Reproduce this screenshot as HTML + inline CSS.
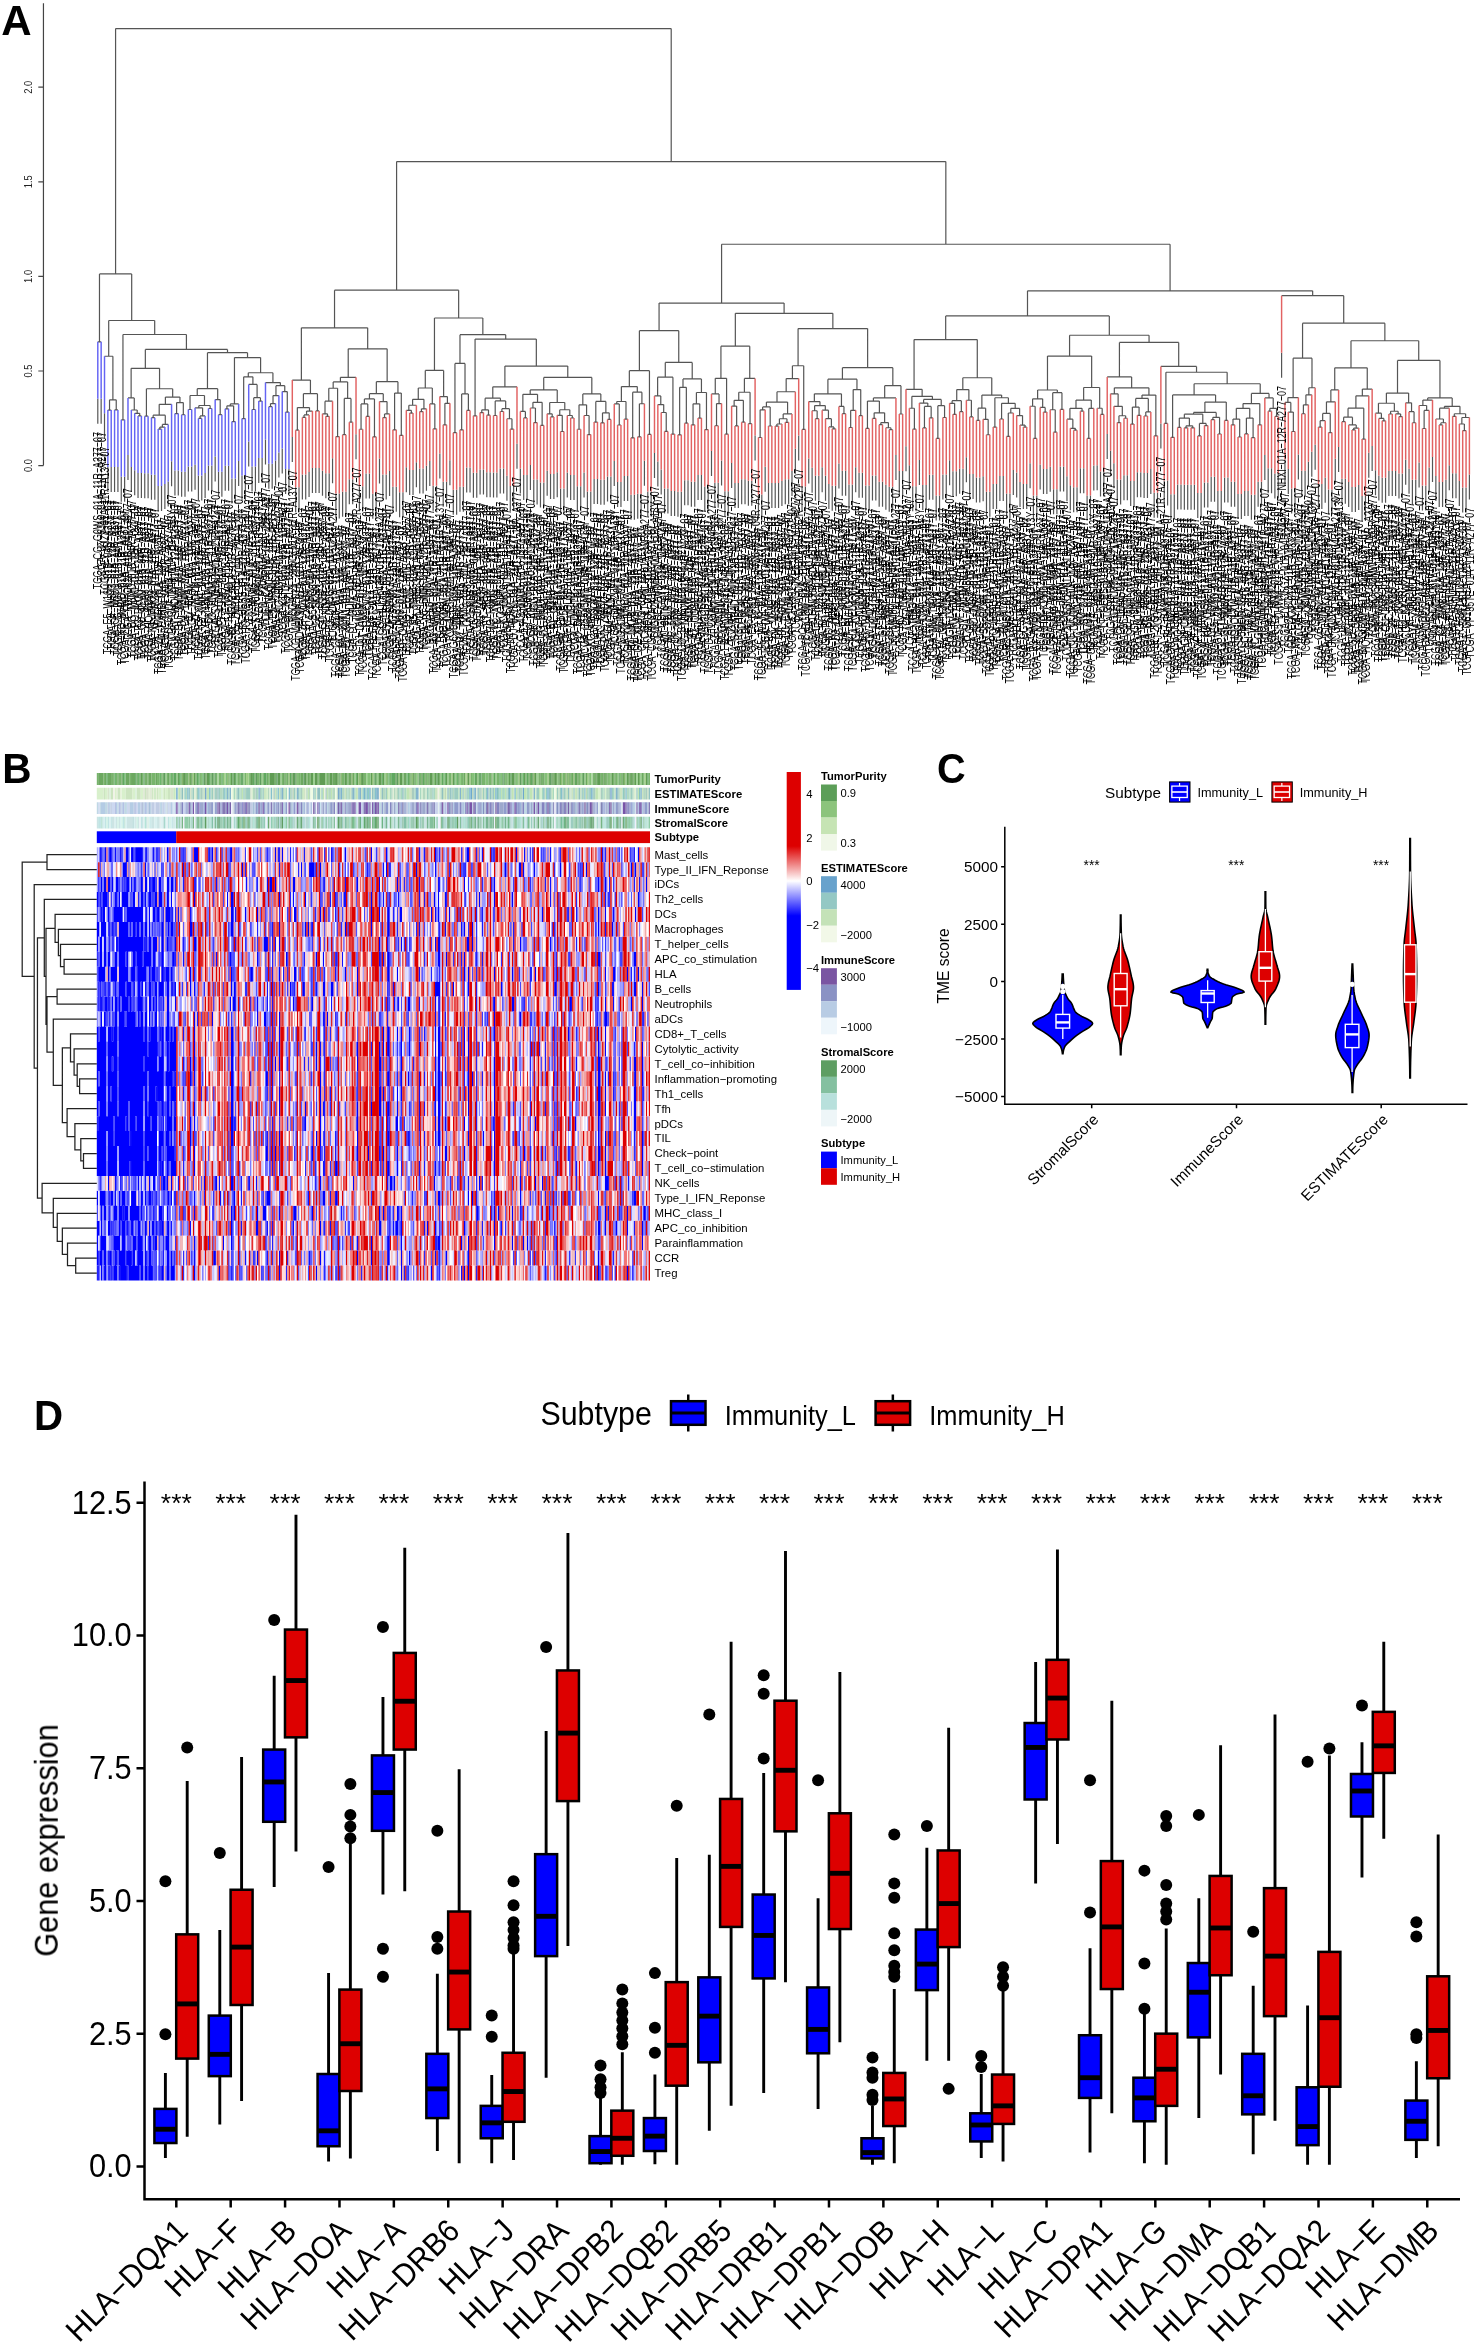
<!DOCTYPE html>
<html><head><meta charset="utf-8"><style>
html,body{margin:0;padding:0;background:#fff;}
svg{display:block;font-family:"Liberation Sans",sans-serif;}
</style></head><body>
<svg width="1474" height="2345" viewBox="0 0 1474 2345"><defs><filter id="gs" x="0" y="0" width="1" height="1" color-interpolation-filters="sRGB"><feColorMatrix type="matrix" values="1 0 0 0 0 0 1 0 0 0 0 0 1 0 0 0 0 0 1 0"/></filter></defs>
<g filter="url(#gs)"><g stroke="#444" stroke-width="1.2" fill="none"><path d="M43.45 3.3V465.6M38.3 465.6H43.45M38.3 371H43.45M38.3 276.4H43.45M38.3 181.8H43.45M38.3 87.2H43.45"/></g>
<g fill="#222">
<text transform="translate(31.8 465.6) rotate(-90) scale(0.9 1)" font-size="10.4" text-anchor="middle">0.0</text>
<text transform="translate(31.8 371) rotate(-90) scale(0.9 1)" font-size="10.4" text-anchor="middle">0.5</text>
<text transform="translate(31.8 276.4) rotate(-90) scale(0.9 1)" font-size="10.4" text-anchor="middle">1.0</text>
<text transform="translate(31.8 181.8) rotate(-90) scale(0.9 1)" font-size="10.4" text-anchor="middle">1.5</text>
<text transform="translate(31.8 87.2) rotate(-90) scale(0.9 1)" font-size="10.4" text-anchor="middle">2.0</text>
</g>
<path d="M97.8 341.86H101.15M107.86 410.12H111.21M114.57 409.97H117.92M109.54 399.81H116.24M109.54 399.81V410.12M116.24 399.81V409.97M104.51 356.24H112.89M112.89 356.24V399.81M121.27 419.78H124.63M138.04 415.96H141.4M134.69 413.35H139.72M139.72 413.35V415.96M131.34 409.99H137.2M137.2 409.99V413.35M127.98 397.92H134.27M134.27 397.92V409.99M144.75 416.21H148.1M151.46 417.67H154.81M158.16 429.03H161.52M159.84 427.11H164.87M159.84 427.11V429.03M162.36 424.44H168.22M162.36 424.44V427.11M153.13 415.15H165.29M153.13 415.15V417.67M165.29 415.15V424.44M159.21 404.33H171.58M159.21 404.33V415.15M174.93 413.6H178.29M181.64 414.73H184.99M176.61 402.57H183.32M176.61 402.57V413.6M183.32 402.57V414.73M165.39 397.11H179.96M165.39 397.11V404.33M179.96 397.11V402.57M146.43 388.77H172.68M146.43 388.77V416.21M172.68 388.77V397.11M131.13 368.35H159.55M131.13 368.35V397.92M159.55 368.35V388.77M188.35 409.49H191.7M198.41 418.43H201.76M200.08 415.94H205.11M200.08 415.94V418.43M195.05 407.83H202.6M202.6 407.83V415.94M208.47 408.51H211.82M198.83 405.51H210.14M198.83 405.51V407.83M210.14 405.51V408.51M190.02 395.48H204.48M190.02 395.48V409.49M204.48 395.48V405.51M218.53 414.65H221.88M215.17 399.56H220.2M220.2 399.56V414.65M197.25 388.67H217.69M197.25 388.67V395.48M217.69 388.67V399.56M225.23 408.78H228.59M231.94 421.59H235.3M226.91 405.79H233.62M226.91 405.79V408.78M233.62 405.79V421.59M230.27 403.91H238.65M230.27 403.91V405.79M242 418.61H245.36M252.06 409.51H255.42M258.77 401.11H262.12M253.74 397.72H260.45M253.74 397.72V409.51M260.45 397.72V401.11M248.71 384.4H257.09M257.09 384.4V397.72M243.68 376.82H252.9M243.68 376.82V418.61M252.9 376.82V384.4M268.83 406.7H272.18M270.51 403.6H275.54M270.51 403.6V406.7M273.02 395.61H278.89M273.02 395.61V403.6M285.6 412.06H288.95M282.24 391.57H287.28M287.28 391.57V412.06M275.96 385.67H284.76M275.96 385.67V395.61M284.76 385.67V391.57M265.48 382.55H280.36M280.36 382.55V385.67M248.29 372.77H272.92M248.29 372.77V376.82M272.92 372.77V382.55M234.46 357.57H260.6M234.46 357.57V403.91M260.6 357.57V372.77M207.47 352.65H247.53M207.47 352.65V388.67M247.53 352.65V357.57M145.34 349.43H227.5M145.34 349.43V368.35M227.5 349.43V352.65M122.95 334.48H186.42M122.95 334.48V419.78M186.42 334.48V349.43M108.7 320.48H154.69M108.7 320.48V356.24M154.69 320.48V334.48M99.48 273.94H131.69M99.48 273.94V341.86M131.69 273.94V320.48M295.66 430.19H299.01M302.37 417.43H305.72M304.04 414.9H309.07M304.04 414.9V417.43M306.56 411.04H312.43M306.56 411.04V414.9M297.34 407.56H309.49M297.34 407.56V430.19M309.49 407.56V411.04M315.78 410.94H319.13M303.41 393.63H317.46M303.41 393.63V407.56M317.46 393.63V410.94M292.31 380.04H310.44M310.44 380.04V393.63M325.84 416.37H329.19M322.49 413.78H327.52M327.52 413.78V416.37M325 401.2H332.55M325 401.2V413.78M335.9 436.56H339.26M328.78 388.24H337.58M328.78 388.24V401.2M337.58 388.24V436.56M342.61 434.69H345.96M349.32 422.22H352.67M344.29 398.47H350.99M344.29 398.47V434.69M350.99 398.47V422.22M333.18 381.92H347.64M333.18 381.92V388.24M347.64 381.92V398.47M340.41 377.31H356.02M340.41 377.31V381.92M359.38 429.27H362.73M366.08 416.44H369.44M361.05 403.97H367.76M361.05 403.97V429.27M367.76 403.97V416.44M372.79 436.8H376.14M364.41 398.93H374.47M364.41 398.93V403.97M374.47 398.93V436.8M382.85 417.56H386.2M384.53 413.92H389.56M384.53 413.92V417.56M379.5 401.54H387.04M387.04 401.54V413.92M369.44 393.7H383.27M369.44 393.7V398.93M383.27 393.7V401.54M392.91 429.78H396.27M399.62 435.33H402.97M394.59 393.04H401.3M394.59 393.04V429.78M401.3 393.04V435.33M376.35 381.64H397.94M376.35 381.64V393.7M397.94 381.64V393.04M348.22 348.86H387.15M348.22 348.86V377.31M387.15 348.86V381.64M301.37 327.86H367.68M301.37 327.86V380.04M367.68 327.86V348.86M409.68 413.12H413.03M406.33 410.36H411.36M411.36 410.36V413.12M408.84 405.25H416.39M408.84 405.25V410.36M419.74 411.62H423.09M421.42 408.78H426.45M421.42 408.78V411.62M412.61 399.35H423.93M412.61 399.35V405.25M423.93 399.35V408.78M433.15 428.86H436.51M429.8 403.94H434.83M434.83 403.94V428.86M418.27 388.02H432.32M418.27 388.02V399.35M432.32 388.02V403.94M443.22 424.86H446.57M444.89 403.35H449.92M444.89 403.35V424.86M439.86 396.59H447.41M447.41 396.59V403.35M425.29 370.38H443.63M425.29 370.38V388.02M443.63 370.38V396.59M453.28 432.71H456.63M459.98 429.81H463.34M466.69 410.44H470.04M461.66 393.96H468.37M461.66 393.96V429.81M468.37 393.96V410.44M454.95 363.43H465.01M454.95 363.43V432.71M465.01 363.43V393.96M473.4 415.78H476.75M480.1 412.58H483.46M486.81 415.22H490.16M481.78 409.79H488.49M481.78 409.79V412.58M488.49 409.79V415.22M493.52 415.49H496.87M500.23 411.48H503.58M510.29 429.11H513.64M506.93 418.75H511.96M511.96 418.75V429.11M501.9 408.64H509.45M501.9 408.64V411.48M509.45 408.64V418.75M495.2 400.95H505.67M495.2 400.95V415.49M505.67 400.95V408.64M485.13 398.22H500.44M485.13 398.22V409.79M500.44 398.22V400.95M492.78 386.78H516.99M492.78 386.78V398.22M523.7 417.94H527.05M520.35 411.42H525.38M525.38 411.42V417.94M533.76 422.59H537.11M530.41 408.01H535.44M535.44 408.01V422.59M540.47 425.44H543.82M532.92 402.34H542.14M532.92 402.34V408.01M542.14 402.34V425.44M522.86 394.28H537.53M522.86 394.28V411.42M537.53 394.28V402.34M550.53 416.97H553.88M547.18 413.87H552.21M552.21 413.87V416.97M560.59 431.52H563.94M557.24 415.3H562.27M562.27 415.3V431.52M570.65 417.99H574M567.3 415.48H572.33M572.33 415.48V417.99M559.75 409.77H569.81M559.75 409.77V415.3M569.81 409.77V415.48M549.69 402.5H564.78M549.69 402.5V413.87M564.78 402.5V409.77M530.2 389.93H557.24M530.2 389.93V394.28M557.24 389.93V402.5M577.36 429.24H580.71M587.42 434.62H590.77M584.06 415.48H589.09M589.09 415.48V434.62M579.03 404.86H586.58M579.03 404.86V429.24M586.58 404.86V415.48M594.12 422.06H597.48M600.83 422.8H604.19M607.54 419.39H610.89M602.51 412.78H609.22M602.51 412.78V422.8M609.22 412.78V419.39M595.8 401.39H605.86M595.8 401.39V422.06M605.86 401.39V412.78M582.81 393.92H600.83M582.81 393.92V404.86M600.83 393.92V401.39M543.72 377.45H591.82M543.72 377.45V389.93M591.82 377.45V393.92M504.89 366.08H567.77M504.89 366.08V386.78M567.77 366.08V377.45M475.07 339.03H536.33M475.07 339.03V415.78M536.33 339.03V366.08M459.98 334.67H505.7M459.98 334.67V363.43M505.7 334.67V339.03M434.46 318.02H482.84M434.46 318.02V370.38M482.84 318.02V334.67M334.53 290.21H458.65M334.53 290.21V327.86M458.65 290.21V318.02M617.6 424.99H620.95M614.25 403.97H619.28M619.28 403.97V424.99M624.31 419.09H627.66M616.76 401.5H625.98M616.76 401.5V403.97M625.98 401.5V419.09M631.01 437.83H634.37M637.72 436.78H641.07M639.4 403.74H644.43M639.4 403.74V436.78M632.69 392.13H641.91M632.69 392.13V437.83M641.91 392.13V403.74M621.37 386.59H637.3M621.37 386.59V401.5M637.3 386.59V392.13M647.78 434.46H651.13M629.34 370.69H649.46M629.34 370.69V386.59M649.46 370.69V434.46M664.55 431.46H667.9M661.2 412.51H666.23M666.23 412.51V431.46M657.84 404.61H663.71M663.71 404.61V412.51M654.49 395.97H660.78M660.78 395.97V404.61M671.26 434.08H674.61M657.63 377.21H672.93M657.63 377.21V395.97M672.93 377.21V434.08M677.96 434.85H681.32M684.67 423.22H688.02M679.64 387.37H686.35M679.64 387.37V434.85M686.35 387.37V423.22M691.38 424.86H694.73M698.08 418.11H701.44M693.05 403.8H699.76M693.05 403.8V424.86M699.76 403.8V418.11M704.79 429.61H708.15M696.41 392.51H706.47M696.41 392.51V403.8M706.47 392.51V429.61M682.99 378.91H701.44M682.99 378.91V387.37M701.44 378.91V392.51M665.28 362.44H692.22M665.28 362.44V377.21M692.22 362.44V378.91M639.4 330.7H678.75M639.4 330.7V370.69M678.75 330.7V362.44M714.85 425.74H718.21M716.53 403.57H721.56M716.53 403.57V425.74M711.5 393.91H719.04M719.04 393.91V403.57M724.91 434.22H728.27M715.27 378.29H726.59M715.27 378.29V393.91M726.59 378.29V434.22M734.97 425.91H738.33M731.62 406.08H736.65M736.65 406.08V425.91M741.68 422.15H745.03M734.14 400.35H743.36M734.14 400.35V406.08M743.36 400.35V422.15M748.39 423.69H751.74M738.75 392.26H750.06M738.75 392.26V400.35M750.06 392.26V423.69M744.41 378.46H755.09M744.41 378.46V392.26M720.93 346.21H749.75M720.93 346.21V378.29M749.75 346.21V378.46M758.45 437.48H761.8M760.13 409.85H765.16M760.13 409.85V437.48M768.51 426.01H771.86M762.64 406.92H770.19M762.64 406.92V409.85M770.19 406.92V426.01M775.22 426.08H778.57M776.89 424H781.92M776.89 424V426.08M785.28 422.34H788.63M779.41 418.73H786.95M779.41 418.73V424M786.95 418.73V422.34M783.18 413.89H791.98M783.18 413.89V418.73M766.41 402.1H787.58M766.41 402.1V406.92M787.58 402.1V413.89M777 391.76H795.34M777 391.76V402.1M786.17 378.6H798.69M786.17 378.6V391.76M802.04 429.38H805.4M792.43 365.77H803.72M792.43 365.77V378.6M803.72 365.77V429.38M815.46 418.69H818.81M812.11 410.76H817.14M817.14 410.76V418.69M832.23 428.87H835.58M828.87 426.94H833.9M833.9 426.94V428.87M825.52 418.67H831.39M831.39 418.67V426.94M822.17 410.18H828.45M828.45 410.18V418.67M814.62 405.59H825.31M814.62 405.59V410.76M825.31 405.59V410.18M808.75 401.55H819.97M819.97 401.55V405.59M842.29 413.67H845.64M838.93 406.47H843.96M843.96 406.47V413.67M814.36 393.87H841.45M814.36 393.87V401.55M841.45 393.87V406.47M848.99 427.51H852.35M850.67 410.35H855.7M850.67 410.35V427.51M859.05 415.67H862.41M853.19 389.62H860.73M853.19 389.62V410.35M860.73 389.62V415.67M827.9 379.22H856.96M827.9 379.22V393.87M856.96 379.22V389.62M865.76 428.46H869.12M872.47 418.43H875.82M879.18 424.7H882.53M889.24 429.64H892.59M885.88 427.74H890.91M890.91 427.74V429.64M880.85 422.54H888.4M880.85 422.54V424.7M888.4 422.54V427.74M874.15 412.79H884.63M874.15 412.79V418.43M884.63 412.79V422.54M867.44 401.03H879.39M867.44 401.03V428.46M879.39 401.03V412.79M873.41 397.94H895.94M873.41 397.94V401.03M899.3 414.02H902.65M884.68 385.68H900.97M884.68 385.68V397.94M900.97 385.68V414.02M842.43 367.64H892.83M842.43 367.64V379.22M892.83 367.64V385.68M798.08 328.62H867.63M798.08 328.62V365.77M867.63 328.62V367.64M735.34 313.29H832.85M735.34 313.29V346.21M832.85 313.29V328.62M659.07 303.08H784.1M659.07 303.08V330.7M784.1 303.08V313.29M912.71 429.21H916.07M909.36 408.27H914.39M914.39 408.27V429.21M922.77 427.96H926.13M929.48 417.79H932.83M924.45 406.43H931.16M924.45 406.43V427.96M931.16 406.43V417.79M919.42 403.08H927.8M927.8 403.08V406.43M936.19 438.42H939.54M942.89 417.52H946.25M937.86 405.68H944.57M937.86 405.68V438.42M944.57 405.68V417.52M923.61 399.47H941.22M923.61 399.47V403.08M941.22 399.47V405.68M911.87 396.37H932.41M911.87 396.37V408.27M932.41 396.37V399.47M906 389.35H922.14M922.14 389.35V396.37M952.95 414.29H956.31M949.6 403.37H954.63M954.63 403.37V414.29M959.66 411.72H963.01M952.12 400.66H961.34M952.12 400.66V403.37M961.34 400.66V411.72M969.72 416.97H973.08M966.37 400.27H971.4M971.4 400.27V416.97M956.73 389.54H968.88M956.73 389.54V400.66M968.88 389.54V400.27M976.43 420.38H979.78M986.49 434.74H989.84M983.14 419.35H988.17M988.17 419.35V434.74M978.11 408.19H985.65M978.11 408.19V420.38M985.65 408.19V419.35M993.2 427.07H996.55M999.9 419.01H1003.26M1006.61 436.47H1009.96M1008.29 412.99H1013.32M1008.29 412.99V436.47M1023.38 427.1H1026.73M1020.02 425.08H1025.06M1025.06 425.08V427.1M1016.67 415.6H1022.54M1022.54 415.6V425.08M1010.8 408.34H1019.61M1010.8 408.34V412.99M1019.61 408.34V415.6M1001.58 403.28H1015.2M1001.58 403.28V419.01M1015.2 403.28V408.34M994.87 397.74H1008.39M994.87 397.74V427.07M1008.39 397.74V403.28M981.88 395.04H1001.63M981.88 395.04V408.19M1001.63 395.04V397.74M962.81 377.73H991.76M962.81 377.73V389.54M991.76 377.73V395.04M914.07 339.59H977.28M914.07 339.59V389.35M977.28 339.59V377.73M1033.44 438.47H1036.79M1030.09 406.24H1035.12M1035.12 406.24V438.47M1043.5 412.11H1046.85M1040.15 407.44H1045.18M1045.18 407.44V412.11M1032.6 398.85H1042.66M1032.6 398.85V406.24M1042.66 398.85V407.44M1053.56 432.19H1056.91M1050.21 409.74H1055.24M1055.24 409.74V432.19M1060.27 409.41H1063.62M1052.72 392.68H1061.94M1052.72 392.68V409.74M1061.94 392.68V409.41M1037.63 390H1057.33M1037.63 390V398.85M1057.33 390V392.68M1073.68 430.21H1077.04M1070.33 428.35H1075.36M1075.36 428.35V430.21M1066.97 419.13H1072.84M1072.84 419.13V428.35M1080.39 411.16H1083.74M1069.91 408.3H1082.07M1069.91 408.3V419.13M1082.07 408.3V411.16M1087.1 438.41H1090.45M1088.77 408.45H1093.8M1088.77 408.45V438.41M1075.99 400.04H1091.29M1075.99 400.04V408.3M1091.29 400.04V408.45M1100.51 414.38H1103.86M1097.16 408.24H1102.19M1102.19 408.24V414.38M1083.64 387.49H1099.67M1083.64 387.49V400.04M1099.67 387.49V408.24M1047.48 356.05H1091.65M1047.48 356.05V390M1091.65 356.05V387.49M1117.28 422.56H1120.63M1123.98 418.24H1127.34M1118.95 415.75H1125.66M1118.95 415.75V422.56M1125.66 415.75V418.24M1113.92 406.34H1122.31M1122.31 406.34V415.75M1110.57 393.78H1118.12M1118.12 393.78V406.34M1130.69 424.05H1134.05M1137.4 415.36H1140.75M1132.37 407.09H1139.08M1132.37 407.09V424.05M1139.08 407.09V415.36M1144.11 416H1147.46M1145.78 411.9H1150.81M1145.78 411.9V416M1135.72 398.41H1148.3M1135.72 398.41V407.09M1148.3 398.41V411.9M1154.17 435.78H1157.52M1142.01 395.07H1155.84M1142.01 395.07V398.41M1155.84 395.07V435.78M1114.34 387.8H1148.93M1114.34 387.8V393.78M1148.93 387.8V395.07M1107.22 376.93H1131.64M1131.64 376.93V387.8M1164.23 423.42H1167.58M1170.93 437.35H1174.29M1177.64 427.39H1181M1184.35 427.81H1187.7M1191.06 427.81H1194.41M1186.03 425.82H1192.73M1186.03 425.82V427.81M1192.73 425.82V427.81M1179.32 418.06H1189.38M1179.32 418.06V427.39M1189.38 418.06V425.82M1197.76 435.96H1201.12M1204.47 425.55H1207.82M1199.44 423.44H1206.15M1199.44 423.44V435.96M1206.15 423.44V425.55M1184.35 414.2H1202.79M1184.35 414.2V418.06M1202.79 414.2V423.44M1211.18 419.72H1214.53M1217.88 433.99H1221.24M1212.85 417.3H1219.56M1212.85 417.3V419.72M1219.56 417.3V433.99M1193.57 412.4H1216.21M1193.57 412.4V414.2M1216.21 412.4V417.3M1224.59 420.43H1227.94M1204.89 402.09H1226.27M1204.89 402.09V412.4M1226.27 402.09V420.43M1172.61 394.96H1215.58M1172.61 394.96V437.35M1215.58 394.96V402.09M1231.3 424.81H1234.65M1238.01 436.99H1241.36M1232.98 419.05H1239.68M1232.98 419.05V424.81M1239.68 419.05V436.99M1244.71 433.92H1248.07M1251.42 437.71H1254.77M1246.39 418.11H1253.1M1246.39 418.11V433.92M1253.1 418.11V437.71M1236.33 408.32H1249.74M1236.33 408.32V419.05M1249.74 408.32V418.11M1258.13 424.84H1261.48M1243.04 403.58H1259.8M1243.04 403.58V408.32M1259.8 403.58V424.84M1268.19 411.15H1271.54M1274.89 416.38H1278.25M1269.86 408.29H1276.57M1269.86 408.29V411.15M1276.57 408.29V416.38M1264.83 397.88H1273.22M1273.22 397.88V408.29M1251.42 393.4H1269.03M1251.42 393.4V403.58M1269.03 393.4V397.88M1194.09 383.77H1260.22M1194.09 383.77V394.96M1260.22 383.77V393.4M1165.9 372.24H1227.16M1165.9 372.24V423.42M1227.16 372.24V383.77M1160.87 366.39H1196.53M1196.53 366.39V372.24M1119.43 342.43H1178.7M1119.43 342.43V376.93M1178.7 342.43V366.39M1069.57 335.24H1149.06M1069.57 335.24V356.05M1149.06 335.24V342.43M945.68 315.94H1109.32M945.68 315.94V339.59M1109.32 315.94V335.24M1291.66 431.51H1295.02M1288.31 412.04H1293.34M1293.34 412.04V431.51M1284.96 402.39H1290.82M1290.82 402.39V412.04M1287.89 397.54H1298.37M1287.89 397.54V402.39M1301.72 413.73H1305.08M1303.4 404.81H1308.43M1303.4 404.81V413.73M1305.91 394.85H1311.78M1305.91 394.85V404.81M1308.85 387.77H1315.14M1308.85 387.77V394.85M1293.13 358.13H1311.99M1293.13 358.13V397.54M1311.99 358.13V387.77M1318.49 427.07H1321.84M1320.17 420.65H1325.2M1320.17 420.65V427.07M1328.55 432.56H1331.9M1322.68 413.42H1330.23M1322.68 413.42V420.65M1330.23 413.42V432.56M1326.46 401.79H1335.26M1326.46 401.79V413.42M1330.86 389.96H1338.61M1330.86 389.96V401.79M1341.97 421.72H1345.32M1352.03 429.91H1355.38M1353.7 428.03H1358.73M1353.7 428.03V429.91M1348.67 424.94H1356.22M1356.22 424.94V428.03M1343.64 417.18H1352.45M1343.64 417.18V421.72M1352.45 417.18V424.94M1362.09 439.11H1365.44M1348.04 408.22H1363.76M1348.04 408.22V417.18M1363.76 408.22V439.11M1355.9 395.81H1368.79M1355.9 395.81V408.22M1362.35 389.05H1372.15M1362.35 389.05V395.81M1334.73 367.78H1367.25M1334.73 367.78V389.96M1367.25 367.78V389.05M1382.21 420.8H1385.56M1378.85 418.44H1383.88M1383.88 418.44V420.8M1375.5 413.17H1381.37M1381.37 413.17V418.44M1388.91 413.98H1392.27M1398.98 416.55H1402.33M1395.62 413.97H1400.65M1400.65 413.97V416.55M1390.59 411.27H1398.14M1390.59 411.27V413.98M1398.14 411.27V413.97M1378.44 403.26H1394.36M1378.44 403.26V413.17M1394.36 403.26V411.27M1412.39 422.75H1415.74M1409.04 411.69H1414.07M1414.07 411.69V422.75M1405.68 402.78H1411.55M1411.55 402.78V411.69M1386.4 393.11H1408.62M1386.4 393.11V403.26M1408.62 393.11V402.78M1422.45 428.52H1425.8M1424.13 410.38H1429.16M1424.13 410.38V428.52M1419.1 405.48H1426.64M1426.64 405.48V410.38M1422.87 400.06H1432.51M1422.87 400.06V405.48M1439.22 424.88H1442.57M1440.89 422.74H1445.93M1440.89 422.74V424.88M1435.86 419H1443.41M1443.41 419V422.74M1439.64 408.14H1449.28M1439.64 408.14V419M1452.63 416.34H1455.99M1462.69 430.58H1466.05M1459.34 424H1464.37M1464.37 424V430.58M1461.85 417.52H1469.4M1461.85 417.52V424M1454.31 413.75H1465.63M1454.31 413.75V416.34M1465.63 413.75V417.52M1444.46 406.28H1459.97M1444.46 406.28V408.14M1459.97 406.28V413.75M1427.69 397.9H1452.21M1427.69 397.9V400.06M1452.21 397.9V406.28M1397.51 360.4H1439.95M1397.51 360.4V393.11M1439.95 360.4V397.9M1350.99 340.73H1418.73M1350.99 340.73V367.78M1418.73 340.73V360.4M1302.56 323.13H1384.86M1302.56 323.13V358.13M1384.86 323.13V340.73M1281.6 295.7H1343.71M1343.71 295.7V323.13M1027.5 290.78H1312.66M1027.5 290.78V315.94M1312.66 290.78V295.7M721.58 244.24H1170.08M721.58 244.24V303.08M1170.08 244.24V290.78M396.59 161.56H945.83M396.59 161.56V290.21M945.83 161.56V244.24M115.58 28.55H671.21M115.58 28.55V273.94M671.21 28.55V161.56M97.8 398.86V423.86M101.15 398.86V423.86M107.86 467.12V492.12M111.21 467.12V492.12M114.57 466.97V491.97M117.92 466.97V491.97M104.51 413.24V438.24M121.27 476.78V501.78M124.63 476.78V501.78M138.04 472.96V497.96M141.4 472.96V497.96M134.69 470.35V495.35M131.34 466.99V491.99M127.98 454.92V479.92M144.75 473.21V498.21M148.1 473.21V498.21M151.46 474.67V499.67M154.81 474.67V499.67M158.16 486.03V511.03M161.52 486.03V511.03M164.87 484.11V509.11M168.22 481.44V506.44M171.58 461.33V486.33M174.93 470.6V495.6M178.29 470.6V495.6M181.64 471.73V496.73M184.99 471.73V496.73M188.35 466.49V491.49M191.7 466.49V491.49M198.41 475.43V500.43M201.76 475.43V500.43M205.11 472.94V497.94M195.05 464.83V489.83M208.47 465.51V490.51M211.82 465.51V490.51M218.53 471.65V496.65M221.88 471.65V496.65M215.17 456.56V481.56M225.23 465.78V490.78M228.59 465.78V490.78M231.94 478.59V503.59M235.3 478.59V503.59M238.65 460.91V485.91M242 475.61V500.61M245.36 475.61V500.61M252.06 466.51V491.51M255.42 466.51V491.51M258.77 458.11V483.11M262.12 458.11V483.11M248.71 441.4V466.4M268.83 463.7V488.7M272.18 463.7V488.7M275.54 460.6V485.6M278.89 452.61V477.61M285.6 469.06V494.06M288.95 469.06V494.06M282.24 448.57V473.57M265.48 439.55V464.55M295.66 487.19V512.19M299.01 487.19V512.19M302.37 474.43V499.43M305.72 474.43V499.43M309.07 471.9V496.9M312.43 468.04V493.04M315.78 467.94V492.94M319.13 467.94V492.94M292.31 437.04V462.04M325.84 473.37V498.37M329.19 473.37V498.37M322.49 470.78V495.78M332.55 458.2V483.2M335.9 493.56V518.56M339.26 493.56V518.56M342.61 491.69V516.69M345.96 491.69V516.69M349.32 479.22V504.22M352.67 479.22V504.22M356.02 434.31V459.31M359.38 486.27V511.27M362.73 486.27V511.27M366.08 473.44V498.44M369.44 473.44V498.44M372.79 493.8V518.8M376.14 493.8V518.8M382.85 474.56V499.56M386.2 474.56V499.56M389.56 470.92V495.92M379.5 458.54V483.54M392.91 486.78V511.78M396.27 486.78V511.78M399.62 492.33V517.33M402.97 492.33V517.33M409.68 470.12V495.12M413.03 470.12V495.12M406.33 467.36V492.36M416.39 462.25V487.25M419.74 468.62V493.62M423.09 468.62V493.62M426.45 465.78V490.78M433.15 485.86V510.86M436.51 485.86V510.86M429.8 460.94V485.94M443.22 481.86V506.86M446.57 481.86V506.86M449.92 460.35V485.35M439.86 453.59V478.59M453.28 489.71V514.71M456.63 489.71V514.71M459.98 486.81V511.81M463.34 486.81V511.81M466.69 467.44V492.44M470.04 467.44V492.44M473.4 472.78V497.78M476.75 472.78V497.78M480.1 469.58V494.58M483.46 469.58V494.58M486.81 472.22V497.22M490.16 472.22V497.22M493.52 472.49V497.49M496.87 472.49V497.49M500.23 468.48V493.48M503.58 468.48V493.48M510.29 486.11V511.11M513.64 486.11V511.11M506.93 475.75V500.75M516.99 443.78V468.78M523.7 474.94V499.94M527.05 474.94V499.94M520.35 468.42V493.42M533.76 479.59V504.59M537.11 479.59V504.59M530.41 465.01V490.01M540.47 482.44V507.44M543.82 482.44V507.44M550.53 473.97V498.97M553.88 473.97V498.97M547.18 470.87V495.87M560.59 488.52V513.52M563.94 488.52V513.52M557.24 472.3V497.3M570.65 474.99V499.99M574 474.99V499.99M567.3 472.48V497.48M577.36 486.24V511.24M580.71 486.24V511.24M587.42 491.62V516.62M590.77 491.62V516.62M584.06 472.48V497.48M594.12 479.06V504.06M597.48 479.06V504.06M600.83 479.8V504.8M604.19 479.8V504.8M607.54 476.39V501.39M610.89 476.39V501.39M617.6 481.99V506.99M620.95 481.99V506.99M614.25 460.97V485.97M624.31 476.09V501.09M627.66 476.09V501.09M631.01 494.83V519.83M634.37 494.83V519.83M637.72 493.78V518.78M641.07 493.78V518.78M644.43 460.74V485.74M647.78 491.46V516.46M651.13 491.46V516.46M664.55 488.46V513.46M667.9 488.46V513.46M661.2 469.51V494.51M657.84 461.61V486.61M654.49 452.97V477.97M671.26 491.08V516.08M674.61 491.08V516.08M677.96 491.85V516.85M681.32 491.85V516.85M684.67 480.22V505.22M688.02 480.22V505.22M691.38 481.86V506.86M694.73 481.86V506.86M698.08 475.11V500.11M701.44 475.11V500.11M704.79 486.61V511.61M708.15 486.61V511.61M714.85 482.74V507.74M718.21 482.74V507.74M721.56 460.57V485.57M711.5 450.91V475.91M724.91 491.22V516.22M728.27 491.22V516.22M734.97 482.91V507.91M738.33 482.91V507.91M731.62 463.08V488.08M741.68 479.15V504.15M745.03 479.15V504.15M748.39 480.69V505.69M751.74 480.69V505.69M755.09 435.46V460.46M758.45 494.48V519.48M761.8 494.48V519.48M765.16 466.85V491.85M768.51 483.01V508.01M771.86 483.01V508.01M775.22 483.08V508.08M778.57 483.08V508.08M781.92 481V506M785.28 479.34V504.34M788.63 479.34V504.34M791.98 470.89V495.89M795.34 448.76V473.76M798.69 435.6V460.6M802.04 486.38V511.38M805.4 486.38V511.38M815.46 475.69V500.69M818.81 475.69V500.69M812.11 467.76V492.76M832.23 485.87V510.87M835.58 485.87V510.87M828.87 483.94V508.94M825.52 475.67V500.67M822.17 467.18V492.18M808.75 458.55V483.55M842.29 470.67V495.67M845.64 470.67V495.67M838.93 463.47V488.47M848.99 484.51V509.51M852.35 484.51V509.51M855.7 467.35V492.35M859.05 472.67V497.67M862.41 472.67V497.67M865.76 485.46V510.46M869.12 485.46V510.46M872.47 475.43V500.43M875.82 475.43V500.43M879.18 481.7V506.7M882.53 481.7V506.7M889.24 486.64V511.64M892.59 486.64V511.64M885.88 484.74V509.74M895.94 454.94V479.94M899.3 471.02V496.02M902.65 471.02V496.02M912.71 486.21V511.21M916.07 486.21V511.21M909.36 465.27V490.27M922.77 484.96V509.96M926.13 484.96V509.96M929.48 474.79V499.79M932.83 474.79V499.79M919.42 460.08V485.08M936.19 495.42V520.42M939.54 495.42V520.42M942.89 474.52V499.52M946.25 474.52V499.52M906 446.35V471.35M952.95 471.29V496.29M956.31 471.29V496.29M949.6 460.37V485.37M959.66 468.72V493.72M963.01 468.72V493.72M969.72 473.97V498.97M973.08 473.97V498.97M966.37 457.27V482.27M976.43 477.38V502.38M979.78 477.38V502.38M986.49 491.74V516.74M989.84 491.74V516.74M983.14 476.35V501.35M993.2 484.07V509.07M996.55 484.07V509.07M999.9 476.01V501.01M1003.26 476.01V501.01M1006.61 493.47V518.47M1009.96 493.47V518.47M1013.32 469.99V494.99M1023.38 484.1V509.1M1026.73 484.1V509.1M1020.02 482.08V507.08M1016.67 472.6V497.6M1033.44 495.47V520.47M1036.79 495.47V520.47M1030.09 463.24V488.24M1043.5 469.11V494.11M1046.85 469.11V494.11M1040.15 464.44V489.44M1053.56 489.19V514.19M1056.91 489.19V514.19M1050.21 466.74V491.74M1060.27 466.41V491.41M1063.62 466.41V491.41M1073.68 487.21V512.21M1077.04 487.21V512.21M1070.33 485.35V510.35M1066.97 476.13V501.13M1080.39 468.16V493.16M1083.74 468.16V493.16M1087.1 495.41V520.41M1090.45 495.41V520.41M1093.8 465.45V490.45M1100.51 471.38V496.38M1103.86 471.38V496.38M1097.16 465.24V490.24M1117.28 479.56V504.56M1120.63 479.56V504.56M1123.98 475.24V500.24M1127.34 475.24V500.24M1113.92 463.34V488.34M1110.57 450.78V475.78M1130.69 481.05V506.05M1134.05 481.05V506.05M1137.4 472.36V497.36M1140.75 472.36V497.36M1144.11 473V498M1147.46 473V498M1150.81 468.9V493.9M1154.17 492.78V517.78M1157.52 492.78V517.78M1107.22 433.93V458.93M1164.23 480.42V505.42M1167.58 480.42V505.42M1170.93 494.35V519.35M1174.29 494.35V519.35M1177.64 484.39V509.39M1181 484.39V509.39M1184.35 484.81V509.81M1187.7 484.81V509.81M1191.06 484.81V509.81M1194.41 484.81V509.81M1197.76 492.96V517.96M1201.12 492.96V517.96M1204.47 482.55V507.55M1207.82 482.55V507.55M1211.18 476.72V501.72M1214.53 476.72V501.72M1217.88 490.99V515.99M1221.24 490.99V515.99M1224.59 477.43V502.43M1227.94 477.43V502.43M1231.3 481.81V506.81M1234.65 481.81V506.81M1238.01 493.99V518.99M1241.36 493.99V518.99M1244.71 490.92V515.92M1248.07 490.92V515.92M1251.42 494.71V519.71M1254.77 494.71V519.71M1258.13 481.84V506.84M1261.48 481.84V506.84M1268.19 468.15V493.15M1271.54 468.15V493.15M1274.89 473.38V498.38M1278.25 473.38V498.38M1264.83 454.88V479.88M1160.87 423.39V448.39M1291.66 488.51V513.51M1295.02 488.51V513.51M1288.31 469.04V494.04M1284.96 459.39V484.39M1298.37 454.54V479.54M1301.72 470.73V495.73M1305.08 470.73V495.73M1308.43 461.81V486.81M1311.78 451.85V476.85M1315.14 444.77V469.77M1318.49 484.07V509.07M1321.84 484.07V509.07M1325.2 477.65V502.65M1328.55 489.56V514.56M1331.9 489.56V514.56M1335.26 458.79V483.79M1338.61 446.96V471.96M1341.97 478.72V503.72M1345.32 478.72V503.72M1352.03 486.91V511.91M1355.38 486.91V511.91M1358.73 485.03V510.03M1348.67 481.94V506.94M1362.09 496.11V521.11M1365.44 496.11V521.11M1368.79 452.81V477.81M1372.15 446.05V471.05M1382.21 477.8V502.8M1385.56 477.8V502.8M1378.85 475.44V500.44M1375.5 470.17V495.17M1388.91 470.98V495.98M1392.27 470.98V495.98M1398.98 473.55V498.55M1402.33 473.55V498.55M1395.62 470.97V495.97M1412.39 479.75V504.75M1415.74 479.75V504.75M1409.04 468.69V493.69M1405.68 459.78V484.78M1422.45 485.52V510.52M1425.8 485.52V510.52M1429.16 467.38V492.38M1419.1 462.48V487.48M1432.51 457.06V482.06M1439.22 481.88V506.88M1442.57 481.88V506.88M1445.93 479.74V504.74M1435.86 476V501M1449.28 465.14V490.14M1452.63 473.34V498.34M1455.99 473.34V498.34M1462.69 487.58V512.58M1466.05 487.58V512.58M1459.34 481V506M1469.4 474.52V499.52M1281.6 352.7V377.7" fill="none" stroke="#555" stroke-width="1.2"/>
<path d="M97.8 341.86V398.86M101.15 341.86V398.86M107.86 410.12V467.12M111.21 410.12V467.12M114.57 409.97V466.97M117.92 409.97V466.97M104.51 356.24V413.24M121.27 419.78V476.78M124.63 419.78V476.78M138.04 415.96V472.96M141.4 415.96V472.96M134.69 413.35V470.35M131.34 409.99V466.99M127.98 397.92V454.92M144.75 416.21V473.21M148.1 416.21V473.21M151.46 417.67V474.67M154.81 417.67V474.67M158.16 429.03V486.03M161.52 429.03V486.03M164.87 427.11V484.11M168.22 424.44V481.44M171.58 404.33V461.33M174.93 413.6V470.6M178.29 413.6V470.6M181.64 414.73V471.73M184.99 414.73V471.73M188.35 409.49V466.49M191.7 409.49V466.49M198.41 418.43V475.43M201.76 418.43V475.43M205.11 415.94V472.94M195.05 407.83V464.83M208.47 408.51V465.51M211.82 408.51V465.51M218.53 414.65V471.65M221.88 414.65V471.65M215.17 399.56V456.56M225.23 408.78V465.78M228.59 408.78V465.78M231.94 421.59V478.59M235.3 421.59V478.59M238.65 403.91V460.91M242 418.61V475.61M245.36 418.61V475.61M252.06 409.51V466.51M255.42 409.51V466.51M258.77 401.11V458.11M262.12 401.11V458.11M248.71 384.4V441.4M268.83 406.7V463.7M272.18 406.7V463.7M275.54 403.6V460.6M278.89 395.61V452.61M285.6 412.06V469.06M288.95 412.06V469.06M282.24 391.57V448.57M265.48 382.55V439.55" fill="none" stroke="#6464f4" stroke-width="1.45"/>
<path d="M295.66 430.19V487.19M299.01 430.19V487.19M302.37 417.43V474.43M305.72 417.43V474.43M309.07 414.9V471.9M312.43 411.04V468.04M315.78 410.94V467.94M319.13 410.94V467.94M292.31 380.04V437.04M325.84 416.37V473.37M329.19 416.37V473.37M322.49 413.78V470.78M332.55 401.2V458.2M335.9 436.56V493.56M339.26 436.56V493.56M342.61 434.69V491.69M345.96 434.69V491.69M349.32 422.22V479.22M352.67 422.22V479.22M356.02 377.31V434.31M359.38 429.27V486.27M362.73 429.27V486.27M366.08 416.44V473.44M369.44 416.44V473.44M372.79 436.8V493.8M376.14 436.8V493.8M382.85 417.56V474.56M386.2 417.56V474.56M389.56 413.92V470.92M379.5 401.54V458.54M392.91 429.78V486.78M396.27 429.78V486.78M399.62 435.33V492.33M402.97 435.33V492.33M409.68 413.12V470.12M413.03 413.12V470.12M406.33 410.36V467.36M416.39 405.25V462.25M419.74 411.62V468.62M423.09 411.62V468.62M426.45 408.78V465.78M433.15 428.86V485.86M436.51 428.86V485.86M429.8 403.94V460.94M443.22 424.86V481.86M446.57 424.86V481.86M449.92 403.35V460.35M439.86 396.59V453.59M453.28 432.71V489.71M456.63 432.71V489.71M459.98 429.81V486.81M463.34 429.81V486.81M466.69 410.44V467.44M470.04 410.44V467.44M473.4 415.78V472.78M476.75 415.78V472.78M480.1 412.58V469.58M483.46 412.58V469.58M486.81 415.22V472.22M490.16 415.22V472.22M493.52 415.49V472.49M496.87 415.49V472.49M500.23 411.48V468.48M503.58 411.48V468.48M510.29 429.11V486.11M513.64 429.11V486.11M506.93 418.75V475.75M516.99 386.78V443.78M523.7 417.94V474.94M527.05 417.94V474.94M520.35 411.42V468.42M533.76 422.59V479.59M537.11 422.59V479.59M530.41 408.01V465.01M540.47 425.44V482.44M543.82 425.44V482.44M550.53 416.97V473.97M553.88 416.97V473.97M547.18 413.87V470.87M560.59 431.52V488.52M563.94 431.52V488.52M557.24 415.3V472.3M570.65 417.99V474.99M574 417.99V474.99M567.3 415.48V472.48M577.36 429.24V486.24M580.71 429.24V486.24M587.42 434.62V491.62M590.77 434.62V491.62M584.06 415.48V472.48M594.12 422.06V479.06M597.48 422.06V479.06M600.83 422.8V479.8M604.19 422.8V479.8M607.54 419.39V476.39M610.89 419.39V476.39M617.6 424.99V481.99M620.95 424.99V481.99M614.25 403.97V460.97M624.31 419.09V476.09M627.66 419.09V476.09M631.01 437.83V494.83M634.37 437.83V494.83M637.72 436.78V493.78M641.07 436.78V493.78M644.43 403.74V460.74M647.78 434.46V491.46M651.13 434.46V491.46M664.55 431.46V488.46M667.9 431.46V488.46M661.2 412.51V469.51M657.84 404.61V461.61M654.49 395.97V452.97M671.26 434.08V491.08M674.61 434.08V491.08M677.96 434.85V491.85M681.32 434.85V491.85M684.67 423.22V480.22M688.02 423.22V480.22M691.38 424.86V481.86M694.73 424.86V481.86M698.08 418.11V475.11M701.44 418.11V475.11M704.79 429.61V486.61M708.15 429.61V486.61M714.85 425.74V482.74M718.21 425.74V482.74M721.56 403.57V460.57M711.5 393.91V450.91M724.91 434.22V491.22M728.27 434.22V491.22M734.97 425.91V482.91M738.33 425.91V482.91M731.62 406.08V463.08M741.68 422.15V479.15M745.03 422.15V479.15M748.39 423.69V480.69M751.74 423.69V480.69M755.09 378.46V435.46M758.45 437.48V494.48M761.8 437.48V494.48M765.16 409.85V466.85M768.51 426.01V483.01M771.86 426.01V483.01M775.22 426.08V483.08M778.57 426.08V483.08M781.92 424V481M785.28 422.34V479.34M788.63 422.34V479.34M791.98 413.89V470.89M795.34 391.76V448.76M798.69 378.6V435.6M802.04 429.38V486.38M805.4 429.38V486.38M815.46 418.69V475.69M818.81 418.69V475.69M812.11 410.76V467.76M832.23 428.87V485.87M835.58 428.87V485.87M828.87 426.94V483.94M825.52 418.67V475.67M822.17 410.18V467.18M808.75 401.55V458.55M842.29 413.67V470.67M845.64 413.67V470.67M838.93 406.47V463.47M848.99 427.51V484.51M852.35 427.51V484.51M855.7 410.35V467.35M859.05 415.67V472.67M862.41 415.67V472.67M865.76 428.46V485.46M869.12 428.46V485.46M872.47 418.43V475.43M875.82 418.43V475.43M879.18 424.7V481.7M882.53 424.7V481.7M889.24 429.64V486.64M892.59 429.64V486.64M885.88 427.74V484.74M895.94 397.94V454.94M899.3 414.02V471.02M902.65 414.02V471.02M912.71 429.21V486.21M916.07 429.21V486.21M909.36 408.27V465.27M922.77 427.96V484.96M926.13 427.96V484.96M929.48 417.79V474.79M932.83 417.79V474.79M919.42 403.08V460.08M936.19 438.42V495.42M939.54 438.42V495.42M942.89 417.52V474.52M946.25 417.52V474.52M906 389.35V446.35M952.95 414.29V471.29M956.31 414.29V471.29M949.6 403.37V460.37M959.66 411.72V468.72M963.01 411.72V468.72M969.72 416.97V473.97M973.08 416.97V473.97M966.37 400.27V457.27M976.43 420.38V477.38M979.78 420.38V477.38M986.49 434.74V491.74M989.84 434.74V491.74M983.14 419.35V476.35M993.2 427.07V484.07M996.55 427.07V484.07M999.9 419.01V476.01M1003.26 419.01V476.01M1006.61 436.47V493.47M1009.96 436.47V493.47M1013.32 412.99V469.99M1023.38 427.1V484.1M1026.73 427.1V484.1M1020.02 425.08V482.08M1016.67 415.6V472.6M1033.44 438.47V495.47M1036.79 438.47V495.47M1030.09 406.24V463.24M1043.5 412.11V469.11M1046.85 412.11V469.11M1040.15 407.44V464.44M1053.56 432.19V489.19M1056.91 432.19V489.19M1050.21 409.74V466.74M1060.27 409.41V466.41M1063.62 409.41V466.41M1073.68 430.21V487.21M1077.04 430.21V487.21M1070.33 428.35V485.35M1066.97 419.13V476.13M1080.39 411.16V468.16M1083.74 411.16V468.16M1087.1 438.41V495.41M1090.45 438.41V495.41M1093.8 408.45V465.45M1100.51 414.38V471.38M1103.86 414.38V471.38M1097.16 408.24V465.24M1117.28 422.56V479.56M1120.63 422.56V479.56M1123.98 418.24V475.24M1127.34 418.24V475.24M1113.92 406.34V463.34M1110.57 393.78V450.78M1130.69 424.05V481.05M1134.05 424.05V481.05M1137.4 415.36V472.36M1140.75 415.36V472.36M1144.11 416V473M1147.46 416V473M1150.81 411.9V468.9M1154.17 435.78V492.78M1157.52 435.78V492.78M1107.22 376.93V433.93M1164.23 423.42V480.42M1167.58 423.42V480.42M1170.93 437.35V494.35M1174.29 437.35V494.35M1177.64 427.39V484.39M1181 427.39V484.39M1184.35 427.81V484.81M1187.7 427.81V484.81M1191.06 427.81V484.81M1194.41 427.81V484.81M1197.76 435.96V492.96M1201.12 435.96V492.96M1204.47 425.55V482.55M1207.82 425.55V482.55M1211.18 419.72V476.72M1214.53 419.72V476.72M1217.88 433.99V490.99M1221.24 433.99V490.99M1224.59 420.43V477.43M1227.94 420.43V477.43M1231.3 424.81V481.81M1234.65 424.81V481.81M1238.01 436.99V493.99M1241.36 436.99V493.99M1244.71 433.92V490.92M1248.07 433.92V490.92M1251.42 437.71V494.71M1254.77 437.71V494.71M1258.13 424.84V481.84M1261.48 424.84V481.84M1268.19 411.15V468.15M1271.54 411.15V468.15M1274.89 416.38V473.38M1278.25 416.38V473.38M1264.83 397.88V454.88M1160.87 366.39V423.39M1291.66 431.51V488.51M1295.02 431.51V488.51M1288.31 412.04V469.04M1284.96 402.39V459.39M1298.37 397.54V454.54M1301.72 413.73V470.73M1305.08 413.73V470.73M1308.43 404.81V461.81M1311.78 394.85V451.85M1315.14 387.77V444.77M1318.49 427.07V484.07M1321.84 427.07V484.07M1325.2 420.65V477.65M1328.55 432.56V489.56M1331.9 432.56V489.56M1335.26 401.79V458.79M1338.61 389.96V446.96M1341.97 421.72V478.72M1345.32 421.72V478.72M1352.03 429.91V486.91M1355.38 429.91V486.91M1358.73 428.03V485.03M1348.67 424.94V481.94M1362.09 439.11V496.11M1365.44 439.11V496.11M1368.79 395.81V452.81M1372.15 389.05V446.05M1382.21 420.8V477.8M1385.56 420.8V477.8M1378.85 418.44V475.44M1375.5 413.17V470.17M1388.91 413.98V470.98M1392.27 413.98V470.98M1398.98 416.55V473.55M1402.33 416.55V473.55M1395.62 413.97V470.97M1412.39 422.75V479.75M1415.74 422.75V479.75M1409.04 411.69V468.69M1405.68 402.78V459.78M1422.45 428.52V485.52M1425.8 428.52V485.52M1429.16 410.38V467.38M1419.1 405.48V462.48M1432.51 400.06V457.06M1439.22 424.88V481.88M1442.57 424.88V481.88M1445.93 422.74V479.74M1435.86 419V476M1449.28 408.14V465.14M1452.63 416.34V473.34M1455.99 416.34V473.34M1462.69 430.58V487.58M1466.05 430.58V487.58M1459.34 424V481M1469.4 417.52V474.52M1281.6 295.7V352.7" fill="none" stroke="#e26262" stroke-width="1.45"/>
<g fill="#000"><text transform="translate(102.3 432.16) rotate(-90) scale(0.74 1.1)" font-size="12" text-anchor="end">TCGA−CG−G0WS−01A−11R−A277−07</text><text transform="translate(105.65 432.16) rotate(-90) scale(0.74 1.1)" font-size="12" text-anchor="end">TCGA−UY−6J10−01A−11R−A277−07</text><text transform="translate(112.36 500.42) rotate(-90) scale(0.74 1.1)" font-size="12" text-anchor="end">TCGA−E5−W16H−01B−04R−A277−07</text><text transform="translate(115.71 500.42) rotate(-90) scale(0.74 1.1)" font-size="12" text-anchor="end">TCGA−2F−N373−01A−12R−A277−07</text><text transform="translate(119.07 500.27) rotate(-90) scale(0.74 1.1)" font-size="12" text-anchor="end">TCGA−CF−M7U1−01A−11R−A13Y−07</text><text transform="translate(122.42 500.27) rotate(-90) scale(0.74 1.1)" font-size="12" text-anchor="end">TCGA−CG−BDTU−01B−04R−A277−07</text><text transform="translate(109.01 446.54) rotate(-90) scale(0.74 1.1)" font-size="12" text-anchor="end">TCGA−E7−KIZ2−01A−11R−A13Y−07</text><text transform="translate(125.77 510.08) rotate(-90) scale(0.74 1.1)" font-size="12" text-anchor="end">TCGA−KQ−W42D−01A−11R−A277−07</text><text transform="translate(129.13 510.08) rotate(-90) scale(0.74 1.1)" font-size="12" text-anchor="end">TCGA−ZF−P7WR−01A−11R−A277−07</text><text transform="translate(142.54 506.26) rotate(-90) scale(0.74 1.1)" font-size="12" text-anchor="end">TCGA−R3−RKO0−01A−11R−A13Y−07</text><text transform="translate(145.9 506.26) rotate(-90) scale(0.74 1.1)" font-size="12" text-anchor="end">TCGA−CU−41YU−01B−04R−A277−07</text><text transform="translate(139.19 503.65) rotate(-90) scale(0.74 1.1)" font-size="12" text-anchor="end">TCGA−PQ−14VO−01A−12R−A277−07</text><text transform="translate(135.84 500.29) rotate(-90) scale(0.74 1.1)" font-size="12" text-anchor="end">TCGA−CG−M3MD−01B−04R−A277−07</text><text transform="translate(132.48 488.22) rotate(-90) scale(0.74 1.1)" font-size="12" text-anchor="end">TCGA−FD−O62P−01B−04R−A277−07</text><text transform="translate(149.25 506.51) rotate(-90) scale(0.74 1.1)" font-size="12" text-anchor="end">TCGA−ZF−8GAY−01A−11R−A277−07</text><text transform="translate(152.6 506.51) rotate(-90) scale(0.74 1.1)" font-size="12" text-anchor="end">TCGA−HQ−6U83−01A−11R−A277−07</text><text transform="translate(155.96 507.97) rotate(-90) scale(0.74 1.1)" font-size="12" text-anchor="end">TCGA−K4−MHO9−01A−11R−A277−07</text><text transform="translate(159.31 507.97) rotate(-90) scale(0.74 1.1)" font-size="12" text-anchor="end">TCGA−XF−EMZ4−01A−11R−A277−07</text><text transform="translate(162.66 519.33) rotate(-90) scale(0.74 1.1)" font-size="12" text-anchor="end">TCGA−ZF−W9FG−01A−12R−A277−07</text><text transform="translate(166.02 519.33) rotate(-90) scale(0.74 1.1)" font-size="12" text-anchor="end">TCGA−H4−EXHD−01A−11R−A13Y−07</text><text transform="translate(169.37 517.41) rotate(-90) scale(0.74 1.1)" font-size="12" text-anchor="end">TCGA−UY−7774−01A−11R−A277−07</text><text transform="translate(172.72 514.74) rotate(-90) scale(0.74 1.1)" font-size="12" text-anchor="end">TCGA−FD−6OQF−01B−04R−A277−07</text><text transform="translate(176.08 494.63) rotate(-90) scale(0.74 1.1)" font-size="12" text-anchor="end">TCGA−CU−J27H−01A−11R−A13Y−07</text><text transform="translate(179.43 503.9) rotate(-90) scale(0.74 1.1)" font-size="12" text-anchor="end">TCGA−BT−WOU9−01A−12R−A277−07</text><text transform="translate(182.79 503.9) rotate(-90) scale(0.74 1.1)" font-size="12" text-anchor="end">TCGA−GU−3WYN−01A−11R−A277−07</text><text transform="translate(186.14 505.03) rotate(-90) scale(0.74 1.1)" font-size="12" text-anchor="end">TCGA−DJ−4ZHV−01A−11R−A277−07</text><text transform="translate(189.49 505.03) rotate(-90) scale(0.74 1.1)" font-size="12" text-anchor="end">TCGA−C4−124K−01A−11R−A13Y−07</text><text transform="translate(192.85 499.79) rotate(-90) scale(0.74 1.1)" font-size="12" text-anchor="end">TCGA−E7−01AX−01A−11R−A13Y−07</text><text transform="translate(196.2 499.79) rotate(-90) scale(0.74 1.1)" font-size="12" text-anchor="end">TCGA−GV−HFQY−01A−11R−A277−07</text><text transform="translate(202.91 508.73) rotate(-90) scale(0.74 1.1)" font-size="12" text-anchor="end">TCGA−R3−XWI1−01A−12R−A277−07</text><text transform="translate(206.26 508.73) rotate(-90) scale(0.74 1.1)" font-size="12" text-anchor="end">TCGA−E7−1NIT−01A−11R−A277−07</text><text transform="translate(209.61 506.24) rotate(-90) scale(0.74 1.1)" font-size="12" text-anchor="end">TCGA−XF−N3KV−01B−04R−A277−07</text><text transform="translate(199.55 498.13) rotate(-90) scale(0.74 1.1)" font-size="12" text-anchor="end">TCGA−ZF−7QTM−01A−12R−A277−07</text><text transform="translate(212.97 498.81) rotate(-90) scale(0.74 1.1)" font-size="12" text-anchor="end">TCGA−DK−5KPG−01A−21R−A277−07</text><text transform="translate(216.32 498.81) rotate(-90) scale(0.74 1.1)" font-size="12" text-anchor="end">TCGA−R3−T0WM−01A−11R−A277−07</text><text transform="translate(223.03 504.95) rotate(-90) scale(0.74 1.1)" font-size="12" text-anchor="end">TCGA−K4−LONF−01B−04R−A277−07</text><text transform="translate(226.38 504.95) rotate(-90) scale(0.74 1.1)" font-size="12" text-anchor="end">TCGA−E7−FT9Q−01A−11R−A277−07</text><text transform="translate(219.67 489.86) rotate(-90) scale(0.74 1.1)" font-size="12" text-anchor="end">TCGA−SY−ZHAD−01A−21R−A277−07</text><text transform="translate(229.73 499.08) rotate(-90) scale(0.74 1.1)" font-size="12" text-anchor="end">TCGA−CF−09Z7−01B−04R−A277−07</text><text transform="translate(233.09 499.08) rotate(-90) scale(0.74 1.1)" font-size="12" text-anchor="end">TCGA−FJ−TGVD−01A−21R−A277−07</text><text transform="translate(236.44 511.89) rotate(-90) scale(0.74 1.1)" font-size="12" text-anchor="end">TCGA−BL−HRV2−01A−12R−A277−07</text><text transform="translate(239.8 511.89) rotate(-90) scale(0.74 1.1)" font-size="12" text-anchor="end">TCGA−S5−ZMR9−01A−11R−A13Y−07</text><text transform="translate(243.15 494.21) rotate(-90) scale(0.74 1.1)" font-size="12" text-anchor="end">TCGA−ZF−PETE−01A−12R−A277−07</text><text transform="translate(246.5 508.91) rotate(-90) scale(0.74 1.1)" font-size="12" text-anchor="end">TCGA−S5−JESS−01A−11R−A277−07</text><text transform="translate(249.86 508.91) rotate(-90) scale(0.74 1.1)" font-size="12" text-anchor="end">TCGA−HQ−R2QF−01A−11R−A277−07</text><text transform="translate(256.56 499.81) rotate(-90) scale(0.74 1.1)" font-size="12" text-anchor="end">TCGA−FJ−NY9G−01A−11R−A277−07</text><text transform="translate(259.92 499.81) rotate(-90) scale(0.74 1.1)" font-size="12" text-anchor="end">TCGA−SY−76W3−01A−21R−A277−07</text><text transform="translate(263.27 491.41) rotate(-90) scale(0.74 1.1)" font-size="12" text-anchor="end">TCGA−BT−O640−01A−11R−A277−07</text><text transform="translate(266.62 491.41) rotate(-90) scale(0.74 1.1)" font-size="12" text-anchor="end">TCGA−FD−P70A−01A−12R−A277−07</text><text transform="translate(253.21 474.7) rotate(-90) scale(0.74 1.1)" font-size="12" text-anchor="end">TCGA−4Z−ZI7K−01A−21R−A277−07</text><text transform="translate(273.33 497) rotate(-90) scale(0.74 1.1)" font-size="12" text-anchor="end">TCGA−H4−NKQ0−01A−11R−A277−07</text><text transform="translate(276.68 497) rotate(-90) scale(0.74 1.1)" font-size="12" text-anchor="end">TCGA−E5−4FNU−01A−11R−A277−07</text><text transform="translate(280.04 493.9) rotate(-90) scale(0.74 1.1)" font-size="12" text-anchor="end">TCGA−2F−25NS−01A−11R−A277−07</text><text transform="translate(283.39 485.91) rotate(-90) scale(0.74 1.1)" font-size="12" text-anchor="end">TCGA−KQ−HGHX−01A−12R−A277−07</text><text transform="translate(290.1 502.36) rotate(-90) scale(0.74 1.1)" font-size="12" text-anchor="end">TCGA−CF−K9T0−01A−12R−A277−07</text><text transform="translate(293.45 502.36) rotate(-90) scale(0.74 1.1)" font-size="12" text-anchor="end">TCGA−DK−1ZLJ−01A−11R−A277−07</text><text transform="translate(286.74 481.87) rotate(-90) scale(0.74 1.1)" font-size="12" text-anchor="end">TCGA−CU−VG53−01A−11R−A277−07</text><text transform="translate(269.98 472.85) rotate(-90) scale(0.74 1.1)" font-size="12" text-anchor="end">TCGA−C4−9PW6−01A−12R−A277−07</text><text transform="translate(300.16 520.49) rotate(-90) scale(0.74 1.1)" font-size="12" text-anchor="end">TCGA−KQ−WW6M−01A−21R−A277−07</text><text transform="translate(303.51 520.49) rotate(-90) scale(0.74 1.1)" font-size="12" text-anchor="end">TCGA−FD−FK9P−01A−11R−A13Y−07</text><text transform="translate(306.87 507.73) rotate(-90) scale(0.74 1.1)" font-size="12" text-anchor="end">TCGA−2F−AQVP−01A−12R−A277−07</text><text transform="translate(310.22 507.73) rotate(-90) scale(0.74 1.1)" font-size="12" text-anchor="end">TCGA−BT−XKU4−01A−11R−A277−07</text><text transform="translate(313.57 505.2) rotate(-90) scale(0.74 1.1)" font-size="12" text-anchor="end">TCGA−C4−17R2−01A−11R−A13Y−07</text><text transform="translate(316.93 501.34) rotate(-90) scale(0.74 1.1)" font-size="12" text-anchor="end">TCGA−S5−IPQ8−01A−11R−A277−07</text><text transform="translate(320.28 501.24) rotate(-90) scale(0.74 1.1)" font-size="12" text-anchor="end">TCGA−LC−SKSN−01B−04R−A277−07</text><text transform="translate(323.63 501.24) rotate(-90) scale(0.74 1.1)" font-size="12" text-anchor="end">TCGA−2F−QYO3−01A−11R−A277−07</text><text transform="translate(296.81 470.34) rotate(-90) scale(0.74 1.1)" font-size="12" text-anchor="end">TCGA−ZF−380O−01A−11R−A13Y−07</text><text transform="translate(330.34 506.67) rotate(-90) scale(0.74 1.1)" font-size="12" text-anchor="end">TCGA−FJ−KDXR−01A−12R−A277−07</text><text transform="translate(333.69 506.67) rotate(-90) scale(0.74 1.1)" font-size="12" text-anchor="end">TCGA−FD−QM5G−01A−11R−A277−07</text><text transform="translate(326.99 504.08) rotate(-90) scale(0.74 1.1)" font-size="12" text-anchor="end">TCGA−GD−FG5E−01A−12R−A277−07</text><text transform="translate(337.05 491.5) rotate(-90) scale(0.74 1.1)" font-size="12" text-anchor="end">TCGA−C4−SF97−01A−12R−A277−07</text><text transform="translate(340.4 526.86) rotate(-90) scale(0.74 1.1)" font-size="12" text-anchor="end">TCGA−CF−36Z8−01A−11R−A13Y−07</text><text transform="translate(343.76 526.86) rotate(-90) scale(0.74 1.1)" font-size="12" text-anchor="end">TCGA−CG−XJIY−01A−11R−A277−07</text><text transform="translate(347.11 524.99) rotate(-90) scale(0.74 1.1)" font-size="12" text-anchor="end">TCGA−MV−62TY−01A−11R−A13Y−07</text><text transform="translate(350.46 524.99) rotate(-90) scale(0.74 1.1)" font-size="12" text-anchor="end">TCGA−E5−XUN1−01B−04R−A277−07</text><text transform="translate(353.82 512.52) rotate(-90) scale(0.74 1.1)" font-size="12" text-anchor="end">TCGA−SY−NDI1−01A−21R−A277−07</text><text transform="translate(357.17 512.52) rotate(-90) scale(0.74 1.1)" font-size="12" text-anchor="end">TCGA−LC−GUIX−01A−11R−A277−07</text><text transform="translate(360.52 467.61) rotate(-90) scale(0.74 1.1)" font-size="12" text-anchor="end">TCGA−GD−PV38−01A−12R−A277−07</text><text transform="translate(363.88 519.57) rotate(-90) scale(0.74 1.1)" font-size="12" text-anchor="end">TCGA−DJ−DWUR−01B−04R−A277−07</text><text transform="translate(367.23 519.57) rotate(-90) scale(0.74 1.1)" font-size="12" text-anchor="end">TCGA−BT−GU0X−01A−11R−A13Y−07</text><text transform="translate(370.58 506.74) rotate(-90) scale(0.74 1.1)" font-size="12" text-anchor="end">TCGA−G2−CICL−01A−12R−A277−07</text><text transform="translate(373.94 506.74) rotate(-90) scale(0.74 1.1)" font-size="12" text-anchor="end">TCGA−LC−5YL1−01A−11R−A277−07</text><text transform="translate(377.29 527.1) rotate(-90) scale(0.74 1.1)" font-size="12" text-anchor="end">TCGA−FD−FUTT−01A−21R−A277−07</text><text transform="translate(380.64 527.1) rotate(-90) scale(0.74 1.1)" font-size="12" text-anchor="end">TCGA−CF−98E9−01A−11R−A277−07</text><text transform="translate(387.35 507.86) rotate(-90) scale(0.74 1.1)" font-size="12" text-anchor="end">TCGA−GC−HUOQ−01A−11R−A277−07</text><text transform="translate(390.7 507.86) rotate(-90) scale(0.74 1.1)" font-size="12" text-anchor="end">TCGA−CU−EN39−01A−11R−A277−07</text><text transform="translate(394.06 504.22) rotate(-90) scale(0.74 1.1)" font-size="12" text-anchor="end">TCGA−ZF−BSWX−01A−11R−A277−07</text><text transform="translate(384 491.84) rotate(-90) scale(0.74 1.1)" font-size="12" text-anchor="end">TCGA−LT−L42R−01A−11R−A277−07</text><text transform="translate(397.41 520.08) rotate(-90) scale(0.74 1.1)" font-size="12" text-anchor="end">TCGA−CF−57SX−01A−11R−A277−07</text><text transform="translate(400.77 520.08) rotate(-90) scale(0.74 1.1)" font-size="12" text-anchor="end">TCGA−GV−NT3T−01A−12R−A277−07</text><text transform="translate(404.12 525.63) rotate(-90) scale(0.74 1.1)" font-size="12" text-anchor="end">TCGA−BT−CP0S−01A−21R−A277−07</text><text transform="translate(407.47 525.63) rotate(-90) scale(0.74 1.1)" font-size="12" text-anchor="end">TCGA−BT−OW2Y−01A−11R−A13Y−07</text><text transform="translate(414.18 503.42) rotate(-90) scale(0.74 1.1)" font-size="12" text-anchor="end">TCGA−4Z−FELF−01A−12R−A277−07</text><text transform="translate(417.53 503.42) rotate(-90) scale(0.74 1.1)" font-size="12" text-anchor="end">TCGA−S5−JMX4−01A−12R−A277−07</text><text transform="translate(410.83 500.66) rotate(-90) scale(0.74 1.1)" font-size="12" text-anchor="end">TCGA−PQ−EUVO−01B−04R−A277−07</text><text transform="translate(420.89 495.55) rotate(-90) scale(0.74 1.1)" font-size="12" text-anchor="end">TCGA−LC−5E33−01A−11R−A277−07</text><text transform="translate(424.24 501.92) rotate(-90) scale(0.74 1.1)" font-size="12" text-anchor="end">TCGA−PQ−L9FB−01B−04R−A277−07</text><text transform="translate(427.59 501.92) rotate(-90) scale(0.74 1.1)" font-size="12" text-anchor="end">TCGA−YC−5N0I−01A−12R−A277−07</text><text transform="translate(430.95 499.08) rotate(-90) scale(0.74 1.1)" font-size="12" text-anchor="end">TCGA−BT−PIHO−01A−11R−A277−07</text><text transform="translate(437.65 519.16) rotate(-90) scale(0.74 1.1)" font-size="12" text-anchor="end">TCGA−R3−VARW−01A−11R−A277−07</text><text transform="translate(441.01 519.16) rotate(-90) scale(0.74 1.1)" font-size="12" text-anchor="end">TCGA−BL−9WE3−01A−11R−A277−07</text><text transform="translate(434.3 494.24) rotate(-90) scale(0.74 1.1)" font-size="12" text-anchor="end">TCGA−S5−UIAV−01A−11R−A277−07</text><text transform="translate(447.72 515.16) rotate(-90) scale(0.74 1.1)" font-size="12" text-anchor="end">TCGA−PQ−K0BV−01A−11R−A277−07</text><text transform="translate(451.07 515.16) rotate(-90) scale(0.74 1.1)" font-size="12" text-anchor="end">TCGA−XF−09ON−01A−11R−A277−07</text><text transform="translate(454.42 493.65) rotate(-90) scale(0.74 1.1)" font-size="12" text-anchor="end">TCGA−E5−020L−01B−04R−A277−07</text><text transform="translate(444.36 486.89) rotate(-90) scale(0.74 1.1)" font-size="12" text-anchor="end">TCGA−KQ−NOTQ−01A−11R−A13Y−07</text><text transform="translate(457.78 523.01) rotate(-90) scale(0.74 1.1)" font-size="12" text-anchor="end">TCGA−GC−0HEV−01A−11R−A13Y−07</text><text transform="translate(461.13 523.01) rotate(-90) scale(0.74 1.1)" font-size="12" text-anchor="end">TCGA−SY−Z0IU−01A−11R−A277−07</text><text transform="translate(464.48 520.11) rotate(-90) scale(0.74 1.1)" font-size="12" text-anchor="end">TCGA−UY−IHRC−01B−04R−A277−07</text><text transform="translate(467.84 520.11) rotate(-90) scale(0.74 1.1)" font-size="12" text-anchor="end">TCGA−DK−TVMG−01A−11R−A277−07</text><text transform="translate(471.19 500.74) rotate(-90) scale(0.74 1.1)" font-size="12" text-anchor="end">TCGA−CG−GG18−01A−12R−A277−07</text><text transform="translate(474.54 500.74) rotate(-90) scale(0.74 1.1)" font-size="12" text-anchor="end">TCGA−DJ−KDT3−01A−12R−A277−07</text><text transform="translate(477.9 506.08) rotate(-90) scale(0.74 1.1)" font-size="12" text-anchor="end">TCGA−YC−PN9R−01B−04R−A277−07</text><text transform="translate(481.25 506.08) rotate(-90) scale(0.74 1.1)" font-size="12" text-anchor="end">TCGA−GD−0QQB−01A−11R−A277−07</text><text transform="translate(484.6 502.88) rotate(-90) scale(0.74 1.1)" font-size="12" text-anchor="end">TCGA−R3−ZGQ4−01A−12R−A277−07</text><text transform="translate(487.96 502.88) rotate(-90) scale(0.74 1.1)" font-size="12" text-anchor="end">TCGA−YC−4E37−01A−21R−A277−07</text><text transform="translate(491.31 505.52) rotate(-90) scale(0.74 1.1)" font-size="12" text-anchor="end">TCGA−E7−551X−01B−04R−A277−07</text><text transform="translate(494.66 505.52) rotate(-90) scale(0.74 1.1)" font-size="12" text-anchor="end">TCGA−HQ−FQHC−01A−21R−A277−07</text><text transform="translate(498.02 505.79) rotate(-90) scale(0.74 1.1)" font-size="12" text-anchor="end">TCGA−LC−YNU1−01A−21R−A277−07</text><text transform="translate(501.37 505.79) rotate(-90) scale(0.74 1.1)" font-size="12" text-anchor="end">TCGA−YC−AYYH−01B−04R−A277−07</text><text transform="translate(504.73 501.78) rotate(-90) scale(0.74 1.1)" font-size="12" text-anchor="end">TCGA−KQ−NIPG−01A−11R−A277−07</text><text transform="translate(508.08 501.78) rotate(-90) scale(0.74 1.1)" font-size="12" text-anchor="end">TCGA−C4−C8T6−01A−11R−A277−07</text><text transform="translate(514.79 519.41) rotate(-90) scale(0.74 1.1)" font-size="12" text-anchor="end">TCGA−K4−MDP0−01A−12R−A277−07</text><text transform="translate(518.14 519.41) rotate(-90) scale(0.74 1.1)" font-size="12" text-anchor="end">TCGA−DJ−071K−01A−21R−A277−07</text><text transform="translate(511.43 509.05) rotate(-90) scale(0.74 1.1)" font-size="12" text-anchor="end">TCGA−H4−CTPD−01A−11R−A277−07</text><text transform="translate(521.49 477.08) rotate(-90) scale(0.74 1.1)" font-size="12" text-anchor="end">TCGA−BL−Z4IT−01A−11R−A277−07</text><text transform="translate(528.2 508.24) rotate(-90) scale(0.74 1.1)" font-size="12" text-anchor="end">TCGA−E5−AIWW−01A−21R−A277−07</text><text transform="translate(531.55 508.24) rotate(-90) scale(0.74 1.1)" font-size="12" text-anchor="end">TCGA−LT−RG0U−01A−11R−A277−07</text><text transform="translate(524.85 501.72) rotate(-90) scale(0.74 1.1)" font-size="12" text-anchor="end">TCGA−4Z−1DU0−01A−12R−A277−07</text><text transform="translate(538.26 512.89) rotate(-90) scale(0.74 1.1)" font-size="12" text-anchor="end">TCGA−DK−AIOG−01A−21R−A277−07</text><text transform="translate(541.61 512.89) rotate(-90) scale(0.74 1.1)" font-size="12" text-anchor="end">TCGA−S5−0U1M−01B−04R−A277−07</text><text transform="translate(534.91 498.31) rotate(-90) scale(0.74 1.1)" font-size="12" text-anchor="end">TCGA−R3−T7B2−01A−11R−A277−07</text><text transform="translate(544.97 515.74) rotate(-90) scale(0.74 1.1)" font-size="12" text-anchor="end">TCGA−CG−2IDG−01A−11R−A13Y−07</text><text transform="translate(548.32 515.74) rotate(-90) scale(0.74 1.1)" font-size="12" text-anchor="end">TCGA−DJ−PB43−01A−11R−A277−07</text><text transform="translate(555.03 507.27) rotate(-90) scale(0.74 1.1)" font-size="12" text-anchor="end">TCGA−E7−HOJB−01A−11R−A277−07</text><text transform="translate(558.38 507.27) rotate(-90) scale(0.74 1.1)" font-size="12" text-anchor="end">TCGA−BL−O41V−01A−11R−A277−07</text><text transform="translate(551.68 504.17) rotate(-90) scale(0.74 1.1)" font-size="12" text-anchor="end">TCGA−R3−BHLC−01A−11R−A277−07</text><text transform="translate(565.09 521.82) rotate(-90) scale(0.74 1.1)" font-size="12" text-anchor="end">TCGA−4Z−EIYE−01A−21R−A277−07</text><text transform="translate(568.44 521.82) rotate(-90) scale(0.74 1.1)" font-size="12" text-anchor="end">TCGA−E5−KP5B−01A−11R−A277−07</text><text transform="translate(561.74 505.6) rotate(-90) scale(0.74 1.1)" font-size="12" text-anchor="end">TCGA−CF−BF0K−01A−12R−A277−07</text><text transform="translate(575.15 508.29) rotate(-90) scale(0.74 1.1)" font-size="12" text-anchor="end">TCGA−FJ−MCHD−01A−12R−A277−07</text><text transform="translate(578.5 508.29) rotate(-90) scale(0.74 1.1)" font-size="12" text-anchor="end">TCGA−FD−1TI1−01A−11R−A277−07</text><text transform="translate(571.8 505.78) rotate(-90) scale(0.74 1.1)" font-size="12" text-anchor="end">TCGA−XF−GL3D−01A−11R−A277−07</text><text transform="translate(581.86 519.54) rotate(-90) scale(0.74 1.1)" font-size="12" text-anchor="end">TCGA−YC−DHPS−01A−11R−A277−07</text><text transform="translate(585.21 519.54) rotate(-90) scale(0.74 1.1)" font-size="12" text-anchor="end">TCGA−G2−7HPH−01B−04R−A277−07</text><text transform="translate(591.92 524.92) rotate(-90) scale(0.74 1.1)" font-size="12" text-anchor="end">TCGA−YF−UG89−01A−11R−A277−07</text><text transform="translate(595.27 524.92) rotate(-90) scale(0.74 1.1)" font-size="12" text-anchor="end">TCGA−KQ−46F5−01A−12R−A277−07</text><text transform="translate(588.56 505.78) rotate(-90) scale(0.74 1.1)" font-size="12" text-anchor="end">TCGA−E5−X5MT−01A−11R−A13Y−07</text><text transform="translate(598.62 512.36) rotate(-90) scale(0.74 1.1)" font-size="12" text-anchor="end">TCGA−GV−EQGP−01A−12R−A277−07</text><text transform="translate(601.98 512.36) rotate(-90) scale(0.74 1.1)" font-size="12" text-anchor="end">TCGA−FJ−08MN−01A−21R−A277−07</text><text transform="translate(605.33 513.1) rotate(-90) scale(0.74 1.1)" font-size="12" text-anchor="end">TCGA−GC−G2EH−01A−12R−A277−07</text><text transform="translate(608.69 513.1) rotate(-90) scale(0.74 1.1)" font-size="12" text-anchor="end">TCGA−PQ−ZWQQ−01A−21R−A277−07</text><text transform="translate(612.04 509.69) rotate(-90) scale(0.74 1.1)" font-size="12" text-anchor="end">TCGA−GU−EVK7−01A−11R−A277−07</text><text transform="translate(615.39 509.69) rotate(-90) scale(0.74 1.1)" font-size="12" text-anchor="end">TCGA−H4−5KJR−01A−11R−A13Y−07</text><text transform="translate(622.1 515.29) rotate(-90) scale(0.74 1.1)" font-size="12" text-anchor="end">TCGA−S5−5HT7−01A−11R−A277−07</text><text transform="translate(625.45 515.29) rotate(-90) scale(0.74 1.1)" font-size="12" text-anchor="end">TCGA−GU−UMKG−01A−11R−A13Y−07</text><text transform="translate(618.75 494.27) rotate(-90) scale(0.74 1.1)" font-size="12" text-anchor="end">TCGA−GV−2UF5−01A−11R−A13Y−07</text><text transform="translate(628.81 509.39) rotate(-90) scale(0.74 1.1)" font-size="12" text-anchor="end">TCGA−R3−U9CV−01A−11R−A13Y−07</text><text transform="translate(632.16 509.39) rotate(-90) scale(0.74 1.1)" font-size="12" text-anchor="end">TCGA−K4−B7WO−01A−21R−A277−07</text><text transform="translate(635.51 528.13) rotate(-90) scale(0.74 1.1)" font-size="12" text-anchor="end">TCGA−H4−UKF8−01A−21R−A277−07</text><text transform="translate(638.87 528.13) rotate(-90) scale(0.74 1.1)" font-size="12" text-anchor="end">TCGA−GU−HIAS−01A−12R−A277−07</text><text transform="translate(642.22 527.08) rotate(-90) scale(0.74 1.1)" font-size="12" text-anchor="end">TCGA−G2−XOYQ−01A−11R−A277−07</text><text transform="translate(645.57 527.08) rotate(-90) scale(0.74 1.1)" font-size="12" text-anchor="end">TCGA−CF−91RQ−01A−11R−A13Y−07</text><text transform="translate(648.93 494.04) rotate(-90) scale(0.74 1.1)" font-size="12" text-anchor="end">TCGA−LT−P0LU−01A−12R−A277−07</text><text transform="translate(652.28 524.76) rotate(-90) scale(0.74 1.1)" font-size="12" text-anchor="end">TCGA−PQ−8EUL−01A−11R−A13Y−07</text><text transform="translate(655.63 524.76) rotate(-90) scale(0.74 1.1)" font-size="12" text-anchor="end">TCGA−CG−HXCN−01A−11R−A277−07</text><text transform="translate(669.05 521.76) rotate(-90) scale(0.74 1.1)" font-size="12" text-anchor="end">TCGA−DJ−95T0−01A−21R−A277−07</text><text transform="translate(672.4 521.76) rotate(-90) scale(0.74 1.1)" font-size="12" text-anchor="end">TCGA−BL−T1LB−01A−11R−A13Y−07</text><text transform="translate(665.7 502.81) rotate(-90) scale(0.74 1.1)" font-size="12" text-anchor="end">TCGA−GD−GEY9−01A−11R−A277−07</text><text transform="translate(662.34 494.91) rotate(-90) scale(0.74 1.1)" font-size="12" text-anchor="end">TCGA−CF−2WDP−01A−21R−A277−07</text><text transform="translate(658.99 486.27) rotate(-90) scale(0.74 1.1)" font-size="12" text-anchor="end">TCGA−2F−FMB9−01A−11R−A13Y−07</text><text transform="translate(675.76 524.38) rotate(-90) scale(0.74 1.1)" font-size="12" text-anchor="end">TCGA−YC−TRIJ−01A−11R−A277−07</text><text transform="translate(679.11 524.38) rotate(-90) scale(0.74 1.1)" font-size="12" text-anchor="end">TCGA−UY−P7IL−01A−21R−A277−07</text><text transform="translate(682.46 525.15) rotate(-90) scale(0.74 1.1)" font-size="12" text-anchor="end">TCGA−G2−20R2−01A−12R−A277−07</text><text transform="translate(685.82 525.15) rotate(-90) scale(0.74 1.1)" font-size="12" text-anchor="end">TCGA−GD−SYHE−01B−04R−A277−07</text><text transform="translate(689.17 513.52) rotate(-90) scale(0.74 1.1)" font-size="12" text-anchor="end">TCGA−G2−NW0W−01B−04R−A277−07</text><text transform="translate(692.52 513.52) rotate(-90) scale(0.74 1.1)" font-size="12" text-anchor="end">TCGA−ZF−SCKN−01A−11R−A13Y−07</text><text transform="translate(695.88 515.16) rotate(-90) scale(0.74 1.1)" font-size="12" text-anchor="end">TCGA−BT−FHDY−01B−04R−A277−07</text><text transform="translate(699.23 515.16) rotate(-90) scale(0.74 1.1)" font-size="12" text-anchor="end">TCGA−4Z−QQS0−01A−11R−A277−07</text><text transform="translate(702.58 508.41) rotate(-90) scale(0.74 1.1)" font-size="12" text-anchor="end">TCGA−GU−A5E0−01A−11R−A277−07</text><text transform="translate(705.94 508.41) rotate(-90) scale(0.74 1.1)" font-size="12" text-anchor="end">TCGA−MV−OCBF−01A−12R−A277−07</text><text transform="translate(709.29 519.91) rotate(-90) scale(0.74 1.1)" font-size="12" text-anchor="end">TCGA−E5−P7CD−01B−04R−A277−07</text><text transform="translate(712.65 519.91) rotate(-90) scale(0.74 1.1)" font-size="12" text-anchor="end">TCGA−DJ−USHR−01A−12R−A277−07</text><text transform="translate(719.35 516.04) rotate(-90) scale(0.74 1.1)" font-size="12" text-anchor="end">TCGA−ZF−4AMT−01A−11R−A13Y−07</text><text transform="translate(722.71 516.04) rotate(-90) scale(0.74 1.1)" font-size="12" text-anchor="end">TCGA−GD−OKFW−01A−21R−A277−07</text><text transform="translate(726.06 493.87) rotate(-90) scale(0.74 1.1)" font-size="12" text-anchor="end">TCGA−H4−4T7Y−01A−11R−A277−07</text><text transform="translate(716 484.21) rotate(-90) scale(0.74 1.1)" font-size="12" text-anchor="end">TCGA−R3−90IE−01B−04R−A277−07</text><text transform="translate(729.41 524.52) rotate(-90) scale(0.74 1.1)" font-size="12" text-anchor="end">TCGA−FD−4FQW−01B−04R−A277−07</text><text transform="translate(732.77 524.52) rotate(-90) scale(0.74 1.1)" font-size="12" text-anchor="end">TCGA−ZF−XH6F−01A−11R−A13Y−07</text><text transform="translate(739.47 516.21) rotate(-90) scale(0.74 1.1)" font-size="12" text-anchor="end">TCGA−SY−XBAD−01A−12R−A277−07</text><text transform="translate(742.83 516.21) rotate(-90) scale(0.74 1.1)" font-size="12" text-anchor="end">TCGA−R3−HSFU−01A−12R−A277−07</text><text transform="translate(736.12 496.38) rotate(-90) scale(0.74 1.1)" font-size="12" text-anchor="end">TCGA−LT−T4J6−01A−11R−A277−07</text><text transform="translate(746.18 512.45) rotate(-90) scale(0.74 1.1)" font-size="12" text-anchor="end">TCGA−FD−6C4L−01A−11R−A13Y−07</text><text transform="translate(749.53 512.45) rotate(-90) scale(0.74 1.1)" font-size="12" text-anchor="end">TCGA−BL−96DD−01A−11R−A277−07</text><text transform="translate(752.89 513.99) rotate(-90) scale(0.74 1.1)" font-size="12" text-anchor="end">TCGA−S5−LI78−01A−11R−A277−07</text><text transform="translate(756.24 513.99) rotate(-90) scale(0.74 1.1)" font-size="12" text-anchor="end">TCGA−E5−6J5D−01A−11R−A13Y−07</text><text transform="translate(759.59 468.76) rotate(-90) scale(0.74 1.1)" font-size="12" text-anchor="end">TCGA−ZF−T4O0−01B−04R−A277−07</text><text transform="translate(762.95 527.78) rotate(-90) scale(0.74 1.1)" font-size="12" text-anchor="end">TCGA−YC−E2JU−01A−12R−A277−07</text><text transform="translate(766.3 527.78) rotate(-90) scale(0.74 1.1)" font-size="12" text-anchor="end">TCGA−S5−WTJ3−01A−11R−A13Y−07</text><text transform="translate(769.66 500.15) rotate(-90) scale(0.74 1.1)" font-size="12" text-anchor="end">TCGA−DJ−YXMB−01A−21R−A277−07</text><text transform="translate(773.01 516.31) rotate(-90) scale(0.74 1.1)" font-size="12" text-anchor="end">TCGA−E5−VWVD−01A−11R−A277−07</text><text transform="translate(776.36 516.31) rotate(-90) scale(0.74 1.1)" font-size="12" text-anchor="end">TCGA−LC−LG9E−01A−12R−A277−07</text><text transform="translate(779.72 516.38) rotate(-90) scale(0.74 1.1)" font-size="12" text-anchor="end">TCGA−DK−4C2Z−01A−11R−A277−07</text><text transform="translate(783.07 516.38) rotate(-90) scale(0.74 1.1)" font-size="12" text-anchor="end">TCGA−UY−4LRP−01A−11R−A13Y−07</text><text transform="translate(786.42 514.3) rotate(-90) scale(0.74 1.1)" font-size="12" text-anchor="end">TCGA−BL−TGT8−01A−11R−A277−07</text><text transform="translate(789.78 512.64) rotate(-90) scale(0.74 1.1)" font-size="12" text-anchor="end">TCGA−LC−EWVL−01A−21R−A277−07</text><text transform="translate(793.13 512.64) rotate(-90) scale(0.74 1.1)" font-size="12" text-anchor="end">TCGA−K4−IL24−01B−04R−A277−07</text><text transform="translate(796.48 504.19) rotate(-90) scale(0.74 1.1)" font-size="12" text-anchor="end">TCGA−LC−R997−01A−11R−A277−07</text><text transform="translate(799.84 482.06) rotate(-90) scale(0.74 1.1)" font-size="12" text-anchor="end">TCGA−CG−JXE6−01A−11R−A277−07</text><text transform="translate(803.19 468.9) rotate(-90) scale(0.74 1.1)" font-size="12" text-anchor="end">TCGA−DK−EF8U−01A−12R−A277−07</text><text transform="translate(806.54 519.68) rotate(-90) scale(0.74 1.1)" font-size="12" text-anchor="end">TCGA−PQ−YIVT−01A−11R−A277−07</text><text transform="translate(809.9 519.68) rotate(-90) scale(0.74 1.1)" font-size="12" text-anchor="end">TCGA−YC−BG3W−01A−21R−A277−07</text><text transform="translate(819.96 508.99) rotate(-90) scale(0.74 1.1)" font-size="12" text-anchor="end">TCGA−LT−RKXT−01B−04R−A277−07</text><text transform="translate(823.31 508.99) rotate(-90) scale(0.74 1.1)" font-size="12" text-anchor="end">TCGA−E7−021L−01B−04R−A277−07</text><text transform="translate(816.61 501.06) rotate(-90) scale(0.74 1.1)" font-size="12" text-anchor="end">TCGA−DJ−NC6P−01A−21R−A277−07</text><text transform="translate(836.73 519.17) rotate(-90) scale(0.74 1.1)" font-size="12" text-anchor="end">TCGA−YC−H189−01B−04R−A277−07</text><text transform="translate(840.08 519.17) rotate(-90) scale(0.74 1.1)" font-size="12" text-anchor="end">TCGA−DJ−UEFJ−01A−21R−A277−07</text><text transform="translate(833.37 517.24) rotate(-90) scale(0.74 1.1)" font-size="12" text-anchor="end">TCGA−KQ−6H2D−01A−11R−A277−07</text><text transform="translate(830.02 508.97) rotate(-90) scale(0.74 1.1)" font-size="12" text-anchor="end">TCGA−PQ−0I13−01B−04R−A277−07</text><text transform="translate(826.67 500.48) rotate(-90) scale(0.74 1.1)" font-size="12" text-anchor="end">TCGA−BT−ZC9W−01A−21R−A277−07</text><text transform="translate(813.25 491.85) rotate(-90) scale(0.74 1.1)" font-size="12" text-anchor="end">TCGA−GV−8Q6C−01A−11R−A277−07</text><text transform="translate(846.79 503.97) rotate(-90) scale(0.74 1.1)" font-size="12" text-anchor="end">TCGA−CF−90UN−01A−11R−A277−07</text><text transform="translate(850.14 503.97) rotate(-90) scale(0.74 1.1)" font-size="12" text-anchor="end">TCGA−BT−YOE5−01A−11R−A277−07</text><text transform="translate(843.43 496.77) rotate(-90) scale(0.74 1.1)" font-size="12" text-anchor="end">TCGA−E5−675R−01A−11R−A277−07</text><text transform="translate(853.49 517.81) rotate(-90) scale(0.74 1.1)" font-size="12" text-anchor="end">TCGA−LT−BVHQ−01B−04R−A277−07</text><text transform="translate(856.85 517.81) rotate(-90) scale(0.74 1.1)" font-size="12" text-anchor="end">TCGA−KQ−REUJ−01A−11R−A277−07</text><text transform="translate(860.2 500.65) rotate(-90) scale(0.74 1.1)" font-size="12" text-anchor="end">TCGA−CF−JOLV−01A−11R−A13Y−07</text><text transform="translate(863.55 505.97) rotate(-90) scale(0.74 1.1)" font-size="12" text-anchor="end">TCGA−C4−NUQW−01A−11R−A277−07</text><text transform="translate(866.91 505.97) rotate(-90) scale(0.74 1.1)" font-size="12" text-anchor="end">TCGA−KQ−013P−01A−11R−A277−07</text><text transform="translate(870.26 518.76) rotate(-90) scale(0.74 1.1)" font-size="12" text-anchor="end">TCGA−R3−T9AM−01A−12R−A277−07</text><text transform="translate(873.62 518.76) rotate(-90) scale(0.74 1.1)" font-size="12" text-anchor="end">TCGA−GV−8N27−01A−21R−A277−07</text><text transform="translate(876.97 508.73) rotate(-90) scale(0.74 1.1)" font-size="12" text-anchor="end">TCGA−LC−LTSJ−01A−11R−A277−07</text><text transform="translate(880.32 508.73) rotate(-90) scale(0.74 1.1)" font-size="12" text-anchor="end">TCGA−H4−011P−01A−11R−A13Y−07</text><text transform="translate(883.68 515) rotate(-90) scale(0.74 1.1)" font-size="12" text-anchor="end">TCGA−LT−8G59−01A−11R−A13Y−07</text><text transform="translate(887.03 515) rotate(-90) scale(0.74 1.1)" font-size="12" text-anchor="end">TCGA−G2−46RZ−01A−21R−A277−07</text><text transform="translate(893.74 519.94) rotate(-90) scale(0.74 1.1)" font-size="12" text-anchor="end">TCGA−GD−IEMD−01B−04R−A277−07</text><text transform="translate(897.09 519.94) rotate(-90) scale(0.74 1.1)" font-size="12" text-anchor="end">TCGA−LC−MM8D−01B−04R−A277−07</text><text transform="translate(890.38 518.04) rotate(-90) scale(0.74 1.1)" font-size="12" text-anchor="end">TCGA−CF−PI5J−01A−12R−A277−07</text><text transform="translate(900.44 488.24) rotate(-90) scale(0.74 1.1)" font-size="12" text-anchor="end">TCGA−CU−XOPK−01B−04R−A277−07</text><text transform="translate(903.8 504.32) rotate(-90) scale(0.74 1.1)" font-size="12" text-anchor="end">TCGA−HQ−AFE6−01A−11R−A13Y−07</text><text transform="translate(907.15 504.32) rotate(-90) scale(0.74 1.1)" font-size="12" text-anchor="end">TCGA−SY−TNMI−01B−04R−A277−07</text><text transform="translate(917.21 519.51) rotate(-90) scale(0.74 1.1)" font-size="12" text-anchor="end">TCGA−ZF−TEA3−01A−21R−A277−07</text><text transform="translate(920.57 519.51) rotate(-90) scale(0.74 1.1)" font-size="12" text-anchor="end">TCGA−H4−NNBR−01A−11R−A277−07</text><text transform="translate(913.86 498.57) rotate(-90) scale(0.74 1.1)" font-size="12" text-anchor="end">TCGA−H4−N2T2−01A−11R−A13Y−07</text><text transform="translate(927.27 518.26) rotate(-90) scale(0.74 1.1)" font-size="12" text-anchor="end">TCGA−S5−D1IL−01A−12R−A277−07</text><text transform="translate(930.63 518.26) rotate(-90) scale(0.74 1.1)" font-size="12" text-anchor="end">TCGA−YF−1XCJ−01A−11R−A277−07</text><text transform="translate(933.98 508.09) rotate(-90) scale(0.74 1.1)" font-size="12" text-anchor="end">TCGA−KQ−YD2I−01A−11R−A277−07</text><text transform="translate(937.33 508.09) rotate(-90) scale(0.74 1.1)" font-size="12" text-anchor="end">TCGA−MV−T4O8−01A−12R−A277−07</text><text transform="translate(923.92 493.38) rotate(-90) scale(0.74 1.1)" font-size="12" text-anchor="end">TCGA−S5−S921−01A−11R−A13Y−07</text><text transform="translate(940.69 528.72) rotate(-90) scale(0.74 1.1)" font-size="12" text-anchor="end">TCGA−E7−8Y3L−01A−12R−A277−07</text><text transform="translate(944.04 528.72) rotate(-90) scale(0.74 1.1)" font-size="12" text-anchor="end">TCGA−YC−U6IH−01A−11R−A13Y−07</text><text transform="translate(947.39 507.82) rotate(-90) scale(0.74 1.1)" font-size="12" text-anchor="end">TCGA−GV−53WQ−01A−12R−A277−07</text><text transform="translate(950.75 507.82) rotate(-90) scale(0.74 1.1)" font-size="12" text-anchor="end">TCGA−YF−OLBA−01A−21R−A277−07</text><text transform="translate(910.5 479.65) rotate(-90) scale(0.74 1.1)" font-size="12" text-anchor="end">TCGA−E7−6H7D−01A−11R−A277−07</text><text transform="translate(957.45 504.59) rotate(-90) scale(0.74 1.1)" font-size="12" text-anchor="end">TCGA−MV−EWQI−01A−11R−A277−07</text><text transform="translate(960.81 504.59) rotate(-90) scale(0.74 1.1)" font-size="12" text-anchor="end">TCGA−C4−78KW−01A−11R−A13Y−07</text><text transform="translate(954.1 493.67) rotate(-90) scale(0.74 1.1)" font-size="12" text-anchor="end">TCGA−LC−GYSX−01A−21R−A277−07</text><text transform="translate(964.16 502.02) rotate(-90) scale(0.74 1.1)" font-size="12" text-anchor="end">TCGA−YF−KPF3−01B−04R−A277−07</text><text transform="translate(967.51 502.02) rotate(-90) scale(0.74 1.1)" font-size="12" text-anchor="end">TCGA−UY−7WRM−01A−21R−A277−07</text><text transform="translate(974.22 507.27) rotate(-90) scale(0.74 1.1)" font-size="12" text-anchor="end">TCGA−GU−AOSZ−01B−04R−A277−07</text><text transform="translate(977.58 507.27) rotate(-90) scale(0.74 1.1)" font-size="12" text-anchor="end">TCGA−GD−7A0X−01A−12R−A277−07</text><text transform="translate(970.87 490.57) rotate(-90) scale(0.74 1.1)" font-size="12" text-anchor="end">TCGA−C4−4KBA−01B−04R−A277−07</text><text transform="translate(980.93 510.68) rotate(-90) scale(0.74 1.1)" font-size="12" text-anchor="end">TCGA−BL−HAZJ−01A−21R−A277−07</text><text transform="translate(984.28 510.68) rotate(-90) scale(0.74 1.1)" font-size="12" text-anchor="end">TCGA−GC−BVZE−01A−12R−A277−07</text><text transform="translate(990.99 525.04) rotate(-90) scale(0.74 1.1)" font-size="12" text-anchor="end">TCGA−LT−OPLI−01A−11R−A13Y−07</text><text transform="translate(994.34 525.04) rotate(-90) scale(0.74 1.1)" font-size="12" text-anchor="end">TCGA−4Z−37GE−01A−12R−A277−07</text><text transform="translate(987.64 509.65) rotate(-90) scale(0.74 1.1)" font-size="12" text-anchor="end">TCGA−S5−GQ4K−01A−11R−A13Y−07</text><text transform="translate(997.7 517.37) rotate(-90) scale(0.74 1.1)" font-size="12" text-anchor="end">TCGA−PQ−6Q4U−01A−11R−A277−07</text><text transform="translate(1001.05 517.37) rotate(-90) scale(0.74 1.1)" font-size="12" text-anchor="end">TCGA−C4−F5JE−01A−21R−A277−07</text><text transform="translate(1004.4 509.31) rotate(-90) scale(0.74 1.1)" font-size="12" text-anchor="end">TCGA−DJ−UTXR−01A−11R−A13Y−07</text><text transform="translate(1007.76 509.31) rotate(-90) scale(0.74 1.1)" font-size="12" text-anchor="end">TCGA−BL−N7CN−01A−11R−A277−07</text><text transform="translate(1011.11 526.77) rotate(-90) scale(0.74 1.1)" font-size="12" text-anchor="end">TCGA−R3−VUB1−01A−11R−A13Y−07</text><text transform="translate(1014.46 526.77) rotate(-90) scale(0.74 1.1)" font-size="12" text-anchor="end">TCGA−YF−GW5G−01A−21R−A277−07</text><text transform="translate(1017.82 503.29) rotate(-90) scale(0.74 1.1)" font-size="12" text-anchor="end">TCGA−ZF−AGUA−01A−11R−A277−07</text><text transform="translate(1027.88 517.4) rotate(-90) scale(0.74 1.1)" font-size="12" text-anchor="end">TCGA−CG−1HLJ−01A−11R−A277−07</text><text transform="translate(1031.23 517.4) rotate(-90) scale(0.74 1.1)" font-size="12" text-anchor="end">TCGA−4Z−XCSN−01A−11R−A13Y−07</text><text transform="translate(1024.52 515.38) rotate(-90) scale(0.74 1.1)" font-size="12" text-anchor="end">TCGA−CF−SPEF−01A−11R−A13Y−07</text><text transform="translate(1021.17 505.9) rotate(-90) scale(0.74 1.1)" font-size="12" text-anchor="end">TCGA−HQ−ESGL−01A−11R−A13Y−07</text><text transform="translate(1037.94 528.77) rotate(-90) scale(0.74 1.1)" font-size="12" text-anchor="end">TCGA−R3−AM59−01A−21R−A277−07</text><text transform="translate(1041.29 528.77) rotate(-90) scale(0.74 1.1)" font-size="12" text-anchor="end">TCGA−CF−7ZR8−01A−11R−A277−07</text><text transform="translate(1034.59 496.54) rotate(-90) scale(0.74 1.1)" font-size="12" text-anchor="end">TCGA−XF−3SOC−01A−11R−A13Y−07</text><text transform="translate(1048 502.41) rotate(-90) scale(0.74 1.1)" font-size="12" text-anchor="end">TCGA−HQ−K2YD−01A−11R−A13Y−07</text><text transform="translate(1051.35 502.41) rotate(-90) scale(0.74 1.1)" font-size="12" text-anchor="end">TCGA−HQ−IJ99−01A−12R−A277−07</text><text transform="translate(1044.65 497.74) rotate(-90) scale(0.74 1.1)" font-size="12" text-anchor="end">TCGA−BL−YMY2−01A−21R−A277−07</text><text transform="translate(1058.06 522.49) rotate(-90) scale(0.74 1.1)" font-size="12" text-anchor="end">TCGA−ZF−SN44−01B−04R−A277−07</text><text transform="translate(1061.41 522.49) rotate(-90) scale(0.74 1.1)" font-size="12" text-anchor="end">TCGA−LT−HKCP−01A−12R−A277−07</text><text transform="translate(1054.71 500.04) rotate(-90) scale(0.74 1.1)" font-size="12" text-anchor="end">TCGA−E7−A66N−01A−21R−A277−07</text><text transform="translate(1064.77 499.71) rotate(-90) scale(0.74 1.1)" font-size="12" text-anchor="end">TCGA−GU−JEPN−01A−11R−A277−07</text><text transform="translate(1068.12 499.71) rotate(-90) scale(0.74 1.1)" font-size="12" text-anchor="end">TCGA−DJ−PA9M−01A−11R−A277−07</text><text transform="translate(1078.18 520.51) rotate(-90) scale(0.74 1.1)" font-size="12" text-anchor="end">TCGA−CU−OGQK−01A−11R−A13Y−07</text><text transform="translate(1081.54 520.51) rotate(-90) scale(0.74 1.1)" font-size="12" text-anchor="end">TCGA−LC−KYA4−01B−04R−A277−07</text><text transform="translate(1074.83 518.65) rotate(-90) scale(0.74 1.1)" font-size="12" text-anchor="end">TCGA−CG−UOHA−01A−12R−A277−07</text><text transform="translate(1071.47 509.43) rotate(-90) scale(0.74 1.1)" font-size="12" text-anchor="end">TCGA−2F−SSK2−01A−21R−A277−07</text><text transform="translate(1084.89 501.46) rotate(-90) scale(0.74 1.1)" font-size="12" text-anchor="end">TCGA−HQ−XTU1−01A−11R−A277−07</text><text transform="translate(1088.24 501.46) rotate(-90) scale(0.74 1.1)" font-size="12" text-anchor="end">TCGA−SY−C1M5−01A−11R−A277−07</text><text transform="translate(1091.6 528.71) rotate(-90) scale(0.74 1.1)" font-size="12" text-anchor="end">TCGA−HQ−N7BX−01B−04R−A277−07</text><text transform="translate(1094.95 528.71) rotate(-90) scale(0.74 1.1)" font-size="12" text-anchor="end">TCGA−GD−KHYE−01A−12R−A277−07</text><text transform="translate(1098.3 498.75) rotate(-90) scale(0.74 1.1)" font-size="12" text-anchor="end">TCGA−LT−XBSD−01A−11R−A13Y−07</text><text transform="translate(1105.01 504.68) rotate(-90) scale(0.74 1.1)" font-size="12" text-anchor="end">TCGA−YC−CPHF−01A−11R−A13Y−07</text><text transform="translate(1108.36 504.68) rotate(-90) scale(0.74 1.1)" font-size="12" text-anchor="end">TCGA−LT−QEES−01B−04R−A277−07</text><text transform="translate(1101.66 498.54) rotate(-90) scale(0.74 1.1)" font-size="12" text-anchor="end">TCGA−E5−1D18−01B−04R−A277−07</text><text transform="translate(1121.78 512.86) rotate(-90) scale(0.74 1.1)" font-size="12" text-anchor="end">TCGA−CF−HTL7−01A−11R−A13Y−07</text><text transform="translate(1125.13 512.86) rotate(-90) scale(0.74 1.1)" font-size="12" text-anchor="end">TCGA−GV−LDIN−01A−12R−A277−07</text><text transform="translate(1128.48 508.54) rotate(-90) scale(0.74 1.1)" font-size="12" text-anchor="end">TCGA−S5−FF5P−01B−04R−A277−07</text><text transform="translate(1131.84 508.54) rotate(-90) scale(0.74 1.1)" font-size="12" text-anchor="end">TCGA−GU−GUTK−01A−21R−A277−07</text><text transform="translate(1118.42 496.64) rotate(-90) scale(0.74 1.1)" font-size="12" text-anchor="end">TCGA−GU−HUY5−01A−21R−A277−07</text><text transform="translate(1115.07 484.08) rotate(-90) scale(0.74 1.1)" font-size="12" text-anchor="end">TCGA−SY−FHGG−01A−11R−A13Y−07</text><text transform="translate(1135.19 514.35) rotate(-90) scale(0.74 1.1)" font-size="12" text-anchor="end">TCGA−CF−754H−01A−12R−A277−07</text><text transform="translate(1138.55 514.35) rotate(-90) scale(0.74 1.1)" font-size="12" text-anchor="end">TCGA−GV−8I8L−01A−11R−A277−07</text><text transform="translate(1141.9 505.66) rotate(-90) scale(0.74 1.1)" font-size="12" text-anchor="end">TCGA−DJ−UC8I−01A−12R−A277−07</text><text transform="translate(1145.25 505.66) rotate(-90) scale(0.74 1.1)" font-size="12" text-anchor="end">TCGA−H4−FHRE−01B−04R−A277−07</text><text transform="translate(1148.61 506.3) rotate(-90) scale(0.74 1.1)" font-size="12" text-anchor="end">TCGA−PQ−4E85−01A−21R−A277−07</text><text transform="translate(1151.96 506.3) rotate(-90) scale(0.74 1.1)" font-size="12" text-anchor="end">TCGA−GD−ZIDY−01A−11R−A13Y−07</text><text transform="translate(1155.31 502.2) rotate(-90) scale(0.74 1.1)" font-size="12" text-anchor="end">TCGA−PQ−CEZR−01A−21R−A277−07</text><text transform="translate(1158.67 526.08) rotate(-90) scale(0.74 1.1)" font-size="12" text-anchor="end">TCGA−BL−2TGV−01B−04R−A277−07</text><text transform="translate(1162.02 526.08) rotate(-90) scale(0.74 1.1)" font-size="12" text-anchor="end">TCGA−FJ−2GGI−01A−11R−A277−07</text><text transform="translate(1111.72 467.23) rotate(-90) scale(0.74 1.1)" font-size="12" text-anchor="end">TCGA−BL−J8MS−01A−11R−A277−07</text><text transform="translate(1168.73 513.72) rotate(-90) scale(0.74 1.1)" font-size="12" text-anchor="end">TCGA−E7−BX9K−01A−11R−A277−07</text><text transform="translate(1172.08 513.72) rotate(-90) scale(0.74 1.1)" font-size="12" text-anchor="end">TCGA−BL−FHNC−01B−04R−A277−07</text><text transform="translate(1175.43 527.65) rotate(-90) scale(0.74 1.1)" font-size="12" text-anchor="end">TCGA−GU−VTWZ−01A−12R−A277−07</text><text transform="translate(1178.79 527.65) rotate(-90) scale(0.74 1.1)" font-size="12" text-anchor="end">TCGA−GV−JEH0−01A−11R−A277−07</text><text transform="translate(1182.14 517.69) rotate(-90) scale(0.74 1.1)" font-size="12" text-anchor="end">TCGA−PQ−SPDK−01A−11R−A277−07</text><text transform="translate(1185.5 517.69) rotate(-90) scale(0.74 1.1)" font-size="12" text-anchor="end">TCGA−S5−HXRT−01A−11R−A277−07</text><text transform="translate(1188.85 518.11) rotate(-90) scale(0.74 1.1)" font-size="12" text-anchor="end">TCGA−GU−C3WS−01A−21R−A277−07</text><text transform="translate(1192.2 518.11) rotate(-90) scale(0.74 1.1)" font-size="12" text-anchor="end">TCGA−DJ−598J−01A−11R−A13Y−07</text><text transform="translate(1195.56 518.11) rotate(-90) scale(0.74 1.1)" font-size="12" text-anchor="end">TCGA−XF−SXEE−01A−21R−A277−07</text><text transform="translate(1198.91 518.11) rotate(-90) scale(0.74 1.1)" font-size="12" text-anchor="end">TCGA−ZF−WPSF−01A−21R−A277−07</text><text transform="translate(1202.26 526.26) rotate(-90) scale(0.74 1.1)" font-size="12" text-anchor="end">TCGA−XF−0E8F−01A−21R−A277−07</text><text transform="translate(1205.62 526.26) rotate(-90) scale(0.74 1.1)" font-size="12" text-anchor="end">TCGA−XF−F8FM−01A−11R−A13Y−07</text><text transform="translate(1208.97 515.85) rotate(-90) scale(0.74 1.1)" font-size="12" text-anchor="end">TCGA−H4−Y4S1−01A−11R−A277−07</text><text transform="translate(1212.32 515.85) rotate(-90) scale(0.74 1.1)" font-size="12" text-anchor="end">TCGA−K4−YTG8−01A−11R−A277−07</text><text transform="translate(1215.68 510.02) rotate(-90) scale(0.74 1.1)" font-size="12" text-anchor="end">TCGA−CG−VQXK−01A−12R−A277−07</text><text transform="translate(1219.03 510.02) rotate(-90) scale(0.74 1.1)" font-size="12" text-anchor="end">TCGA−E5−FNYD−01A−11R−A277−07</text><text transform="translate(1222.38 524.29) rotate(-90) scale(0.74 1.1)" font-size="12" text-anchor="end">TCGA−GV−7L2J−01A−11R−A277−07</text><text transform="translate(1225.74 524.29) rotate(-90) scale(0.74 1.1)" font-size="12" text-anchor="end">TCGA−GC−KTKM−01B−04R−A277−07</text><text transform="translate(1229.09 510.73) rotate(-90) scale(0.74 1.1)" font-size="12" text-anchor="end">TCGA−GU−5QKR−01A−12R−A277−07</text><text transform="translate(1232.44 510.73) rotate(-90) scale(0.74 1.1)" font-size="12" text-anchor="end">TCGA−S5−3MPG−01A−11R−A13Y−07</text><text transform="translate(1235.8 515.11) rotate(-90) scale(0.74 1.1)" font-size="12" text-anchor="end">TCGA−GV−15T1−01A−11R−A277−07</text><text transform="translate(1239.15 515.11) rotate(-90) scale(0.74 1.1)" font-size="12" text-anchor="end">TCGA−HQ−OLXW−01B−04R−A277−07</text><text transform="translate(1242.51 527.29) rotate(-90) scale(0.74 1.1)" font-size="12" text-anchor="end">TCGA−S5−SLJ3−01A−11R−A277−07</text><text transform="translate(1245.86 527.29) rotate(-90) scale(0.74 1.1)" font-size="12" text-anchor="end">TCGA−YC−5MOD−01A−11R−A13Y−07</text><text transform="translate(1249.21 524.22) rotate(-90) scale(0.74 1.1)" font-size="12" text-anchor="end">TCGA−LC−PEVY−01B−04R−A277−07</text><text transform="translate(1252.57 524.22) rotate(-90) scale(0.74 1.1)" font-size="12" text-anchor="end">TCGA−CU−TOAZ−01A−12R−A277−07</text><text transform="translate(1255.92 528.01) rotate(-90) scale(0.74 1.1)" font-size="12" text-anchor="end">TCGA−XF−V8LS−01A−11R−A13Y−07</text><text transform="translate(1259.27 528.01) rotate(-90) scale(0.74 1.1)" font-size="12" text-anchor="end">TCGA−YC−IDNN−01B−04R−A277−07</text><text transform="translate(1262.63 515.14) rotate(-90) scale(0.74 1.1)" font-size="12" text-anchor="end">TCGA−GU−A4YF−01B−04R−A277−07</text><text transform="translate(1265.98 515.14) rotate(-90) scale(0.74 1.1)" font-size="12" text-anchor="end">TCGA−HQ−WI0R−01B−04R−A277−07</text><text transform="translate(1272.69 501.45) rotate(-90) scale(0.74 1.1)" font-size="12" text-anchor="end">TCGA−HQ−LRHF−01A−21R−A277−07</text><text transform="translate(1276.04 501.45) rotate(-90) scale(0.74 1.1)" font-size="12" text-anchor="end">TCGA−E7−QUX2−01A−11R−A277−07</text><text transform="translate(1279.39 506.68) rotate(-90) scale(0.74 1.1)" font-size="12" text-anchor="end">TCGA−R3−75T2−01B−04R−A277−07</text><text transform="translate(1282.75 506.68) rotate(-90) scale(0.74 1.1)" font-size="12" text-anchor="end">TCGA−S5−DHWM−01A−11R−A13Y−07</text><text transform="translate(1269.33 488.18) rotate(-90) scale(0.74 1.1)" font-size="12" text-anchor="end">TCGA−HQ−VQM4−01A−11R−A277−07</text><text transform="translate(1165.37 456.69) rotate(-90) scale(0.74 1.1)" font-size="12" text-anchor="end">TCGA−GU−C1CK−01A−21R−A277−07</text><text transform="translate(1296.16 521.81) rotate(-90) scale(0.74 1.1)" font-size="12" text-anchor="end">TCGA−GD−COO4−01A−11R−A13Y−07</text><text transform="translate(1299.52 521.81) rotate(-90) scale(0.74 1.1)" font-size="12" text-anchor="end">TCGA−MV−FMYY−01A−11R−A13Y−07</text><text transform="translate(1292.81 502.34) rotate(-90) scale(0.74 1.1)" font-size="12" text-anchor="end">TCGA−2F−8CX3−01A−21R−A277−07</text><text transform="translate(1289.46 492.69) rotate(-90) scale(0.74 1.1)" font-size="12" text-anchor="end">TCGA−UY−O5GZ−01B−04R−A277−07</text><text transform="translate(1302.87 487.84) rotate(-90) scale(0.74 1.1)" font-size="12" text-anchor="end">TCGA−GU−O00N−01A−11R−A277−07</text><text transform="translate(1306.22 504.03) rotate(-90) scale(0.74 1.1)" font-size="12" text-anchor="end">TCGA−XF−0FVZ−01A−21R−A277−07</text><text transform="translate(1309.58 504.03) rotate(-90) scale(0.74 1.1)" font-size="12" text-anchor="end">TCGA−LT−Q8W8−01A−12R−A277−07</text><text transform="translate(1312.93 495.11) rotate(-90) scale(0.74 1.1)" font-size="12" text-anchor="end">TCGA−K4−491N−01A−11R−A277−07</text><text transform="translate(1316.28 485.15) rotate(-90) scale(0.74 1.1)" font-size="12" text-anchor="end">TCGA−GU−J92B−01A−11R−A13Y−07</text><text transform="translate(1319.64 478.07) rotate(-90) scale(0.74 1.1)" font-size="12" text-anchor="end">TCGA−HQ−HT4K−01A−11R−A277−07</text><text transform="translate(1322.99 517.37) rotate(-90) scale(0.74 1.1)" font-size="12" text-anchor="end">TCGA−CG−6N5L−01A−11R−A277−07</text><text transform="translate(1326.34 517.37) rotate(-90) scale(0.74 1.1)" font-size="12" text-anchor="end">TCGA−YF−V7BY−01A−11R−A13Y−07</text><text transform="translate(1329.7 510.95) rotate(-90) scale(0.74 1.1)" font-size="12" text-anchor="end">TCGA−GU−USKC−01A−11R−A277−07</text><text transform="translate(1333.05 522.86) rotate(-90) scale(0.74 1.1)" font-size="12" text-anchor="end">TCGA−K4−FKK9−01A−11R−A277−07</text><text transform="translate(1336.4 522.86) rotate(-90) scale(0.74 1.1)" font-size="12" text-anchor="end">TCGA−DK−KUTU−01A−12R−A277−07</text><text transform="translate(1339.76 492.09) rotate(-90) scale(0.74 1.1)" font-size="12" text-anchor="end">TCGA−GD−UXLJ−01B−04R−A277−07</text><text transform="translate(1343.11 480.26) rotate(-90) scale(0.74 1.1)" font-size="12" text-anchor="end">TCGA−DK−R7KI−01A−11R−A13Y−07</text><text transform="translate(1346.47 512.02) rotate(-90) scale(0.74 1.1)" font-size="12" text-anchor="end">TCGA−LC−OIBF−01A−21R−A277−07</text><text transform="translate(1349.82 512.02) rotate(-90) scale(0.74 1.1)" font-size="12" text-anchor="end">TCGA−HQ−ODIC−01A−11R−A13Y−07</text><text transform="translate(1356.53 520.21) rotate(-90) scale(0.74 1.1)" font-size="12" text-anchor="end">TCGA−GU−4EGB−01A−11R−A13Y−07</text><text transform="translate(1359.88 520.21) rotate(-90) scale(0.74 1.1)" font-size="12" text-anchor="end">TCGA−2F−CBQS−01B−04R−A277−07</text><text transform="translate(1363.23 518.33) rotate(-90) scale(0.74 1.1)" font-size="12" text-anchor="end">TCGA−KQ−YR4E−01B−04R−A277−07</text><text transform="translate(1353.17 515.24) rotate(-90) scale(0.74 1.1)" font-size="12" text-anchor="end">TCGA−4Z−BMEI−01A−11R−A13Y−07</text><text transform="translate(1366.59 529.41) rotate(-90) scale(0.74 1.1)" font-size="12" text-anchor="end">TCGA−BT−G02W−01A−11R−A13Y−07</text><text transform="translate(1369.94 529.41) rotate(-90) scale(0.74 1.1)" font-size="12" text-anchor="end">TCGA−HQ−XDGI−01B−04R−A277−07</text><text transform="translate(1373.29 486.11) rotate(-90) scale(0.74 1.1)" font-size="12" text-anchor="end">TCGA−4Z−YCAW−01B−04R−A277−07</text><text transform="translate(1376.65 479.35) rotate(-90) scale(0.74 1.1)" font-size="12" text-anchor="end">TCGA−HQ−3UMW−01A−11R−A277−07</text><text transform="translate(1386.71 511.1) rotate(-90) scale(0.74 1.1)" font-size="12" text-anchor="end">TCGA−ZF−72G9−01B−04R−A277−07</text><text transform="translate(1390.06 511.1) rotate(-90) scale(0.74 1.1)" font-size="12" text-anchor="end">TCGA−CU−JIYC−01A−12R−A277−07</text><text transform="translate(1383.35 508.74) rotate(-90) scale(0.74 1.1)" font-size="12" text-anchor="end">TCGA−S5−WOIO−01A−11R−A277−07</text><text transform="translate(1380 503.47) rotate(-90) scale(0.74 1.1)" font-size="12" text-anchor="end">TCGA−MV−99Q5−01A−11R−A13Y−07</text><text transform="translate(1393.41 504.28) rotate(-90) scale(0.74 1.1)" font-size="12" text-anchor="end">TCGA−GC−28O0−01A−11R−A277−07</text><text transform="translate(1396.77 504.28) rotate(-90) scale(0.74 1.1)" font-size="12" text-anchor="end">TCGA−ZF−RXZO−01A−11R−A277−07</text><text transform="translate(1403.48 506.85) rotate(-90) scale(0.74 1.1)" font-size="12" text-anchor="end">TCGA−E7−5OV3−01A−11R−A13Y−07</text><text transform="translate(1406.83 506.85) rotate(-90) scale(0.74 1.1)" font-size="12" text-anchor="end">TCGA−HQ−KVER−01B−04R−A277−07</text><text transform="translate(1400.12 504.27) rotate(-90) scale(0.74 1.1)" font-size="12" text-anchor="end">TCGA−YC−6G9R−01A−21R−A277−07</text><text transform="translate(1416.89 513.05) rotate(-90) scale(0.74 1.1)" font-size="12" text-anchor="end">TCGA−YF−7200−01A−21R−A277−07</text><text transform="translate(1420.24 513.05) rotate(-90) scale(0.74 1.1)" font-size="12" text-anchor="end">TCGA−H4−YY87−01A−12R−A277−07</text><text transform="translate(1413.54 501.99) rotate(-90) scale(0.74 1.1)" font-size="12" text-anchor="end">TCGA−XF−G0QM−01A−11R−A277−07</text><text transform="translate(1410.18 493.08) rotate(-90) scale(0.74 1.1)" font-size="12" text-anchor="end">TCGA−K4−SWZI−01B−04R−A277−07</text><text transform="translate(1426.95 518.82) rotate(-90) scale(0.74 1.1)" font-size="12" text-anchor="end">TCGA−GV−D99J−01A−11R−A277−07</text><text transform="translate(1430.3 518.82) rotate(-90) scale(0.74 1.1)" font-size="12" text-anchor="end">TCGA−UY−NOCG−01A−11R−A13Y−07</text><text transform="translate(1433.66 500.68) rotate(-90) scale(0.74 1.1)" font-size="12" text-anchor="end">TCGA−S5−D87H−01A−11R−A277−07</text><text transform="translate(1423.6 495.78) rotate(-90) scale(0.74 1.1)" font-size="12" text-anchor="end">TCGA−XF−PTCZ−01B−04R−A277−07</text><text transform="translate(1437.01 490.36) rotate(-90) scale(0.74 1.1)" font-size="12" text-anchor="end">TCGA−CF−CKT7−01B−04R−A277−07</text><text transform="translate(1443.72 515.18) rotate(-90) scale(0.74 1.1)" font-size="12" text-anchor="end">TCGA−C4−27AF−01A−11R−A277−07</text><text transform="translate(1447.07 515.18) rotate(-90) scale(0.74 1.1)" font-size="12" text-anchor="end">TCGA−K4−ZVK8−01A−12R−A277−07</text><text transform="translate(1450.43 513.04) rotate(-90) scale(0.74 1.1)" font-size="12" text-anchor="end">TCGA−S5−B3VH−01A−11R−A277−07</text><text transform="translate(1440.36 509.3) rotate(-90) scale(0.74 1.1)" font-size="12" text-anchor="end">TCGA−K4−WKDB−01A−11R−A13Y−07</text><text transform="translate(1453.78 498.44) rotate(-90) scale(0.74 1.1)" font-size="12" text-anchor="end">TCGA−BT−67HA−01A−11R−A13Y−07</text><text transform="translate(1457.13 506.64) rotate(-90) scale(0.74 1.1)" font-size="12" text-anchor="end">TCGA−4Z−4LFU−01A−21R−A277−07</text><text transform="translate(1460.49 506.64) rotate(-90) scale(0.74 1.1)" font-size="12" text-anchor="end">TCGA−FD−4SQH−01A−11R−A13Y−07</text><text transform="translate(1467.19 520.88) rotate(-90) scale(0.74 1.1)" font-size="12" text-anchor="end">TCGA−LC−368U−01A−11R−A13Y−07</text><text transform="translate(1470.55 520.88) rotate(-90) scale(0.74 1.1)" font-size="12" text-anchor="end">TCGA−CF−G61M−01A−12R−A277−07</text><text transform="translate(1463.84 514.3) rotate(-90) scale(0.74 1.1)" font-size="12" text-anchor="end">TCGA−R3−B414−01A−12R−A277−07</text><text transform="translate(1473.9 507.82) rotate(-90) scale(0.74 1.1)" font-size="12" text-anchor="end">TCGA−YF−35TE−01A−11R−A277−07</text><text transform="translate(1286.1 386) rotate(-90) scale(0.74 1.1)" font-size="12" text-anchor="end">TCGA−ZF−NHXI−01A−12R−A277−07</text></g>
<text transform="translate(1.24 35.1) scale(1 1.03)" font-size="42" font-weight="bold" fill="#000">A</text>
<g transform="translate(96.8 847.2) scale(1.36931 14.9414)" fill="none" stroke-width="1">
<path stroke="#aaaaff" d="M0 0.5h1M49 0.5h1M157 0.5h1M220 0.5h1M236 0.5h1M257 0.5h1M335 0.5h1M31 1.5h1M38 1.5h1M40 1.5h1M51 1.5h1M56 1.5h1M73 1.5h1M84 1.5h1M165 1.5h2M180 1.5h1M244 1.5h1M250 1.5h1M303 1.5h1M306 1.5h1M316 1.5h1M326 1.5h1M339 1.5h1M389 1.5h1M13 2.5h1M56 2.5h1M95 2.5h1M151 2.5h1M252 2.5h1M282 2.5h1M302 2.5h1M314 2.5h1M317 2.5h1M343 2.5h1M23 3.5h1M68 3.5h1M117 3.5h1M149 3.5h1M154 3.5h1M157 3.5h1M160 3.5h1M216 3.5h1M298 3.5h1M302 3.5h1M319 3.5h1M324 3.5h1M344 3.5h1M354 3.5h1M356 3.5h1M1 4.5h1M10 4.5h1M40 4.5h1M96 4.5h1M109 4.5h1M160 4.5h1M229 4.5h1M248 4.5h1M351 4.5h1M378 4.5h1M382 4.5h1M39 5.5h1M113 5.5h1M121 5.5h1M164 5.5h1M237 5.5h1M290 5.5h1M301 5.5h1M308 5.5h1M76 6.5h1M170 6.5h1M200 6.5h1M242 6.5h1M335 6.5h1M345 6.5h1M7 7.5h1M15 7.5h1M91 7.5h1M104 7.5h1M120 7.5h1M159 7.5h1M243 7.5h1M271 7.5h1M278 7.5h1M283 7.5h1M290 7.5h1M325 7.5h1M327 7.5h1M6 8.5h1M114 8.5h1M132 8.5h1M142 8.5h1M160 8.5h1M228 8.5h1M238 8.5h1M246 8.5h1M263 8.5h1M314 8.5h1M373 8.5h1M11 9.5h1M44 9.5h1M72 9.5h1M77 9.5h1M83 9.5h1M87 9.5h1M117 9.5h1M184 9.5h1M187 9.5h1M253 9.5h1M280 9.5h1M380 9.5h1M44 10.5h1M49 10.5h1M106 10.5h1M224 10.5h1M231 10.5h2M239 10.5h2M297 10.5h1M306 10.5h1M308 10.5h1M388 10.5h2M393 10.5h1M10 11.5h1M92 11.5h1M95 11.5h1M160 11.5h1M172 11.5h1M190 11.5h1M209 11.5h1M215 11.5h1M310 11.5h1M318 11.5h1M377 11.5h1M163 12.5h1M198 12.5h1M227 12.5h1M309 12.5h1M100 13.5h1M130 13.5h1M132 13.5h1M143 13.5h1M259 13.5h1M337 13.5h1M50 14.5h1M87 14.5h1M124 14.5h1M159 14.5h1M173 14.5h1M177 14.5h1M335 14.5h1M349 14.5h1M399 14.5h1M61 15.5h1M130 15.5h1M137 15.5h1M141 15.5h1M144 15.5h1M157 15.5h1M159 15.5h1M174 15.5h1M240 16.5h1M251 16.5h1M266 16.5h1M337 16.5h1M373 16.5h1M380 16.5h1M387 16.5h1M402 16.5h1M76 17.5h1M82 17.5h1M106 17.5h1M115 17.5h1M169 17.5h1M183 17.5h1M226 17.5h1M251 17.5h1M303 17.5h1M307 17.5h1M378 17.5h1M80 18.5h1M121 18.5h1M174 18.5h1M229 18.5h1M298 18.5h1M343 18.5h1M350 18.5h1M64 19.5h1M248 19.5h1M281 19.5h1M297 19.5h1M324 19.5h1M327 19.5h1M344 19.5h1M44 20.5h1M160 20.5h1M188 20.5h1M266 20.5h1M271 20.5h1M298 20.5h1M313 20.5h1M317 20.5h1M320 20.5h1M343 20.5h1M350 20.5h1M145 21.5h1M163 21.5h1M180 21.5h1M206 21.5h1M320 21.5h1M324 21.5h1M334 21.5h1M372 21.5h1M391 21.5h1M29 22.5h1M92 22.5h2M149 22.5h1M152 22.5h1M155 22.5h1M157 22.5h1M196 22.5h1M242 22.5h1M257 22.5h1M287 22.5h1M323 22.5h1M336 22.5h1M362 22.5h1M12 23.5h1M76 23.5h1M98 23.5h1M113 23.5h1M128 23.5h1M156 23.5h1M180 23.5h1M231 23.5h1M246 23.5h1M253 23.5h1M297 23.5h1M306 23.5h1M350 23.5h1M357 23.5h1M390 23.5h1M10 24.5h1M37 24.5h1M59 24.5h1M90 24.5h1M115 24.5h1M132 24.5h1M136 24.5h1M167 24.5h1M179 24.5h1M198 24.5h1M226 24.5h1M274 24.5h1M312 24.5h1M315 24.5h1M357 24.5h1M364 24.5h1M368 24.5h1M379 24.5h1M396 24.5h1M32 25.5h1M64 25.5h2M77 25.5h1M92 25.5h1M131 25.5h1M149 25.5h1M203 25.5h1M217 25.5h1M248 25.5h1M270 25.5h1M283 25.5h1M335 25.5h1M373 25.5h1M380 25.5h1M21 26.5h1M59 26.5h1M68 26.5h1M124 26.5h1M141 26.5h1M156 26.5h1M164 26.5h1M207 26.5h1M224 26.5h1M231 26.5h1M281 26.5h1M346 26.5h1M350 26.5h1M59 27.5h1M68 27.5h1M102 27.5h1M130 27.5h1M157 27.5h1M179 27.5h1M278 27.5h1M308 27.5h1M314 27.5h1M395 27.5h1M7 28.5h1M57 28.5h1M79 28.5h1M144 28.5h1M326 28.5h1M337 28.5h1M350 28.5h1M392 28.5h1"/>
<path stroke="#ccccff" d="M1 0.5h1M34 0.5h1M38 0.5h1M57 0.5h1M66 0.5h1M149 0.5h1M180 0.5h1M182 0.5h1M193 0.5h1M202 0.5h1M243 0.5h1M254 0.5h1M258 0.5h1M317 0.5h1M356 0.5h1M398 0.5h1M36 1.5h1M45 1.5h1M52 1.5h1M61 1.5h1M101 1.5h1M128 1.5h1M175 1.5h1M240 1.5h2M248 1.5h1M284 1.5h1M318 1.5h1M320 1.5h1M344 1.5h1M12 2.5h1M53 2.5h1M108 2.5h1M134 2.5h1M211 2.5h1M222 2.5h1M246 2.5h1M265 2.5h1M303 2.5h1M310 2.5h1M356 2.5h2M378 2.5h1M56 3.5h1M76 3.5h1M78 3.5h1M81 3.5h1M120 3.5h1M137 3.5h1M215 3.5h1M219 3.5h1M222 3.5h1M228 3.5h1M271 3.5h1M367 3.5h1M372 3.5h1M376 3.5h1M387 3.5h1M65 4.5h1M71 4.5h1M100 4.5h1M170 4.5h1M180 4.5h1M189 4.5h1M340 4.5h1M399 4.5h1M83 5.5h1M95 5.5h1M105 5.5h1M194 5.5h1M218 5.5h1M335 5.5h1M337 5.5h1M363 5.5h1M365 5.5h1M68 6.5h1M78 6.5h1M152 6.5h1M253 6.5h1M310 6.5h1M316 6.5h1M324 6.5h1M330 6.5h1M372 6.5h1M377 6.5h1M387 6.5h1M43 7.5h2M62 7.5h1M102 7.5h1M153 7.5h1M299 7.5h1M369 7.5h1M372 7.5h1M399 7.5h1M81 8.5h1M179 8.5h1M188 8.5h1M216 8.5h1M227 8.5h1M243 8.5h1M253 8.5h1M358 8.5h2M10 9.5h1M49 9.5h1M112 9.5h1M114 9.5h1M179 9.5h1M239 9.5h1M351 9.5h1M402 9.5h1M119 10.5h1M164 10.5h1M180 10.5h1M218 10.5h1M255 10.5h1M324 10.5h1M327 10.5h1M343 10.5h1M362 10.5h2M380 10.5h1M395 10.5h1M401 10.5h1M15 11.5h1M54 11.5h1M150 11.5h1M176 11.5h1M197 11.5h1M223 11.5h1M239 11.5h1M257 11.5h1M260 11.5h1M298 11.5h1M302 11.5h2M349 11.5h1M121 12.5h1M138 12.5h1M159 12.5h1M173 12.5h1M177 12.5h1M179 12.5h1M298 12.5h1M379 12.5h1M390 12.5h1M137 13.5h1M231 13.5h1M260 13.5h1M303 13.5h1M313 13.5h1M356 13.5h1M49 14.5h1M64 14.5h1M83 14.5h1M94 14.5h1M112 14.5h1M141 14.5h1M145 14.5h1M198 14.5h1M248 14.5h1M281 14.5h1M299 14.5h1M317 14.5h1M387 14.5h1M100 15.5h1M143 15.5h1M288 15.5h1M363 15.5h1M183 16.5h1M217 16.5h1M255 16.5h1M274 16.5h1M303 16.5h1M317 16.5h1M343 16.5h1M357 16.5h1M138 17.5h1M180 17.5h1M306 17.5h1M49 18.5h1M63 18.5h1M109 18.5h1M119 18.5h1M154 18.5h1M156 18.5h1M216 18.5h1M227 18.5h1M266 18.5h1M312 18.5h1M346 18.5h1M356 18.5h1M387 18.5h1M210 19.5h1M251 19.5h1M349 19.5h1M78 20.5h1M87 20.5h1M94 20.5h1M105 20.5h1M150 20.5h1M165 20.5h1M230 20.5h1M235 20.5h1M269 20.5h1M302 20.5h1M355 20.5h1M390 20.5h1M44 21.5h1M85 21.5h2M120 21.5h2M125 21.5h1M143 21.5h1M193 21.5h1M217 21.5h2M258 21.5h1M270 21.5h1M281 21.5h1M303 21.5h1M399 21.5h1M5 22.5h1M24 22.5h1M153 22.5h1M184 22.5h1M202 22.5h1M234 22.5h1M247 22.5h1M270 22.5h1M308 22.5h1M311 22.5h1M344 22.5h1M387 22.5h1M393 22.5h1M14 23.5h1M84 23.5h1M94 23.5h1M101 23.5h1M152 23.5h1M182 23.5h1M184 23.5h1M213 23.5h1M228 23.5h1M243 23.5h1M283 23.5h1M319 23.5h1M346 23.5h1M388 23.5h1M87 24.5h1M108 24.5h1M192 24.5h1M215 24.5h1M308 24.5h1M317 24.5h1M326 24.5h1M342 24.5h1M2 25.5h1M55 25.5h1M86 25.5h1M109 25.5h1M198 25.5h1M245 25.5h1M299 25.5h1M307 25.5h1M310 25.5h1M333 25.5h1M381 25.5h1M8 26.5h1M34 26.5h1M55 26.5h1M60 26.5h1M65 26.5h1M100 26.5h1M226 26.5h1M257 26.5h1M315 26.5h1M49 27.5h1M72 27.5h1M106 27.5h1M109 27.5h1M144 27.5h1M165 27.5h1M181 27.5h1M227 27.5h1M231 27.5h1M260 27.5h1M343 27.5h2M365 27.5h1M371 27.5h1M402 27.5h1M2 28.5h1M44 28.5h1M65 28.5h1M84 28.5h1M167 28.5h1M220 28.5h1M243 28.5h1M298 28.5h1M303 28.5h1M321 28.5h1M390 28.5h1M398 28.5h1"/>
<path stroke="#0000ff" d="M2 0.5h1M6 0.5h1M9 0.5h2M13 0.5h1M17 0.5h1M21 0.5h2M25 0.5h2M28 0.5h5M36 0.5h1M45 0.5h1M51 0.5h1M61 0.5h1M64 0.5h1M71 0.5h3M82 0.5h1M84 0.5h1M91 0.5h1M98 0.5h1M130 0.5h1M135 0.5h1M145 0.5h1M151 0.5h1M161 0.5h1M166 0.5h1M169 0.5h1M172 0.5h1M181 0.5h1M200 0.5h1M204 0.5h1M211 0.5h1M235 0.5h1M239 0.5h1M247 0.5h1M250 0.5h1M270 0.5h2M277 0.5h1M281 0.5h1M288 0.5h1M306 0.5h1M312 0.5h1M318 0.5h1M324 0.5h1M331 0.5h1M369 0.5h1M381 0.5h1M383 0.5h1M389 0.5h1M392 0.5h1M395 0.5h1M19 1.5h3M35 1.5h1M42 1.5h1M47 1.5h1M53 1.5h1M63 1.5h1M69 1.5h1M96 1.5h1M106 1.5h1M115 1.5h1M147 1.5h1M149 1.5h1M155 1.5h4M163 1.5h1M177 1.5h1M183 1.5h1M197 1.5h1M199 1.5h1M211 1.5h1M213 1.5h1M221 1.5h1M233 1.5h1M247 1.5h1M267 1.5h1M269 1.5h1M298 1.5h1M308 1.5h2M311 1.5h1M319 1.5h1M334 1.5h1M338 1.5h1M351 1.5h1M353 1.5h1M357 1.5h1M370 1.5h1M383 1.5h1M390 1.5h1M393 1.5h1M1 2.5h1M3 2.5h1M5 2.5h2M8 2.5h2M11 2.5h1M14 2.5h2M18 2.5h1M20 2.5h1M22 2.5h2M25 2.5h1M28 2.5h1M32 2.5h1M35 2.5h2M39 2.5h1M41 2.5h2M45 2.5h2M51 2.5h2M54 2.5h2M63 2.5h1M96 2.5h1M109 2.5h1M124 2.5h1M126 2.5h2M130 2.5h1M143 2.5h2M156 2.5h1M166 2.5h1M190 2.5h1M206 2.5h1M219 2.5h1M221 2.5h1M224 2.5h1M226 2.5h1M229 2.5h1M235 2.5h1M250 2.5h1M268 2.5h1M288 2.5h1M290 2.5h1M327 2.5h1M331 2.5h1M353 2.5h1M359 2.5h1M364 2.5h1M366 2.5h1M371 2.5h1M392 2.5h1M396 2.5h1M401 2.5h1M0 3.5h1M2 3.5h1M4 3.5h4M10 3.5h1M13 3.5h1M16 3.5h1M18 3.5h5M26 3.5h2M32 3.5h2M35 3.5h1M38 3.5h2M42 3.5h2M45 3.5h3M51 3.5h1M54 3.5h1M71 3.5h1M85 3.5h1M95 3.5h1M98 3.5h2M115 3.5h1M133 3.5h1M143 3.5h1M152 3.5h1M156 3.5h1M164 3.5h1M170 3.5h1M175 3.5h1M200 3.5h1M213 3.5h1M220 3.5h1M229 3.5h1M235 3.5h1M239 3.5h1M246 3.5h1M249 3.5h1M254 3.5h1M277 3.5h1M279 3.5h1M290 3.5h1M303 3.5h1M331 3.5h1M337 3.5h1M378 3.5h1M383 3.5h1M395 3.5h1M4 4.5h2M8 4.5h1M12 4.5h7M20 4.5h1M22 4.5h12M36 4.5h1M38 4.5h1M41 4.5h2M44 4.5h2M48 4.5h1M50 4.5h4M55 4.5h1M59 4.5h1M61 4.5h1M98 4.5h2M101 4.5h1M108 4.5h1M117 4.5h1M123 4.5h1M126 4.5h1M139 4.5h1M144 4.5h2M163 4.5h1M166 4.5h1M169 4.5h1M174 4.5h1M200 4.5h1M206 4.5h1M212 4.5h2M221 4.5h2M244 4.5h1M247 4.5h1M249 4.5h1M257 4.5h1M264 4.5h1M277 4.5h1M281 4.5h1M325 4.5h1M337 4.5h1M350 4.5h1M366 4.5h1M371 4.5h1M377 4.5h1M393 4.5h1M0 5.5h2M3 5.5h4M9 5.5h1M12 5.5h1M16 5.5h7M26 5.5h2M29 5.5h2M32 5.5h2M35 5.5h2M38 5.5h1M45 5.5h1M47 5.5h2M52 5.5h1M54 5.5h2M68 5.5h2M80 5.5h1M96 5.5h1M98 5.5h2M112 5.5h1M123 5.5h1M126 5.5h1M128 5.5h1M133 5.5h1M152 5.5h1M154 5.5h1M156 5.5h1M175 5.5h1M178 5.5h1M181 5.5h1M183 5.5h1M200 5.5h1M207 5.5h1M212 5.5h2M235 5.5h1M250 5.5h1M254 5.5h1M266 5.5h1M268 5.5h1M274 5.5h1M277 5.5h1M281 5.5h1M304 5.5h1M310 5.5h1M332 5.5h1M334 5.5h1M345 5.5h1M364 5.5h1M366 5.5h1M376 5.5h1M0 6.5h1M2 6.5h2M5 6.5h2M9 6.5h1M12 6.5h1M16 6.5h18M36 6.5h1M38 6.5h2M41 6.5h3M45 6.5h1M47 6.5h2M51 6.5h1M53 6.5h1M57 6.5h1M63 6.5h1M71 6.5h2M85 6.5h1M96 6.5h1M99 6.5h1M101 6.5h1M115 6.5h1M122 6.5h3M126 6.5h1M128 6.5h1M133 6.5h1M137 6.5h1M206 6.5h1M212 6.5h1M218 6.5h1M222 6.5h1M226 6.5h1M229 6.5h1M247 6.5h1M249 6.5h2M270 6.5h2M274 6.5h1M277 6.5h1M304 6.5h1M309 6.5h1M313 6.5h1M331 6.5h1M334 6.5h1M350 6.5h1M356 6.5h1M364 6.5h1M378 6.5h1M381 6.5h1M2 7.5h2M5 7.5h2M8 7.5h2M13 7.5h2M16 7.5h5M22 7.5h1M26 7.5h2M29 7.5h4M34 7.5h6M41 7.5h2M45 7.5h1M47 7.5h2M55 7.5h2M63 7.5h1M85 7.5h1M97 7.5h1M117 7.5h1M123 7.5h1M128 7.5h1M138 7.5h1M151 7.5h1M160 7.5h1M165 7.5h1M172 7.5h1M207 7.5h1M212 7.5h2M226 7.5h1M249 7.5h2M255 7.5h1M268 7.5h1M277 7.5h1M281 7.5h1M318 7.5h1M335 7.5h1M364 7.5h1M366 7.5h2M378 7.5h1M383 7.5h1M392 7.5h2M1 8.5h5M8 8.5h1M10 8.5h5M16 8.5h7M25 8.5h3M30 8.5h6M38 8.5h1M40 8.5h3M45 8.5h1M47 8.5h2M50 8.5h3M54 8.5h1M68 8.5h1M96 8.5h1M98 8.5h1M112 8.5h2M123 8.5h1M126 8.5h1M128 8.5h1M133 8.5h1M139 8.5h1M144 8.5h2M156 8.5h1M166 8.5h1M174 8.5h1M181 8.5h1M190 8.5h1M207 8.5h1M212 8.5h2M219 8.5h1M235 8.5h1M248 8.5h1M250 8.5h1M268 8.5h1M271 8.5h1M290 8.5h1M303 8.5h1M316 8.5h1M320 8.5h1M335 8.5h1M356 8.5h1M367 8.5h1M371 8.5h1M377 8.5h2M387 8.5h1M395 8.5h1M2 9.5h1M4 9.5h1M9 9.5h1M13 9.5h1M16 9.5h5M22 9.5h3M26 9.5h1M30 9.5h2M33 9.5h1M38 9.5h2M42 9.5h2M45 9.5h4M51 9.5h2M55 9.5h1M57 9.5h1M68 9.5h1M71 9.5h1M85 9.5h1M98 9.5h1M100 9.5h1M124 9.5h1M128 9.5h1M139 9.5h1M141 9.5h1M150 9.5h2M156 9.5h1M165 9.5h2M171 9.5h2M175 9.5h1M190 9.5h1M213 9.5h1M216 9.5h1M229 9.5h1M247 9.5h4M260 9.5h1M271 9.5h1M277 9.5h1M295 9.5h1M316 9.5h1M334 9.5h2M364 9.5h1M366 9.5h1M392 9.5h2M398 9.5h1M2 10.5h1M4 10.5h1M6 10.5h2M11 10.5h1M13 10.5h2M16 10.5h1M18 10.5h5M24 10.5h1M26 10.5h1M30 10.5h3M36 10.5h1M38 10.5h2M41 10.5h1M43 10.5h1M45 10.5h1M48 10.5h1M51 10.5h2M57 10.5h1M69 10.5h1M72 10.5h1M85 10.5h1M97 10.5h1M99 10.5h2M112 10.5h1M115 10.5h1M117 10.5h1M121 10.5h1M124 10.5h1M126 10.5h1M128 10.5h1M143 10.5h1M145 10.5h1M157 10.5h1M210 10.5h1M212 10.5h1M220 10.5h1M227 10.5h2M235 10.5h1M247 10.5h1M250 10.5h1M277 10.5h1M290 10.5h1M303 10.5h2M310 10.5h1M345 10.5h2M364 10.5h1M371 10.5h1M377 10.5h1M390 10.5h1M398 10.5h1M3 11.5h1M5 11.5h1M7 11.5h1M13 11.5h2M16 11.5h4M22 11.5h6M30 11.5h1M32 11.5h2M35 11.5h2M38 11.5h1M42 11.5h2M45 11.5h1M51 11.5h2M64 11.5h1M71 11.5h1M84 11.5h1M96 11.5h1M117 11.5h1M122 11.5h2M126 11.5h1M128 11.5h1M133 11.5h1M156 11.5h1M166 11.5h1M168 11.5h1M207 11.5h1M212 11.5h1M226 11.5h1M247 11.5h1M250 11.5h1M277 11.5h1M290 11.5h1M309 11.5h1M334 11.5h1M345 11.5h1M364 11.5h1M367 11.5h1M371 11.5h2M394 11.5h1M399 11.5h1M402 11.5h1M0 12.5h1M2 12.5h5M8 12.5h3M12 12.5h3M16 12.5h18M35 12.5h2M39 12.5h5M45 12.5h1M47 12.5h2M50 12.5h3M54 12.5h1M56 12.5h2M63 12.5h1M71 12.5h1M98 12.5h2M123 12.5h1M126 12.5h1M128 12.5h1M133 12.5h1M145 12.5h1M156 12.5h1M166 12.5h1M207 12.5h1M209 12.5h1M212 12.5h2M219 12.5h1M222 12.5h1M228 12.5h1M239 12.5h1M247 12.5h1M249 12.5h2M268 12.5h1M271 12.5h1M277 12.5h1M290 12.5h1M316 12.5h1M332 12.5h1M334 12.5h1M344 12.5h1M364 12.5h1M366 12.5h1M371 12.5h1M378 12.5h1M383 12.5h1M393 12.5h1M0 13.5h7M8 13.5h7M16 13.5h21M38 13.5h6M45 13.5h1M47 13.5h2M51 13.5h1M53 13.5h5M71 13.5h1M98 13.5h2M115 13.5h1M123 13.5h1M126 13.5h1M128 13.5h1M133 13.5h1M156 13.5h1M160 13.5h1M166 13.5h1M190 13.5h1M206 13.5h1M209 13.5h1M212 13.5h2M222 13.5h1M228 13.5h1M235 13.5h1M247 13.5h1M249 13.5h2M264 13.5h1M268 13.5h1M271 13.5h1M277 13.5h1M281 13.5h1M316 13.5h1M318 13.5h1M323 13.5h1M327 13.5h1M334 13.5h1M364 13.5h1M366 13.5h1M371 13.5h1M378 13.5h1M383 13.5h1M398 13.5h1M0 14.5h7M8 14.5h3M12 14.5h3M16 14.5h18M35 14.5h9M45 14.5h4M51 14.5h1M53 14.5h5M63 14.5h1M68 14.5h1M71 14.5h1M96 14.5h1M98 14.5h2M123 14.5h1M126 14.5h1M128 14.5h1M130 14.5h1M133 14.5h1M139 14.5h1M151 14.5h1M160 14.5h1M166 14.5h1M175 14.5h1M190 14.5h1M206 14.5h2M213 14.5h1M222 14.5h1M231 14.5h1M247 14.5h1M249 14.5h2M264 14.5h1M271 14.5h1M277 14.5h1M290 14.5h1M316 14.5h1M324 14.5h1M327 14.5h1M334 14.5h1M345 14.5h1M350 14.5h1M364 14.5h1M366 14.5h2M378 14.5h1M381 14.5h1M383 14.5h1M392 14.5h2M398 14.5h1M0 15.5h1M2 15.5h5M8 15.5h7M16 15.5h21M38 15.5h11M50 15.5h5M56 15.5h1M64 15.5h1M68 15.5h1M71 15.5h1M98 15.5h2M112 15.5h1M123 15.5h2M126 15.5h1M128 15.5h1M145 15.5h1M156 15.5h1M163 15.5h1M166 15.5h1M207 15.5h1M212 15.5h2M222 15.5h1M227 15.5h1M235 15.5h1M239 15.5h1M247 15.5h1M249 15.5h2M271 15.5h1M274 15.5h1M277 15.5h1M281 15.5h1M290 15.5h1M334 15.5h1M364 15.5h1M366 15.5h2M371 15.5h1M383 15.5h1M393 15.5h1M398 15.5h1M0 16.5h7M8 16.5h2M11 16.5h4M16 16.5h18M35 16.5h2M38 16.5h5M44 16.5h5M51 16.5h2M54 16.5h4M63 16.5h1M80 16.5h1M85 16.5h1M96 16.5h1M98 16.5h2M123 16.5h1M126 16.5h1M128 16.5h1M133 16.5h1M163 16.5h1M166 16.5h1M206 16.5h2M209 16.5h1M213 16.5h1M219 16.5h1M222 16.5h1M235 16.5h1M247 16.5h1M249 16.5h2M264 16.5h1M271 16.5h1M277 16.5h1M290 16.5h1M345 16.5h1M364 16.5h1M366 16.5h2M371 16.5h1M392 16.5h2M399 16.5h1M0 17.5h1M2 17.5h5M8 17.5h7M16 17.5h7M24 17.5h10M35 17.5h2M38 17.5h6M45 17.5h1M47 17.5h2M51 17.5h2M54 17.5h1M56 17.5h1M71 17.5h1M98 17.5h2M123 17.5h1M126 17.5h1M133 17.5h1M145 17.5h1M152 17.5h1M156 17.5h1M163 17.5h1M166 17.5h1M190 17.5h1M200 17.5h1M206 17.5h2M212 17.5h2M219 17.5h1M235 17.5h1M239 17.5h1M247 17.5h1M249 17.5h2M271 17.5h1M277 17.5h1M290 17.5h1M316 17.5h1M327 17.5h1M334 17.5h1M364 17.5h1M366 17.5h2M371 17.5h1M381 17.5h1M392 17.5h2M1 18.5h11M13 18.5h8M22 18.5h1M24 18.5h4M29 18.5h5M35 18.5h4M40 18.5h4M45 18.5h1M48 18.5h1M51 18.5h4M56 18.5h2M68 18.5h1M71 18.5h1M85 18.5h1M98 18.5h2M123 18.5h1M128 18.5h1M139 18.5h1M150 18.5h1M152 18.5h1M163 18.5h1M166 18.5h1M190 18.5h1M207 18.5h1M212 18.5h1M218 18.5h2M221 18.5h1M224 18.5h1M235 18.5h1M247 18.5h1M249 18.5h2M254 18.5h1M268 18.5h1M277 18.5h1M289 18.5h1M316 18.5h1M320 18.5h1M337 18.5h1M345 18.5h1M349 18.5h1M366 18.5h1M378 18.5h1M383 18.5h1M392 18.5h2M0 19.5h7M8 19.5h4M13 19.5h11M25 19.5h9M35 19.5h9M45 19.5h4M50 19.5h3M54 19.5h1M56 19.5h1M61 19.5h1M68 19.5h1M85 19.5h1M96 19.5h1M98 19.5h2M115 19.5h1M123 19.5h1M126 19.5h1M128 19.5h1M133 19.5h1M145 19.5h1M160 19.5h1M163 19.5h1M166 19.5h1M174 19.5h1M190 19.5h1M207 19.5h1M212 19.5h2M226 19.5h1M239 19.5h1M247 19.5h1M249 19.5h2M271 19.5h1M277 19.5h1M282 19.5h1M290 19.5h1M332 19.5h1M364 19.5h1M366 19.5h1M371 19.5h1M392 19.5h1M398 19.5h1M0 20.5h7M8 20.5h7M16 20.5h18M35 20.5h2M38 20.5h6M45 20.5h2M48 20.5h1M51 20.5h6M71 20.5h1M96 20.5h1M99 20.5h1M123 20.5h2M126 20.5h1M128 20.5h1M130 20.5h1M157 20.5h1M166 20.5h1M174 20.5h1M190 20.5h1M198 20.5h1M207 20.5h1M209 20.5h1M213 20.5h1M219 20.5h1M250 20.5h1M254 20.5h2M268 20.5h1M277 20.5h1M288 20.5h1M290 20.5h1M312 20.5h1M316 20.5h1M324 20.5h1M335 20.5h1M337 20.5h1M345 20.5h1M364 20.5h1M366 20.5h2M371 20.5h1M398 20.5h1M0 21.5h7M8 21.5h7M16 21.5h8M25 21.5h9M35 21.5h9M45 21.5h1M47 21.5h2M51 21.5h1M54 21.5h4M63 21.5h1M71 21.5h1M99 21.5h1M123 21.5h1M126 21.5h1M128 21.5h1M156 21.5h1M159 21.5h1M166 21.5h1M174 21.5h2M207 21.5h1M212 21.5h2M219 21.5h1M229 21.5h1M235 21.5h1M239 21.5h1M247 21.5h1M250 21.5h1M264 21.5h1M277 21.5h1M290 21.5h1M316 21.5h1M335 21.5h1M345 21.5h1M350 21.5h1M366 21.5h1M371 21.5h1M398 21.5h1M8 22.5h1M13 22.5h1M17 22.5h1M23 22.5h1M30 22.5h1M38 22.5h1M41 22.5h2M45 22.5h1M48 22.5h2M51 22.5h1M54 22.5h1M64 22.5h1M66 22.5h1M78 22.5h1M87 22.5h1M98 22.5h2M105 22.5h1M110 22.5h1M126 22.5h1M159 22.5h1M163 22.5h1M169 22.5h1M187 22.5h1M212 22.5h1M214 22.5h2M217 22.5h1M246 22.5h1M264 22.5h1M277 22.5h1M279 22.5h1M281 22.5h1M309 22.5h1M320 22.5h1M325 22.5h1M332 22.5h1M356 22.5h1M371 22.5h3M378 22.5h1M383 22.5h1M388 22.5h1M0 23.5h1M2 23.5h4M10 23.5h2M13 23.5h1M16 23.5h1M18 23.5h3M25 23.5h4M32 23.5h1M35 23.5h1M38 23.5h2M42 23.5h1M45 23.5h1M52 23.5h1M54 23.5h1M56 23.5h1M71 23.5h1M85 23.5h1M90 23.5h1M96 23.5h1M100 23.5h1M105 23.5h1M121 23.5h1M124 23.5h3M139 23.5h1M165 23.5h2M170 23.5h1M174 23.5h2M240 23.5h1M249 23.5h2M271 23.5h1M274 23.5h1M277 23.5h1M288 23.5h1M309 23.5h1M316 23.5h1M324 23.5h1M327 23.5h1M332 23.5h1M335 23.5h1M345 23.5h1M366 23.5h1M383 23.5h1M392 23.5h2M3 24.5h1M5 24.5h2M9 24.5h1M12 24.5h3M16 24.5h3M20 24.5h3M24 24.5h7M32 24.5h1M34 24.5h1M36 24.5h1M42 24.5h1M45 24.5h3M51 24.5h1M53 24.5h1M64 24.5h1M71 24.5h1M98 24.5h1M100 24.5h1M117 24.5h1M121 24.5h3M133 24.5h1M144 24.5h2M157 24.5h1M178 24.5h1M188 24.5h1M206 24.5h1M209 24.5h1M213 24.5h1M219 24.5h1M222 24.5h1M250 24.5h1M277 24.5h2M288 24.5h1M290 24.5h1M293 24.5h1M303 24.5h1M310 24.5h1M371 24.5h1M373 24.5h1M381 24.5h1M383 24.5h1M387 24.5h1M399 24.5h2M402 24.5h1M0 25.5h2M3 25.5h1M8 25.5h2M12 25.5h1M16 25.5h1M18 25.5h3M23 25.5h1M25 25.5h2M30 25.5h2M35 25.5h1M38 25.5h1M40 25.5h2M45 25.5h1M47 25.5h2M52 25.5h1M61 25.5h1M98 25.5h1M105 25.5h1M116 25.5h2M124 25.5h1M126 25.5h1M128 25.5h1M143 25.5h1M163 25.5h1M166 25.5h1M170 25.5h1M206 25.5h2M213 25.5h1M216 25.5h1M218 25.5h2M222 25.5h1M239 25.5h1M241 25.5h1M247 25.5h1M250 25.5h1M268 25.5h1M277 25.5h1M281 25.5h1M290 25.5h1M334 25.5h1M366 25.5h2M371 25.5h1M379 25.5h1M387 25.5h1M392 25.5h1M398 25.5h1M0 26.5h1M3 26.5h4M12 26.5h5M18 26.5h3M23 26.5h1M26 26.5h3M30 26.5h3M35 26.5h1M38 26.5h2M42 26.5h2M45 26.5h1M48 26.5h1M50 26.5h3M71 26.5h1M92 26.5h1M98 26.5h1M123 26.5h1M126 26.5h1M128 26.5h1M145 26.5h1M172 26.5h1M175 26.5h1M177 26.5h1M185 26.5h1M200 26.5h1M212 26.5h2M222 26.5h1M249 26.5h2M266 26.5h1M271 26.5h1M290 26.5h1M303 26.5h1M311 26.5h1M314 26.5h1M335 26.5h1M398 26.5h1M0 27.5h1M2 27.5h2M5 27.5h2M9 27.5h2M13 27.5h1M16 27.5h5M22 27.5h3M26 27.5h2M30 27.5h4M35 27.5h1M38 27.5h2M42 27.5h1M45 27.5h1M48 27.5h1M51 27.5h2M54 27.5h1M56 27.5h1M69 27.5h1M71 27.5h1M85 27.5h2M96 27.5h1M99 27.5h1M104 27.5h1M115 27.5h1M117 27.5h1M133 27.5h1M139 27.5h1M145 27.5h1M155 27.5h1M163 27.5h1M166 27.5h1M190 27.5h1M200 27.5h1M212 27.5h2M222 27.5h1M228 27.5h1M247 27.5h1M250 27.5h1M255 27.5h1M264 27.5h1M271 27.5h1M316 27.5h1M318 27.5h1M327 27.5h1M345 27.5h1M366 27.5h1M391 27.5h1M1 28.5h1M3 28.5h1M6 28.5h1M10 28.5h1M12 28.5h3M17 28.5h5M23 28.5h8M32 28.5h2M35 28.5h2M38 28.5h3M42 28.5h1M45 28.5h1M47 28.5h2M51 28.5h2M54 28.5h3M71 28.5h1M89 28.5h1M96 28.5h1M99 28.5h1M104 28.5h1M126 28.5h1M133 28.5h1M160 28.5h1M166 28.5h1M177 28.5h1M207 28.5h1M222 28.5h1M224 28.5h1M226 28.5h1M244 28.5h1M248 28.5h1M250 28.5h1M266 28.5h1M268 28.5h1M271 28.5h1M277 28.5h1M366 28.5h1M378 28.5h1M387 28.5h1M391 28.5h1"/>
<path stroke="#3333ff" d="M3 0.5h1M35 0.5h1M43 0.5h2M58 0.5h1M81 0.5h1M87 0.5h1M108 0.5h1M126 0.5h1M248 0.5h1M289 0.5h2M329 0.5h1M359 0.5h1M378 0.5h1M2 1.5h1M23 1.5h1M32 1.5h1M214 1.5h1M257 1.5h1M268 1.5h1M302 1.5h1M165 2.5h1M271 2.5h1M304 2.5h1M334 2.5h1M377 2.5h1M34 3.5h1M40 3.5h1M212 3.5h1M218 3.5h1M334 3.5h1M374 3.5h1M2 4.5h1M47 4.5h1M54 4.5h1M133 4.5h1M141 4.5h1M254 4.5h1M280 4.5h1M334 4.5h1M346 4.5h1M8 5.5h1M13 5.5h2M53 5.5h1M56 5.5h1M166 5.5h1M239 5.5h1M271 5.5h1M289 5.5h1M380 5.5h1M11 6.5h1M52 6.5h1M56 6.5h1M108 6.5h1M117 6.5h1M157 6.5h1M228 6.5h1M371 6.5h1M389 6.5h1M0 7.5h1M33 7.5h1M118 7.5h1M260 7.5h1M295 7.5h1M44 8.5h1M49 8.5h1M124 8.5h1M159 8.5h1M266 8.5h1M337 8.5h1M402 8.5h1M5 9.5h1M21 9.5h1M32 9.5h1M40 9.5h1M62 9.5h1M108 9.5h1M255 9.5h1M371 9.5h1M25 10.5h1M35 10.5h1M249 10.5h1M268 10.5h1M296 10.5h1M335 10.5h1M21 11.5h1M47 11.5h1M98 11.5h1M112 11.5h1M206 11.5h1M249 11.5h1M268 11.5h1M308 11.5h1M316 11.5h2M340 11.5h1M373 11.5h1M398 11.5h1M15 12.5h1M112 12.5h1M124 12.5h1M139 12.5h1M152 12.5h1M160 12.5h1M229 12.5h1M254 12.5h1M266 12.5h1M318 12.5h1M337 12.5h1M104 13.5h1M124 13.5h1M147 13.5h1M219 13.5h1M251 13.5h1M266 13.5h1M11 14.5h1M154 14.5h1M15 15.5h1M63 15.5h1M190 15.5h1M251 15.5h1M318 15.5h1M335 15.5h1M34 16.5h1M71 16.5h1M104 16.5h1M150 16.5h1M190 16.5h1M216 16.5h1M398 16.5h1M1 17.5h1M15 17.5h1M23 17.5h1M44 17.5h1M53 17.5h1M64 17.5h1M85 17.5h1M101 17.5h1M160 17.5h1M209 17.5h1M222 17.5h1M228 17.5h1M332 17.5h1M335 17.5h1M383 17.5h1M398 17.5h1M23 18.5h1M133 18.5h1M143 18.5h1M309 18.5h1M71 19.5h1M175 19.5h1M304 19.5h1M316 19.5h1M367 19.5h1M399 19.5h1M37 20.5h1M57 20.5h1M68 20.5h1M98 20.5h1M133 20.5h1M139 20.5h1M144 20.5h1M164 20.5h1M50 21.5h1M209 21.5h1M254 21.5h1M32 22.5h1M235 22.5h1M263 22.5h1M268 22.5h1M290 22.5h1M381 22.5h1M48 23.5h1M51 23.5h1M53 23.5h1M69 23.5h1M200 23.5h1M247 23.5h1M258 23.5h1M337 23.5h1M344 23.5h1M31 24.5h1M109 24.5h1M128 24.5h1M143 24.5h1M156 24.5h1M345 24.5h1M356 24.5h1M366 24.5h1M17 25.5h1M21 25.5h1M42 25.5h1M142 25.5h1M181 25.5h1M231 25.5h1M298 25.5h1M318 25.5h1M340 25.5h1M356 25.5h1M2 26.5h1M29 26.5h1M33 26.5h1M57 26.5h1M81 26.5h1M307 26.5h1M316 26.5h1M318 26.5h1M366 26.5h2M15 27.5h1M114 27.5h1M156 27.5h1M175 27.5h1M235 27.5h1M349 27.5h1M8 28.5h1M22 28.5h1M77 28.5h1M123 28.5h1M227 28.5h1M231 28.5h1M316 28.5h1"/>
<path stroke="#4444ff" d="M4 0.5h1M62 0.5h1M69 0.5h1M83 0.5h1M117 0.5h1M367 0.5h1M391 0.5h1M37 1.5h1M113 1.5h1M161 1.5h1M181 1.5h1M187 1.5h1M239 1.5h1M264 1.5h1M266 1.5h1M273 1.5h1M285 1.5h1M398 1.5h1M10 2.5h1M16 2.5h1M31 2.5h1M43 2.5h1M77 2.5h1M163 2.5h1M189 2.5h1M253 2.5h1M277 2.5h1M312 2.5h1M344 2.5h1M399 2.5h1M8 3.5h1M41 3.5h1M92 3.5h1M126 3.5h1M163 3.5h1M178 3.5h1M217 3.5h1M243 3.5h1M286 3.5h1M359 3.5h1M369 3.5h1M399 3.5h1M0 4.5h1M9 4.5h1M35 4.5h1M43 4.5h1M179 4.5h1M195 4.5h1M219 4.5h1M261 4.5h1M289 4.5h2M309 4.5h1M364 4.5h1M398 4.5h1M10 5.5h1M23 5.5h1M31 5.5h1M59 5.5h1M63 5.5h1M189 5.5h1M243 5.5h1M317 5.5h1M384 5.5h1M37 6.5h1M50 6.5h1M54 6.5h1M64 6.5h1M161 6.5h1M163 6.5h1M213 6.5h1M244 6.5h1M257 6.5h1M261 6.5h1M299 6.5h1M318 6.5h1M369 6.5h1M383 6.5h1M1 7.5h1M12 7.5h1M98 7.5h1M126 7.5h1M183 7.5h1M221 7.5h1M227 7.5h1M301 7.5h1M323 7.5h1M344 7.5h1M371 7.5h1M382 7.5h1M43 8.5h1M53 8.5h1M56 8.5h1M163 8.5h1M229 8.5h1M274 8.5h1M334 8.5h1M7 9.5h1M15 9.5h1M29 9.5h1M36 9.5h1M50 9.5h1M65 9.5h1M92 9.5h1M137 9.5h1M142 9.5h2M159 9.5h1M268 9.5h1M309 9.5h1M403 9.5h1M5 10.5h1M27 10.5h1M46 10.5h2M61 10.5h1M77 10.5h1M207 10.5h1M219 10.5h1M222 10.5h1M311 10.5h1M365 10.5h2M381 10.5h1M11 11.5h1M59 11.5h1M76 11.5h1M155 11.5h1M181 11.5h1M227 11.5h1M96 12.5h1M151 12.5h1M264 12.5h1M289 12.5h1M327 12.5h1M335 12.5h1M345 12.5h1M7 13.5h1M96 13.5h1M145 13.5h1M157 13.5h1M207 13.5h1M216 13.5h1M290 13.5h1M367 13.5h1M381 13.5h1M387 13.5h1M101 14.5h1M172 14.5h1M209 14.5h1M219 14.5h1M221 14.5h1M1 15.5h1M37 15.5h1M229 15.5h1M304 15.5h1M324 15.5h1M327 15.5h1M381 15.5h1M174 16.5h1M200 16.5h1M229 16.5h1M46 17.5h1M117 17.5h1M130 17.5h1M181 17.5h1M246 17.5h1M259 17.5h1M337 17.5h1M351 17.5h1M46 18.5h1M114 18.5h1M145 18.5h1M189 18.5h1M222 18.5h1M271 18.5h1M281 18.5h1M288 18.5h1M308 18.5h1M335 18.5h1M398 18.5h1M57 19.5h1M157 19.5h1M165 19.5h1M206 19.5h1M219 19.5h1M235 19.5h1M115 20.5h1M145 20.5h1M222 20.5h1M228 20.5h1M239 20.5h1M248 20.5h1M377 20.5h1M381 20.5h1M34 21.5h1M53 21.5h1M98 21.5h1M112 21.5h1M190 21.5h1M314 21.5h1M367 21.5h1M70 22.5h1M130 22.5h1M267 22.5h1M303 22.5h1M328 22.5h1M396 22.5h1M6 23.5h1M8 23.5h1M22 23.5h1M49 23.5h1M117 23.5h1M120 23.5h1M133 23.5h1M224 23.5h1M334 23.5h1M371 23.5h1M0 24.5h1M57 24.5h1M60 24.5h1M82 24.5h1M84 24.5h1M160 24.5h1M11 25.5h1M13 25.5h1M44 25.5h1M174 25.5h1M183 25.5h2M212 25.5h1M294 25.5h1M378 25.5h1M400 25.5h1M24 26.5h1M85 26.5h1M179 26.5h1M282 26.5h1M4 27.5h1M37 27.5h1M40 27.5h1M43 27.5h1M98 27.5h1M277 27.5h1M320 27.5h1M11 28.5h1M43 28.5h1M46 28.5h1M50 28.5h1M53 28.5h1M101 28.5h1M105 28.5h1M147 28.5h1M154 28.5h1M174 28.5h2M343 28.5h1"/>
<path stroke="#6666ff" d="M5 0.5h1M11 0.5h1M52 0.5h1M55 0.5h1M88 0.5h1M103 0.5h1M143 0.5h1M175 0.5h1M230 0.5h1M253 0.5h1M269 0.5h1M279 0.5h1M327 0.5h1M344 0.5h1M390 0.5h1M10 1.5h2M126 1.5h1M141 1.5h1M151 1.5h1M188 1.5h1M198 1.5h1M205 1.5h1M227 1.5h1M315 1.5h1M352 1.5h1M392 1.5h1M2 2.5h1M4 2.5h1M26 2.5h1M47 2.5h2M141 2.5h1M212 2.5h1M239 2.5h1M289 2.5h1M335 2.5h1M345 2.5h1M350 2.5h1M354 2.5h1M365 2.5h1M367 2.5h1M370 2.5h1M104 3.5h1M123 3.5h1M145 3.5h1M283 3.5h1M317 3.5h1M381 3.5h1M7 4.5h1M119 4.5h1M197 4.5h1M231 4.5h1M235 4.5h1M266 4.5h1M295 4.5h1M363 4.5h1M25 5.5h1M51 5.5h1M71 5.5h1M127 5.5h1M145 5.5h1M228 5.5h1M263 5.5h1M267 5.5h1M389 5.5h1M8 6.5h1M154 6.5h1M311 6.5h1M366 6.5h1M53 7.5h1M105 7.5h1M130 7.5h1M144 7.5h1M150 7.5h1M189 7.5h2M215 7.5h1M264 7.5h1M351 7.5h1M398 7.5h1M9 8.5h1M24 8.5h1M72 8.5h1M101 8.5h1M147 8.5h1M149 8.5h1M151 8.5h1M165 8.5h1M175 8.5h1M254 8.5h1M349 8.5h2M3 9.5h1M218 9.5h1M258 9.5h1M296 9.5h1M348 9.5h1M350 9.5h1M384 9.5h1M0 10.5h1M10 10.5h1M40 10.5h1M92 10.5h1M123 10.5h1M141 10.5h1M154 10.5h1M190 10.5h1M226 10.5h1M254 10.5h1M299 10.5h1M39 11.5h1M53 11.5h1M63 11.5h1M115 11.5h1M124 11.5h1M130 11.5h1M202 11.5h1M218 11.5h1M229 11.5h1M233 11.5h1M299 11.5h1M304 11.5h1M325 11.5h1M383 11.5h1M44 12.5h1M115 12.5h1M165 12.5h1M221 12.5h1M286 12.5h1M399 12.5h1M46 13.5h1M138 13.5h1M189 13.5h1M309 13.5h1M350 13.5h1M69 14.5h1M156 14.5h1M226 14.5h1M239 14.5h1M377 14.5h1M59 15.5h1M62 15.5h1M173 15.5h1M181 15.5h1M209 15.5h1M255 15.5h1M349 15.5h1M399 15.5h1M37 16.5h1M72 16.5h1M105 16.5h1M212 16.5h1M221 16.5h1M334 16.5h1M351 16.5h1M7 17.5h1M175 17.5h1M255 17.5h1M281 17.5h1M377 17.5h1M55 18.5h1M69 18.5h1M141 18.5h1M175 18.5h1M373 18.5h1M130 19.5h1M156 19.5h1M307 19.5h1M112 20.5h1M172 20.5h1M189 20.5h1M229 20.5h1M231 20.5h1M247 20.5h1M373 20.5h1M383 20.5h1M393 20.5h1M80 21.5h1M172 21.5h1M246 21.5h1M249 21.5h1M383 21.5h1M387 21.5h1M393 21.5h1M402 21.5h1M15 22.5h1M25 22.5h1M44 22.5h1M104 22.5h1M160 22.5h1M216 22.5h1M228 22.5h1M251 22.5h1M261 22.5h1M312 22.5h1M21 23.5h1M41 23.5h1M59 23.5h1M63 23.5h1M153 23.5h1M163 23.5h1M188 23.5h1M207 23.5h1M232 23.5h1M381 23.5h1M398 23.5h2M2 24.5h1M15 24.5h1M52 24.5h1M55 24.5h1M75 24.5h1M96 24.5h1M104 24.5h1M126 24.5h1M166 24.5h1M183 24.5h1M207 24.5h1M221 24.5h1M298 24.5h1M318 24.5h1M335 24.5h1M14 25.5h1M24 25.5h1M34 25.5h1M56 25.5h1M63 25.5h1M120 25.5h1M157 25.5h1M159 25.5h1M165 25.5h1M269 25.5h1M308 25.5h2M331 25.5h1M370 25.5h1M399 25.5h1M402 25.5h1M11 26.5h1M25 26.5h1M159 26.5h1M239 26.5h1M349 26.5h1M41 27.5h1M57 27.5h1M61 27.5h1M149 27.5h1M151 27.5h1M219 27.5h1M229 27.5h1M353 27.5h1M363 27.5h1M15 28.5h1M34 28.5h1M41 28.5h1M61 28.5h1M97 28.5h1M172 28.5h1M210 28.5h1M219 28.5h1M249 28.5h1"/>
<path stroke="#ee6666" d="M7 0.5h1M120 0.5h1M194 0.5h1M267 0.5h1M278 0.5h1M339 0.5h1M343 0.5h1M202 1.5h1M206 1.5h1M283 1.5h1M294 1.5h1M403 1.5h1M88 2.5h1M148 2.5h1M192 2.5h1M236 2.5h1M267 2.5h1M321 2.5h1M326 2.5h1M397 2.5h1M146 3.5h1M185 3.5h1M227 3.5h1M240 3.5h1M263 3.5h2M311 3.5h1M325 3.5h1M346 3.5h1M66 4.5h1M78 4.5h1M88 4.5h1M122 4.5h1M142 4.5h1M146 4.5h1M161 4.5h1M294 4.5h1M302 4.5h1M317 4.5h1M353 4.5h1M72 5.5h1M89 5.5h1M108 5.5h1M125 5.5h1M192 5.5h1M319 5.5h1M388 5.5h1M120 6.5h1M267 6.5h1M294 6.5h1M359 6.5h1M361 6.5h2M400 6.5h1M182 7.5h1M258 7.5h1M336 7.5h1M340 7.5h1M172 8.5h2M182 8.5h1M221 8.5h1M232 8.5h1M275 8.5h2M280 8.5h1M284 8.5h1M296 8.5h1M153 9.5h1M292 9.5h1M315 9.5h1M368 9.5h2M399 9.5h1M133 10.5h1M197 10.5h1M241 10.5h1M246 10.5h1M262 10.5h1M294 10.5h1M330 10.5h1M372 10.5h1M82 11.5h1M136 11.5h1M184 11.5h1M211 11.5h1M217 11.5h1M253 11.5h1M315 11.5h1M368 11.5h1M75 12.5h1M106 12.5h1M127 12.5h1M148 12.5h1M202 12.5h1M214 12.5h1M233 12.5h1M319 12.5h1M348 12.5h1M354 12.5h1M357 12.5h1M385 12.5h1M65 13.5h1M97 13.5h1M188 13.5h1M276 13.5h1M296 13.5h1M340 13.5h1M360 13.5h1M374 13.5h1M401 13.5h1M90 14.5h1M187 14.5h1M193 14.5h1M195 14.5h1M210 14.5h1M60 15.5h1M81 15.5h1M95 15.5h1M102 15.5h1M117 15.5h1M129 15.5h1M208 15.5h1M217 15.5h1M233 15.5h1M243 15.5h1M280 15.5h1M293 15.5h1M352 15.5h1M380 15.5h1M402 15.5h1M84 16.5h1M94 16.5h1M153 16.5h1M169 16.5h1M262 16.5h1M297 16.5h1M355 16.5h1M362 16.5h1M386 16.5h1M215 17.5h1M233 17.5h1M263 17.5h1M285 17.5h1M293 17.5h1M333 17.5h1M108 18.5h1M134 18.5h1M147 18.5h1M214 18.5h1M280 18.5h1M319 18.5h1M333 18.5h1M374 18.5h1M376 18.5h1M114 19.5h1M183 19.5h1M224 19.5h1M230 19.5h1M232 19.5h1M379 19.5h1M82 20.5h1M136 20.5h1M217 20.5h1M246 20.5h1M348 20.5h1M83 21.5h1M106 21.5h1M137 21.5h1M171 21.5h1M187 21.5h1M195 21.5h1M313 21.5h1M315 21.5h1M354 21.5h1M368 21.5h1M385 21.5h1M46 22.5h1M103 22.5h1M189 22.5h1M241 22.5h1M317 22.5h1M347 22.5h1M349 22.5h1M353 22.5h1M397 22.5h1M214 23.5h1M248 23.5h1M312 23.5h1M321 23.5h1M328 23.5h1M127 24.5h1M154 24.5h1M194 24.5h1M208 24.5h1M58 25.5h1M84 25.5h1M95 25.5h1M201 25.5h1M210 25.5h1M225 25.5h1M284 25.5h1M320 25.5h1M385 25.5h1M91 26.5h1M183 26.5h1M203 26.5h1M205 26.5h1M240 26.5h1M259 26.5h1M264 26.5h1M286 26.5h1M352 26.5h1M400 26.5h1M125 27.5h1M185 27.5h1M208 27.5h1M252 27.5h1M291 27.5h1M329 27.5h1M333 27.5h1M66 28.5h1M83 28.5h1M311 28.5h1M359 28.5h1M368 28.5h1M400 28.5h1"/>
<path stroke="#7777ff" d="M8 0.5h1M12 0.5h1M16 0.5h1M37 0.5h1M40 0.5h1M56 0.5h1M95 0.5h2M101 0.5h2M125 0.5h1M139 0.5h1M212 0.5h1M314 0.5h1M325 0.5h1M334 0.5h1M350 0.5h1M5 1.5h1M18 1.5h1M30 1.5h1M65 1.5h1M76 1.5h1M111 1.5h1M129 1.5h1M260 1.5h1M321 1.5h1M386 1.5h1M402 1.5h1M60 2.5h1M92 2.5h1M99 2.5h1M111 2.5h1M113 2.5h1M133 2.5h1M149 2.5h1M164 2.5h1M200 2.5h1M203 2.5h1M278 2.5h1M313 2.5h1M389 2.5h1M57 3.5h1M80 3.5h1M128 3.5h1M166 3.5h1M323 3.5h1M388 3.5h1M11 4.5h1M80 4.5h2M128 4.5h1M154 4.5h1M275 4.5h1M303 4.5h1M308 4.5h1M316 4.5h1M367 4.5h1M41 5.5h1M43 5.5h1M46 5.5h1M73 5.5h1M92 5.5h1M97 5.5h1M260 5.5h1M327 5.5h1M396 5.5h1M10 6.5h1M40 6.5h1M84 6.5h1M144 6.5h1M156 6.5h1M190 6.5h1M207 6.5h1M219 6.5h1M282 6.5h1M320 6.5h1M332 6.5h1M367 6.5h1M373 6.5h1M382 6.5h1M402 6.5h1M25 7.5h1M40 7.5h1M83 7.5h1M110 7.5h2M185 7.5h1M228 7.5h1M247 7.5h2M376 7.5h1M23 8.5h1M37 8.5h1M59 8.5h1M76 8.5h1M299 8.5h1M327 8.5h1M0 9.5h1M73 9.5h1M130 9.5h1M161 9.5h1M169 9.5h1M208 9.5h1M266 9.5h1M270 9.5h1M337 9.5h1M344 9.5h1M372 9.5h1M28 10.5h1M34 10.5h1M54 10.5h1M71 10.5h1M144 10.5h1M161 10.5h1M229 10.5h1M270 10.5h1M8 11.5h1M29 11.5h1M46 11.5h1M90 11.5h1M99 11.5h1M101 11.5h1M113 11.5h1M198 11.5h1M200 11.5h1M208 11.5h1M284 11.5h1M332 11.5h1M81 12.5h1M84 12.5h1M143 12.5h1M168 12.5h1M174 12.5h1M240 12.5h1M255 12.5h1M259 12.5h1M288 12.5h1M303 12.5h1M377 12.5h1M387 12.5h1M61 13.5h1M117 13.5h1M144 13.5h1M169 13.5h2M175 13.5h1M224 13.5h1M226 13.5h2M229 13.5h1M239 13.5h1M320 13.5h1M377 13.5h1M76 14.5h1M174 14.5h1M297 14.5h1M303 14.5h2M308 14.5h2M49 15.5h1M105 15.5h1M200 15.5h1M248 15.5h1M264 15.5h1M68 16.5h1M117 16.5h1M145 16.5h1M156 16.5h1M193 16.5h1M226 16.5h1M239 16.5h1M248 16.5h1M324 16.5h1M34 17.5h1M137 17.5h1M143 17.5h1M189 17.5h1M221 17.5h1M266 17.5h1M299 17.5h1M390 17.5h1M399 17.5h1M73 18.5h1M105 18.5h1M157 18.5h1M170 18.5h1M228 18.5h1M255 18.5h1M264 18.5h1M332 18.5h1M364 18.5h1M402 18.5h1M49 19.5h1M63 19.5h1M143 19.5h1M181 19.5h1M222 19.5h1M231 19.5h1M303 19.5h1M312 19.5h1M335 19.5h1M377 19.5h1M7 20.5h1M49 20.5h1M92 20.5h1M152 20.5h1M154 20.5h1M310 20.5h1M378 20.5h1M78 21.5h1M94 21.5h1M124 21.5h1M266 21.5h1M1 22.5h1M3 22.5h1M139 22.5h1M171 22.5h1M222 22.5h1M226 22.5h1M333 22.5h1M7 23.5h1M15 23.5h1M44 23.5h1M64 23.5h1M67 23.5h1M251 23.5h1M268 23.5h1M303 23.5h1M4 24.5h1M40 24.5h1M56 24.5h1M163 24.5h1M235 24.5h1M238 24.5h1M289 24.5h1M331 24.5h1M395 24.5h1M53 25.5h1M57 25.5h1M220 25.5h1M286 25.5h1M313 25.5h1M316 25.5h1M377 25.5h1M9 26.5h1M40 26.5h1M54 26.5h1M174 26.5h1M187 26.5h1M221 26.5h1M268 26.5h1M325 26.5h1M364 26.5h1M378 26.5h1M392 26.5h1M7 27.5h1M11 27.5h1M112 27.5h1M154 27.5h1M254 27.5h1M312 27.5h1M334 27.5h1M4 28.5h1M69 28.5h1M115 28.5h1M190 28.5h1M200 28.5h1M218 28.5h1M229 28.5h1M233 28.5h1M254 28.5h1M318 28.5h1M328 28.5h1M389 28.5h1M399 28.5h1"/>
<path stroke="#8888ff" d="M14 0.5h1M42 0.5h1M104 0.5h1M114 0.5h1M255 0.5h1M366 0.5h1M370 0.5h1M29 1.5h1M33 1.5h1M44 1.5h1M59 1.5h2M91 1.5h1M230 1.5h1M277 1.5h1M396 1.5h1M17 2.5h1M30 2.5h1M84 2.5h1M94 2.5h1M100 2.5h1M112 2.5h1M150 2.5h1M152 2.5h1M170 2.5h1M209 2.5h1M227 2.5h1M230 2.5h1M247 2.5h1M276 2.5h1M298 2.5h1M31 3.5h1M48 3.5h1M112 3.5h1M124 3.5h1M177 3.5h1M183 3.5h1M198 3.5h1M205 3.5h1M230 3.5h1M397 3.5h1M147 4.5h1M177 4.5h1M190 4.5h1M217 4.5h1M239 4.5h1M297 4.5h1M376 4.5h1M81 5.5h1M101 5.5h1M109 5.5h1M119 5.5h1M172 5.5h1M209 5.5h1M221 5.5h1M231 5.5h1M62 6.5h1M92 6.5h1M98 6.5h1M121 6.5h1M153 6.5h1M169 6.5h1M239 6.5h1M266 6.5h1M341 6.5h1M398 6.5h1M11 7.5h1M51 7.5h1M54 7.5h1M65 7.5h1M143 7.5h1M253 7.5h1M304 7.5h1M350 7.5h1M381 7.5h1M64 8.5h1M69 8.5h1M82 8.5h1M194 8.5h1M231 8.5h1M239 8.5h1M269 8.5h1M297 8.5h1M304 8.5h1M381 8.5h1M383 8.5h1M389 8.5h1M393 8.5h1M398 8.5h1M401 8.5h1M222 9.5h1M232 9.5h1M242 9.5h1M283 9.5h1M383 9.5h1M389 9.5h1M96 10.5h1M165 10.5h1M169 10.5h1M200 10.5h1M257 10.5h1M280 10.5h1M318 10.5h1M0 11.5h1M34 11.5h1M50 11.5h1M55 11.5h1M163 11.5h1M183 11.5h1M320 11.5h1M330 11.5h1M344 11.5h1M346 11.5h1M366 11.5h1M59 12.5h1M180 12.5h1M231 12.5h1M351 12.5h1M381 12.5h1M69 13.5h1M105 13.5h1M121 13.5h1M139 13.5h1M141 13.5h1M152 13.5h1M159 13.5h1M180 13.5h1M218 13.5h1M254 13.5h1M344 13.5h1M380 13.5h1M393 13.5h1M7 14.5h1M44 14.5h1M65 14.5h1M104 14.5h1M138 14.5h1M143 14.5h1M235 14.5h1M310 14.5h1M318 14.5h1M72 15.5h1M76 15.5h1M115 15.5h1M165 15.5h1M189 15.5h1M218 15.5h1M228 15.5h1M244 15.5h1M289 15.5h1M351 15.5h1M353 15.5h1M379 15.5h1M7 16.5h1M254 16.5h1M381 16.5h1M216 17.5h1M279 17.5h1M288 17.5h1M324 17.5h1M346 17.5h1M349 17.5h1M44 18.5h1M83 18.5h1M112 18.5h1M137 18.5h1M181 18.5h1M206 18.5h1M226 18.5h1M399 18.5h1M7 19.5h1M55 19.5h1M117 19.5h1M119 19.5h1M198 19.5h1M200 19.5h1M209 19.5h1M229 19.5h1M393 19.5h1M137 20.5h1M175 20.5h1M227 20.5h1M232 20.5h1M282 20.5h1M61 21.5h1M101 21.5h1M157 21.5h1M160 21.5h1M231 21.5h1M248 21.5h1M269 21.5h1M289 21.5h1M298 21.5h1M304 21.5h1M381 21.5h1M20 22.5h1M34 22.5h1M166 22.5h1M213 22.5h1M248 22.5h1M274 22.5h1M366 22.5h1M394 22.5h1M402 22.5h1M31 23.5h1M61 23.5h1M108 23.5h1M159 23.5h1M227 23.5h1M229 23.5h1M255 23.5h1M264 23.5h1M278 23.5h1M282 23.5h1M289 23.5h1M299 23.5h1M354 23.5h1M23 24.5h1M105 24.5h1M114 24.5h1M279 24.5h1M282 24.5h1M327 24.5h1M378 24.5h1M390 24.5h1M4 25.5h1M39 25.5h1M50 25.5h1M85 25.5h1M101 25.5h2M138 25.5h1M154 25.5h1M257 25.5h1M315 25.5h1M46 26.5h2M49 26.5h1M53 26.5h1M72 26.5h1M96 26.5h1M108 26.5h1M131 26.5h1M163 26.5h1M173 26.5h1M180 26.5h1M210 26.5h1M235 26.5h1M237 26.5h1M381 26.5h1M387 26.5h1M46 27.5h1M50 27.5h1M126 27.5h1M142 27.5h1M174 27.5h1M209 27.5h1M268 27.5h1M281 27.5h1M332 27.5h1M376 27.5h1M106 28.5h1M163 28.5h1M170 28.5h1M206 28.5h1M239 28.5h1M288 28.5h1M331 28.5h1M346 28.5h1M373 28.5h1"/>
<path stroke="#5555ff" d="M15 0.5h1M27 0.5h1M119 0.5h1M123 0.5h1M337 0.5h1M352 0.5h1M380 0.5h1M66 1.5h1M97 1.5h1M114 1.5h1M152 1.5h1M171 1.5h1M196 1.5h1M245 1.5h1M274 1.5h1M297 1.5h1M299 1.5h1M376 1.5h1M19 2.5h1M74 2.5h2M85 2.5h1M116 2.5h1M255 2.5h1M318 2.5h1M352 2.5h1M372 2.5h1M3 3.5h1M12 3.5h1M15 3.5h1M24 3.5h2M189 3.5h1M207 3.5h1M242 3.5h1M268 3.5h1M316 3.5h1M390 3.5h1M396 3.5h1M21 4.5h1M69 4.5h1M94 4.5h1M175 4.5h1M34 5.5h1M44 5.5h1M57 5.5h1M139 5.5h1M249 5.5h1M259 5.5h1M285 5.5h1M346 5.5h1M55 6.5h1M109 6.5h1M145 6.5h1M155 6.5h1M235 6.5h1M312 6.5h1M323 6.5h1M354 6.5h1M46 7.5h1M52 7.5h1M59 7.5h1M71 7.5h2M100 7.5h1M133 7.5h1M200 7.5h1M214 7.5h1M276 7.5h1M288 7.5h1M334 7.5h1M391 7.5h1M0 8.5h1M28 8.5h1M36 8.5h1M65 8.5h1M100 8.5h1M111 8.5h1M157 8.5h1M366 8.5h1M14 9.5h1M25 9.5h1M37 9.5h1M41 9.5h1M116 9.5h1M157 9.5h1M367 9.5h1M17 10.5h1M333 10.5h1M2 11.5h1M48 11.5h1M81 11.5h1M222 11.5h1M271 11.5h1M319 11.5h1M327 11.5h1M380 11.5h1M37 12.5h1M101 12.5h1M130 12.5h1M190 12.5h1M320 12.5h1M323 12.5h1M359 12.5h1M398 12.5h1M15 13.5h1M63 13.5h1M68 13.5h1M85 13.5h1M113 13.5h1M150 13.5h1M165 13.5h1M279 13.5h1M308 13.5h1M335 13.5h1M345 13.5h1M351 13.5h1M72 14.5h1M77 14.5h1M117 14.5h1M200 14.5h1M212 14.5h1M228 14.5h1M330 14.5h1M337 14.5h1M371 14.5h1M7 15.5h1M270 15.5h1M309 15.5h1M337 15.5h1M50 16.5h1M141 16.5h1M160 16.5h1M189 16.5h1M231 16.5h1M281 16.5h1M335 16.5h1M49 17.5h1M55 17.5h1M68 17.5h1M104 17.5h1M149 17.5h1M231 17.5h1M309 17.5h1M350 17.5h1M387 17.5h1M96 18.5h1M200 18.5h1M209 18.5h1M297 18.5h1M69 19.5h1M77 19.5h1M112 19.5h1M170 19.5h1M255 19.5h1M264 19.5h1M288 19.5h1M334 19.5h1M351 19.5h1M64 20.5h1M77 20.5h1M81 20.5h1M117 20.5h1M159 20.5h1M212 20.5h1M218 20.5h1M309 20.5h1M349 20.5h1M7 21.5h1M69 21.5h1M130 21.5h1M177 21.5h1M349 21.5h1M378 21.5h1M14 22.5h1M21 22.5h1M26 22.5h2M76 22.5h1M85 22.5h1M102 22.5h1M141 22.5h1M227 22.5h1M367 22.5h1M17 23.5h1M30 23.5h1M36 23.5h1M47 23.5h1M50 23.5h1M68 23.5h1M75 23.5h1M92 23.5h1M164 23.5h1M318 23.5h1M320 23.5h1M330 23.5h1M349 23.5h1M352 23.5h1M370 23.5h1M8 24.5h1M33 24.5h1M38 24.5h1M43 24.5h1M113 24.5h1M147 24.5h1M214 24.5h1M229 24.5h1M247 24.5h1M268 24.5h1M283 24.5h1M314 24.5h1M332 24.5h1M382 24.5h1M5 25.5h2M15 25.5h1M29 25.5h1M33 25.5h1M66 25.5h1M87 25.5h1M145 25.5h1M214 25.5h1M229 25.5h1M251 25.5h1M304 25.5h1M332 25.5h1M10 26.5h1M22 26.5h1M69 26.5h1M143 26.5h1M219 26.5h1M229 26.5h1M47 27.5h1M53 27.5h1M55 27.5h1M65 27.5h1M123 27.5h1M159 27.5h1M207 27.5h1M226 27.5h1M244 27.5h1M249 27.5h1M270 27.5h1M290 27.5h1M306 27.5h1M357 27.5h1M109 28.5h1M124 28.5h1M264 28.5h1M281 28.5h1M371 28.5h1M376 28.5h1"/>
<path stroke="#1111ff" d="M18 0.5h1M41 0.5h1M97 0.5h1M132 0.5h1M171 0.5h1M196 0.5h1M133 1.5h1M209 1.5h1M226 1.5h1M345 1.5h1M21 2.5h1M27 2.5h1M38 2.5h1M40 2.5h1M87 2.5h1M172 2.5h1M181 2.5h1M249 2.5h1M316 2.5h1M14 3.5h1M52 3.5h1M174 3.5h1M180 3.5h2M209 3.5h1M350 3.5h1M371 3.5h1M3 4.5h1M68 4.5h1M159 4.5h1M216 4.5h1M343 4.5h1M11 5.5h1M24 5.5h1M28 5.5h1M104 5.5h1M150 5.5h1M157 5.5h1M371 5.5h1M14 6.5h2M130 6.5h1M224 6.5h1M28 7.5h1M87 7.5h1M96 7.5h1M179 7.5h1M206 7.5h1M209 7.5h1M239 7.5h1M266 7.5h1M345 7.5h1M29 8.5h1M39 8.5h1M99 8.5h1M136 8.5h1M150 8.5h1M277 8.5h1M326 8.5h1M392 8.5h1M1 9.5h1M27 9.5h1M35 9.5h1M56 9.5h1M101 9.5h1M126 9.5h1M160 9.5h1M212 9.5h1M376 9.5h2M1 10.5h1M3 10.5h1M15 10.5h1M23 10.5h1M42 10.5h1M101 10.5h1M156 10.5h1M171 10.5h1M217 10.5h1M289 10.5h1M9 11.5h1M20 11.5h1M31 11.5h1M56 11.5h1M165 11.5h1M174 11.5h1M254 11.5h1M283 11.5h1M370 11.5h1M11 12.5h1M34 12.5h1M38 12.5h1M46 12.5h1M53 12.5h1M170 12.5h1M175 12.5h1M235 12.5h1M237 12.5h1M350 12.5h1M37 13.5h1M44 13.5h1M52 13.5h1M163 13.5h1M332 13.5h1M392 13.5h1M15 14.5h1M34 14.5h1M52 14.5h1M332 14.5h1M389 14.5h1M55 15.5h1M57 15.5h1M69 15.5h1M77 15.5h1M221 15.5h1M373 15.5h1M378 15.5h1M392 15.5h1M43 16.5h1M53 16.5h1M170 16.5h1M316 16.5h1M350 16.5h1M377 16.5h1M37 17.5h1M50 17.5h1M57 17.5h1M112 17.5h1M165 17.5h1M345 17.5h1M21 18.5h1M47 18.5h1M50 18.5h1M64 18.5h1M126 18.5h1M213 18.5h1M12 19.5h1M24 19.5h1M72 19.5h1M121 19.5h1M124 19.5h1M227 19.5h1M373 19.5h1M378 19.5h1M34 20.5h1M63 20.5h1M156 20.5h1M163 20.5h1M206 20.5h1M46 21.5h1M96 21.5h1M104 21.5h1M165 21.5h1M337 21.5h1M356 21.5h1M364 21.5h1M18 22.5h1M35 22.5h1M47 22.5h1M59 22.5h1M86 22.5h1M89 22.5h1M111 22.5h1M116 22.5h1M271 22.5h1M350 22.5h1M9 23.5h1M23 23.5h1M33 23.5h1M99 23.5h1M123 23.5h1M154 23.5h1M290 23.5h1M340 23.5h1M391 23.5h1M19 24.5h1M48 24.5h1M85 24.5h1M216 24.5h1M220 24.5h1M264 24.5h1M324 24.5h1M330 24.5h1M367 24.5h1M10 25.5h1M22 25.5h1M36 25.5h1M43 25.5h1M51 25.5h1M54 25.5h1M68 25.5h1M99 25.5h1M175 25.5h1M295 25.5h1M190 26.5h1M1 27.5h1M14 27.5h1M21 27.5h1M25 27.5h1M29 27.5h1M36 27.5h1M63 27.5h1M108 27.5h1M124 27.5h1M239 27.5h1M5 28.5h1M9 28.5h1M16 28.5h1M37 28.5h1M120 28.5h1M193 28.5h1M212 28.5h1M327 28.5h1M364 28.5h1"/>
<path stroke="#bbbbff" d="M19 0.5h1M39 0.5h1M115 0.5h2M128 0.5h1M187 0.5h1M203 0.5h1M209 0.5h1M221 0.5h1M228 0.5h1M231 0.5h1M297 0.5h1M353 0.5h1M365 0.5h1M9 1.5h1M68 1.5h1M136 1.5h1M142 1.5h1M192 1.5h1M201 1.5h1M222 1.5h1M243 1.5h1M254 1.5h1M291 1.5h1M296 1.5h1M312 1.5h1M314 1.5h1M332 1.5h1M384 1.5h1M24 2.5h1M62 2.5h1M139 2.5h1M242 2.5h1M390 2.5h1M398 2.5h1M11 3.5h1M208 3.5h1M289 3.5h1M304 3.5h1M345 3.5h1M366 3.5h1M382 3.5h1M398 3.5h1M37 4.5h1M46 4.5h1M156 4.5h2M227 4.5h1M268 4.5h1M271 4.5h1M282 4.5h2M321 4.5h1M323 4.5h1M359 4.5h1M394 4.5h1M37 5.5h1M114 5.5h1M179 5.5h1M251 5.5h1M264 5.5h1M282 5.5h1M318 5.5h1M323 5.5h1M326 5.5h1M392 5.5h1M73 6.5h1M81 6.5h1M105 6.5h1M141 6.5h1M150 6.5h1M174 6.5h1M188 6.5h2M198 6.5h1M254 6.5h1M281 6.5h1M290 6.5h1M355 6.5h1M379 6.5h1M393 6.5h1M4 7.5h1M73 7.5h1M92 7.5h1M94 7.5h1M145 7.5h1M147 7.5h1M218 7.5h1M251 7.5h1M307 7.5h1M312 7.5h1M331 7.5h1M358 7.5h1M377 7.5h1M251 8.5h1M264 8.5h1M283 8.5h1M309 8.5h2M340 8.5h1M353 8.5h1M355 8.5h1M28 9.5h1M80 9.5h1M115 9.5h1M145 9.5h1M188 9.5h1M198 9.5h1M381 9.5h1M53 10.5h1M60 10.5h1M102 10.5h1M118 10.5h1M174 10.5h1M185 10.5h1M214 10.5h1M341 10.5h1M349 10.5h1M353 10.5h1M1 11.5h1M68 11.5h1M137 11.5h1M164 11.5h1M170 11.5h1M274 11.5h1M392 11.5h1M7 12.5h1M49 12.5h1M69 12.5h1M246 12.5h1M312 12.5h1M349 12.5h1M59 13.5h1M73 13.5h1M80 13.5h1M92 13.5h1M220 13.5h1M298 13.5h1M304 13.5h1M314 13.5h1M373 13.5h1M391 13.5h1M402 13.5h1M59 14.5h1M165 14.5h1M180 14.5h1M218 14.5h1M229 14.5h1M255 14.5h1M280 14.5h1M331 14.5h1M356 14.5h1M359 14.5h1M373 14.5h1M104 15.5h1M150 15.5h1M154 15.5h1M216 15.5h1M226 15.5h1M266 15.5h1M279 15.5h1M286 15.5h1M344 15.5h1M370 15.5h1M61 16.5h1M65 16.5h1M81 16.5h1M112 16.5h1M115 16.5h1M122 16.5h1M86 17.5h1M122 17.5h1M128 17.5h1M141 17.5h1M144 17.5h1M150 17.5h1M155 17.5h1M210 17.5h1M218 17.5h1M227 17.5h1M244 17.5h1M308 17.5h1M330 17.5h1M92 18.5h1M144 18.5h1M274 18.5h1M318 18.5h1M358 18.5h1M59 19.5h1M62 19.5h1M65 19.5h1M92 19.5h1M152 19.5h1M168 19.5h1M221 19.5h1M254 19.5h1M259 19.5h1M269 19.5h1M318 19.5h1M177 20.5h1M226 20.5h1M308 20.5h1M356 20.5h1M15 21.5h1M64 21.5h1M138 21.5h1M144 21.5h1M181 21.5h1M189 21.5h1M198 21.5h1M220 21.5h1M327 21.5h1M330 21.5h1M332 21.5h1M380 21.5h1M382 21.5h1M4 22.5h1M31 22.5h1M36 22.5h1M81 22.5h1M101 22.5h1M113 22.5h1M133 22.5h1M140 22.5h1M164 22.5h1M190 22.5h1M221 22.5h1M364 22.5h1M34 23.5h1M70 23.5h1M81 23.5h1M115 23.5h1M129 23.5h1M270 23.5h1M286 23.5h1M364 23.5h1M111 24.5h1M118 24.5h1M177 24.5h1M232 24.5h1M258 24.5h1M292 24.5h1M359 24.5h1M398 24.5h1M71 25.5h1M156 25.5h1M249 25.5h1M255 25.5h1M337 25.5h1M365 25.5h1M403 25.5h1M17 26.5h1M83 26.5h1M87 26.5h2M94 26.5h1M130 26.5h1M133 26.5h1M137 26.5h1M144 26.5h1M150 26.5h1M227 26.5h1M251 26.5h1M320 26.5h1M373 26.5h1M28 27.5h1M78 27.5h1M92 27.5h1M152 27.5h1M170 27.5h1M337 27.5h1M393 27.5h1M399 27.5h1M85 28.5h1M130 28.5h1M168 28.5h1M185 28.5h1M228 28.5h1M235 28.5h1M315 28.5h1M317 28.5h1M320 28.5h1M351 28.5h1M383 28.5h1M393 28.5h1"/>
<path stroke="#ee9999" d="M20 0.5h1M46 0.5h1M92 0.5h1M118 0.5h1M129 0.5h1M131 0.5h1M184 0.5h1M217 0.5h1M373 0.5h1M22 1.5h1M24 1.5h1M138 1.5h1M225 1.5h1M251 1.5h1M378 1.5h1M382 1.5h1M395 1.5h1M145 2.5h1M154 2.5h1M184 2.5h1M225 2.5h1M232 2.5h1M383 2.5h1M402 2.5h1M86 3.5h2M105 3.5h1M107 3.5h1M114 3.5h1M148 3.5h1M176 3.5h1M188 3.5h1M231 3.5h1M265 3.5h1M313 3.5h1M335 3.5h1M62 4.5h1M90 4.5h1M105 4.5h1M129 4.5h1M153 4.5h1M164 4.5h1M168 4.5h1M181 4.5h1M279 4.5h1M296 4.5h1M402 4.5h1M88 5.5h1M100 5.5h1M211 5.5h1M229 5.5h1M236 5.5h1M286 5.5h1M293 5.5h1M309 5.5h1M316 5.5h1M328 5.5h1M340 5.5h1M373 5.5h1M391 5.5h1M400 5.5h1M44 6.5h1M59 6.5h1M114 6.5h1M286 6.5h1M297 6.5h1M347 6.5h1M60 7.5h1M82 7.5h1M129 7.5h1M141 7.5h1M148 7.5h1M177 7.5h1M238 7.5h1M254 7.5h1M291 7.5h1M343 7.5h1M353 7.5h1M387 7.5h1M389 7.5h1M7 8.5h1M77 8.5h1M129 8.5h1M168 8.5h1M184 8.5h1M195 8.5h2M260 8.5h1M324 8.5h1M97 9.5h1M177 9.5h1M221 9.5h1M231 9.5h1M265 9.5h1M321 9.5h1M341 9.5h1M373 9.5h1M386 9.5h1M66 10.5h1M68 10.5h1M78 10.5h1M94 10.5h1M149 10.5h1M178 10.5h1M187 10.5h1M202 10.5h1M205 10.5h1M264 10.5h1M298 10.5h1M300 10.5h1M331 10.5h1M62 11.5h1M188 11.5h1M193 11.5h1M205 11.5h1M238 11.5h1M270 11.5h1M278 11.5h2M297 11.5h1M357 11.5h1M374 11.5h1M376 11.5h1M403 11.5h1M64 12.5h1M111 12.5h1M120 12.5h1M171 12.5h1M183 12.5h1M225 12.5h1M253 12.5h1M260 12.5h1M280 12.5h1M293 12.5h1M295 12.5h1M306 12.5h2M314 12.5h1M328 12.5h1M362 12.5h1M380 12.5h1M400 12.5h1M77 13.5h1M86 13.5h1M109 13.5h1M238 13.5h1M262 13.5h1M331 13.5h1M346 13.5h1M370 13.5h1M81 14.5h1M86 14.5h1M97 14.5h1M111 14.5h1M161 14.5h1M369 14.5h1M395 14.5h1M401 14.5h1M113 15.5h1M187 15.5h1M215 15.5h1M295 15.5h2M306 15.5h1M354 15.5h1M368 15.5h1M389 15.5h1M395 15.5h1M136 16.5h1M164 16.5h2M168 16.5h1M173 16.5h1M233 16.5h1M270 16.5h1M310 16.5h1M312 16.5h1M356 16.5h1M370 16.5h1M379 16.5h1M81 17.5h1M164 17.5h1M167 17.5h1M325 17.5h1M394 17.5h1M138 18.5h1M177 18.5h1M187 18.5h1M202 18.5h1M325 18.5h1M353 18.5h1M360 18.5h1M365 18.5h1M382 18.5h1M223 19.5h1M238 19.5h1M279 19.5h1M285 19.5h1M313 19.5h2M114 20.5h1M120 20.5h1M138 20.5h1M202 20.5h1M220 20.5h1M233 20.5h1M256 20.5h1M259 20.5h1M307 20.5h1M328 20.5h1M362 20.5h1M365 20.5h1M380 20.5h1M77 21.5h1M147 21.5h1M261 21.5h1M297 21.5h1M311 21.5h1M325 21.5h2M340 21.5h1M395 21.5h1M77 22.5h1M119 22.5h1M273 22.5h1M321 22.5h1M331 22.5h1M334 22.5h1M358 22.5h1M360 22.5h2M380 22.5h1M400 22.5h1M97 23.5h1M109 23.5h1M131 23.5h1M140 23.5h1M192 23.5h1M216 23.5h1M326 23.5h1M373 23.5h1M120 24.5h1M137 24.5h2M141 24.5h1M159 24.5h1M187 24.5h1M227 24.5h1M239 24.5h1M276 24.5h1M351 24.5h1M355 24.5h1M358 24.5h1M384 24.5h1M106 25.5h1M114 25.5h1M158 25.5h1M179 25.5h1M233 25.5h1M280 25.5h1M349 25.5h1M372 25.5h1M61 26.5h1M70 26.5h1M95 26.5h1M111 26.5h1M116 26.5h2M152 26.5h1M181 26.5h1M234 26.5h1M287 26.5h1M309 26.5h1M363 26.5h1M81 27.5h1M87 27.5h1M113 27.5h1M136 27.5h1M153 27.5h1M172 27.5h1M198 27.5h1M218 27.5h1M238 27.5h1M265 27.5h1M283 27.5h1M297 27.5h1M310 27.5h1M352 27.5h1M73 28.5h1M152 28.5h1M159 28.5h1M183 28.5h1M198 28.5h1M223 28.5h1M240 28.5h1M253 28.5h1M280 28.5h1M308 28.5h1M324 28.5h1M333 28.5h1"/>
<path stroke="#2222ff" d="M23 0.5h1M33 0.5h1M63 0.5h1M124 0.5h1M133 0.5h1M141 0.5h1M156 0.5h1M266 0.5h1M316 0.5h1M326 0.5h1M338 0.5h1M371 0.5h1M48 1.5h1M108 1.5h1M159 1.5h1M354 1.5h1M399 1.5h1M33 2.5h1M57 2.5h1M71 2.5h2M117 2.5h1M281 2.5h1M374 2.5h1M1 3.5h1M30 3.5h1M37 3.5h1M141 3.5h1M206 3.5h1M255 3.5h1M269 3.5h1M373 3.5h1M57 4.5h1M344 4.5h1M40 5.5h1M42 5.5h1M50 5.5h1M77 5.5h1M117 5.5h1M219 5.5h1M233 5.5h1M302 5.5h1M34 6.5h2M166 6.5h1M172 6.5h1M180 6.5h1M220 6.5h1M337 6.5h1M21 7.5h1M57 7.5h1M99 7.5h1M139 7.5h1M174 7.5h2M55 8.5h1M71 8.5h1M237 8.5h1M244 8.5h1M281 8.5h1M308 8.5h1M317 8.5h1M390 8.5h1M6 9.5h1M8 9.5h1M12 9.5h1M54 9.5h1M78 9.5h1M109 9.5h1M133 9.5h1M144 9.5h1M8 10.5h2M29 10.5h1M33 10.5h1M104 10.5h1M166 10.5h1M213 10.5h1M312 10.5h1M315 10.5h1M337 10.5h1M354 10.5h1M6 11.5h1M12 11.5h1M28 11.5h1M40 11.5h1M73 11.5h1M107 11.5h1M175 11.5h1M281 11.5h1M285 11.5h1M365 11.5h1M381 11.5h1M1 12.5h1M55 12.5h1M50 13.5h1M200 13.5h1M221 13.5h1M115 14.5h1M163 14.5h1M170 14.5h1M254 14.5h1M268 14.5h1M372 14.5h1M133 15.5h1M206 15.5h1M219 15.5h1M254 15.5h1M268 15.5h1M316 15.5h1M345 15.5h1M377 15.5h1M10 16.5h1M15 16.5h1M76 16.5h1M124 16.5h1M268 16.5h1M332 16.5h1M378 16.5h1M96 17.5h1M170 17.5h1M177 17.5h1M229 17.5h1M254 17.5h1M264 17.5h1M304 17.5h1M0 18.5h1M12 18.5h1M28 18.5h1M39 18.5h1M100 18.5h2M151 18.5h1M290 18.5h1M334 18.5h1M367 18.5h1M381 18.5h1M34 19.5h1M53 19.5h1M150 19.5h1M218 19.5h1M228 19.5h1M308 19.5h1M381 19.5h1M47 20.5h1M50 20.5h1M264 20.5h1M327 20.5h1M334 20.5h1M344 20.5h1M392 20.5h1M24 21.5h1M52 21.5h1M133 21.5h1M152 21.5h1M170 21.5h1M200 21.5h1M222 21.5h1M226 21.5h1M309 21.5h1M2 22.5h1M28 22.5h1M50 22.5h1M258 22.5h1M37 23.5h1M40 23.5h1M43 23.5h1M57 23.5h1M78 23.5h1M230 23.5h1M239 23.5h1M39 24.5h1M41 24.5h1M63 24.5h1M69 24.5h1M99 24.5h1M169 24.5h1M180 24.5h1M212 24.5h1M309 24.5h1M28 25.5h1M46 25.5h1M96 25.5h1M123 25.5h1M221 25.5h1M327 25.5h1M364 25.5h1M37 26.5h1M41 26.5h1M99 26.5h1M104 26.5h1M247 26.5h2M277 26.5h1M327 26.5h1M334 26.5h1M389 26.5h1M8 27.5h1M12 27.5h1M128 27.5h1M304 27.5h1M335 27.5h1M377 27.5h1M0 28.5h1M31 28.5h1M63 28.5h1M98 28.5h1M121 28.5h1M138 28.5h1M334 28.5h1M367 28.5h1M372 28.5h1"/>
<path stroke="#eeeeff" d="M24 0.5h1M48 0.5h1M67 0.5h1M138 0.5h1M160 0.5h1M198 0.5h1M208 0.5h1M226 0.5h1M284 0.5h3M301 0.5h1M399 0.5h1M12 1.5h1M25 1.5h1M70 1.5h1M79 1.5h1M131 1.5h1M153 1.5h1M195 1.5h1M238 1.5h1M288 1.5h1M322 1.5h1M331 1.5h1M336 1.5h1M361 1.5h2M385 1.5h1M37 2.5h1M50 2.5h1M59 2.5h1M78 2.5h1M104 2.5h1M115 2.5h1M157 2.5h1M174 2.5h1M240 2.5h1M251 2.5h1M264 2.5h1M270 2.5h1M272 2.5h1M363 2.5h1M376 2.5h1M17 3.5h1M69 3.5h1M96 3.5h1M113 3.5h1M116 3.5h1M142 3.5h1M144 3.5h1M192 3.5h1M210 3.5h1M248 3.5h1M250 3.5h1M270 3.5h1M274 3.5h1M339 3.5h1M389 3.5h1M401 3.5h1M19 4.5h1M34 4.5h1M83 4.5h1M106 4.5h2M112 4.5h1M173 4.5h1M198 4.5h1M252 4.5h1M259 4.5h2M278 4.5h1M372 4.5h1M106 5.5h1M118 5.5h1M138 5.5h1M144 5.5h1M159 5.5h2M197 5.5h1M240 5.5h1M307 5.5h1M351 5.5h1M383 5.5h1M393 5.5h1M397 5.5h1M65 6.5h1M142 6.5h1M159 6.5h1M279 6.5h2M300 6.5h1M360 6.5h1M370 6.5h1M10 7.5h1M101 7.5h1M166 7.5h1M198 7.5h1M222 7.5h1M237 7.5h1M262 7.5h1M286 7.5h1M326 7.5h1M337 7.5h1M390 7.5h1M57 8.5h1M152 8.5h1M220 8.5h1M255 8.5h1M318 8.5h1M344 8.5h1M362 8.5h1M369 8.5h1M372 8.5h1M379 8.5h1M391 8.5h1M90 9.5h1M106 9.5h1M120 9.5h1M147 9.5h1M317 9.5h1M55 10.5h1M65 10.5h1M67 10.5h1M88 10.5h1M110 10.5h1M168 10.5h1M172 10.5h1M248 10.5h1M266 10.5h1M271 10.5h1M292 10.5h2M309 10.5h1M314 10.5h1M367 10.5h1M370 10.5h1M400 10.5h1M67 11.5h1M87 11.5h1M91 11.5h1M116 11.5h1M120 11.5h1M159 11.5h1M177 11.5h1M189 11.5h1M235 11.5h1M255 11.5h1M258 11.5h2M282 11.5h1M287 11.5h1M307 11.5h1M337 11.5h1M343 11.5h1M347 11.5h1M387 11.5h1M389 11.5h1M92 12.5h1M108 12.5h2M141 12.5h1M153 12.5h1M217 12.5h1M224 12.5h1M269 12.5h1M283 12.5h1M285 12.5h1M353 12.5h1M122 13.5h1M174 13.5h1M223 13.5h1M230 13.5h1M243 13.5h2M310 13.5h1M395 13.5h1M78 14.5h1M100 14.5h1M144 14.5h1M227 14.5h1M243 14.5h1M274 14.5h1M320 14.5h1M87 15.5h1M92 15.5h1M101 15.5h1M122 15.5h1M179 15.5h1M193 15.5h1M246 15.5h1M276 15.5h1M49 16.5h1M130 16.5h1M147 16.5h1M181 16.5h1M220 16.5h1M237 16.5h1M257 16.5h1M279 16.5h1M288 16.5h1M330 16.5h1M390 16.5h2M139 17.5h1M198 17.5h1M268 17.5h1M283 17.5h1M343 17.5h1M353 17.5h1M388 17.5h1M395 17.5h1M59 18.5h1M79 18.5h1M173 18.5h1M180 18.5h1M270 18.5h1M282 18.5h2M302 18.5h2M307 18.5h1M389 18.5h1M76 19.5h1M153 19.5h1M177 19.5h1M202 19.5h1M283 19.5h1M302 19.5h1M323 19.5h1M337 19.5h1M143 20.5h1M170 20.5h1M200 20.5h1M225 20.5h1M249 20.5h1M294 20.5h1M318 20.5h1M402 20.5h1M111 21.5h1M115 21.5h1M132 21.5h1M227 21.5h2M240 21.5h1M255 21.5h1M274 21.5h1M308 21.5h1M343 21.5h1M355 21.5h1M377 21.5h1M389 21.5h1M16 22.5h1M56 22.5h1M96 22.5h1M156 22.5h1M158 22.5h1M179 22.5h1M254 22.5h1M288 22.5h1M294 22.5h2M298 22.5h1M369 22.5h1M390 22.5h1M1 23.5h1M91 23.5h1M132 23.5h1M178 23.5h1M238 23.5h1M168 24.5h1M176 24.5h1M193 24.5h1M246 24.5h1M316 24.5h1M354 24.5h1M59 25.5h1M150 25.5h1M197 25.5h1M211 25.5h1M224 25.5h1M254 25.5h1M322 25.5h1M325 25.5h1M350 25.5h1M390 25.5h1M102 26.5h1M112 26.5h1M139 26.5h1M165 26.5h1M258 26.5h1M263 26.5h1M289 26.5h1M296 26.5h1M299 26.5h1M90 27.5h1M94 27.5h1M110 27.5h1M160 27.5h1M168 27.5h1M216 27.5h2M259 27.5h1M303 27.5h1M324 27.5h1M364 27.5h1M389 27.5h1M76 28.5h1M86 28.5h1M145 28.5h1M153 28.5h1M180 28.5h2M213 28.5h1M312 28.5h1M332 28.5h1M348 28.5h1"/>
<path stroke="#9999ff" d="M47 0.5h1M93 0.5h1M173 0.5h1M195 0.5h1M238 0.5h1M249 0.5h1M375 0.5h1M377 0.5h1M0 1.5h1M4 1.5h1M28 1.5h1M57 1.5h1M80 1.5h1M83 1.5h1M189 1.5h1M191 1.5h1M208 1.5h1M219 1.5h1M223 1.5h1M255 1.5h1M262 1.5h1M287 1.5h1M337 1.5h1M371 1.5h1M373 1.5h1M0 2.5h1M29 2.5h1M89 2.5h1M155 2.5h1M195 2.5h1M295 2.5h1M307 2.5h1M36 3.5h1M50 3.5h1M147 3.5h1M221 3.5h1M225 3.5h1M247 3.5h1M281 3.5h2M124 4.5h1M150 4.5h1M152 4.5h1M228 4.5h1M250 4.5h1M274 4.5h1M324 4.5h1M355 4.5h1M84 5.5h1M142 5.5h1M151 5.5h1M173 5.5h1M224 5.5h1M241 5.5h1M367 5.5h1M377 5.5h2M1 6.5h1M7 6.5h1M66 6.5h1M69 6.5h1M83 6.5h1M139 6.5h1M193 6.5h1M390 6.5h1M392 6.5h1M23 7.5h1M50 7.5h1M107 7.5h1M184 7.5h1M231 7.5h1M240 7.5h1M316 7.5h1M352 7.5h1M402 7.5h1M94 8.5h1M107 8.5h1M117 8.5h1M155 8.5h1M170 8.5h1M180 8.5h1M183 8.5h1M185 8.5h1M206 8.5h1M247 8.5h1M249 8.5h1M380 8.5h1M53 9.5h1M59 9.5h1M61 9.5h1M69 9.5h1M99 9.5h1M121 9.5h1M170 9.5h1M206 9.5h1M281 9.5h2M345 9.5h1M363 9.5h1M382 9.5h1M391 9.5h1M12 10.5h1M64 10.5h1M116 10.5h1M120 10.5h1M138 10.5h1M179 10.5h1M244 10.5h1M316 10.5h1M326 10.5h1M41 11.5h1M125 11.5h1M152 11.5h1M324 11.5h1M335 11.5h1M65 12.5h1M68 12.5h1M104 12.5h1M226 12.5h1M281 12.5h1M367 12.5h1M49 13.5h1M101 13.5h1M108 13.5h1M112 13.5h1M181 13.5h1M240 13.5h1M255 13.5h1M274 13.5h1M288 13.5h1M60 14.5h1M85 14.5h1M121 14.5h1M266 14.5h1M289 14.5h1M363 14.5h1M96 15.5h1M139 15.5h1M152 15.5h1M175 15.5h1M177 15.5h1M184 15.5h1M231 15.5h1M320 15.5h1M387 15.5h1M64 16.5h1M100 16.5h2M175 16.5h1M320 16.5h1M327 16.5h1M61 17.5h1M69 17.5h1M72 17.5h1M105 17.5h1M121 17.5h1M124 17.5h1M274 17.5h1M302 17.5h1M34 18.5h1M81 18.5h1M117 18.5h1M130 18.5h1M237 18.5h1M253 18.5h1M314 18.5h1M371 18.5h2M258 19.5h1M310 19.5h1M346 19.5h1M390 19.5h1M15 20.5h1M59 20.5h1M61 20.5h1M85 20.5h1M101 20.5h1M149 20.5h1M181 20.5h1M183 20.5h1M221 20.5h1M240 20.5h1M326 20.5h1M332 20.5h1M399 20.5h1M68 21.5h1M81 21.5h1M108 21.5h1M136 21.5h1M184 21.5h1M224 21.5h1M251 21.5h1M307 21.5h1M359 21.5h1M39 22.5h1M57 22.5h1M118 22.5h1M148 22.5h1M161 22.5h1M170 22.5h1M200 22.5h2M255 22.5h2M345 22.5h1M384 22.5h1M399 22.5h1M72 23.5h1M83 23.5h1M137 23.5h1M141 23.5h1M161 23.5h1M310 23.5h1M389 23.5h1M7 24.5h1M11 24.5h1M74 24.5h1M130 24.5h1M139 24.5h1M155 24.5h1M189 24.5h1M231 24.5h1M248 24.5h1M255 24.5h1M262 24.5h1M284 24.5h1M334 24.5h1M370 24.5h1M401 24.5h1M27 25.5h1M215 25.5h1M230 25.5h1M253 25.5h1M382 25.5h1M154 26.5h1M168 26.5h1M189 26.5h1M211 26.5h1M228 26.5h1M365 26.5h1M393 26.5h1M34 27.5h1M70 27.5h1M101 27.5h1M177 27.5h1M206 27.5h1M251 27.5h1M280 27.5h1M285 27.5h1M295 27.5h1M298 27.5h1M367 27.5h1M381 27.5h1M400 27.5h1M72 28.5h1M128 28.5h1M165 28.5h1"/>
<path stroke="#ffdddd" d="M50 0.5h1M68 0.5h1M78 0.5h1M106 0.5h1M137 0.5h1M170 0.5h1M190 0.5h1M201 0.5h1M311 0.5h1M333 0.5h1M336 0.5h1M355 0.5h1M360 0.5h1M388 0.5h1M27 1.5h1M39 1.5h1M41 1.5h1M116 1.5h1M123 1.5h1M127 1.5h1M146 1.5h1M148 1.5h1M184 1.5h1M218 1.5h1M253 1.5h1M259 1.5h1M286 1.5h1M293 1.5h1M340 1.5h1M387 1.5h1M67 2.5h1M123 2.5h1M178 2.5h1M214 2.5h1M216 2.5h1M254 2.5h1M259 2.5h1M285 2.5h1M323 2.5h1M373 2.5h1M9 3.5h1M106 3.5h1M150 3.5h1M237 3.5h1M332 3.5h1M343 3.5h1M357 3.5h1M215 4.5h1M223 4.5h1M299 4.5h1M327 4.5h1M387 4.5h1M391 4.5h1M62 5.5h1M65 5.5h1M124 5.5h1M168 5.5h1M222 5.5h1M232 5.5h1M247 5.5h1M270 5.5h1M288 5.5h1M343 5.5h2M382 5.5h1M399 5.5h1M401 5.5h1M132 6.5h1M147 6.5h1M181 6.5h1M231 6.5h1M246 6.5h1M327 6.5h1M333 6.5h1M346 6.5h1M374 6.5h1M116 7.5h1M137 7.5h1M211 7.5h1M217 7.5h1M224 7.5h1M230 7.5h1M275 7.5h1M294 7.5h1M320 7.5h1M360 7.5h1M370 7.5h1M73 8.5h1M105 8.5h2M115 8.5h1M141 8.5h1M143 8.5h1M146 8.5h1M192 8.5h2M240 8.5h1M312 8.5h1M64 9.5h1M123 9.5h1M224 9.5h1M230 9.5h1M236 9.5h1M240 9.5h1M332 9.5h1M354 9.5h1M370 9.5h1M374 9.5h1M378 9.5h1M70 10.5h1M76 10.5h1M98 10.5h1M132 10.5h1M203 10.5h1M209 10.5h1M223 10.5h1M236 10.5h1M281 10.5h1M295 10.5h1M332 10.5h1M352 10.5h1M359 10.5h1M374 10.5h1M392 10.5h1M86 11.5h1M139 11.5h1M147 11.5h1M154 11.5h1M158 11.5h1M173 11.5h1M180 11.5h1M231 11.5h1M288 11.5h1M333 11.5h1M358 11.5h1M77 12.5h2M90 12.5h1M105 12.5h1M137 12.5h1M150 12.5h1M172 12.5h1M244 12.5h1M302 12.5h1M308 12.5h1M313 12.5h1M321 12.5h1M355 12.5h1M370 12.5h1M372 12.5h1M114 13.5h1M151 13.5h1M171 13.5h1M184 13.5h1M210 13.5h1M269 13.5h1M312 13.5h1M359 13.5h1M181 14.5h1M183 14.5h1M216 14.5h1M225 14.5h1M237 14.5h1M258 14.5h1M278 14.5h2M326 14.5h1M352 14.5h1M376 14.5h1M390 14.5h1M153 15.5h1M180 15.5h1M194 15.5h1M237 15.5h1M260 15.5h1M283 15.5h1M331 15.5h1M346 15.5h1M372 15.5h1M95 16.5h1M129 16.5h1M161 16.5h1M227 16.5h2M283 16.5h1M296 16.5h1M302 16.5h1M309 16.5h1M326 16.5h1M102 17.5h1M108 17.5h1M114 17.5h1M119 17.5h1M142 17.5h1M154 17.5h1M179 17.5h1M224 17.5h1M242 17.5h1M289 17.5h1M297 17.5h1M389 17.5h1M77 18.5h1M90 18.5h1M113 18.5h1M153 18.5h1M161 18.5h1M179 18.5h1M196 18.5h1M217 18.5h1M239 18.5h2M242 18.5h1M278 18.5h1M310 18.5h1M354 18.5h1M86 19.5h1M105 19.5h1M108 19.5h1M138 19.5h1M164 19.5h1M180 19.5h1M188 19.5h1M244 19.5h1M246 19.5h1M274 19.5h1M341 19.5h1M356 19.5h1M359 19.5h1M363 19.5h1M89 20.5h2M121 20.5h1M147 20.5h1M216 20.5h1M237 20.5h1M279 20.5h1M283 20.5h1M297 20.5h1M353 20.5h1M358 20.5h1M382 20.5h1M396 20.5h1M105 21.5h1M142 21.5h1M161 21.5h1M185 21.5h1M257 21.5h1M259 21.5h1M262 21.5h1M299 21.5h1M392 21.5h1M62 22.5h1M95 22.5h1M123 22.5h1M145 22.5h1M289 22.5h1M291 22.5h1M314 22.5h1M324 22.5h1M342 22.5h1M363 22.5h1M29 23.5h1M73 23.5h1M106 23.5h1M112 23.5h1M130 23.5h1M144 23.5h1M150 23.5h1M191 23.5h1M193 23.5h1M221 23.5h1M244 23.5h1M266 23.5h1M279 23.5h1M285 23.5h1M311 23.5h1M325 23.5h1M402 23.5h1M68 24.5h1M107 24.5h1M161 24.5h1M225 24.5h1M285 24.5h1M343 24.5h1M360 24.5h1M376 24.5h1M393 24.5h1M73 25.5h1M81 25.5h1M121 25.5h2M125 25.5h1M136 25.5h1M144 25.5h1M152 25.5h1M185 25.5h1M232 25.5h1M266 25.5h1M302 25.5h1M352 25.5h1M127 26.5h1M136 26.5h1M153 26.5h1M188 26.5h1M255 26.5h1M270 26.5h1M330 26.5h1M337 26.5h1M359 26.5h1M388 26.5h1M391 26.5h1M64 27.5h1M93 27.5h1M132 27.5h1M164 27.5h1M195 27.5h1M225 27.5h1M237 27.5h1M269 27.5h1M274 27.5h1M279 27.5h1M350 27.5h2M373 27.5h1M60 28.5h1M67 28.5h1M112 28.5h1M135 28.5h2M141 28.5h1M184 28.5h1M215 28.5h1M232 28.5h1M237 28.5h1M242 28.5h1M246 28.5h1M260 28.5h1M265 28.5h1M274 28.5h1M297 28.5h1M306 28.5h1M309 28.5h1M396 28.5h1"/>
<path stroke="#dd2222" d="M53 0.5h1M164 0.5h1M197 0.5h1M199 0.5h1M233 0.5h1M244 0.5h1M75 1.5h1M105 1.5h1M109 1.5h1M179 1.5h1M300 1.5h1M305 1.5h1M333 1.5h1M380 1.5h1M401 1.5h1M69 2.5h1M79 2.5h1M81 2.5h1M93 2.5h1M98 2.5h1M162 2.5h1M208 2.5h1M324 2.5h1M379 2.5h1M195 3.5h1M199 3.5h1M211 3.5h1M214 3.5h1M322 3.5h1M329 3.5h1M362 3.5h1M86 4.5h1M102 4.5h1M158 4.5h1M162 4.5h1M167 4.5h1M191 4.5h1M255 4.5h1M270 4.5h1M357 4.5h1M90 5.5h1M122 5.5h1M177 5.5h1M403 5.5h1M88 6.5h1M140 6.5h1M149 6.5h1M185 6.5h1M192 6.5h1M258 6.5h1M273 6.5h1M284 6.5h1M340 6.5h1M357 6.5h1M76 7.5h1M135 7.5h1M171 7.5h1M195 7.5h1M220 7.5h1M273 7.5h1M363 7.5h1M394 7.5h1M164 8.5h1M201 8.5h2M215 8.5h1M223 8.5h1M257 8.5h1M272 8.5h1M279 8.5h1M293 8.5h1M301 8.5h1M311 8.5h1M365 8.5h1M382 8.5h1M385 8.5h1M94 9.5h1M110 9.5h2M199 9.5h1M215 9.5h1M276 9.5h1M285 9.5h1M293 9.5h1M314 9.5h1M333 9.5h1M173 10.5h1M211 10.5h1M291 10.5h1M347 10.5h1M70 11.5h1M77 11.5h1M83 11.5h1M134 11.5h1M148 11.5h1M171 11.5h1M261 11.5h1M378 11.5h1M140 12.5h1M142 12.5h1M182 12.5h1M187 12.5h1M194 12.5h1M196 12.5h1M363 12.5h1M95 13.5h1M131 13.5h1M191 13.5h1M208 13.5h1M265 13.5h1M403 13.5h1M62 14.5h1M67 14.5h1M88 14.5h1M252 14.5h1M263 14.5h1M311 14.5h1M230 15.5h1M241 15.5h1M284 15.5h1M299 15.5h1M314 15.5h1M359 15.5h1M91 16.5h1M194 16.5h1M241 16.5h1M261 16.5h1M267 16.5h1M301 16.5h1M95 17.5h1M131 17.5h1M153 17.5h1M194 17.5h1M362 17.5h1M368 17.5h1M91 18.5h1M142 18.5h1M178 18.5h1M185 18.5h1M195 18.5h1M201 18.5h1M236 18.5h1M238 18.5h1M311 18.5h1M336 18.5h1M93 19.5h1M95 19.5h1M107 19.5h1M111 19.5h1M127 19.5h1M169 19.5h1M193 19.5h1M220 19.5h1M242 19.5h1M400 19.5h2M74 20.5h1M95 20.5h1M142 20.5h1M199 20.5h1M223 20.5h1M241 20.5h1M257 20.5h1M267 20.5h1M315 20.5h1M341 20.5h1M401 20.5h1M75 21.5h1M88 21.5h1M102 21.5h1M107 21.5h1M118 21.5h1M173 21.5h1M194 21.5h1M243 21.5h1M283 21.5h1M125 22.5h1M253 22.5h1M266 22.5h1M313 22.5h1M326 22.5h2M329 22.5h1M66 23.5h1M162 23.5h1M172 23.5h1M348 23.5h1M369 23.5h1M384 23.5h1M62 24.5h1M91 24.5h1M151 24.5h1M191 24.5h1M236 24.5h1M259 24.5h1M299 24.5h1M307 24.5h1M353 24.5h1M97 25.5h1M107 25.5h1M172 25.5h1M300 25.5h1M323 25.5h1M336 25.5h1M394 25.5h1M397 25.5h1M76 26.5h1M135 26.5h1M194 26.5h1M275 26.5h1M278 26.5h1M280 26.5h1M319 26.5h1M322 26.5h1M326 26.5h1M340 26.5h1M376 26.5h1M394 26.5h1M95 27.5h1M127 27.5h1M147 27.5h1M188 27.5h1M322 27.5h1M82 28.5h1M88 28.5h1M91 28.5h1M114 28.5h1M132 28.5h1M202 28.5h1M238 28.5h1M241 28.5h1M322 28.5h2M344 28.5h1M355 28.5h1M360 28.5h1M394 28.5h1M401 28.5h1"/>
<path stroke="#ddddff" d="M54 0.5h1M59 0.5h1M105 0.5h1M121 0.5h1M142 0.5h1M207 0.5h1M213 0.5h1M274 0.5h1M280 0.5h1M308 0.5h1M315 0.5h1M349 0.5h1M351 0.5h1M382 0.5h1M394 0.5h1M13 1.5h1M46 1.5h1M104 1.5h1M125 1.5h1M145 1.5h1M173 1.5h1M178 1.5h1M215 1.5h2M261 1.5h1M307 1.5h1M350 1.5h1M360 1.5h1M122 2.5h1M168 2.5h1M215 2.5h1M217 2.5h1M266 2.5h1M274 2.5h1M308 2.5h1M330 2.5h1M338 2.5h1M393 2.5h1M28 3.5h1M53 3.5h1M101 3.5h1M171 3.5h1M257 3.5h2M276 3.5h1M284 3.5h1M314 3.5h1M327 3.5h1M355 3.5h1M393 3.5h1M56 4.5h1M72 4.5h1M76 4.5h1M84 4.5h1M92 4.5h2M138 4.5h1M207 4.5h1M209 4.5h1M214 4.5h1M286 4.5h1M313 4.5h1M318 4.5h1M320 4.5h1M333 4.5h1M354 4.5h1M381 4.5h1M385 4.5h1M400 4.5h1M2 5.5h1M7 5.5h1M102 5.5h1M163 5.5h1M170 5.5h1M190 5.5h1M276 5.5h1M324 5.5h2M360 5.5h1M4 6.5h1M46 6.5h1M87 6.5h1M111 6.5h1M160 6.5h1M177 6.5h1M223 6.5h1M227 6.5h1M283 6.5h1M344 6.5h1M349 6.5h1M68 7.5h1M112 7.5h2M164 7.5h1M219 7.5h1M279 7.5h1M317 7.5h1M379 7.5h1M61 8.5h1M63 8.5h1M85 8.5h1M90 8.5h1M200 8.5h1M225 8.5h2M331 8.5h1M352 8.5h1M96 9.5h1M155 9.5h1M163 9.5h1M202 9.5h1M225 9.5h1M243 9.5h1M274 9.5h1M290 9.5h1M299 9.5h1M302 9.5h1M306 9.5h1M308 9.5h1M327 9.5h1M330 9.5h1M349 9.5h1M396 9.5h1M56 10.5h1M59 10.5h1M139 10.5h1M181 10.5h1M206 10.5h1M237 10.5h1M286 10.5h1M334 10.5h1M340 10.5h1M57 11.5h2M121 11.5h1M138 11.5h1M151 11.5h1M157 11.5h1M204 11.5h1M275 11.5h1M296 11.5h1M326 11.5h1M331 11.5h1M350 11.5h1M382 11.5h1M390 11.5h1M85 12.5h1M113 12.5h1M117 12.5h1M155 12.5h1M157 12.5h1M181 12.5h1M193 12.5h1M200 12.5h1M218 12.5h1M243 12.5h1M248 12.5h1M279 12.5h1M317 12.5h1M402 12.5h1M76 13.5h1M198 13.5h1M217 13.5h1M282 13.5h1M358 13.5h1M390 13.5h1M61 14.5h1M92 14.5h1M116 14.5h1M137 14.5h1M142 14.5h1M164 14.5h1M185 14.5h1M288 14.5h1M295 14.5h1M307 14.5h1M314 14.5h1M85 15.5h1M147 15.5h1M172 15.5h1M224 15.5h1M240 15.5h1M269 15.5h1M343 15.5h1M396 15.5h1M69 16.5h1M121 16.5h1M139 16.5h1M152 16.5h1M157 16.5h1M172 16.5h1M198 16.5h1M282 16.5h1M289 16.5h1M349 16.5h1M77 17.5h1M147 17.5h1M159 17.5h1M172 17.5h1M278 17.5h1M320 17.5h1M359 17.5h1M373 17.5h1M380 17.5h1M72 18.5h1M84 18.5h1M159 18.5h1M164 18.5h1M183 18.5h1M225 18.5h1M304 18.5h1M306 18.5h1M327 18.5h1M352 18.5h1M391 18.5h1M78 19.5h1M109 19.5h1M122 19.5h1M136 19.5h1M144 19.5h1M151 19.5h1M171 19.5h1M173 19.5h1M266 19.5h1M268 19.5h1M309 19.5h1M402 19.5h1M65 20.5h1M73 20.5h1M100 20.5h1M224 20.5h1M258 20.5h1M304 20.5h1M49 21.5h1M87 21.5h1M139 21.5h1M154 21.5h1M237 21.5h1M268 21.5h1M288 21.5h1M0 22.5h1M33 22.5h1M40 22.5h1M43 22.5h1M106 22.5h1M128 22.5h1M185 22.5h1M220 22.5h1M230 22.5h1M249 22.5h2M293 22.5h1M337 22.5h2M370 22.5h1M389 22.5h1M398 22.5h1M46 23.5h1M138 23.5h1M142 23.5h1M168 23.5h1M185 23.5h1M209 23.5h1M259 23.5h1M287 23.5h1M376 23.5h1M35 24.5h1M50 24.5h1M78 24.5h1M92 24.5h1M102 24.5h1M153 24.5h1M165 24.5h1M181 24.5h1M184 24.5h1M190 24.5h1M244 24.5h1M319 24.5h2M323 24.5h1M350 24.5h1M391 24.5h2M7 25.5h1M60 25.5h1M182 25.5h1M189 25.5h1M200 25.5h1M324 25.5h1M348 25.5h1M354 25.5h1M369 25.5h1M388 25.5h2M391 25.5h1M1 26.5h1M7 26.5h1M36 26.5h1M77 26.5h1M97 26.5h1M160 26.5h1M170 26.5h1M178 26.5h1M198 26.5h1M223 26.5h1M279 26.5h1M283 26.5h1M345 26.5h1M371 26.5h1M143 27.5h1M167 27.5h1M169 27.5h1M180 27.5h1M184 27.5h1M220 27.5h1M257 27.5h1M372 27.5h1M380 27.5h1M384 27.5h1M59 28.5h1M68 28.5h1M87 28.5h1M149 28.5h1M157 28.5h1M189 28.5h1M247 28.5h1M251 28.5h1M289 28.5h1M299 28.5h1M302 28.5h1M304 28.5h1M319 28.5h1M325 28.5h1M330 28.5h1M356 28.5h1M370 28.5h1M402 28.5h1"/>
<path stroke="#dd0000" d="M60 0.5h1M74 0.5h1M80 0.5h1M90 0.5h1M111 0.5h2M158 0.5h1M162 0.5h1M167 0.5h1M177 0.5h2M186 0.5h1M191 0.5h1M215 0.5h1M223 0.5h1M229 0.5h1M234 0.5h1M246 0.5h1M256 0.5h1M259 0.5h3M264 0.5h1M272 0.5h1M287 0.5h1M291 0.5h2M295 0.5h1M298 0.5h1M300 0.5h1M302 0.5h2M305 0.5h1M319 0.5h1M321 0.5h2M340 0.5h3M354 0.5h1M361 0.5h1M368 0.5h1M374 0.5h1M387 0.5h1M402 0.5h1M1 1.5h1M58 1.5h1M62 1.5h1M64 1.5h1M67 1.5h1M72 1.5h1M88 1.5h1M90 1.5h1M94 1.5h2M103 1.5h1M118 1.5h1M120 1.5h1M137 1.5h1M139 1.5h2M160 1.5h1M168 1.5h1M176 1.5h1M185 1.5h2M203 1.5h2M212 1.5h1M220 1.5h1M231 1.5h2M235 1.5h1M256 1.5h1M258 1.5h1M265 1.5h1M272 1.5h1M275 1.5h1M278 1.5h3M290 1.5h1M295 1.5h1M310 1.5h1M328 1.5h3M341 1.5h2M349 1.5h1M355 1.5h1M359 1.5h1M365 1.5h1M368 1.5h1M374 1.5h1M377 1.5h1M388 1.5h1M391 1.5h1M397 1.5h1M58 2.5h1M64 2.5h1M66 2.5h1M70 2.5h1M80 2.5h1M91 2.5h1M97 2.5h1M103 2.5h1M120 2.5h1M125 2.5h1M128 2.5h2M140 2.5h1M160 2.5h1M173 2.5h1M176 2.5h1M180 2.5h1M182 2.5h2M186 2.5h1M196 2.5h2M201 2.5h1M204 2.5h2M210 2.5h1M233 2.5h2M237 2.5h1M243 2.5h1M256 2.5h2M260 2.5h2M280 2.5h1M287 2.5h1M300 2.5h1M305 2.5h2M315 2.5h1M322 2.5h1M329 2.5h1M346 2.5h1M348 2.5h1M368 2.5h1M375 2.5h1M384 2.5h1M386 2.5h1M66 3.5h2M70 3.5h1M72 3.5h1M74 3.5h1M77 3.5h1M82 3.5h1M88 3.5h1M100 3.5h1M103 3.5h1M110 3.5h1M121 3.5h2M125 3.5h1M132 3.5h1M134 3.5h1M136 3.5h1M140 3.5h1M151 3.5h1M162 3.5h1M169 3.5h1M173 3.5h1M182 3.5h1M186 3.5h1M191 3.5h1M196 3.5h2M203 3.5h2M232 3.5h1M234 3.5h1M241 3.5h1M256 3.5h1M259 3.5h1M261 3.5h1M266 3.5h1M272 3.5h1M285 3.5h1M287 3.5h1M291 3.5h2M297 3.5h1M301 3.5h1M306 3.5h1M310 3.5h1M321 3.5h1M328 3.5h1M336 3.5h1M340 3.5h2M347 3.5h1M352 3.5h1M358 3.5h1M361 3.5h1M368 3.5h1M375 3.5h1M379 3.5h1M403 3.5h1M79 4.5h1M82 4.5h1M89 4.5h1M103 4.5h2M111 4.5h1M116 4.5h1M120 4.5h1M135 4.5h1M140 4.5h1M165 4.5h1M176 4.5h1M182 4.5h1M186 4.5h3M199 4.5h1M201 4.5h2M204 4.5h2M232 4.5h1M234 4.5h1M236 4.5h1M245 4.5h1M263 4.5h1M265 4.5h1M267 4.5h1M273 4.5h1M276 4.5h1M285 4.5h1M287 4.5h1M292 4.5h2M301 4.5h1M311 4.5h1M314 4.5h1M319 4.5h1M322 4.5h1M328 4.5h3M336 4.5h1M338 4.5h2M342 4.5h1M347 4.5h2M361 4.5h2M375 4.5h1M380 4.5h1M386 4.5h1M390 4.5h1M395 4.5h3M401 4.5h1M403 4.5h1M58 5.5h1M60 5.5h1M67 5.5h1M70 5.5h1M74 5.5h1M76 5.5h1M79 5.5h1M82 5.5h1M93 5.5h2M103 5.5h1M107 5.5h1M129 5.5h1M140 5.5h1M146 5.5h1M153 5.5h1M158 5.5h1M161 5.5h2M182 5.5h1M184 5.5h3M199 5.5h1M204 5.5h1M208 5.5h1M216 5.5h2M223 5.5h1M234 5.5h1M245 5.5h1M252 5.5h1M256 5.5h1M261 5.5h1M272 5.5h2M283 5.5h1M287 5.5h1M300 5.5h1M305 5.5h1M311 5.5h2M322 5.5h1M330 5.5h1M333 5.5h1M336 5.5h1M338 5.5h1M341 5.5h1M347 5.5h1M354 5.5h1M358 5.5h1M368 5.5h1M370 5.5h1M372 5.5h1M375 5.5h1M379 5.5h1M394 5.5h1M58 6.5h1M60 6.5h1M67 6.5h1M74 6.5h2M79 6.5h1M90 6.5h1M93 6.5h2M100 6.5h1M103 6.5h1M106 6.5h1M113 6.5h1M118 6.5h1M129 6.5h1M135 6.5h2M146 6.5h1M162 6.5h1M168 6.5h1M171 6.5h1M175 6.5h1M186 6.5h1M194 6.5h2M197 6.5h1M199 6.5h1M205 6.5h1M211 6.5h1M225 6.5h1M233 6.5h2M238 6.5h1M243 6.5h1M248 6.5h1M259 6.5h1M262 6.5h1M269 6.5h1M272 6.5h1M285 6.5h1M287 6.5h1M291 6.5h3M305 6.5h1M319 6.5h1M322 6.5h1M328 6.5h2M336 6.5h1M342 6.5h2M352 6.5h1M375 6.5h1M384 6.5h3M394 6.5h1M66 7.5h2M70 7.5h1M74 7.5h2M77 7.5h1M79 7.5h1M88 7.5h1M93 7.5h1M103 7.5h1M106 7.5h1M125 7.5h1M134 7.5h1M161 7.5h2M176 7.5h1M186 7.5h3M191 7.5h1M194 7.5h1M196 7.5h1M201 7.5h5M208 7.5h1M232 7.5h3M241 7.5h1M245 7.5h1M252 7.5h1M263 7.5h1M284 7.5h2M287 7.5h1M292 7.5h1M296 7.5h1M300 7.5h1M303 7.5h1M305 7.5h1M311 7.5h1M315 7.5h1M319 7.5h1M328 7.5h2M333 7.5h1M339 7.5h1M342 7.5h1M346 7.5h1M354 7.5h2M361 7.5h2M365 7.5h1M375 7.5h1M385 7.5h2M388 7.5h1M67 8.5h1M70 8.5h1M74 8.5h2M79 8.5h1M84 8.5h1M87 8.5h1M89 8.5h1M93 8.5h1M103 8.5h1M110 8.5h1M125 8.5h1M140 8.5h1M148 8.5h1M158 8.5h1M161 8.5h1M176 8.5h1M191 8.5h1M197 8.5h1M199 8.5h1M203 8.5h3M233 8.5h2M252 8.5h1M267 8.5h1M285 8.5h1M287 8.5h1M291 8.5h1M295 8.5h1M300 8.5h1M305 8.5h1M322 8.5h1M329 8.5h1M333 8.5h1M336 8.5h1M338 8.5h2M342 8.5h1M347 8.5h2M351 8.5h1M384 8.5h1M386 8.5h1M394 8.5h1M397 8.5h1M403 8.5h1M60 9.5h1M66 9.5h1M81 9.5h1M88 9.5h1M95 9.5h1M118 9.5h2M122 9.5h1M127 9.5h1M129 9.5h1M131 9.5h1M135 9.5h1M146 9.5h1M158 9.5h1M182 9.5h1M191 9.5h1M196 9.5h1M201 9.5h1M205 9.5h1M217 9.5h1M223 9.5h1M234 9.5h1M237 9.5h1M246 9.5h1M252 9.5h1M256 9.5h1M259 9.5h1M267 9.5h1M272 9.5h2M284 9.5h1M287 9.5h1M291 9.5h1M300 9.5h2M305 9.5h1M307 9.5h1M320 9.5h1M328 9.5h2M339 9.5h1M342 9.5h2M346 9.5h2M352 9.5h1M361 9.5h1M365 9.5h1M375 9.5h1M388 9.5h1M390 9.5h1M394 9.5h1M401 9.5h1M74 10.5h1M79 10.5h1M83 10.5h1M89 10.5h1M103 10.5h1M107 10.5h1M109 10.5h1M129 10.5h1M131 10.5h1M134 10.5h1M146 10.5h3M162 10.5h1M167 10.5h1M176 10.5h1M182 10.5h2M188 10.5h1M192 10.5h1M196 10.5h1M198 10.5h2M201 10.5h1M204 10.5h1M208 10.5h1M225 10.5h1M234 10.5h1M243 10.5h1M245 10.5h1M252 10.5h1M256 10.5h1M261 10.5h1M272 10.5h2M276 10.5h1M279 10.5h1M287 10.5h1M301 10.5h2M305 10.5h1M321 10.5h2M329 10.5h1M338 10.5h2M342 10.5h1M351 10.5h1M358 10.5h1M360 10.5h2M368 10.5h1M375 10.5h1M382 10.5h1M384 10.5h1M391 10.5h1M397 10.5h1M60 11.5h2M66 11.5h1M74 11.5h1M80 11.5h1M94 11.5h1M103 11.5h1M108 11.5h1M131 11.5h1M140 11.5h1M146 11.5h1M149 11.5h1M161 11.5h2M178 11.5h1M182 11.5h1M187 11.5h1M201 11.5h1M216 11.5h1M234 11.5h1M236 11.5h2M242 11.5h2M245 11.5h1M252 11.5h1M256 11.5h1M262 11.5h2M265 11.5h1M267 11.5h1M286 11.5h1M291 11.5h4M301 11.5h1M305 11.5h1M312 11.5h1M314 11.5h1M321 11.5h2M328 11.5h2M336 11.5h1M339 11.5h1M341 11.5h1M348 11.5h1M351 11.5h1M355 11.5h1M360 11.5h1M375 11.5h1M386 11.5h1M396 11.5h2M58 12.5h1M66 12.5h2M70 12.5h1M74 12.5h1M79 12.5h1M88 12.5h2M93 12.5h1M95 12.5h1M103 12.5h1M110 12.5h1M118 12.5h1M129 12.5h1M134 12.5h2M146 12.5h2M158 12.5h1M161 12.5h2M167 12.5h1M176 12.5h1M186 12.5h1M197 12.5h1M199 12.5h1M201 12.5h1M203 12.5h3M234 12.5h1M245 12.5h1M252 12.5h1M256 12.5h1M258 12.5h1M261 12.5h1M267 12.5h1M272 12.5h2M275 12.5h1M284 12.5h1M287 12.5h1M291 12.5h1M294 12.5h1M300 12.5h1M305 12.5h1M311 12.5h1M322 12.5h1M325 12.5h1M329 12.5h1M338 12.5h2M341 12.5h2M361 12.5h1M365 12.5h1M368 12.5h1M375 12.5h1M384 12.5h1M386 12.5h1M394 12.5h1M58 13.5h1M67 13.5h1M70 13.5h1M74 13.5h1M79 13.5h1M88 13.5h1M103 13.5h1M107 13.5h1M110 13.5h1M125 13.5h1M127 13.5h1M129 13.5h1M134 13.5h2M140 13.5h1M146 13.5h1M148 13.5h1M158 13.5h1M162 13.5h1M176 13.5h1M182 13.5h1M185 13.5h2M192 13.5h1M194 13.5h4M199 13.5h1M201 13.5h1M203 13.5h3M211 13.5h1M234 13.5h1M236 13.5h1M241 13.5h1M245 13.5h1M252 13.5h1M256 13.5h1M261 13.5h1M263 13.5h1M267 13.5h1M272 13.5h2M275 13.5h1M278 13.5h1M284 13.5h1M287 13.5h1M291 13.5h3M300 13.5h1M305 13.5h1M317 13.5h1M319 13.5h1M321 13.5h2M329 13.5h1M336 13.5h1M338 13.5h2M342 13.5h1M347 13.5h1M361 13.5h1M369 13.5h1M375 13.5h1M384 13.5h3M388 13.5h1M394 13.5h1M397 13.5h1M58 14.5h1M66 14.5h1M70 14.5h1M74 14.5h2M79 14.5h1M89 14.5h1M91 14.5h1M93 14.5h1M103 14.5h1M110 14.5h1M118 14.5h1M127 14.5h1M134 14.5h2M140 14.5h1M146 14.5h1M148 14.5h1M158 14.5h1M162 14.5h1M167 14.5h3M176 14.5h1M182 14.5h1M186 14.5h1M188 14.5h1M191 14.5h1M199 14.5h1M203 14.5h3M234 14.5h1M256 14.5h1M261 14.5h1M265 14.5h1M267 14.5h1M272 14.5h2M284 14.5h1M291 14.5h4M300 14.5h2M305 14.5h2M319 14.5h1M322 14.5h1M329 14.5h1M336 14.5h1M338 14.5h2M341 14.5h2M347 14.5h1M361 14.5h2M368 14.5h1M375 14.5h1M384 14.5h3M394 14.5h1M397 14.5h1M403 14.5h1M58 15.5h1M66 15.5h2M74 15.5h2M79 15.5h1M82 15.5h1M88 15.5h1M97 15.5h1M103 15.5h1M118 15.5h1M127 15.5h1M135 15.5h1M140 15.5h1M146 15.5h1M148 15.5h1M158 15.5h1M161 15.5h2M167 15.5h1M171 15.5h1M176 15.5h1M186 15.5h1M191 15.5h1M197 15.5h1M199 15.5h1M201 15.5h1M203 15.5h3M225 15.5h1M234 15.5h1M236 15.5h1M245 15.5h1M252 15.5h1M256 15.5h1M262 15.5h2M267 15.5h1M272 15.5h2M287 15.5h1M291 15.5h2M294 15.5h1M300 15.5h1M302 15.5h1M305 15.5h1M319 15.5h1M322 15.5h1M328 15.5h2M333 15.5h1M336 15.5h1M339 15.5h1M342 15.5h1M347 15.5h2M360 15.5h2M369 15.5h1M374 15.5h2M384 15.5h2M397 15.5h1M401 15.5h1M403 15.5h1M58 16.5h1M66 16.5h2M74 16.5h2M79 16.5h1M93 16.5h1M102 16.5h2M106 16.5h1M110 16.5h1M134 16.5h2M140 16.5h1M146 16.5h1M148 16.5h1M158 16.5h1M162 16.5h1M167 16.5h1M176 16.5h1M178 16.5h1M182 16.5h1M186 16.5h2M191 16.5h1M196 16.5h2M199 16.5h1M203 16.5h3M215 16.5h1M234 16.5h1M245 16.5h2M252 16.5h1M256 16.5h1M269 16.5h1M272 16.5h2M284 16.5h1M287 16.5h1M291 16.5h1M293 16.5h1M300 16.5h1M305 16.5h2M311 16.5h1M319 16.5h1M321 16.5h2M329 16.5h1M339 16.5h1M342 16.5h1M347 16.5h2M352 16.5h1M360 16.5h2M365 16.5h1M368 16.5h1M375 16.5h1M384 16.5h2M394 16.5h1M397 16.5h1M403 16.5h1M58 17.5h1M67 17.5h1M79 17.5h1M88 17.5h2M91 17.5h1M93 17.5h1M103 17.5h1M107 17.5h1M110 17.5h1M116 17.5h1M118 17.5h1M127 17.5h1M129 17.5h1M134 17.5h2M140 17.5h1M146 17.5h1M148 17.5h1M158 17.5h1M162 17.5h1M176 17.5h1M186 17.5h1M192 17.5h1M195 17.5h3M199 17.5h1M201 17.5h5M211 17.5h1M234 17.5h1M236 17.5h1M252 17.5h1M267 17.5h1M272 17.5h2M276 17.5h1M287 17.5h1M291 17.5h2M294 17.5h1M300 17.5h2M305 17.5h1M311 17.5h1M317 17.5h1M319 17.5h1M321 17.5h2M326 17.5h1M329 17.5h1M339 17.5h1M341 17.5h2M347 17.5h1M354 17.5h1M360 17.5h2M369 17.5h1M374 17.5h2M379 17.5h1M384 17.5h3M397 17.5h1M401 17.5h1M403 17.5h1M58 18.5h1M62 18.5h1M67 18.5h1M86 18.5h1M88 18.5h1M93 18.5h1M95 18.5h1M97 18.5h1M103 18.5h1M107 18.5h1M111 18.5h1M129 18.5h1M148 18.5h1M158 18.5h1M162 18.5h1M176 18.5h1M182 18.5h1M192 18.5h1M197 18.5h1M204 18.5h2M208 18.5h1M211 18.5h1M223 18.5h1M232 18.5h1M234 18.5h1M245 18.5h1M252 18.5h1M256 18.5h2M260 18.5h1M262 18.5h1M272 18.5h2M276 18.5h1M284 18.5h1M291 18.5h4M300 18.5h2M305 18.5h1M321 18.5h2M329 18.5h1M338 18.5h2M342 18.5h1M344 18.5h1M347 18.5h2M359 18.5h1M361 18.5h2M368 18.5h1M375 18.5h1M384 18.5h2M388 18.5h1M58 19.5h1M60 19.5h1M66 19.5h2M70 19.5h1M74 19.5h1M79 19.5h1M88 19.5h1M91 19.5h1M100 19.5h1M103 19.5h1M110 19.5h1M118 19.5h1M120 19.5h1M129 19.5h1M131 19.5h1M134 19.5h2M140 19.5h1M146 19.5h1M148 19.5h1M158 19.5h1M162 19.5h1M176 19.5h1M178 19.5h1M191 19.5h1M195 19.5h3M199 19.5h1M201 19.5h1M203 19.5h3M208 19.5h1M211 19.5h1M214 19.5h1M225 19.5h1M234 19.5h1M236 19.5h1M245 19.5h1M252 19.5h1M261 19.5h1M267 19.5h1M272 19.5h2M280 19.5h1M287 19.5h1M291 19.5h4M300 19.5h1M305 19.5h2M311 19.5h1M319 19.5h1M322 19.5h1M329 19.5h1M333 19.5h1M336 19.5h1M338 19.5h2M342 19.5h1M347 19.5h2M355 19.5h1M361 19.5h1M368 19.5h1M374 19.5h2M384 19.5h3M394 19.5h1M397 19.5h1M403 19.5h1M58 20.5h1M66 20.5h2M70 20.5h1M79 20.5h1M88 20.5h1M91 20.5h1M93 20.5h1M103 20.5h1M110 20.5h1M118 20.5h1M127 20.5h1M129 20.5h1M134 20.5h2M140 20.5h1M146 20.5h1M148 20.5h1M153 20.5h1M158 20.5h1M161 20.5h2M167 20.5h1M169 20.5h1M171 20.5h1M176 20.5h1M186 20.5h2M191 20.5h1M195 20.5h1M197 20.5h1M201 20.5h1M203 20.5h3M208 20.5h1M234 20.5h1M236 20.5h1M243 20.5h1M252 20.5h1M272 20.5h2M275 20.5h2M284 20.5h4M291 20.5h3M300 20.5h2M306 20.5h1M311 20.5h1M319 20.5h1M321 20.5h2M325 20.5h1M329 20.5h1M338 20.5h2M342 20.5h1M347 20.5h1M359 20.5h3M368 20.5h2M375 20.5h1M384 20.5h2M394 20.5h1M397 20.5h1M58 21.5h1M66 21.5h1M74 21.5h1M79 21.5h1M89 21.5h1M91 21.5h1M93 21.5h1M103 21.5h1M129 21.5h1M134 21.5h2M140 21.5h1M146 21.5h1M148 21.5h1M158 21.5h1M162 21.5h1M167 21.5h1M176 21.5h1M182 21.5h1M186 21.5h1M191 21.5h2M196 21.5h2M199 21.5h1M201 21.5h1M204 21.5h2M211 21.5h1M223 21.5h1M232 21.5h1M234 21.5h1M242 21.5h1M252 21.5h1M256 21.5h1M265 21.5h1M267 21.5h1M272 21.5h2M275 21.5h2M284 21.5h1M287 21.5h1M291 21.5h3M302 21.5h1M305 21.5h1M319 21.5h1M322 21.5h1M329 21.5h1M336 21.5h1M338 21.5h2M342 21.5h1M347 21.5h1M352 21.5h1M361 21.5h2M369 21.5h1M373 21.5h4M384 21.5h1M386 21.5h1M388 21.5h1M394 21.5h1M397 21.5h1M403 21.5h1M63 22.5h1M74 22.5h1M79 22.5h1M84 22.5h1M94 22.5h1M97 22.5h1M100 22.5h1M114 22.5h1M120 22.5h2M131 22.5h2M137 22.5h2M154 22.5h1M162 22.5h1M172 22.5h1M175 22.5h1M180 22.5h1M182 22.5h1M195 22.5h1M204 22.5h1M208 22.5h1M211 22.5h1M231 22.5h1M233 22.5h1M239 22.5h1M243 22.5h1M265 22.5h1M280 22.5h1M286 22.5h1M292 22.5h1M302 22.5h1M304 22.5h1M310 22.5h1M315 22.5h2M319 22.5h1M330 22.5h1M335 22.5h1M343 22.5h1M346 22.5h1M352 22.5h1M365 22.5h1M379 22.5h1M382 22.5h1M391 22.5h1M403 22.5h1M58 23.5h1M65 23.5h1M79 23.5h1M89 23.5h1M93 23.5h1M95 23.5h1M103 23.5h1M107 23.5h1M114 23.5h1M134 23.5h2M155 23.5h1M160 23.5h1M176 23.5h1M179 23.5h1M186 23.5h1M196 23.5h1M198 23.5h1M201 23.5h2M204 23.5h1M210 23.5h2M217 23.5h1M225 23.5h1M234 23.5h1M241 23.5h1M252 23.5h1M256 23.5h1M260 23.5h1M267 23.5h1M273 23.5h1M275 23.5h1M291 23.5h3M295 23.5h1M298 23.5h1M302 23.5h1M322 23.5h1M333 23.5h1M339 23.5h1M341 23.5h2M353 23.5h1M359 23.5h1M361 23.5h1M375 23.5h1M382 23.5h1M386 23.5h1M394 23.5h2M61 24.5h1M66 24.5h2M72 24.5h1M79 24.5h2M93 24.5h1M101 24.5h1M103 24.5h1M116 24.5h1M134 24.5h1M142 24.5h1M158 24.5h1M171 24.5h1M196 24.5h1M203 24.5h1M205 24.5h1M210 24.5h1M233 24.5h2M243 24.5h1M245 24.5h1M252 24.5h1M261 24.5h1M273 24.5h1M287 24.5h1M291 24.5h1M294 24.5h1M301 24.5h1M305 24.5h1M311 24.5h1M325 24.5h1M328 24.5h2M333 24.5h1M336 24.5h1M339 24.5h1M346 24.5h2M361 24.5h1M365 24.5h1M372 24.5h1M375 24.5h1M377 24.5h1M380 24.5h1M386 24.5h1M389 24.5h1M397 24.5h1M403 24.5h1M67 25.5h1M70 25.5h1M74 25.5h2M79 25.5h1M82 25.5h1M94 25.5h1M103 25.5h1M108 25.5h1M118 25.5h1M129 25.5h1M134 25.5h2M146 25.5h1M153 25.5h1M162 25.5h1M169 25.5h1M186 25.5h2M192 25.5h1M194 25.5h1M204 25.5h1M223 25.5h1M234 25.5h1M237 25.5h1M242 25.5h1M246 25.5h1M252 25.5h1M256 25.5h1M258 25.5h1M260 25.5h1M262 25.5h1M267 25.5h1M272 25.5h2M278 25.5h1M285 25.5h1M287 25.5h1M291 25.5h1M303 25.5h1M305 25.5h1M314 25.5h1M317 25.5h1M319 25.5h1M326 25.5h1M328 25.5h2M338 25.5h2M342 25.5h1M347 25.5h1M359 25.5h1M361 25.5h1M374 25.5h2M384 25.5h1M386 25.5h1M401 25.5h1M58 26.5h1M66 26.5h1M74 26.5h2M79 26.5h2M82 26.5h1M103 26.5h1M113 26.5h1M118 26.5h1M121 26.5h1M134 26.5h1M140 26.5h1M142 26.5h1M146 26.5h1M148 26.5h2M158 26.5h1M161 26.5h1M171 26.5h1M176 26.5h1M186 26.5h1M191 26.5h1M193 26.5h1M195 26.5h3M199 26.5h1M201 26.5h1M204 26.5h1M214 26.5h1M218 26.5h1M225 26.5h1M236 26.5h1M241 26.5h1M245 26.5h2M252 26.5h1M256 26.5h1M261 26.5h1M265 26.5h1M272 26.5h1M276 26.5h1M291 26.5h1M294 26.5h1M300 26.5h1M310 26.5h1M329 26.5h1M336 26.5h1M338 26.5h2M348 26.5h1M353 26.5h1M355 26.5h1M357 26.5h1M360 26.5h2M375 26.5h1M380 26.5h1M382 26.5h1M386 26.5h1M402 26.5h1M58 27.5h1M74 27.5h2M79 27.5h1M88 27.5h1M91 27.5h1M103 27.5h1M111 27.5h1M118 27.5h1M131 27.5h1M134 27.5h2M138 27.5h1M146 27.5h1M171 27.5h1M176 27.5h1M182 27.5h1M187 27.5h1M189 27.5h1M201 27.5h1M203 27.5h1M205 27.5h1M233 27.5h2M245 27.5h1M248 27.5h1M261 27.5h2M272 27.5h1M284 27.5h1M287 27.5h1M289 27.5h1M294 27.5h1M305 27.5h1M315 27.5h1M319 27.5h1M321 27.5h1M336 27.5h1M342 27.5h1M361 27.5h1M368 27.5h2M374 27.5h2M392 27.5h1M394 27.5h1M397 27.5h1M403 27.5h1M62 28.5h1M70 28.5h1M74 28.5h1M102 28.5h1M111 28.5h1M113 28.5h1M116 28.5h1M118 28.5h1M125 28.5h1M131 28.5h1M134 28.5h1M140 28.5h1M146 28.5h1M155 28.5h1M158 28.5h1M171 28.5h1M176 28.5h1M186 28.5h2M195 28.5h1M199 28.5h1M201 28.5h1M205 28.5h1M211 28.5h1M234 28.5h1M236 28.5h1M245 28.5h1M256 28.5h1M261 28.5h1M267 28.5h1M270 28.5h1M272 28.5h2M278 28.5h2M282 28.5h1M287 28.5h1M291 28.5h2M300 28.5h1M313 28.5h1M336 28.5h1M338 28.5h2M342 28.5h1M347 28.5h1M352 28.5h1M361 28.5h1M363 28.5h1M365 28.5h1M369 28.5h1M375 28.5h1M379 28.5h1M386 28.5h1M388 28.5h1M403 28.5h1"/>
<path stroke="#eeaaaa" d="M65 0.5h1M85 0.5h1M110 0.5h1M134 0.5h1M148 0.5h1M150 0.5h1M153 0.5h1M155 0.5h1M183 0.5h1M205 0.5h1M237 0.5h1M245 0.5h1M262 0.5h2M293 0.5h1M304 0.5h1M313 0.5h1M328 0.5h1M330 0.5h1M397 0.5h1M3 1.5h1M7 1.5h2M77 1.5h1M99 1.5h1M117 1.5h1M164 1.5h1M282 1.5h1M363 1.5h1M61 2.5h1M82 2.5h1M142 2.5h1M223 2.5h1M286 2.5h1M296 2.5h2M309 2.5h1M328 2.5h1M339 2.5h1M358 2.5h1M380 2.5h1M382 2.5h1M400 2.5h1M63 3.5h1M155 3.5h1M158 3.5h1M245 3.5h1M252 3.5h1M275 3.5h1M278 3.5h1M294 3.5h1M364 3.5h1M385 3.5h1M394 3.5h1M60 4.5h1M114 4.5h1M178 4.5h1M220 4.5h1M307 4.5h1M365 4.5h1M369 4.5h2M15 5.5h1M167 5.5h1M180 5.5h1M203 5.5h1M220 5.5h1M303 5.5h1M387 5.5h1M86 6.5h1M89 6.5h1M91 6.5h1M112 6.5h1M143 6.5h1M202 6.5h1M215 6.5h1M221 6.5h1M237 6.5h1M245 6.5h1M251 6.5h2M256 6.5h1M268 6.5h1M276 6.5h1M303 6.5h1M314 6.5h2M325 6.5h1M388 6.5h1M157 7.5h1M244 7.5h1M259 7.5h1M324 7.5h1M396 7.5h1M58 8.5h1M60 8.5h1M83 8.5h1M86 8.5h1M88 8.5h1M130 8.5h1M241 8.5h1M259 8.5h1M270 8.5h1M315 8.5h1M343 8.5h1M354 8.5h1M363 8.5h1M400 8.5h1M63 9.5h1M140 9.5h1M164 9.5h1M173 9.5h1M214 9.5h1M220 9.5h1M311 9.5h1M324 9.5h1M331 9.5h1M353 9.5h1M50 10.5h1M86 10.5h1M95 10.5h1M158 10.5h1M163 10.5h1M177 10.5h1M184 10.5h1M186 10.5h1M258 10.5h1M265 10.5h1M323 10.5h1M336 10.5h1M386 10.5h1M65 11.5h1M141 11.5h1M144 11.5h1M213 11.5h1M230 11.5h1M264 11.5h1M306 11.5h1M352 11.5h1M354 11.5h1M356 11.5h1M359 11.5h1M395 11.5h1M60 12.5h1M73 12.5h1M100 12.5h1M114 12.5h1M154 12.5h1M185 12.5h1M206 12.5h1M210 12.5h1M296 12.5h1M310 12.5h1M369 12.5h1M78 13.5h1M154 13.5h1M164 13.5h1M172 13.5h1M187 13.5h1M215 13.5h1M330 13.5h1M368 13.5h1M382 13.5h1M73 14.5h1M131 14.5h1M147 14.5h1M152 14.5h1M224 14.5h1M244 14.5h1M275 14.5h1M286 14.5h1M312 14.5h1M370 14.5h1M402 14.5h1M307 15.5h1M323 15.5h1M376 15.5h1M73 16.5h1M77 16.5h1M92 16.5h1M108 16.5h1M111 16.5h1M151 16.5h1M179 16.5h1M202 16.5h1M232 16.5h1M238 16.5h1M263 16.5h1M299 16.5h1M313 16.5h1M354 16.5h1M376 16.5h1M389 16.5h1M395 16.5h1M78 17.5h1M83 17.5h1M92 17.5h1M208 17.5h1M217 17.5h1M256 17.5h1M310 17.5h1M312 17.5h3M318 17.5h1M355 17.5h1M60 18.5h2M82 18.5h1M102 18.5h1M155 18.5h1M167 18.5h1M184 18.5h1M188 18.5h1M243 18.5h1M248 18.5h1M295 18.5h2M323 18.5h1M331 18.5h1M379 18.5h1M403 18.5h1M81 19.5h1M83 19.5h1M142 19.5h1M184 19.5h2M194 19.5h1M243 19.5h1M257 19.5h1M331 19.5h1M353 19.5h2M357 19.5h1M193 20.5h1M238 20.5h1M270 20.5h1M280 20.5h1M303 20.5h1M323 20.5h1M330 20.5h1M391 20.5h1M73 21.5h1M92 21.5h1M178 21.5h1M241 21.5h1M278 21.5h1M348 21.5h1M358 21.5h1M6 22.5h1M37 22.5h1M75 22.5h1M117 22.5h1M134 22.5h1M151 22.5h1M283 22.5h1M339 22.5h1M376 22.5h1M395 22.5h1M74 23.5h1M88 23.5h1M167 23.5h1M189 23.5h1M197 23.5h1M206 23.5h1M223 23.5h1M237 23.5h1M254 23.5h1M281 23.5h1M304 23.5h1M307 23.5h1M313 23.5h1M317 23.5h1M363 23.5h1M86 24.5h1M97 24.5h1M119 24.5h1M125 24.5h1M140 24.5h1M152 24.5h1M185 24.5h1M300 24.5h1M304 24.5h1M369 24.5h1M37 25.5h1M49 25.5h1M76 25.5h1M78 25.5h1M80 25.5h1M147 25.5h1M164 25.5h1M227 25.5h1M259 25.5h1M271 25.5h1M330 25.5h1M341 25.5h1M383 25.5h1M44 26.5h1M106 26.5h1M288 26.5h1M292 26.5h1M302 26.5h1M312 26.5h1M328 26.5h1M358 26.5h1M372 26.5h1M76 27.5h1M80 27.5h1M82 27.5h1M105 27.5h1M107 27.5h1M120 27.5h1M140 27.5h1M161 27.5h1M253 27.5h1M256 27.5h1M263 27.5h1M276 27.5h1M286 27.5h1M288 27.5h1M309 27.5h1M331 27.5h1M339 27.5h1M348 27.5h1M93 28.5h1M127 28.5h1M148 28.5h1M150 28.5h1M358 28.5h1"/>
<path stroke="#ee5555" d="M70 0.5h1M79 0.5h1M100 0.5h1M307 0.5h1M310 0.5h1M400 0.5h1M50 1.5h1M100 1.5h1M134 1.5h1M190 1.5h1M252 1.5h1M327 1.5h1M358 1.5h1M7 2.5h1M106 2.5h1M131 2.5h1M153 2.5h1M179 2.5h1M185 2.5h1M188 2.5h1M220 2.5h1M258 2.5h1M273 2.5h1M275 2.5h1M301 2.5h1M336 2.5h1M385 2.5h1M61 3.5h1M93 3.5h1M130 3.5h1M190 3.5h1M312 3.5h1M326 3.5h1M58 4.5h1M75 4.5h1M121 4.5h1M134 4.5h1M149 4.5h1M233 4.5h1M356 4.5h1M66 5.5h1M135 5.5h1M176 5.5h1M188 5.5h1M198 5.5h1M205 5.5h1M238 5.5h1M291 5.5h1M298 5.5h1M321 5.5h1M352 5.5h1M355 5.5h1M359 5.5h1M369 5.5h1M381 5.5h1M386 5.5h1M125 6.5h1M148 6.5h1M182 6.5h1M255 6.5h1M275 6.5h1M302 6.5h1M338 6.5h1M403 6.5h1M58 7.5h1M84 7.5h1M95 7.5h1M109 7.5h1M265 7.5h1M267 7.5h1M274 7.5h1M368 7.5h1M401 7.5h1M91 8.5h1M108 8.5h1M127 8.5h1M134 8.5h1M210 8.5h1M261 8.5h1M265 8.5h1M282 8.5h1M286 8.5h1M306 8.5h1M376 8.5h1M84 9.5h1M104 9.5h1M134 9.5h1M149 9.5h1M200 9.5h1M207 9.5h1M312 9.5h1M82 10.5h1M114 10.5h1M195 10.5h1M285 10.5h1M288 10.5h1M376 10.5h1M403 10.5h1M75 11.5h1M79 11.5h1M109 11.5h1M119 11.5h1M167 11.5h1M195 11.5h1M295 11.5h1M400 11.5h1M62 12.5h1M216 12.5h1M232 12.5h1M276 12.5h1M326 12.5h1M89 13.5h1M91 13.5h1M93 13.5h2M111 13.5h1M183 13.5h1M233 13.5h1M237 13.5h1M285 13.5h1M301 13.5h1M354 13.5h1M362 13.5h1M102 14.5h1M192 14.5h1M202 14.5h1M246 14.5h1M262 14.5h1M396 14.5h1M125 15.5h1M134 15.5h1M155 15.5h1M195 15.5h1M257 15.5h1M338 15.5h1M358 15.5h1M60 16.5h1M107 16.5h1M243 16.5h1M314 16.5h1M328 16.5h1M374 16.5h1M382 16.5h1M97 17.5h1M232 17.5h1M284 17.5h1M338 17.5h1M382 17.5h1M94 18.5h1M122 18.5h1M194 18.5h1M246 18.5h1M261 18.5h1M285 18.5h1M394 18.5h2M89 19.5h1M104 19.5h1M270 19.5h1M278 19.5h1M358 19.5h1M376 19.5h1M389 19.5h1M62 20.5h1M278 20.5h1M295 20.5h2M314 20.5h1M363 20.5h1M374 20.5h1M376 20.5h1M127 21.5h1M155 21.5h1M188 21.5h1M202 21.5h1M236 21.5h1M260 21.5h1M263 21.5h1M296 21.5h1M333 21.5h1M55 22.5h1M72 22.5h1M91 22.5h1M181 22.5h1M199 22.5h1M300 22.5h2M322 22.5h1M374 22.5h1M62 23.5h1M171 23.5h1M173 23.5h1M187 23.5h1M195 23.5h1M203 23.5h1M265 23.5h1M300 23.5h1M323 23.5h1M362 23.5h1M403 23.5h1M70 24.5h1M112 24.5h1M149 24.5h1M228 24.5h1M242 24.5h1M281 24.5h1M344 24.5h1M362 24.5h2M388 24.5h1M115 25.5h1M141 25.5h1M167 25.5h1M176 25.5h1M236 25.5h1M289 25.5h1M296 25.5h1M358 25.5h1M362 25.5h1M216 26.5h1M244 26.5h1M262 26.5h1M274 26.5h1M284 26.5h2M297 26.5h2M308 26.5h1M347 26.5h1M356 26.5h1M374 26.5h1M384 26.5h1M396 26.5h2M60 27.5h1M66 27.5h1M186 27.5h1M236 27.5h1M356 27.5h1M360 27.5h1M90 28.5h1M129 28.5h1M142 28.5h1M188 28.5h1M357 28.5h1M382 28.5h1M384 28.5h1"/>
<path stroke="#ffeeee" d="M75 0.5h1M89 0.5h1M165 0.5h1M218 0.5h1M232 0.5h1M268 0.5h1M283 0.5h1M309 0.5h1M320 0.5h1M346 0.5h1M6 1.5h1M16 1.5h1M49 1.5h1M81 1.5h1M93 1.5h1M110 1.5h1M246 1.5h1M270 1.5h1M289 1.5h1M49 2.5h1M76 2.5h1M132 2.5h1M187 2.5h1M213 2.5h1M292 2.5h2M333 2.5h1M355 2.5h1M55 3.5h1M73 3.5h1M79 3.5h1M109 3.5h1M138 3.5h1M153 3.5h1M184 3.5h1M193 3.5h1M267 3.5h1M300 3.5h1M351 3.5h1M377 3.5h1M391 3.5h1M6 4.5h1M132 4.5h1M218 4.5h1M225 4.5h1M310 4.5h1M331 4.5h1M349 4.5h1M373 4.5h1M85 5.5h1M115 5.5h2M141 5.5h1M191 5.5h1M206 5.5h1M230 5.5h1M242 5.5h1M248 5.5h1M279 5.5h2M292 5.5h1M313 5.5h2M320 5.5h1M356 5.5h1M395 5.5h1M61 6.5h1M107 6.5h1M131 6.5h1M138 6.5h1M151 6.5h1M173 6.5h1M216 6.5h1M230 6.5h1M278 6.5h1M351 6.5h1M368 6.5h1M395 6.5h1M127 7.5h1M131 7.5h1M163 7.5h1M170 7.5h1M235 7.5h1M270 7.5h1M289 7.5h1M297 7.5h1M309 7.5h1M314 7.5h1M356 7.5h1M373 7.5h1M46 8.5h1M66 8.5h1M120 8.5h2M187 8.5h1M217 8.5h2M245 8.5h1M292 8.5h1M321 8.5h1M107 9.5h1M125 9.5h1M174 9.5h1M178 9.5h1M185 9.5h1M251 9.5h1M257 9.5h1M261 9.5h1M263 9.5h1M278 9.5h1M297 9.5h1M326 9.5h1M379 9.5h1M37 10.5h1M63 10.5h1M80 10.5h1M136 10.5h1M159 10.5h1M189 10.5h1M221 10.5h1M230 10.5h1M269 10.5h1M307 10.5h1M325 10.5h1M373 10.5h1M396 10.5h1M44 11.5h1M102 11.5h1M132 11.5h1M219 11.5h1M338 11.5h1M393 11.5h1M401 11.5h1M80 12.5h1M82 12.5h1M107 12.5h1M144 12.5h1M178 12.5h1M189 12.5h1M257 12.5h1M263 12.5h1M330 12.5h1M356 12.5h1M373 12.5h1M62 13.5h1M81 13.5h1M84 13.5h1M106 13.5h1M142 13.5h1M155 13.5h1M248 13.5h1M280 13.5h1M289 13.5h1M295 13.5h1M315 13.5h1M108 14.5h2M136 14.5h1M179 14.5h1M189 14.5h1M217 14.5h1M251 14.5h1M285 14.5h1M298 14.5h1M313 14.5h1M315 14.5h1M340 14.5h1M344 14.5h1M351 14.5h1M168 15.5h1M301 15.5h1M303 15.5h1M308 15.5h1M315 15.5h1M317 15.5h1M382 15.5h1M388 15.5h1M400 15.5h1M87 16.5h1M90 16.5h1M120 16.5h1M144 16.5h1M154 16.5h1M177 16.5h1M331 16.5h1M353 16.5h1M383 16.5h1M60 17.5h1M73 17.5h1M80 17.5h1M84 17.5h1M87 17.5h1M132 17.5h1M248 17.5h1M270 17.5h1M296 17.5h1M391 17.5h1M400 17.5h1M402 17.5h1M104 18.5h1M160 18.5h1M165 18.5h1M198 18.5h1M220 18.5h1M244 18.5h1M269 18.5h1M279 18.5h1M317 18.5h1M324 18.5h1M330 18.5h1M370 18.5h1M400 18.5h1M80 19.5h1M159 19.5h1M189 19.5h1M265 19.5h1M317 19.5h1M326 19.5h1M330 19.5h1M365 19.5h1M370 19.5h1M382 19.5h2M395 19.5h1M72 20.5h1M84 20.5h1M86 20.5h1M151 20.5h1M155 20.5h1M179 20.5h2M185 20.5h1M215 20.5h1M242 20.5h1M244 20.5h1M281 20.5h1M299 20.5h1M72 21.5h1M109 21.5h1M164 21.5h1M221 21.5h1M282 21.5h1M295 21.5h1M312 21.5h1M318 21.5h1M353 21.5h1M390 21.5h1M7 22.5h1M11 22.5h1M19 22.5h1M58 22.5h1M61 22.5h1M108 22.5h1M115 22.5h1M122 22.5h1M124 22.5h1M127 22.5h1M143 22.5h1M177 22.5h1M183 22.5h1M205 22.5h1M207 22.5h1M223 22.5h1M232 22.5h1M240 22.5h1M276 22.5h1M318 22.5h1M354 22.5h1M119 23.5h1M208 23.5h1M219 23.5h1M222 23.5h1M263 23.5h1M308 23.5h1M367 23.5h1M377 23.5h1M385 23.5h1M400 23.5h1M1 24.5h1M44 24.5h1M77 24.5h1M175 24.5h1M202 24.5h1M254 24.5h1M275 24.5h1M280 24.5h1M348 24.5h1M69 25.5h1M72 25.5h1M130 25.5h1M139 25.5h1M155 25.5h1M177 25.5h1M226 25.5h1M235 25.5h1M264 25.5h2M274 25.5h1M297 25.5h1M312 25.5h1M346 25.5h1M353 25.5h1M64 26.5h1M93 26.5h1M110 26.5h1M147 26.5h1M206 26.5h1M209 26.5h1M215 26.5h1M332 26.5h1M383 26.5h1M62 27.5h1M100 27.5h1M119 27.5h1M214 27.5h1M224 27.5h1M241 27.5h1M266 27.5h1M313 27.5h1M317 27.5h1M328 27.5h1M354 27.5h1M358 27.5h1M387 27.5h1M390 27.5h1M398 27.5h1M78 28.5h1M108 28.5h1M151 28.5h1M173 28.5h1M221 28.5h1M230 28.5h1M255 28.5h1M290 28.5h1M296 28.5h1M353 28.5h1"/>
<path stroke="#ffcccc" d="M76 0.5h1M107 0.5h1M136 0.5h1M140 0.5h1M147 0.5h1M154 0.5h1M159 0.5h1M185 0.5h1M188 0.5h1M219 0.5h1M225 0.5h1M265 0.5h1M348 0.5h1M363 0.5h1M82 1.5h1M112 1.5h1M224 1.5h1M229 1.5h1M292 1.5h1M313 1.5h1M323 1.5h1M347 1.5h1M356 1.5h1M34 2.5h1M44 2.5h1M90 2.5h1M101 2.5h1M110 2.5h1M137 2.5h1M146 2.5h1M191 2.5h1M193 2.5h1M262 2.5h1M291 2.5h1M320 2.5h1M332 2.5h1M347 2.5h1M361 2.5h1M58 3.5h1M119 3.5h1M135 3.5h1M161 3.5h1M179 3.5h1M223 3.5h1M330 3.5h1M63 4.5h1M137 4.5h1M193 4.5h1M211 4.5h1M224 4.5h1M226 4.5h1M243 4.5h1M251 4.5h1M256 4.5h1M315 4.5h1M332 4.5h1M335 4.5h1M392 4.5h1M64 5.5h1M78 5.5h1M91 5.5h1M120 5.5h1M169 5.5h1M244 5.5h1M246 5.5h1M127 6.5h1M179 6.5h1M210 6.5h1M214 6.5h1M263 6.5h1M288 6.5h2M306 6.5h1M380 6.5h1M396 6.5h1M78 7.5h1M115 7.5h1M152 7.5h1M154 7.5h2M178 7.5h1M181 7.5h1M199 7.5h1M298 7.5h1M302 7.5h1M349 7.5h1M395 7.5h1M15 8.5h1M78 8.5h1M109 8.5h1M122 8.5h1M209 8.5h1M236 8.5h1M273 8.5h1M294 8.5h1M67 9.5h1M70 9.5h1M79 9.5h1M138 9.5h1M167 9.5h1M180 9.5h1M209 9.5h1M211 9.5h1M227 9.5h1M233 9.5h1M275 9.5h1M310 9.5h1M357 9.5h1M90 10.5h1M122 10.5h1M191 10.5h1M282 10.5h1M350 10.5h1M379 10.5h1M49 11.5h1M85 11.5h1M88 11.5h1M97 11.5h1M104 11.5h1M153 11.5h1M210 11.5h1M220 11.5h1M228 11.5h1M86 12.5h1M131 12.5h1M184 12.5h1M215 12.5h1M220 12.5h1M230 12.5h1M278 12.5h1M315 12.5h1M389 12.5h1M396 12.5h1M64 13.5h1M168 13.5h1M177 13.5h1M202 13.5h1M270 13.5h1M299 13.5h1M326 13.5h1M349 13.5h1M376 13.5h1M379 13.5h1M389 13.5h1M396 13.5h1M150 14.5h1M220 14.5h1M253 14.5h1M259 14.5h2M282 14.5h1M353 14.5h1M357 14.5h1M379 14.5h1M388 14.5h1M73 15.5h1M83 15.5h1M86 15.5h1M109 15.5h1M138 15.5h1M160 15.5h1M170 15.5h1M198 15.5h1M210 15.5h1M282 15.5h1M312 15.5h1M211 16.5h1M253 16.5h1M259 16.5h1M307 16.5h2M346 16.5h1M359 16.5h1M372 16.5h1M400 16.5h1M65 17.5h1M90 17.5h1M178 17.5h1M282 17.5h1M344 17.5h1M358 17.5h1M363 17.5h1M87 18.5h1M131 18.5h2M241 18.5h1M258 18.5h1M326 18.5h1M351 18.5h1M390 18.5h1M75 19.5h1M87 19.5h1M106 19.5h1M155 19.5h1M172 19.5h1M179 19.5h1M237 19.5h1M240 19.5h1M263 19.5h1M295 19.5h1M298 19.5h1M352 19.5h1M69 20.5h1M80 20.5h1M107 20.5h1M111 20.5h1M113 20.5h1M119 20.5h1M173 20.5h1M178 20.5h1M251 20.5h1M253 20.5h1M289 20.5h1M357 20.5h1M388 20.5h1M400 20.5h1M62 21.5h1M110 21.5h1M117 21.5h1M150 21.5h1M169 21.5h1M179 21.5h1M183 21.5h1M215 21.5h1M279 21.5h1M306 21.5h1M351 21.5h1M68 22.5h1M71 22.5h1M144 22.5h1M174 22.5h1M186 22.5h1M206 22.5h1M224 22.5h1M260 22.5h1M278 22.5h1M297 22.5h1M355 22.5h1M110 23.5h1M143 23.5h1M177 23.5h1M183 23.5h1M215 23.5h1M220 23.5h1M235 23.5h1M242 23.5h1M257 23.5h1M280 23.5h1M296 23.5h1M314 23.5h1M338 23.5h1M365 23.5h1M379 23.5h1M81 24.5h1M88 24.5h1M197 24.5h1M218 24.5h1M224 24.5h1M251 24.5h1M297 24.5h1M352 24.5h1M394 24.5h1M113 25.5h1M133 25.5h1M151 25.5h1M160 25.5h2M168 25.5h1M282 25.5h1M351 25.5h1M56 26.5h1M101 26.5h1M114 26.5h1M129 26.5h1M151 26.5h1M155 26.5h1M157 26.5h1M166 26.5h1M304 26.5h1M344 26.5h1M395 26.5h1M399 26.5h1M73 27.5h1M97 27.5h1M141 27.5h1M150 27.5h1M178 27.5h1M326 27.5h1M346 27.5h1M359 27.5h1M378 27.5h1M107 28.5h1M119 28.5h1M122 28.5h1M137 28.5h1M164 28.5h1M209 28.5h1M307 28.5h1M345 28.5h1M349 28.5h1M354 28.5h1"/>
<path stroke="#ffffff" d="M77 0.5h1M109 0.5h1M113 0.5h1M127 0.5h1M144 0.5h1M168 0.5h1M179 0.5h1M224 0.5h1M273 0.5h1M296 0.5h1M323 0.5h1M332 0.5h1M384 0.5h1M393 0.5h1M15 1.5h1M78 1.5h1M119 1.5h1M121 1.5h2M144 1.5h1M170 1.5h1M182 1.5h1M210 1.5h1M281 1.5h1M304 1.5h1M317 1.5h1M335 1.5h1M343 1.5h1M73 2.5h1M102 2.5h1M105 2.5h1M107 2.5h1M118 2.5h1M207 2.5h1M244 2.5h2M269 2.5h1M279 2.5h1M337 2.5h1M362 2.5h1M387 2.5h1M89 3.5h1M94 3.5h1M108 3.5h1M251 3.5h1M293 3.5h1M307 3.5h3M348 3.5h1M384 3.5h1M402 3.5h1M39 4.5h1M64 4.5h1M70 4.5h1M115 4.5h1M136 4.5h1M143 4.5h1M148 4.5h1M155 4.5h1M171 4.5h1M194 4.5h1M269 4.5h1M383 4.5h1M61 5.5h1M110 5.5h1M174 5.5h1M202 5.5h1M225 5.5h1M227 5.5h1M278 5.5h1M297 5.5h1M331 5.5h1M342 5.5h1M350 5.5h1M398 5.5h1M402 5.5h1M13 6.5h1M97 6.5h1M164 6.5h1M240 6.5h1M260 6.5h1M295 6.5h1M298 6.5h1M326 6.5h1M399 6.5h1M24 7.5h1M49 7.5h1M81 7.5h1M89 7.5h1M121 7.5h1M142 7.5h1M156 7.5h1M180 7.5h1M193 7.5h1M229 7.5h1M242 7.5h1M293 7.5h1M308 7.5h1M321 7.5h2M330 7.5h1M380 7.5h1M92 8.5h1M104 8.5h1M135 8.5h1M153 8.5h1M167 8.5h1M198 8.5h1M222 8.5h1M298 8.5h1M34 9.5h1M58 9.5h1M148 9.5h1M181 9.5h1M193 9.5h1M226 9.5h1M264 9.5h1M269 9.5h1M279 9.5h1M395 9.5h1M62 10.5h1M75 10.5h1M105 10.5h1M125 10.5h1M142 10.5h1M170 10.5h1M175 10.5h1M275 10.5h1M283 10.5h1M320 10.5h1M357 10.5h1M378 10.5h1M385 10.5h1M4 11.5h1M37 11.5h1M69 11.5h1M93 11.5h1M106 11.5h1M114 11.5h1M143 11.5h1M145 11.5h1M221 11.5h1M251 11.5h1M361 11.5h1M363 11.5h1M87 12.5h1M164 12.5h1M195 12.5h1M274 12.5h1M382 12.5h1M388 12.5h1M392 12.5h1M82 13.5h1M149 13.5h1M246 13.5h1M257 13.5h1M283 13.5h1M325 13.5h1M355 13.5h1M372 13.5h1M400 13.5h1M80 14.5h1M82 14.5h1M84 14.5h1M157 14.5h1M242 14.5h1M302 14.5h1M343 14.5h1M382 14.5h1M78 15.5h1M80 15.5h1M90 15.5h1M108 15.5h1M120 15.5h1M132 15.5h1M136 15.5h1M183 15.5h1M242 15.5h1M253 15.5h1M297 15.5h2M310 15.5h1M313 15.5h1M332 15.5h1M350 15.5h1M390 15.5h1M59 16.5h1M83 16.5h1M143 16.5h1M159 16.5h1M218 16.5h1M244 16.5h1M323 16.5h1M363 16.5h1M59 17.5h1M63 17.5h1M109 17.5h1M157 17.5h1M174 17.5h1M240 17.5h1M253 17.5h1M280 17.5h1M315 17.5h1M331 17.5h1M340 17.5h1M348 17.5h1M372 17.5h1M65 18.5h1M78 18.5h1M106 18.5h1M115 18.5h1M124 18.5h1M172 18.5h1M210 18.5h1M231 18.5h1M259 18.5h1M299 18.5h1M341 18.5h1M355 18.5h1M357 18.5h1M377 18.5h1M380 18.5h1M44 19.5h1M101 19.5h1M113 19.5h1M139 19.5h1M141 19.5h1M147 19.5h1M289 19.5h1M320 19.5h1M343 19.5h1M345 19.5h1M350 19.5h1M387 19.5h1M391 19.5h1M83 20.5h1M104 20.5h1M122 20.5h1M387 20.5h1M395 20.5h1M76 21.5h1M95 21.5h1M100 21.5h1M113 21.5h1M122 21.5h1M141 21.5h1M149 21.5h1M151 21.5h1M271 21.5h1M328 21.5h1M344 21.5h1M357 21.5h1M73 22.5h1M90 22.5h1M147 22.5h1M150 22.5h1M173 22.5h1M191 22.5h1M209 22.5h1M238 22.5h1M282 22.5h1M296 22.5h1M357 22.5h1M401 22.5h1M24 23.5h1M55 23.5h1M104 23.5h1M145 23.5h1M157 23.5h1M181 23.5h1M190 23.5h1M226 23.5h1M269 23.5h1M272 23.5h1M351 23.5h1M396 23.5h1M49 24.5h1M54 24.5h1M83 24.5h1M94 24.5h1M110 24.5h1M124 24.5h1M148 24.5h1M195 24.5h1M237 24.5h1M253 24.5h1M272 24.5h1M286 24.5h1M349 24.5h1M100 25.5h1M110 25.5h1M140 25.5h1M228 25.5h1M293 25.5h1M306 25.5h1M345 25.5h1M63 26.5h1M89 26.5h2M105 26.5h1M109 26.5h1M115 26.5h1M238 26.5h1M242 26.5h1M293 26.5h1M370 26.5h1M385 26.5h1M403 26.5h1M44 27.5h1M121 27.5h2M137 27.5h1M258 27.5h1M302 27.5h1M307 27.5h1M340 27.5h1M383 27.5h1M64 28.5h1M80 28.5h1M100 28.5h1M117 28.5h1M275 28.5h1M283 28.5h1M340 28.5h1M362 28.5h1M377 28.5h1M380 28.5h1"/>
<path stroke="#dd4444" d="M86 0.5h1M174 0.5h1M192 0.5h1M241 0.5h1M87 1.5h1M175 2.5h1M194 2.5h1M311 2.5h1M360 2.5h1M338 3.5h1M392 3.5h1M172 4.5h1M203 4.5h1M230 4.5h1M147 5.5h1M353 6.5h1M167 7.5h1M210 7.5h1M341 7.5h1M384 7.5h1M80 8.5h1M262 8.5h1M91 9.5h1M241 9.5h1M303 9.5h1M394 10.5h1M199 11.5h1M102 12.5h1M343 13.5h1M245 14.5h1M178 15.5h1M211 15.5h1M386 15.5h1M74 17.5h1M187 17.5h1M357 17.5h1M191 18.5h1M275 18.5h1M192 19.5h1M301 19.5h1M265 20.5h1M333 20.5h1M90 21.5h1M167 22.5h1M386 22.5h1M284 23.5h1M372 23.5h1M173 24.5h2M269 24.5h2M263 25.5h1M357 25.5h1M107 26.5h1M333 26.5h1M369 26.5h1M338 27.5h1"/>
<path stroke="#dd1111" d="M94 0.5h1M216 0.5h1M227 0.5h1M282 0.5h1M294 0.5h1M162 1.5h1M194 1.5h1M236 1.5h1M325 1.5h1M83 2.5h1M138 2.5h1M158 2.5h1M161 2.5h1M177 2.5h1M342 2.5h1M369 2.5h1M102 3.5h1M172 3.5h1M194 3.5h1M295 3.5h1M305 3.5h1M370 3.5h1M91 4.5h1M185 4.5h1M192 4.5h1M208 4.5h1M242 4.5h1M284 4.5h1M305 4.5h1M312 4.5h1M388 4.5h1M75 5.5h1M253 5.5h1M257 5.5h1M349 5.5h1M361 5.5h1M374 5.5h1M385 5.5h1M70 6.5h1M82 6.5h1M296 6.5h1M321 6.5h1M391 6.5h1M397 6.5h1M136 7.5h1M140 7.5h1M158 7.5h1M261 7.5h1M272 7.5h1M306 7.5h1M102 8.5h1M118 8.5h1M208 8.5h1M256 8.5h1M258 8.5h1M307 8.5h1M323 8.5h1M74 9.5h1M82 9.5h1M89 9.5h1M192 9.5h1M195 9.5h1M228 9.5h1M238 9.5h1M245 9.5h1M286 9.5h1M304 9.5h1M338 9.5h1M355 9.5h1M81 10.5h1M111 10.5h1M216 10.5h1M253 10.5h1M344 10.5h1M127 11.5h1M129 11.5h1M240 11.5h1M272 11.5h1M289 11.5h1M311 11.5h1M391 11.5h1M116 12.5h1M136 12.5h1M191 12.5h1M208 12.5h1M299 12.5h1M333 12.5h1M347 12.5h1M360 12.5h1M403 12.5h1M90 13.5h1M286 13.5h1M353 13.5h1M125 14.5h1M197 14.5h1M214 14.5h1M223 14.5h1M287 14.5h1M354 14.5h1M374 14.5h1M93 15.5h1M111 15.5h1M188 15.5h1M192 15.5h1M258 15.5h1M275 15.5h1M325 15.5h1M118 16.5h1M127 16.5h1M171 16.5h1M192 16.5h1M210 16.5h1M258 16.5h1M265 16.5h1M292 16.5h1M294 16.5h1M333 16.5h1M336 16.5h1M70 17.5h1M113 17.5h1M171 17.5h1M173 17.5h1M261 17.5h1M336 17.5h1M110 18.5h1M199 18.5h1M267 18.5h1M182 19.5h1M215 19.5h1M97 20.5h1M109 20.5h1M131 20.5h1M182 20.5h1M192 20.5h1M211 20.5h1M354 20.5h1M386 20.5h1M70 21.5h1M84 21.5h1M286 21.5h1M300 21.5h1M363 21.5h1M60 22.5h1M142 22.5h1M203 22.5h1M259 22.5h1M146 23.5h1M158 23.5h1M276 23.5h1M329 23.5h1M343 23.5h1M380 23.5h1M401 23.5h1M95 24.5h1M129 24.5h1M162 24.5h1M199 24.5h1M204 24.5h1M267 24.5h1M321 24.5h1M89 25.5h2M173 25.5h1M195 25.5h1M292 25.5h1M311 25.5h1M78 26.5h1M119 26.5h1M122 26.5h1M182 26.5h1M233 26.5h1M273 26.5h1M317 26.5h1M67 27.5h1M84 27.5h1M148 27.5h1M194 27.5h1M197 27.5h1M202 27.5h1M325 27.5h1M362 27.5h1M169 28.5h1M204 28.5h1M217 28.5h1M258 28.5h1M284 28.5h1M293 28.5h1M305 28.5h1M329 28.5h1M397 28.5h1"/>
<path stroke="#ee7777" d="M99 0.5h1M163 0.5h1M189 0.5h1M275 0.5h1M299 0.5h1M347 0.5h1M357 0.5h1M362 0.5h1M372 0.5h1M379 0.5h1M102 1.5h1M132 1.5h1M174 1.5h1M228 1.5h1M249 1.5h1M324 1.5h1M65 2.5h1M159 2.5h1M284 2.5h1M319 2.5h1M341 2.5h1M391 2.5h1M59 3.5h1M65 3.5h1M90 3.5h1M111 3.5h1M127 3.5h1M131 3.5h1M202 3.5h1M226 3.5h1M233 3.5h1M296 3.5h1M299 3.5h1M318 3.5h1M320 3.5h1M353 3.5h1M363 3.5h1M113 4.5h1M127 4.5h1M253 4.5h1M291 4.5h1M298 4.5h1M300 4.5h1M304 4.5h1M345 4.5h1M358 4.5h1M87 5.5h1M130 5.5h1M149 5.5h1M258 5.5h1M294 5.5h1M348 5.5h1M390 5.5h1M104 6.5h1M119 6.5h1M158 6.5h1M191 6.5h1M236 6.5h1M339 6.5h1M365 6.5h1M401 6.5h1M64 7.5h1M80 7.5h1M86 7.5h1M108 7.5h1M132 7.5h1M149 7.5h1M192 7.5h1M197 7.5h1M236 7.5h1M282 7.5h1M332 7.5h1M348 7.5h1M400 7.5h1M131 8.5h1M137 8.5h2M169 8.5h1M171 8.5h1M211 8.5h1M332 8.5h1M346 8.5h1M364 8.5h1M370 8.5h1M399 8.5h1M75 9.5h1M132 9.5h1M136 9.5h1M154 9.5h1M294 9.5h1M313 9.5h1M358 9.5h1M362 9.5h1M385 9.5h1M73 10.5h1M113 10.5h1M127 10.5h1M152 10.5h1M317 10.5h1M356 10.5h1M369 10.5h1M383 10.5h1M399 10.5h1M100 11.5h1M118 11.5h1M192 11.5h1M225 11.5h1M244 11.5h1M248 11.5h1M266 11.5h1M269 11.5h1M97 12.5h1M119 12.5h1M211 12.5h1M236 12.5h1M251 12.5h1M265 12.5h1M270 12.5h1M324 12.5h1M343 12.5h1M358 12.5h1M391 12.5h1M60 13.5h1M72 13.5h1M87 13.5h1M116 13.5h1M161 13.5h1M193 13.5h1M225 13.5h1M232 13.5h1M352 13.5h1M95 14.5h1M106 14.5h1M129 14.5h1M132 14.5h1M196 14.5h1M238 14.5h1M241 14.5h1M276 14.5h1M321 14.5h1M333 14.5h1M346 14.5h1M400 14.5h1M91 15.5h1M94 15.5h1M106 15.5h1M169 15.5h1M202 15.5h1M220 15.5h1M232 15.5h1M265 15.5h1M278 15.5h1M326 15.5h1M340 15.5h1M357 15.5h1M362 15.5h1M62 16.5h1M70 16.5h1M78 16.5h1M82 16.5h1M109 16.5h1M113 16.5h1M125 16.5h1M214 16.5h1M230 16.5h1M276 16.5h1M318 16.5h1M340 16.5h2M344 16.5h1M358 16.5h1M401 16.5h1M184 17.5h1M260 17.5h1M275 17.5h1M295 17.5h1M298 17.5h1M352 17.5h1M75 18.5h1M125 18.5h1M168 18.5h1M171 18.5h1M186 18.5h1M233 18.5h1M263 18.5h1M265 18.5h1M340 18.5h1M132 19.5h1M137 19.5h1M186 19.5h1M216 19.5h2M233 19.5h1M253 19.5h1M256 19.5h1M262 19.5h1M284 19.5h1M286 19.5h1M321 19.5h1M369 19.5h1M196 20.5h1M210 20.5h1M245 20.5h1M370 20.5h1M379 20.5h1M114 21.5h1M168 21.5h1M210 21.5h1M214 21.5h1M225 21.5h1M233 21.5h1M301 21.5h1M401 21.5h1M83 22.5h1M109 22.5h1M178 22.5h1M188 22.5h1M194 22.5h1M198 22.5h1M225 22.5h1M229 22.5h1M275 22.5h1M351 22.5h1M60 23.5h1M77 23.5h1M82 23.5h1M116 23.5h1M127 23.5h1M236 23.5h1M315 23.5h1M397 23.5h1M89 24.5h1M106 24.5h1M164 24.5h1M223 24.5h1M249 24.5h1M256 24.5h1M260 24.5h1M266 24.5h1M271 24.5h1M295 24.5h1M62 25.5h1M91 25.5h1M132 25.5h1M205 25.5h1M276 25.5h1M368 25.5h1M393 25.5h1M67 26.5h1M243 26.5h1M254 26.5h1M269 26.5h1M323 26.5h1M341 26.5h2M354 26.5h1M377 26.5h1M199 27.5h1M232 27.5h1M243 27.5h1M299 27.5h1M301 27.5h1M323 27.5h1M330 27.5h1M341 27.5h1M370 27.5h1M382 27.5h1M385 27.5h1M388 27.5h1M396 27.5h1M401 27.5h1M94 28.5h1M103 28.5h1M143 28.5h1M179 28.5h1M191 28.5h2M196 28.5h1M252 28.5h1M257 28.5h1M263 28.5h1M269 28.5h1M301 28.5h1M314 28.5h1"/>
<path stroke="#eebbbb" d="M122 0.5h1M152 0.5h1M222 0.5h1M401 0.5h1M26 1.5h1M43 1.5h1M86 1.5h1M98 1.5h1M143 1.5h1M150 1.5h1M169 1.5h1M237 1.5h1M263 1.5h1M301 1.5h1M364 1.5h1M372 1.5h1M375 1.5h1M379 1.5h1M400 1.5h1M114 2.5h1M167 2.5h1M171 2.5h1M248 2.5h1M299 2.5h1M349 2.5h1M381 2.5h1M395 2.5h1M29 3.5h1M118 3.5h1M139 3.5h1M159 3.5h1M187 3.5h1M224 3.5h1M244 3.5h1M253 3.5h1M280 3.5h1M288 3.5h1M315 3.5h1M380 3.5h1M400 3.5h1M49 4.5h1M77 4.5h1M87 4.5h1M184 4.5h1M258 4.5h1M306 4.5h1M384 4.5h1M49 5.5h1M165 5.5h1M255 5.5h1M265 5.5h1M269 5.5h1M284 5.5h1M299 5.5h1M357 5.5h1M49 6.5h1M116 6.5h1M167 6.5h1M183 6.5h1M209 6.5h1M232 6.5h1M241 6.5h1M264 6.5h1M317 6.5h1M363 6.5h1M376 6.5h1M122 7.5h1M168 7.5h2M310 7.5h1M403 7.5h1M95 8.5h1M177 8.5h1M214 8.5h1M224 8.5h1M230 8.5h1M242 8.5h1M288 8.5h1M302 8.5h1M360 8.5h1M396 8.5h1M113 9.5h1M152 9.5h1M235 9.5h1M325 9.5h1M356 9.5h1M359 9.5h2M387 9.5h1M397 9.5h1M87 10.5h1M130 10.5h1M155 10.5h1M160 10.5h1M193 10.5h1M215 10.5h1M242 10.5h1M260 10.5h1M278 10.5h1M284 10.5h1M72 11.5h1M105 11.5h1M169 11.5h1M179 11.5h1M185 11.5h2M300 11.5h1M369 11.5h1M385 11.5h1M388 11.5h1M61 12.5h1M72 12.5h1M132 12.5h1M297 12.5h1M331 12.5h1M340 12.5h1M242 13.5h1M258 13.5h1M294 13.5h1M306 13.5h1M365 13.5h1M399 13.5h1M105 14.5h1M120 14.5h1M149 14.5h1M153 14.5h1M155 14.5h1M236 14.5h1M328 14.5h1M358 14.5h1M360 14.5h1M380 14.5h1M116 15.5h1M185 15.5h1M259 15.5h1M330 15.5h1M355 15.5h1M116 16.5h1M132 16.5h1M180 16.5h1M236 16.5h1M260 16.5h1M280 16.5h1M285 16.5h2M295 16.5h1M62 17.5h1M100 17.5h1M125 17.5h1M161 17.5h1M230 17.5h1M265 17.5h1M376 17.5h1M396 17.5h1M76 18.5h1M136 18.5h1M140 18.5h1M169 18.5h1M215 18.5h1M313 18.5h1M73 19.5h1M149 19.5h1M276 19.5h1M60 20.5h1M214 20.5h1M274 20.5h1M352 20.5h1M372 20.5h1M403 20.5h1M59 21.5h1M65 21.5h1M82 21.5h1M238 21.5h1M244 21.5h1M294 21.5h1M317 21.5h1M331 21.5h1M341 21.5h1M12 22.5h1M22 22.5h1M53 22.5h1M107 22.5h1M135 22.5h1M176 22.5h1M193 22.5h1M218 22.5h1M262 22.5h1M269 22.5h1M305 22.5h1M307 22.5h1M341 22.5h1M348 22.5h1M368 22.5h1M385 22.5h1M122 23.5h1M194 23.5h1M218 23.5h1M301 23.5h1M336 23.5h1M358 23.5h1M360 23.5h1M387 23.5h1M65 24.5h1M76 24.5h1M146 24.5h1M150 24.5h1M172 24.5h1M302 24.5h1M306 24.5h1M313 24.5h1M338 24.5h1M180 25.5h1M190 25.5h2M208 25.5h2M244 25.5h1M261 25.5h1M279 25.5h1M301 25.5h1M62 26.5h1M73 26.5h1M192 26.5h1M230 26.5h1M260 26.5h1M313 26.5h1M343 26.5h1M362 26.5h1M379 26.5h1M77 27.5h1M116 27.5h1M183 27.5h1M193 27.5h1M196 27.5h1M215 27.5h1M221 27.5h1M282 27.5h1M347 27.5h1M49 28.5h1M75 28.5h1M161 28.5h2M197 28.5h1M310 28.5h1M395 28.5h1"/>
<path stroke="#ee4444" d="M146 0.5h1M210 0.5h1M214 0.5h1M276 0.5h1M358 0.5h1M386 0.5h1M396 0.5h1M34 1.5h1M74 1.5h1M89 1.5h1M92 1.5h1M107 1.5h1M124 1.5h1M135 1.5h1M167 1.5h1M207 1.5h1M242 1.5h1M271 1.5h1M366 1.5h1M381 1.5h1M169 2.5h1M199 2.5h1M202 2.5h1M228 2.5h1M294 2.5h1M84 3.5h1M91 3.5h1M97 3.5h1M349 3.5h1M360 3.5h1M365 3.5h1M386 3.5h1M73 4.5h1M241 4.5h1M360 4.5h1M368 4.5h1M374 4.5h1M134 5.5h1M148 5.5h1M171 5.5h1M193 5.5h1M201 5.5h1M210 5.5h1M214 5.5h1M262 5.5h1M295 5.5h2M315 5.5h1M329 5.5h1M77 6.5h1M102 6.5h1M134 6.5h1M204 6.5h1M358 6.5h1M69 7.5h1M90 7.5h1M216 7.5h1M225 7.5h1M269 7.5h1M97 8.5h1M116 8.5h1M186 8.5h1M319 8.5h1M341 8.5h1M368 8.5h1M375 8.5h1M388 8.5h1M93 9.5h1M103 9.5h1M322 9.5h2M340 9.5h1M135 10.5h1M233 10.5h1M238 10.5h1M259 10.5h1M267 10.5h1M274 10.5h1M313 10.5h1M348 10.5h1M111 11.5h1M191 11.5h1M246 11.5h1M273 11.5h1M276 11.5h1M280 11.5h1M313 11.5h1M323 11.5h1M342 11.5h1M91 12.5h1M94 12.5h1M125 12.5h1M188 12.5h1M223 12.5h1M336 12.5h1M352 12.5h1M376 12.5h1M66 13.5h1M173 13.5h1M214 13.5h1M253 13.5h1M311 13.5h1M333 13.5h1M357 13.5h1M107 14.5h1M114 14.5h1M119 14.5h1M122 14.5h1M208 14.5h1M230 14.5h1M233 14.5h1M348 14.5h1M355 14.5h1M70 15.5h1M196 15.5h1M311 15.5h1M394 15.5h1M86 16.5h1M88 16.5h1M119 16.5h1M131 16.5h1M142 16.5h1M195 16.5h1M208 16.5h1M275 16.5h1M278 16.5h1M304 16.5h1M338 16.5h1M369 16.5h1M396 16.5h1M75 17.5h1M94 17.5h1M120 17.5h1M168 17.5h1M188 17.5h1M238 17.5h1M323 17.5h1M356 17.5h1M370 17.5h1M89 18.5h1M116 18.5h1M135 18.5h1M230 18.5h1M287 18.5h1M315 18.5h1M369 18.5h1M397 18.5h1M401 18.5h1M90 19.5h1M102 19.5h1M161 19.5h1M187 19.5h1M241 19.5h1M260 19.5h1M299 19.5h1M328 19.5h1M396 19.5h1M76 20.5h1M116 20.5h1M141 20.5h1M184 20.5h1M261 20.5h1M67 21.5h1M119 21.5h1M203 21.5h1M360 21.5h1M396 21.5h1M82 22.5h1M129 22.5h1M197 22.5h1M244 22.5h1M252 22.5h1M375 22.5h1M118 23.5h1M136 23.5h1M148 23.5h1M169 23.5h1M212 23.5h1M305 23.5h1M356 23.5h1M374 23.5h1M131 24.5h1M182 24.5h1M186 24.5h1M230 24.5h1M241 24.5h1M322 24.5h1M341 24.5h1M374 24.5h1M104 25.5h1M127 25.5h1M148 25.5h1M188 25.5h1M193 25.5h1M199 25.5h1M275 25.5h1M321 25.5h1M343 25.5h1M355 25.5h1M396 25.5h1M86 26.5h1M132 26.5h1M162 26.5h1M167 26.5h1M208 26.5h1M217 26.5h1M368 26.5h1M390 26.5h1M158 27.5h1M191 27.5h2M210 27.5h1M240 27.5h1M300 27.5h1M386 27.5h1M58 28.5h1M81 28.5h1M203 28.5h1M214 28.5h1M216 28.5h1M341 28.5h1M374 28.5h1M381 28.5h1"/>
<path stroke="#dd3333" d="M176 0.5h1M240 0.5h1M252 0.5h1M345 0.5h1M364 0.5h1M376 0.5h1M385 0.5h1M403 0.5h1M55 1.5h1M85 1.5h1M130 1.5h1M193 1.5h1M234 1.5h1M348 1.5h1M367 1.5h1M369 1.5h1M86 2.5h1M119 2.5h1M218 2.5h1M231 2.5h1M238 2.5h1M263 2.5h1M283 2.5h1M394 2.5h1M49 3.5h1M129 3.5h1M168 3.5h1M201 3.5h1M260 3.5h1M262 3.5h1M342 3.5h1M67 4.5h1M74 4.5h1M95 4.5h1M131 4.5h1M210 4.5h1M237 4.5h2M262 4.5h1M272 4.5h1M326 4.5h1M341 4.5h1M86 5.5h1M131 5.5h2M136 5.5h1M143 5.5h1M196 5.5h1M215 5.5h1M339 5.5h1M362 5.5h1M95 6.5h1M178 6.5h1M184 6.5h1M187 6.5h1M201 6.5h1M203 6.5h1M208 6.5h1M217 6.5h1M301 6.5h1M348 6.5h1M146 7.5h1M173 7.5h1M223 7.5h1M256 7.5h2M280 7.5h1M357 7.5h1M397 7.5h1M119 8.5h1M162 8.5h1M278 8.5h1M325 8.5h1M328 8.5h1M357 8.5h1M361 8.5h1M86 9.5h1M186 9.5h1M194 9.5h1M204 9.5h1M262 9.5h1M58 10.5h1M91 10.5h1M93 10.5h1M137 10.5h1M140 10.5h1M151 10.5h1M153 10.5h1M263 10.5h1M402 10.5h1M78 11.5h1M89 11.5h1M110 11.5h1M135 11.5h1M142 11.5h1M203 11.5h1M224 11.5h1M122 12.5h1M149 12.5h1M262 12.5h1M292 12.5h1M397 12.5h1M75 13.5h1M118 13.5h2M167 13.5h1M341 13.5h1M363 13.5h1M113 14.5h1M178 14.5h1M194 14.5h1M211 14.5h1M215 14.5h1M270 14.5h1M283 14.5h1M296 14.5h1M365 14.5h1M65 15.5h1M89 15.5h1M107 15.5h1M214 15.5h1M261 15.5h1M285 15.5h1M341 15.5h1M391 15.5h1M138 16.5h1M149 16.5h1M185 16.5h1M188 16.5h1M201 16.5h1M223 16.5h2M388 16.5h1M66 17.5h1M111 17.5h1M214 17.5h1M223 17.5h1M225 17.5h1M237 17.5h1M241 17.5h1M245 17.5h1M262 17.5h1M269 17.5h1M328 17.5h1M66 18.5h1M118 18.5h1M146 18.5h1M328 18.5h1M396 18.5h1M82 19.5h1M97 19.5h1M116 19.5h1M275 19.5h1M360 19.5h1M362 19.5h1M372 19.5h1M388 19.5h1M106 20.5h1M132 20.5h1M168 20.5h1M262 20.5h1M305 20.5h1M346 20.5h1M60 21.5h1M97 21.5h1M131 21.5h1M208 21.5h1M245 21.5h1M253 21.5h1M285 21.5h1M310 21.5h1M346 21.5h1M69 22.5h1M80 22.5h1M146 22.5h1M168 22.5h1M236 22.5h1M245 22.5h1M284 22.5h1M306 22.5h1M359 22.5h1M377 22.5h1M392 22.5h1M87 23.5h1M102 23.5h1M147 23.5h1M149 23.5h1M262 23.5h1M294 23.5h1M331 23.5h1M347 23.5h1M368 23.5h1M58 24.5h1M135 24.5h1M170 24.5h1M200 24.5h1M340 24.5h1M385 24.5h1M88 25.5h1M112 25.5h1M119 25.5h1M171 25.5h1M202 25.5h1M238 25.5h1M376 25.5h1M84 26.5h1M138 26.5h1M232 26.5h1M295 26.5h1M305 26.5h2M321 26.5h1M162 27.5h1M204 27.5h1M267 27.5h1M273 27.5h1M293 27.5h1M296 27.5h1M355 27.5h1M379 27.5h1M95 28.5h1M110 28.5h1M156 28.5h1M178 28.5h1M208 28.5h1M225 28.5h1M295 28.5h1M385 28.5h1"/>
<path stroke="#ee8888" d="M206 0.5h1M242 0.5h1M251 0.5h1M14 1.5h1M17 1.5h1M54 1.5h1M71 1.5h1M172 1.5h1M200 1.5h1M276 1.5h1M346 1.5h1M394 1.5h1M68 2.5h1M121 2.5h1M135 2.5h2M147 2.5h1M198 2.5h1M241 2.5h1M325 2.5h1M340 2.5h1M351 2.5h1M388 2.5h1M44 3.5h1M60 3.5h1M64 3.5h1M75 3.5h1M167 3.5h1M236 3.5h1M238 3.5h1M273 3.5h1M333 3.5h1M85 4.5h1M110 4.5h1M118 4.5h1M183 4.5h1M240 4.5h1M352 4.5h1M379 4.5h1M389 4.5h1M155 5.5h1M187 5.5h1M195 5.5h1M226 5.5h1M275 5.5h1M306 5.5h1M353 5.5h1M165 6.5h1M176 6.5h1M196 6.5h1M265 6.5h1M307 6.5h1M61 7.5h1M114 7.5h1M119 7.5h1M124 7.5h1M338 7.5h1M347 7.5h1M374 7.5h1M154 8.5h1M289 8.5h1M313 8.5h1M345 8.5h1M76 9.5h1M102 9.5h1M105 9.5h1M168 9.5h1M176 9.5h1M183 9.5h1M189 9.5h1M197 9.5h1M203 9.5h1M210 9.5h1M244 9.5h1M254 9.5h1M288 9.5h2M298 9.5h1M319 9.5h1M336 9.5h1M84 10.5h1M108 10.5h1M150 10.5h1M194 10.5h1M319 10.5h1M355 10.5h1M387 10.5h1M232 11.5h1M241 11.5h1M353 11.5h1M362 11.5h1M379 11.5h1M384 11.5h1M76 12.5h1M83 12.5h1M169 12.5h1M192 12.5h1M241 12.5h2M282 12.5h1M346 12.5h1M374 12.5h1M395 12.5h1M401 12.5h1M83 13.5h1M102 13.5h1M120 13.5h1M136 13.5h1M153 13.5h1M178 13.5h2M302 13.5h1M307 13.5h1M171 14.5h1M184 14.5h1M201 14.5h1M232 14.5h1M240 14.5h1M257 14.5h1M269 14.5h1M391 14.5h1M84 15.5h1M110 15.5h1M114 15.5h1M119 15.5h1M131 15.5h1M142 15.5h1M149 15.5h1M151 15.5h1M182 15.5h1M223 15.5h1M238 15.5h1M321 15.5h1M356 15.5h1M365 15.5h1M89 16.5h1M97 16.5h1M114 16.5h1M137 16.5h1M155 16.5h1M184 16.5h1M225 16.5h1M242 16.5h1M298 16.5h1M315 16.5h1M325 16.5h1M151 17.5h1M182 17.5h1M185 17.5h1M191 17.5h1M193 17.5h1M220 17.5h1M257 17.5h1M286 17.5h1M365 17.5h1M74 18.5h1M127 18.5h1M149 18.5h1M193 18.5h1M203 18.5h1M251 18.5h1M286 18.5h1M386 18.5h1M84 19.5h1M94 19.5h1M125 19.5h1M154 19.5h1M167 19.5h1M296 19.5h1M315 19.5h1M325 19.5h1M340 19.5h1M380 19.5h1M75 20.5h1M102 20.5h1M108 20.5h1M125 20.5h1M194 20.5h1M260 20.5h1M263 20.5h1M336 20.5h1M340 20.5h1M351 20.5h1M116 21.5h1M153 21.5h1M230 21.5h1M280 21.5h1M321 21.5h1M323 21.5h1M365 21.5h1M370 21.5h1M379 21.5h1M400 21.5h1M9 22.5h1M52 22.5h1M112 22.5h1M165 22.5h1M192 22.5h1M210 22.5h1M219 22.5h1M237 22.5h1M285 22.5h1M299 22.5h1M340 22.5h1M86 23.5h1M111 23.5h1M151 23.5h1M199 23.5h1M233 23.5h1M245 23.5h1M261 23.5h1M355 23.5h1M378 23.5h1M73 24.5h1M201 24.5h1M211 24.5h1M217 24.5h1M240 24.5h1M263 24.5h1M265 24.5h1M296 24.5h1M337 24.5h1M93 25.5h1M111 25.5h1M137 25.5h1M178 25.5h1M196 25.5h1M240 25.5h1M243 25.5h1M344 25.5h1M360 25.5h1M120 26.5h1M125 26.5h1M169 26.5h1M184 26.5h1M202 26.5h1M220 26.5h1M253 26.5h1M267 26.5h1M301 26.5h1M324 26.5h1M331 26.5h1M351 26.5h1M401 26.5h1M83 27.5h1M89 27.5h1M129 27.5h1M173 27.5h1M211 27.5h1M223 27.5h1M230 27.5h1M242 27.5h1M246 27.5h1M275 27.5h1M292 27.5h1M311 27.5h1M92 28.5h1M139 28.5h1M182 28.5h1M194 28.5h1M259 28.5h1M262 28.5h1M276 28.5h1M285 28.5h2M294 28.5h1M335 28.5h1"/>
<path stroke="#ffbbbb" d="M154 1.5h1M217 1.5h1M403 2.5h1M62 3.5h1M83 3.5h1M165 3.5h1M97 4.5h1M125 4.5h1M130 4.5h1M151 4.5h1M196 4.5h1M246 4.5h1M288 4.5h1M111 5.5h1M137 5.5h1M80 6.5h1M110 6.5h1M308 6.5h1M246 7.5h1M313 7.5h1M359 7.5h1M62 8.5h1M178 8.5h1M189 8.5h1M330 8.5h1M374 8.5h1M162 9.5h1M219 9.5h1M318 9.5h1M400 9.5h1M251 10.5h1M328 10.5h1M194 11.5h1M196 11.5h1M214 11.5h1M238 12.5h1M301 12.5h1M304 12.5h1M297 13.5h1M324 13.5h1M328 13.5h1M348 13.5h1M323 14.5h1M325 14.5h1M121 15.5h1M164 15.5h1M136 17.5h1M243 17.5h1M258 17.5h1M70 18.5h1M120 18.5h1M363 18.5h1M331 20.5h1M389 20.5h1M216 21.5h1M10 22.5h1M65 22.5h1M67 22.5h1M88 22.5h1M136 22.5h1M272 22.5h1M80 23.5h1M205 23.5h1M257 24.5h1M83 25.5h1M288 25.5h1M363 25.5h1M395 25.5h1"/>
</g>
<g transform="translate(96.8 773.1) scale(1.36931 11.8000)" fill="none" stroke-width="1">
<path stroke="#78b46c" d="M0 0.5h1M5 0.5h1M11 0.5h1M14 0.5h1M16 0.5h2M24 0.5h1M33 0.5h1M35 0.5h1M37 0.5h1M40 0.5h3M44 0.5h2M47 0.5h1M51 0.5h1M53 0.5h1M65 0.5h2M72 0.5h1M83 0.5h1M85 0.5h1M87 0.5h1M89 0.5h2M103 0.5h1M108 0.5h1M117 0.5h2M121 0.5h1M130 0.5h1M135 0.5h1M147 0.5h2M153 0.5h1M155 0.5h1M162 0.5h1M168 0.5h1M179 0.5h2M183 0.5h1M195 0.5h2M202 0.5h1M204 0.5h1M212 0.5h1M214 0.5h1M228 0.5h1M236 0.5h1M239 0.5h1M253 0.5h1M257 0.5h2M266 0.5h2M273 0.5h1M281 0.5h3M287 0.5h1M292 0.5h2M305 0.5h1M307 0.5h1M310 0.5h1M313 0.5h1M315 0.5h1M325 0.5h1M340 0.5h2M346 0.5h1M352 0.5h1M354 0.5h1M359 0.5h1M363 0.5h1M368 0.5h1M371 0.5h1M373 0.5h1M375 0.5h1M377 0.5h1M379 0.5h1M392 0.5h1M396 0.5h1M399 0.5h1M403 0.5h1"/>
<path stroke="#6ca860" d="M1 0.5h4M6 0.5h1M8 0.5h3M12 0.5h1M15 0.5h1M18 0.5h1M21 0.5h3M25 0.5h3M29 0.5h1M31 0.5h1M36 0.5h1M38 0.5h2M43 0.5h1M48 0.5h1M52 0.5h1M55 0.5h1M68 0.5h1M75 0.5h1M96 0.5h1M104 0.5h1M115 0.5h1M124 0.5h1M136 0.5h1M142 0.5h1M149 0.5h2M154 0.5h1M161 0.5h1M169 0.5h1M172 0.5h2M182 0.5h1M184 0.5h1M187 0.5h1M225 0.5h1M229 0.5h1M232 0.5h1M242 0.5h1M245 0.5h1M250 0.5h1M268 0.5h1M323 0.5h1M330 0.5h1M338 0.5h1M343 0.5h1M347 0.5h1M351 0.5h1M357 0.5h1M362 0.5h1M365 0.5h1M369 0.5h1M372 0.5h1M378 0.5h1M384 0.5h1M388 0.5h1M390 0.5h1M398 0.5h1"/>
<path stroke="#60a860" d="M7 0.5h1M19 0.5h1M28 0.5h1M56 0.5h2M61 0.5h1M73 0.5h1M82 0.5h1M91 0.5h1M99 0.5h1M101 0.5h1M105 0.5h1M114 0.5h1M122 0.5h2M141 0.5h1M215 0.5h3M227 0.5h1M238 0.5h1M248 0.5h1M252 0.5h1M276 0.5h1M290 0.5h1M294 0.5h1M302 0.5h1M314 0.5h1M317 0.5h1M349 0.5h1M402 0.5h1"/>
<path stroke="#6cb46c" d="M13 0.5h1M20 0.5h1M30 0.5h1M46 0.5h1M54 0.5h1M60 0.5h1M74 0.5h1M77 0.5h1M94 0.5h1M189 0.5h1M208 0.5h1M213 0.5h1M226 0.5h1M254 0.5h1M261 0.5h1M263 0.5h1M311 0.5h1"/>
<path stroke="#609c54" d="M32 0.5h1M59 0.5h1M63 0.5h2M69 0.5h1M71 0.5h1M80 0.5h2M98 0.5h1M100 0.5h1M112 0.5h2M126 0.5h4M132 0.5h2M137 0.5h1M139 0.5h1M143 0.5h1M145 0.5h1M152 0.5h1M156 0.5h2M159 0.5h2M163 0.5h4M170 0.5h2M174 0.5h2M181 0.5h1M185 0.5h1M190 0.5h1M193 0.5h2M200 0.5h1M206 0.5h2M209 0.5h1M218 0.5h1M221 0.5h2M224 0.5h1M231 0.5h1M237 0.5h1M240 0.5h1M243 0.5h2M247 0.5h1M249 0.5h1M255 0.5h1M260 0.5h1M264 0.5h1M271 0.5h1M277 0.5h1M286 0.5h1M299 0.5h1M301 0.5h1M303 0.5h2M312 0.5h1M316 0.5h1M318 0.5h1M320 0.5h1M324 0.5h1M326 0.5h1M332 0.5h1M334 0.5h2M337 0.5h1M345 0.5h1M350 0.5h1M364 0.5h1M366 0.5h2M370 0.5h1M376 0.5h1M383 0.5h1M387 0.5h1M389 0.5h1M391 0.5h1M393 0.5h1M395 0.5h1M401 0.5h1"/>
<path stroke="#6ca86c" d="M34 0.5h1M86 0.5h1M106 0.5h1M177 0.5h1M203 0.5h1M235 0.5h1M279 0.5h2M296 0.5h1M381 0.5h1"/>
<path stroke="#609c60" d="M49 0.5h1M78 0.5h1M84 0.5h1M116 0.5h1M119 0.5h1M131 0.5h1M144 0.5h1M151 0.5h1M219 0.5h1M297 0.5h1M309 0.5h1M331 0.5h1M355 0.5h1"/>
<path stroke="#84c078" d="M50 0.5h1M58 0.5h1M76 0.5h1M92 0.5h1M97 0.5h1M102 0.5h1M107 0.5h1M111 0.5h1M120 0.5h1M125 0.5h1M134 0.5h1M138 0.5h1M146 0.5h1M167 0.5h1M188 0.5h1M198 0.5h2M205 0.5h1M210 0.5h1M223 0.5h1M241 0.5h1M246 0.5h1M251 0.5h1M256 0.5h1M262 0.5h1M274 0.5h2M278 0.5h1M284 0.5h2M289 0.5h1M291 0.5h1M295 0.5h1M298 0.5h1M300 0.5h1M306 0.5h1M321 0.5h1M327 0.5h2M353 0.5h1M356 0.5h1M360 0.5h1M374 0.5h1M380 0.5h1M382 0.5h1M386 0.5h1M397 0.5h1"/>
<path stroke="#84b46c" d="M62 0.5h1M67 0.5h1M178 0.5h1M186 0.5h1M270 0.5h1M319 0.5h1M342 0.5h1M348 0.5h1M385 0.5h1"/>
<path stroke="#9ccc84" d="M70 0.5h1M93 0.5h1M109 0.5h2M269 0.5h1M358 0.5h1M400 0.5h1"/>
<path stroke="#84b478" d="M79 0.5h1M234 0.5h1M288 0.5h1M333 0.5h1"/>
<path stroke="#9ccc90" d="M88 0.5h1M322 0.5h1M336 0.5h1"/>
<path stroke="#90c078" d="M95 0.5h1M140 0.5h1M191 0.5h2M201 0.5h1M211 0.5h1M220 0.5h1M230 0.5h1M259 0.5h1M272 0.5h1M308 0.5h1M329 0.5h1M339 0.5h1M344 0.5h1"/>
<path stroke="#90cc84" d="M158 0.5h1M197 0.5h1M233 0.5h1M265 0.5h1M394 0.5h1"/>
<path stroke="#90c084" d="M176 0.5h1"/>
<path stroke="#a8d89c" d="M361 0.5h1"/>
</g>
<g transform="translate(96.8 787.65) scale(1.36931 11.8000)" fill="none" stroke-width="1">
<path stroke="#d8f0cc" d="M0 0.5h5M6 0.5h2M13 0.5h1M18 0.5h3M26 0.5h2M32 0.5h2M45 0.5h2M48 0.5h1M50 0.5h2M57 0.5h1M99 0.5h1M101 0.5h1M113 0.5h1M124 0.5h1M145 0.5h1M163 0.5h1M213 0.5h1M237 0.5h1M240 0.5h1M250 0.5h1M255 0.5h1M320 0.5h1M324 0.5h1M335 0.5h1M366 0.5h2M371 0.5h1M392 0.5h1"/>
<path stroke="#cce4c0" d="M5 0.5h1M10 0.5h2M15 0.5h2M21 0.5h5M29 0.5h3M35 0.5h1M40 0.5h1M44 0.5h1M49 0.5h1M52 0.5h2M59 0.5h1M72 0.5h1M78 0.5h1M122 0.5h1M130 0.5h1M133 0.5h1M151 0.5h1M175 0.5h1M181 0.5h1M185 0.5h1M190 0.5h1M193 0.5h1M218 0.5h1M228 0.5h1M247 0.5h2M268 0.5h1M281 0.5h1M283 0.5h1M304 0.5h1M318 0.5h1M327 0.5h1M337 0.5h1M347 0.5h1M349 0.5h1M353 0.5h1M378 0.5h1M382 0.5h2M398 0.5h1M402 0.5h1"/>
<path stroke="#d8e4cc" d="M8 0.5h1M34 0.5h1M36 0.5h2M39 0.5h1M54 0.5h2M68 0.5h1M85 0.5h1M112 0.5h1"/>
<path stroke="#d8f0d8" d="M9 0.5h1M28 0.5h1M47 0.5h1"/>
<path stroke="#f0f0e4" d="M12 0.5h1M166 0.5h1M206 0.5h1M249 0.5h1"/>
<path stroke="#e4f0d8" d="M14 0.5h1M17 0.5h1M38 0.5h1M41 0.5h1M43 0.5h1M63 0.5h1M71 0.5h1M126 0.5h1M128 0.5h1M152 0.5h1M160 0.5h1M200 0.5h1M216 0.5h1M235 0.5h1M277 0.5h1M393 0.5h1"/>
<path stroke="#c0e4b4" d="M42 0.5h1M56 0.5h1M60 0.5h1M80 0.5h2M106 0.5h1M123 0.5h1M137 0.5h1M150 0.5h1M154 0.5h1M165 0.5h1M168 0.5h1M171 0.5h1M189 0.5h1M207 0.5h1M212 0.5h1M226 0.5h2M253 0.5h1M264 0.5h1M266 0.5h1M290 0.5h1M295 0.5h1M298 0.5h1M303 0.5h1M306 0.5h1M312 0.5h2M316 0.5h2M323 0.5h1M332 0.5h1M343 0.5h1M350 0.5h1M364 0.5h2M395 0.5h1"/>
<path stroke="#6ca8cc" d="M58 0.5h1M140 0.5h1M178 0.5h1M273 0.5h1M311 0.5h1"/>
<path stroke="#b4d8c0" d="M61 0.5h1M65 0.5h1M69 0.5h1M75 0.5h1M77 0.5h1M83 0.5h1M90 0.5h2M105 0.5h1M108 0.5h1M114 0.5h2M125 0.5h1M136 0.5h1M141 0.5h1M153 0.5h1M155 0.5h1M169 0.5h2M172 0.5h2M179 0.5h2M182 0.5h1M184 0.5h1M209 0.5h2M215 0.5h1M217 0.5h1M219 0.5h1M221 0.5h1M224 0.5h1M238 0.5h2M243 0.5h2M251 0.5h1M257 0.5h1M260 0.5h1M269 0.5h1M279 0.5h1M286 0.5h1M288 0.5h1M302 0.5h1M307 0.5h1M309 0.5h2M342 0.5h1M351 0.5h1M355 0.5h1M370 0.5h1M372 0.5h2M381 0.5h1M387 0.5h1M389 0.5h1M391 0.5h1M399 0.5h2"/>
<path stroke="#90c0c0" d="M62 0.5h1M67 0.5h1M88 0.5h1M103 0.5h1M147 0.5h1M158 0.5h1M161 0.5h2M177 0.5h1M186 0.5h1M201 0.5h1M208 0.5h1M223 0.5h1M252 0.5h1M256 0.5h1M258 0.5h1M278 0.5h1M287 0.5h1M289 0.5h1M300 0.5h1M330 0.5h1M344 0.5h1M352 0.5h1M359 0.5h1M380 0.5h1M403 0.5h1"/>
<path stroke="#90ccc0" d="M64 0.5h1M194 0.5h1M198 0.5h1M284 0.5h1M294 0.5h1M328 0.5h1M384 0.5h1"/>
<path stroke="#84c0cc" d="M66 0.5h1M74 0.5h1M82 0.5h1M93 0.5h1M127 0.5h1M132 0.5h1M197 0.5h1M203 0.5h1M275 0.5h1M305 0.5h1M339 0.5h1M356 0.5h1M386 0.5h1"/>
<path stroke="#9cccc0" d="M70 0.5h1M73 0.5h1M84 0.5h1M86 0.5h1M89 0.5h1M92 0.5h1M102 0.5h1M107 0.5h1M109 0.5h3M121 0.5h1M134 0.5h1M144 0.5h1M164 0.5h1M196 0.5h1M202 0.5h1M211 0.5h1M220 0.5h1M241 0.5h1M245 0.5h1M259 0.5h1M261 0.5h3M267 0.5h1M270 0.5h1M282 0.5h1M293 0.5h1M308 0.5h1M315 0.5h1M321 0.5h2M331 0.5h1M336 0.5h1M338 0.5h1M341 0.5h1M348 0.5h1M354 0.5h1M360 0.5h1M362 0.5h1M376 0.5h1M390 0.5h1M394 0.5h1"/>
<path stroke="#a8ccc0" d="M76 0.5h1M87 0.5h1M116 0.5h1M119 0.5h1M129 0.5h1M142 0.5h1M149 0.5h1M167 0.5h1M230 0.5h2M280 0.5h1M340 0.5h1M363 0.5h1M368 0.5h1M374 0.5h1M385 0.5h1M401 0.5h1"/>
<path stroke="#78a8cc" d="M79 0.5h1M118 0.5h1M176 0.5h1M375 0.5h1"/>
<path stroke="#a8d8c0" d="M94 0.5h1M96 0.5h1M100 0.5h1M104 0.5h1M117 0.5h1M120 0.5h1M131 0.5h1M138 0.5h1M148 0.5h1M159 0.5h1M183 0.5h1M188 0.5h1M214 0.5h1M222 0.5h1M225 0.5h1M232 0.5h1M236 0.5h1M242 0.5h1M246 0.5h1M271 0.5h1M296 0.5h2M299 0.5h1M314 0.5h1M325 0.5h1M333 0.5h1M358 0.5h1M369 0.5h1M377 0.5h1M388 0.5h1"/>
<path stroke="#84b4cc" d="M95 0.5h1M97 0.5h1M135 0.5h1M146 0.5h1M187 0.5h1M192 0.5h1M204 0.5h2M233 0.5h2M265 0.5h1M276 0.5h1M285 0.5h1M319 0.5h1M379 0.5h1M397 0.5h1"/>
<path stroke="#f0fce4" d="M98 0.5h1M139 0.5h1M156 0.5h2M174 0.5h1M334 0.5h1"/>
<path stroke="#c0d8c0" d="M143 0.5h1M274 0.5h1M345 0.5h1"/>
<path stroke="#78b4cc" d="M191 0.5h1M195 0.5h1M199 0.5h1M272 0.5h1M291 0.5h1M301 0.5h1M329 0.5h1M361 0.5h1"/>
<path stroke="#c0d8b4" d="M229 0.5h1M254 0.5h1M357 0.5h1"/>
<path stroke="#84c0c0" d="M292 0.5h1M326 0.5h1M396 0.5h1"/>
<path stroke="#cce4cc" d="M346 0.5h1"/>
</g>
<g transform="translate(96.8 802.2) scale(1.36931 11.8000)" fill="none" stroke-width="1">
<path stroke="#c0d8e4" d="M0 0.5h1M2 0.5h1M6 0.5h2M15 0.5h1M20 0.5h2M46 0.5h1M50 0.5h1M60 0.5h1M123 0.5h1M168 0.5h1M189 0.5h1M206 0.5h2M209 0.5h1M219 0.5h1M228 0.5h1M268 0.5h1M283 0.5h1M312 0.5h2M320 0.5h1M332 0.5h1M345 0.5h1"/>
<path stroke="#ccd8f0" d="M1 0.5h1M11 0.5h2M22 0.5h1M29 0.5h1M42 0.5h1M49 0.5h1M52 0.5h1M55 0.5h1M63 0.5h1M126 0.5h1M145 0.5h1M166 0.5h1M193 0.5h1M216 0.5h1M247 0.5h1M250 0.5h1M255 0.5h1M367 0.5h1"/>
<path stroke="#b4cce4" d="M3 0.5h3M9 0.5h1M14 0.5h1M18 0.5h1M24 0.5h3M30 0.5h2M34 0.5h1M36 0.5h1M39 0.5h1M47 0.5h1M54 0.5h1M115 0.5h1M130 0.5h1M136 0.5h1M218 0.5h1M227 0.5h1M253 0.5h1M260 0.5h1M281 0.5h1M316 0.5h1M323 0.5h1M376 0.5h1M378 0.5h1M392 0.5h1M398 0.5h1M402 0.5h1"/>
<path stroke="#c0cce4" d="M8 0.5h1M10 0.5h1M17 0.5h1M23 0.5h1M27 0.5h1M32 0.5h1M37 0.5h1M40 0.5h2M43 0.5h3M48 0.5h1M53 0.5h1M57 0.5h1M59 0.5h1M112 0.5h2M128 0.5h1M133 0.5h1M274 0.5h1M371 0.5h1"/>
<path stroke="#b4c0e4" d="M13 0.5h1M16 0.5h1M19 0.5h1M28 0.5h1M35 0.5h1M64 0.5h1M143 0.5h1M154 0.5h1M235 0.5h1M248 0.5h1M254 0.5h1M264 0.5h1M303 0.5h1M337 0.5h1M364 0.5h1M382 0.5h1M395 0.5h1"/>
<path stroke="#b4c0d8" d="M33 0.5h1M100 0.5h1M226 0.5h1M350 0.5h1"/>
<path stroke="#a8c0d8" d="M38 0.5h1M80 0.5h1M114 0.5h1M137 0.5h1M142 0.5h1M150 0.5h1M169 0.5h1M180 0.5h1M182 0.5h1M304 0.5h1M318 0.5h1M327 0.5h1M343 0.5h1M349 0.5h1M373 0.5h1"/>
<path stroke="#ccd8e4" d="M51 0.5h1M99 0.5h1"/>
<path stroke="#cce4f0" d="M56 0.5h1M163 0.5h1M277 0.5h1"/>
<path stroke="#7854a8" d="M58 0.5h1M67 0.5h1M70 0.5h1M79 0.5h1M95 0.5h1M121 0.5h1M188 0.5h1M191 0.5h2M196 0.5h2M199 0.5h1M201 0.5h1M203 0.5h1M205 0.5h1M234 0.5h1M256 0.5h1M272 0.5h2M305 0.5h1M319 0.5h1M322 0.5h1M360 0.5h1M384 0.5h2"/>
<path stroke="#9ca8cc" d="M61 0.5h1M66 0.5h1M68 0.5h1M76 0.5h2M82 0.5h1M87 0.5h1M105 0.5h1M141 0.5h1M159 0.5h1M165 0.5h1M170 0.5h1M172 0.5h1M184 0.5h2M198 0.5h1M210 0.5h1M215 0.5h1M217 0.5h1M221 0.5h1M230 0.5h2M238 0.5h2M242 0.5h1M244 0.5h1M258 0.5h1M271 0.5h1M294 0.5h3M299 0.5h1M310 0.5h1M317 0.5h1M353 0.5h1M357 0.5h1M362 0.5h1M372 0.5h1M377 0.5h1M389 0.5h1"/>
<path stroke="#8484c0" d="M62 0.5h1M73 0.5h1M91 0.5h1M94 0.5h1M104 0.5h1M108 0.5h1M149 0.5h1M173 0.5h1M214 0.5h1M233 0.5h1M245 0.5h1M265 0.5h1M269 0.5h1M276 0.5h1M284 0.5h1M287 0.5h1M292 0.5h2M302 0.5h1M306 0.5h1M311 0.5h1M325 0.5h2M338 0.5h1M341 0.5h1M388 0.5h1"/>
<path stroke="#a8b4d8" d="M65 0.5h1M69 0.5h1M90 0.5h1M119 0.5h1M124 0.5h1M148 0.5h1M164 0.5h1M175 0.5h1M179 0.5h1M194 0.5h1M224 0.5h2M232 0.5h1M240 0.5h1M243 0.5h1M266 0.5h1M324 0.5h1M335 0.5h1M355 0.5h1M363 0.5h1M381 0.5h1M399 0.5h1"/>
<path stroke="#f0f0fc" d="M71 0.5h1M98 0.5h1M139 0.5h1M157 0.5h1M160 0.5h1M334 0.5h1"/>
<path stroke="#8490c0" d="M72 0.5h1M83 0.5h1M129 0.5h1M132 0.5h1M202 0.5h1M257 0.5h1M280 0.5h1M282 0.5h1M315 0.5h1M330 0.5h1M336 0.5h1M340 0.5h1M348 0.5h1M358 0.5h1M380 0.5h1"/>
<path stroke="#846cb4" d="M74 0.5h1M88 0.5h1M109 0.5h1M135 0.5h1M161 0.5h1M186 0.5h1M270 0.5h1M374 0.5h1M396 0.5h2"/>
<path stroke="#909ccc" d="M75 0.5h1M84 0.5h1M86 0.5h1M96 0.5h1M101 0.5h1M116 0.5h1M120 0.5h1M122 0.5h1M125 0.5h1M131 0.5h1M138 0.5h1M144 0.5h1M153 0.5h1M162 0.5h1M167 0.5h1M171 0.5h1M177 0.5h1M183 0.5h1M208 0.5h1M211 0.5h2M237 0.5h1M251 0.5h1M261 0.5h3M278 0.5h1M286 0.5h1M289 0.5h1M297 0.5h2M307 0.5h2M314 0.5h1M328 0.5h1M347 0.5h1M351 0.5h1M354 0.5h1M365 0.5h1M369 0.5h1M379 0.5h1M400 0.5h2"/>
<path stroke="#9ca8d8" d="M78 0.5h1M222 0.5h1M229 0.5h1M279 0.5h1M331 0.5h1M370 0.5h1M390 0.5h1"/>
<path stroke="#9cb4d8" d="M81 0.5h1M117 0.5h1M151 0.5h1M156 0.5h1M267 0.5h1M309 0.5h1M391 0.5h1"/>
<path stroke="#d8e4f0" d="M85 0.5h1M152 0.5h1M155 0.5h1M190 0.5h1M200 0.5h1M213 0.5h1M290 0.5h1M383 0.5h1M393 0.5h1"/>
<path stroke="#846ca8" d="M89 0.5h1M285 0.5h1M291 0.5h1M356 0.5h1M375 0.5h1"/>
<path stroke="#8478b4" d="M92 0.5h2M103 0.5h1M107 0.5h1M127 0.5h1M187 0.5h1M195 0.5h1M220 0.5h1M241 0.5h1M301 0.5h1M342 0.5h1M352 0.5h1M394 0.5h1M403 0.5h1"/>
<path stroke="#7860a8" d="M97 0.5h1M118 0.5h1M158 0.5h1M176 0.5h1M178 0.5h1M204 0.5h1M275 0.5h1M300 0.5h1M329 0.5h1M344 0.5h1M361 0.5h1M386 0.5h1"/>
<path stroke="#9c9ccc" d="M102 0.5h1M147 0.5h1M181 0.5h1M359 0.5h1M387 0.5h1"/>
<path stroke="#9090cc" d="M106 0.5h1"/>
<path stroke="#8484b4" d="M110 0.5h1M134 0.5h1M223 0.5h1M368 0.5h1"/>
<path stroke="#9090c0" d="M111 0.5h1M236 0.5h1M246 0.5h1M259 0.5h1M288 0.5h1M321 0.5h1M333 0.5h1M339 0.5h1M346 0.5h1"/>
<path stroke="#8460a8" d="M140 0.5h1M146 0.5h1M252 0.5h1"/>
<path stroke="#e4f0f0" d="M174 0.5h1M249 0.5h1M366 0.5h1"/>
</g>
<g transform="translate(96.8 816.75) scale(1.36931 11.8000)" fill="none" stroke-width="1">
<path stroke="#cce4e4" d="M0 0.5h1M11 0.5h2M14 0.5h1M16 0.5h1M22 0.5h4M28 0.5h1M30 0.5h1M33 0.5h1M36 0.5h1M40 0.5h2M44 0.5h2M48 0.5h1M56 0.5h1M61 0.5h1M98 0.5h1M139 0.5h1M145 0.5h1M152 0.5h1M157 0.5h1M163 0.5h1M168 0.5h1M190 0.5h1M209 0.5h1M216 0.5h1M239 0.5h2M277 0.5h1M281 0.5h1M303 0.5h1M313 0.5h1M318 0.5h1M320 0.5h1M363 0.5h1M366 0.5h2"/>
<path stroke="#c0e4e4" d="M1 0.5h2M4 0.5h1M6 0.5h1M8 0.5h1M10 0.5h1M19 0.5h1M32 0.5h1M39 0.5h1M52 0.5h1M55 0.5h1M101 0.5h1M124 0.5h1M166 0.5h1M193 0.5h1M212 0.5h1M218 0.5h1M235 0.5h1M255 0.5h1M312 0.5h1M371 0.5h1M378 0.5h1M392 0.5h1M398 0.5h1"/>
<path stroke="#c0e4d8" d="M3 0.5h1M20 0.5h1M68 0.5h1M172 0.5h1M219 0.5h1M401 0.5h1"/>
<path stroke="#d8f0f0" d="M5 0.5h1M9 0.5h1M13 0.5h1M17 0.5h1M21 0.5h1M27 0.5h1M34 0.5h1M38 0.5h1M42 0.5h2M47 0.5h1M50 0.5h1M54 0.5h1M57 0.5h1M85 0.5h1M156 0.5h1M207 0.5h1M213 0.5h1M247 0.5h1M264 0.5h1M345 0.5h1M376 0.5h1"/>
<path stroke="#ccf0e4" d="M7 0.5h1M15 0.5h1M18 0.5h1M29 0.5h1M53 0.5h1M332 0.5h1"/>
<path stroke="#b4d8d8" d="M26 0.5h1M59 0.5h1M112 0.5h1M133 0.5h1M143 0.5h1M150 0.5h2M154 0.5h1M189 0.5h1M221 0.5h2M228 0.5h1M254 0.5h1M266 0.5h1M302 0.5h1M310 0.5h1M325 0.5h1"/>
<path stroke="#e4f0f0" d="M31 0.5h1M46 0.5h1M51 0.5h1M99 0.5h1M160 0.5h1M206 0.5h1"/>
<path stroke="#b4e4d8" d="M35 0.5h1M80 0.5h1M82 0.5h1M87 0.5h1M114 0.5h1M136 0.5h1M155 0.5h1M268 0.5h1M283 0.5h1M299 0.5h1M309 0.5h1M370 0.5h1M400 0.5h1M402 0.5h1"/>
<path stroke="#d8f0e4" d="M37 0.5h1M316 0.5h1M323 0.5h1M364 0.5h1"/>
<path stroke="#a8d8cc" d="M49 0.5h1M83 0.5h1M94 0.5h1M100 0.5h1M115 0.5h1M130 0.5h1M165 0.5h1M170 0.5h1M175 0.5h1M184 0.5h1M194 0.5h1M210 0.5h1M232 0.5h1M242 0.5h1M267 0.5h1M269 0.5h1M294 0.5h1M297 0.5h1M304 0.5h1M307 0.5h2M335 0.5h1M337 0.5h1M365 0.5h1M369 0.5h1M395 0.5h1"/>
<path stroke="#84c09c" d="M58 0.5h1M67 0.5h1M73 0.5h1M102 0.5h1M111 0.5h1M117 0.5h1M148 0.5h1M164 0.5h1M173 0.5h1M188 0.5h1M198 0.5h1M243 0.5h3M257 0.5h1M265 0.5h1M275 0.5h1M282 0.5h1M287 0.5h2M296 0.5h1M311 0.5h1M319 0.5h1M326 0.5h1M343 0.5h2M350 0.5h1M374 0.5h1M379 0.5h1M394 0.5h1"/>
<path stroke="#9cccb4" d="M60 0.5h1M72 0.5h1M77 0.5h1M90 0.5h2M105 0.5h1M108 0.5h1M147 0.5h1M162 0.5h1M171 0.5h1M182 0.5h1M226 0.5h1M229 0.5h2M237 0.5h2M260 0.5h1M301 0.5h1M321 0.5h1M333 0.5h1M338 0.5h1M349 0.5h1M351 0.5h1M357 0.5h1M387 0.5h1M390 0.5h1M396 0.5h1M399 0.5h1"/>
<path stroke="#78b484" d="M62 0.5h1M70 0.5h1M74 0.5h1M104 0.5h1M140 0.5h1M178 0.5h1M191 0.5h1M201 0.5h1M205 0.5h1M214 0.5h1M246 0.5h1M251 0.5h1M273 0.5h1M305 0.5h1M360 0.5h1M368 0.5h1"/>
<path stroke="#f0f0fc" d="M63 0.5h1M71 0.5h1M123 0.5h1M126 0.5h1M174 0.5h1M200 0.5h1M249 0.5h2M290 0.5h1M334 0.5h1M383 0.5h1M393 0.5h1"/>
<path stroke="#90cca8" d="M64 0.5h3M96 0.5h1M138 0.5h1M183 0.5h1M306 0.5h1M348 0.5h1M388 0.5h2M403 0.5h1"/>
<path stroke="#9cccc0" d="M69 0.5h1M109 0.5h1M121 0.5h1M153 0.5h1M179 0.5h1M217 0.5h1M236 0.5h1M253 0.5h1M258 0.5h1M270 0.5h1M274 0.5h1M314 0.5h1M317 0.5h1M324 0.5h1M328 0.5h1M346 0.5h2M352 0.5h1M358 0.5h1M372 0.5h2M381 0.5h1M391 0.5h1"/>
<path stroke="#90ccb4" d="M75 0.5h1M92 0.5h1M122 0.5h1M127 0.5h1M129 0.5h1M159 0.5h1M169 0.5h1M248 0.5h1M261 0.5h2M271 0.5h1M340 0.5h1M377 0.5h1M385 0.5h1"/>
<path stroke="#84c0a8" d="M76 0.5h1M84 0.5h1M106 0.5h1M120 0.5h1M142 0.5h1M167 0.5h1M181 0.5h1M224 0.5h2M252 0.5h1M259 0.5h1M353 0.5h1"/>
<path stroke="#a8d8c0" d="M78 0.5h1M119 0.5h1M128 0.5h1M185 0.5h1M215 0.5h1M279 0.5h1M295 0.5h1M330 0.5h1M336 0.5h1"/>
<path stroke="#609c60" d="M79 0.5h1M118 0.5h1M135 0.5h1M161 0.5h1M176 0.5h1M204 0.5h1M233 0.5h1M263 0.5h1M291 0.5h1M375 0.5h1"/>
<path stroke="#b4d8cc" d="M81 0.5h1M113 0.5h1M144 0.5h1M180 0.5h1M327 0.5h1M355 0.5h1"/>
<path stroke="#78b490" d="M86 0.5h1M89 0.5h1M93 0.5h1M95 0.5h1M97 0.5h1M132 0.5h1M134 0.5h1M158 0.5h1M177 0.5h1M196 0.5h1M211 0.5h1M220 0.5h1M241 0.5h1M272 0.5h1M276 0.5h1M284 0.5h2M289 0.5h1M292 0.5h2M298 0.5h1M331 0.5h1M359 0.5h1"/>
<path stroke="#609c6c" d="M88 0.5h1M256 0.5h1M329 0.5h1M361 0.5h1"/>
<path stroke="#60a86c" d="M103 0.5h1M195 0.5h1M203 0.5h1M234 0.5h1"/>
<path stroke="#6ca86c" d="M107 0.5h1M125 0.5h1M386 0.5h1"/>
<path stroke="#6ca878" d="M110 0.5h1M146 0.5h1M149 0.5h1M186 0.5h1M197 0.5h1M199 0.5h1M322 0.5h1M342 0.5h1M356 0.5h1M362 0.5h1M380 0.5h1M384 0.5h1M397 0.5h1"/>
<path stroke="#90c0a8" d="M116 0.5h1M131 0.5h1M223 0.5h1M231 0.5h1M280 0.5h1M286 0.5h1M354 0.5h1M382 0.5h1"/>
<path stroke="#9cd8c0" d="M137 0.5h1M141 0.5h1M227 0.5h1"/>
<path stroke="#78c090" d="M187 0.5h1"/>
<path stroke="#6cb484" d="M192 0.5h1M202 0.5h1M208 0.5h1M300 0.5h1M315 0.5h1M341 0.5h1"/>
<path stroke="#6ca884" d="M278 0.5h1"/>
<path stroke="#78c09c" d="M339 0.5h1"/>
</g>
<rect x="96.8" y="831.3" width="79.42" height="11.8" fill="#0000ff"/>
<rect x="176.22" y="831.3" width="473.78" height="11.8" fill="#dd0000"/>
<text transform="translate(654.5 783)" font-size="11.3" font-weight="bold" fill="#000">TumorPurity</text>
<text transform="translate(654.5 797.8)" font-size="11.3" font-weight="bold" fill="#000">ESTIMATEScore</text>
<text transform="translate(654.5 812.5)" font-size="11.3" font-weight="bold" fill="#000">ImmuneScore</text>
<text transform="translate(654.5 826.7)" font-size="11.3" font-weight="bold" fill="#000">StromalScore</text>
<text transform="translate(654.5 841.4)" font-size="11.3" font-weight="bold" fill="#000">Subtype</text>
<g fill="#000">
<text transform="translate(654.5 858.57)" font-size="11.4">Mast_cells</text>
<text transform="translate(654.5 873.51)" font-size="11.4">Type_II_IFN_Reponse</text>
<text transform="translate(654.5 888.45)" font-size="11.4">iDCs</text>
<text transform="translate(654.5 903.39)" font-size="11.4">Th2_cells</text>
<text transform="translate(654.5 918.34)" font-size="11.4">DCs</text>
<text transform="translate(654.5 933.28)" font-size="11.4">Macrophages</text>
<text transform="translate(654.5 948.22)" font-size="11.4">T_helper_cells</text>
<text transform="translate(654.5 963.16)" font-size="11.4">APC_co_stimulation</text>
<text transform="translate(654.5 978.1)" font-size="11.4">HLA</text>
<text transform="translate(654.5 993.04)" font-size="11.4">B_cells</text>
<text transform="translate(654.5 1007.98)" font-size="11.4">Neutrophils</text>
<text transform="translate(654.5 1022.93)" font-size="11.4">aDCs</text>
<text transform="translate(654.5 1037.87)" font-size="11.4">CD8+_T_cells</text>
<text transform="translate(654.5 1052.81)" font-size="11.4">Cytolytic_activity</text>
<text transform="translate(654.5 1067.75)" font-size="11.4">T_cell_co−inhibition</text>
<text transform="translate(654.5 1082.69)" font-size="11.4">Inflammation−promoting</text>
<text transform="translate(654.5 1097.63)" font-size="11.4">Th1_cells</text>
<text transform="translate(654.5 1112.57)" font-size="11.4">Tfh</text>
<text transform="translate(654.5 1127.52)" font-size="11.4">pDCs</text>
<text transform="translate(654.5 1142.46)" font-size="11.4">TIL</text>
<text transform="translate(654.5 1157.4)" font-size="11.4">Check−point</text>
<text transform="translate(654.5 1172.34)" font-size="11.4">T_cell_co−stimulation</text>
<text transform="translate(654.5 1187.28)" font-size="11.4">NK_cells</text>
<text transform="translate(654.5 1202.22)" font-size="11.4">Type_I_IFN_Reponse</text>
<text transform="translate(654.5 1217.16)" font-size="11.4">MHC_class_I</text>
<text transform="translate(654.5 1232.11)" font-size="11.4">APC_co_inhibition</text>
<text transform="translate(654.5 1247.05)" font-size="11.4">Parainflammation</text>
<text transform="translate(654.5 1261.99)" font-size="11.4">CCR</text>
<text transform="translate(654.5 1276.93)" font-size="11.4">Treg</text>
</g>
<path d="M96.8 854.67H47V869.61H96.8M96.8 959.26H64.1V974.2H96.8M96.8 944.32H60.5V966.73H64.1M96.8 929.38H58.4V955.52H60.5M96.8 914.44H55.1V942.45H58.4M96.8 989.14H57.1V1004.08H96.8M96.8 1078.79H79.6V1093.73H96.8M96.8 1063.85H77.2V1086.26H79.6M96.8 1048.91H74.1V1075.06H77.2M96.8 1033.97H70.5V1061.98H74.1M96.8 1153.5H83.5V1168.44H96.8M96.8 1138.56H80.8V1160.97H83.5M96.8 1123.62H74.9V1149.76H80.8M96.8 1108.67H67.1V1136.69H74.9M70.5 1047.97H62.35V1122.68H67.1M96.8 1019.03H53.3V1085.33H62.35M57.1 996.61H47V1052.18H53.3M55.1 928.44H46V1024.4H47M96.8 899.49H44.3V976.42H46M96.8 1258.09H75.7V1273.03H96.8M96.8 1243.15H67.5V1265.56H75.7M96.8 1228.21H62.35V1254.35H67.5M96.8 1213.26H57.25V1241.28H62.35M96.8 1198.32H53.3V1227.27H57.25M96.8 1183.38H42.1V1212.8H53.3M44.3 937.96H37.45V1198.09H42.1M96.8 884.55H34.2V1068.02H37.45M47 862.14H22.2V976.29H34.2" fill="none" stroke="#222" stroke-width="1.25"/>
<defs><linearGradient id="cb" x1="0" y1="0" x2="0" y2="1"><stop offset="0" stop-color="#dd0000"/><stop offset="0.34" stop-color="#dd0000"/><stop offset="0.5" stop-color="#ffffff"/><stop offset="0.66" stop-color="#0000ff"/><stop offset="1" stop-color="#0000ff"/></linearGradient></defs>
<rect x="786.7" y="772" width="14.2" height="217.9" fill="url(#cb)"/>
<text transform="translate(806.2 797.9)" font-size="11.3" fill="#000">4</text>
<text transform="translate(806.2 841.5)" font-size="11.3" fill="#000">2</text>
<text transform="translate(806.2 885.1)" font-size="11.3" fill="#000">0</text>
<text transform="translate(806.2 928.7)" font-size="11.3" fill="#000">−2</text>
<text transform="translate(806.2 972.3)" font-size="11.3" fill="#000">−4</text>
<text transform="translate(821 780.1)" font-size="11.2" font-weight="bold" fill="#000">TumorPurity</text>
<rect x="821" y="784.5" width="15.9" height="16.6" fill="#5c9e58"/>
<rect x="821" y="801" width="15.9" height="16.6" fill="#8cc47c"/>
<rect x="821" y="817.5" width="15.9" height="16.6" fill="#c6e4b4"/>
<rect x="821" y="834" width="15.9" height="16.6" fill="#f0f7e8"/>
<text transform="translate(840.5 796.8)" font-size="11.2" fill="#000">0.9</text>
<text transform="translate(840.5 846.8)" font-size="11.2" fill="#000">0.3</text>
<text transform="translate(821 871.8)" font-size="11.2" font-weight="bold" fill="#000">ESTIMATEScore</text>
<rect x="821" y="876.2" width="15.9" height="16.6" fill="#68a2cc"/>
<rect x="821" y="892.7" width="15.9" height="16.6" fill="#94c8c4"/>
<rect x="821" y="909.2" width="15.9" height="16.6" fill="#c4e2b8"/>
<rect x="821" y="925.7" width="15.9" height="16.6" fill="#f2f8e8"/>
<text transform="translate(840.5 888.5)" font-size="11.2" fill="#000">4000</text>
<text transform="translate(840.5 938.5)" font-size="11.2" fill="#000">−2000</text>
<text transform="translate(821 963.8)" font-size="11.2" font-weight="bold" fill="#000">ImmuneScore</text>
<rect x="821" y="968.2" width="15.9" height="16.6" fill="#7a55a2"/>
<rect x="821" y="984.7" width="15.9" height="16.6" fill="#8a92c4"/>
<rect x="821" y="1001.2" width="15.9" height="16.6" fill="#b8cce4"/>
<rect x="821" y="1017.7" width="15.9" height="16.6" fill="#eef6fb"/>
<text transform="translate(840.5 980.5)" font-size="11.2" fill="#000">3000</text>
<text transform="translate(840.5 1030.5)" font-size="11.2" fill="#000">−1000</text>
<text transform="translate(821 1055.9)" font-size="11.2" font-weight="bold" fill="#000">StromalScore</text>
<rect x="821" y="1060.3" width="15.9" height="16.6" fill="#5e9e62"/>
<rect x="821" y="1076.8" width="15.9" height="16.6" fill="#84c0a0"/>
<rect x="821" y="1093.3" width="15.9" height="16.6" fill="#b8e0dc"/>
<rect x="821" y="1109.8" width="15.9" height="16.6" fill="#eef6f8"/>
<text transform="translate(840.5 1072.6)" font-size="11.2" fill="#000">2000</text>
<text transform="translate(840.5 1122.6)" font-size="11.2" fill="#000">−2000</text>
<text transform="translate(821 1147)" font-size="11.2" font-weight="bold" fill="#000">Subtype</text>
<rect x="821" y="1151.6" width="15.9" height="16.6" fill="#0000ff"/>
<rect x="821" y="1168.2" width="15.9" height="16.6" fill="#dd0000"/>
<text transform="translate(840.5 1164)" font-size="11.2" fill="#000">Immunity_L</text>
<text transform="translate(840.5 1180.6)" font-size="11.2" fill="#000">Immunity_H</text>
<text transform="translate(2.26 782.8) scale(1 1.06)" font-size="40.5" font-weight="bold" fill="#000">B</text>
<g stroke="#000" stroke-width="1.5" fill="none">
<path d="M1004.8 826.8V1104.3H1467.5"/>
<path d="M1001.1 866.7H1004.8M1001.1 924.2H1004.8M1001.1 981.6H1004.8M1001.1 1039.1H1004.8M1001.1 1096.5H1004.8"/>
<path d="M1091.7 1104.3V1108.3M1236.5 1104.3V1108.3M1381.2 1104.3V1108.3"/>
</g>
<g fill="#000">
<text transform="translate(998 872.1)" font-size="15.3" text-anchor="end">5000</text>
<text transform="translate(998 929.6)" font-size="15.3" text-anchor="end">2500</text>
<text transform="translate(998 987)" font-size="15.3" text-anchor="end">0</text>
<text transform="translate(998 1044.5)" font-size="15.3" text-anchor="end">−2500</text>
<text transform="translate(998 1101.9)" font-size="15.3" text-anchor="end">−5000</text>
</g>
<text transform="translate(948.9 965.9) rotate(-90) scale(1 1.08)" font-size="15.55" text-anchor="middle" fill="#000">TME score</text>
<path d="M1063.2 974L1063.22 975.01L1063.26 976.02L1063.3 977.03L1063.35 978.04L1063.4 979.05L1063.46 980.06L1063.53 981.07L1063.6 982.08L1063.67 983.09L1063.74 984.1L1063.82 985.11L1063.9 986.12L1064 987.13L1064.1 988.14L1064.23 989.15L1064.37 990.16L1064.54 991.17L1064.74 992.18L1065.11 993.19L1065.6 994.2L1066.1 995.21L1066.58 996.22L1067.08 997.23L1067.63 998.24L1068.28 999.25L1069.1 1000.26L1070.01 1001.27L1070.87 1002.28L1071.58 1003.29L1072.09 1004.3L1072.5 1005.31L1072.87 1006.32L1073.24 1007.33L1073.66 1008.34L1074.09 1009.35L1074.54 1010.36L1075.08 1011.37L1075.82 1012.38L1076.97 1013.39L1078.44 1014.41L1080.07 1015.42L1081.83 1016.43L1083.99 1017.44L1086.21 1018.45L1088.08 1019.46L1089.61 1020.47L1091.1 1021.48L1092.21 1022.49L1092.6 1023.5L1092.18 1024.51L1091.25 1025.52L1090.08 1026.53L1088.9 1027.54L1087.43 1028.55L1085.71 1029.56L1083.91 1030.57L1082.2 1031.58L1080.68 1032.59L1079.19 1033.6L1077.76 1034.61L1076.39 1035.62L1075.09 1036.63L1073.88 1037.64L1072.73 1038.65L1071.63 1039.66L1070.56 1040.67L1069.51 1041.68L1068.38 1042.69L1067.25 1043.7L1066.22 1044.71L1065.39 1045.72L1064.83 1046.73L1064.37 1047.74L1063.98 1048.75L1063.67 1049.76L1063.43 1050.77L1063.24 1051.78L1063.09 1052.79L1063 1053.8L1062.4 1053.8L1062.31 1052.79L1062.16 1051.78L1061.97 1050.77L1061.73 1049.76L1061.42 1048.75L1061.03 1047.74L1060.57 1046.73L1060.01 1045.72L1059.18 1044.71L1058.15 1043.7L1057.02 1042.69L1055.89 1041.68L1054.84 1040.67L1053.77 1039.66L1052.67 1038.65L1051.52 1037.64L1050.31 1036.63L1049.01 1035.62L1047.64 1034.61L1046.21 1033.6L1044.72 1032.59L1043.2 1031.58L1041.49 1030.57L1039.69 1029.56L1037.97 1028.55L1036.5 1027.54L1035.32 1026.53L1034.15 1025.52L1033.22 1024.51L1032.8 1023.5L1033.19 1022.49L1034.3 1021.48L1035.79 1020.47L1037.32 1019.46L1039.19 1018.45L1041.41 1017.44L1043.57 1016.43L1045.33 1015.42L1046.96 1014.41L1048.43 1013.39L1049.58 1012.38L1050.32 1011.37L1050.86 1010.36L1051.31 1009.35L1051.74 1008.34L1052.16 1007.33L1052.53 1006.32L1052.9 1005.31L1053.31 1004.3L1053.82 1003.29L1054.53 1002.28L1055.39 1001.27L1056.3 1000.26L1057.12 999.25L1057.77 998.24L1058.32 997.23L1058.82 996.22L1059.3 995.21L1059.8 994.2L1060.29 993.19L1060.66 992.18L1060.86 991.17L1061.03 990.16L1061.17 989.15L1061.3 988.14L1061.4 987.13L1061.5 986.12L1061.58 985.11L1061.66 984.1L1061.73 983.09L1061.8 982.08L1061.87 981.07L1061.94 980.06L1062 979.05L1062.05 978.04L1062.1 977.03L1062.14 976.02L1062.18 975.01L1062.2 974Z" fill="#0000ff" stroke="#000" stroke-width="1.6"/>
<path d="M1062.8 994.9V1014.4M1062.8 1028.1V1039" stroke="#fff" stroke-width="1.3"/>
<rect x="1056" y="1014.4" width="13.6" height="13.7" fill="#0000ff" stroke="#fff" stroke-width="1.4"/>
<path d="M1056 1022.4H1069.6" stroke="#fff" stroke-width="2.4"/>
<circle cx="1062.8" cy="986.4" r="2.6" fill="#fff"/>
<circle cx="1062.8" cy="991.6" r="2.6" fill="#fff"/>
<path d="M1121 915.1L1121 916.87L1121.01 918.63L1121.03 920.4L1121.05 922.17L1121.08 923.94L1121.11 925.7L1121.15 927.47L1121.19 929.24L1121.24 931L1121.29 932.77L1121.36 934.54L1121.5 936.31L1121.69 938.07L1121.93 939.84L1122.21 941.61L1122.52 943.37L1122.84 945.14L1123.18 946.91L1123.62 948.67L1124.16 950.44L1124.79 952.21L1125.45 953.98L1126.13 955.74L1126.78 957.51L1127.38 959.28L1127.89 961.04L1128.36 962.81L1128.8 964.58L1129.21 966.35L1129.62 968.11L1130.01 969.88L1130.39 971.65L1130.77 973.41L1131.14 975.18L1131.55 976.95L1132.01 978.72L1132.46 980.48L1132.88 982.25L1133.21 984.02L1133.43 985.78L1133.5 987.55L1133.38 989.32L1133.12 991.08L1132.76 992.85L1132.37 994.62L1131.99 996.39L1131.67 998.15L1131.46 999.92L1131.28 1001.69L1131.12 1003.45L1130.97 1005.22L1130.83 1006.99L1130.68 1008.76L1130.5 1010.52L1130.29 1012.29L1130.04 1014.06L1129.75 1015.82L1129.4 1017.59L1129.01 1019.36L1128.59 1021.13L1128.13 1022.89L1127.64 1024.66L1127.13 1026.43L1126.57 1028.19L1125.85 1029.96L1125.05 1031.73L1124.25 1033.49L1123.55 1035.26L1123.02 1037.03L1122.57 1038.8L1122.15 1040.56L1121.79 1042.33L1121.51 1044.1L1121.32 1045.86L1121.22 1047.63L1121.13 1049.4L1121.06 1051.17L1121.02 1052.93L1121 1054.7L1120.4 1054.7L1120.38 1052.93L1120.34 1051.17L1120.27 1049.4L1120.18 1047.63L1120.08 1045.86L1119.89 1044.1L1119.61 1042.33L1119.25 1040.56L1118.83 1038.8L1118.38 1037.03L1117.85 1035.26L1117.15 1033.49L1116.35 1031.73L1115.55 1029.96L1114.83 1028.19L1114.27 1026.43L1113.76 1024.66L1113.27 1022.89L1112.81 1021.13L1112.39 1019.36L1112 1017.59L1111.65 1015.82L1111.36 1014.06L1111.11 1012.29L1110.9 1010.52L1110.72 1008.76L1110.57 1006.99L1110.43 1005.22L1110.28 1003.45L1110.12 1001.69L1109.94 999.92L1109.73 998.15L1109.41 996.39L1109.03 994.62L1108.64 992.85L1108.28 991.08L1108.02 989.32L1107.9 987.55L1107.97 985.78L1108.19 984.02L1108.52 982.25L1108.94 980.48L1109.39 978.72L1109.85 976.95L1110.26 975.18L1110.63 973.41L1111.01 971.65L1111.39 969.88L1111.78 968.11L1112.19 966.35L1112.6 964.58L1113.04 962.81L1113.51 961.04L1114.02 959.28L1114.62 957.51L1115.27 955.74L1115.95 953.98L1116.61 952.21L1117.24 950.44L1117.78 948.67L1118.22 946.91L1118.56 945.14L1118.88 943.37L1119.19 941.61L1119.47 939.84L1119.71 938.07L1119.9 936.31L1120.04 934.54L1120.11 932.77L1120.16 931L1120.21 929.24L1120.25 927.47L1120.29 925.7L1120.32 923.94L1120.35 922.17L1120.37 920.4L1120.39 918.63L1120.4 916.87L1120.4 915.1Z" fill="#dd0000" stroke="#000" stroke-width="1.6"/>
<path d="M1120.65 933.2V973.5M1120.65 1005.8V1037.6" stroke="#fff" stroke-width="1.3"/>
<rect x="1114.2" y="973.5" width="12.9" height="32.3" fill="#dd0000" stroke="#fff" stroke-width="1.4"/>
<path d="M1114.2 989.2H1127.1" stroke="#fff" stroke-width="2.4"/>
<path d="M1207.8 969.2L1207.82 969.94L1207.87 970.68L1207.96 971.42L1208.07 972.16L1208.22 972.9L1208.39 973.64L1208.59 974.37L1208.81 975.11L1209.11 975.85L1209.71 976.59L1210.56 977.33L1211.6 978.07L1212.77 978.81L1214.01 979.55L1215.25 980.29L1216.6 981.03L1218.13 981.77L1219.82 982.51L1221.64 983.25L1223.56 983.98L1225.77 984.72L1228.33 985.46L1230.99 986.2L1233.53 986.94L1235.7 987.68L1237.57 988.42L1239.51 989.16L1241.33 989.9L1242.82 990.64L1243.81 991.38L1244.05 992.12L1242.12 992.86L1238.8 993.59L1236.14 994.33L1234.76 995.07L1233.57 995.81L1232.68 996.55L1232.2 997.29L1232.02 998.03L1231.89 998.77L1231.79 999.51L1231.68 1000.25L1231.57 1000.99L1231.48 1001.73L1231.34 1002.47L1231.1 1003.21L1230.29 1003.94L1228.96 1004.68L1227.34 1005.42L1225.55 1006.16L1222.94 1006.9L1220.07 1007.64L1217.69 1008.38L1216.29 1009.12L1215.13 1009.86L1214.12 1010.6L1213.34 1011.34L1212.83 1012.08L1212.65 1012.82L1212.56 1013.55L1212.5 1014.29L1212.45 1015.03L1212.41 1015.77L1212.37 1016.51L1212.31 1017.25L1212.22 1017.99L1212.04 1018.73L1211.72 1019.47L1211.31 1020.21L1210.87 1020.95L1210.46 1021.69L1210.1 1022.43L1209.76 1023.16L1209.42 1023.9L1209.09 1024.64L1208.76 1025.38L1208.43 1026.12L1208.11 1026.86L1207.8 1027.6L1207.2 1027.6L1206.89 1026.86L1206.57 1026.12L1206.24 1025.38L1205.91 1024.64L1205.58 1023.9L1205.24 1023.16L1204.9 1022.43L1204.54 1021.69L1204.13 1020.95L1203.69 1020.21L1203.28 1019.47L1202.96 1018.73L1202.78 1017.99L1202.69 1017.25L1202.63 1016.51L1202.59 1015.77L1202.55 1015.03L1202.5 1014.29L1202.44 1013.55L1202.35 1012.82L1202.17 1012.08L1201.66 1011.34L1200.88 1010.6L1199.87 1009.86L1198.71 1009.12L1197.31 1008.38L1194.93 1007.64L1192.06 1006.9L1189.45 1006.16L1187.66 1005.42L1186.04 1004.68L1184.71 1003.94L1183.9 1003.21L1183.66 1002.47L1183.52 1001.73L1183.43 1000.99L1183.32 1000.25L1183.21 999.51L1183.11 998.77L1182.98 998.03L1182.8 997.29L1182.32 996.55L1181.43 995.81L1180.24 995.07L1178.86 994.33L1176.2 993.59L1172.88 992.86L1170.95 992.12L1171.19 991.38L1172.18 990.64L1173.67 989.9L1175.49 989.16L1177.43 988.42L1179.3 987.68L1181.47 986.94L1184.01 986.2L1186.67 985.46L1189.23 984.72L1191.44 983.98L1193.36 983.25L1195.18 982.51L1196.87 981.77L1198.4 981.03L1199.75 980.29L1200.99 979.55L1202.23 978.81L1203.4 978.07L1204.44 977.33L1205.29 976.59L1205.89 975.85L1206.19 975.11L1206.41 974.37L1206.61 973.64L1206.78 972.9L1206.93 972.16L1207.04 971.42L1207.13 970.68L1207.18 969.94L1207.2 969.2Z" fill="#0000ff" stroke="#000" stroke-width="1.6"/>
<path d="M1207.65 980.2V990.6M1207.65 1002.5V1017.7" stroke="#fff" stroke-width="1.3"/>
<rect x="1201.1" y="990.6" width="13.1" height="11.9" fill="#0000ff" stroke="#fff" stroke-width="1.4"/>
<path d="M1201.1 993.5H1214.2" stroke="#fff" stroke-width="2.4"/>
<path d="M1265.7 891.8L1265.7 893.48L1265.7 895.15L1265.71 896.83L1265.72 898.51L1265.73 900.19L1265.74 901.86L1265.75 903.54L1265.77 905.22L1265.79 906.89L1265.82 908.57L1266.02 910.25L1266.36 911.93L1266.8 913.6L1267.26 915.28L1267.68 916.96L1268.04 918.64L1268.4 920.31L1268.77 921.99L1269.14 923.67L1269.52 925.34L1269.88 927.02L1270.24 928.7L1270.58 930.38L1270.9 932.05L1271.19 933.73L1271.45 935.41L1271.67 937.08L1271.86 938.76L1272.02 940.44L1272.16 942.12L1272.29 943.79L1272.43 945.47L1272.58 947.15L1272.76 948.83L1272.97 950.5L1273.25 952.18L1273.61 953.86L1274.04 955.53L1274.51 957.21L1275.02 958.89L1275.53 960.57L1276.03 962.24L1276.51 963.92L1276.96 965.6L1277.46 967.27L1278.01 968.95L1278.54 970.63L1279.02 972.31L1279.38 973.98L1279.58 975.66L1279.57 977.34L1279.35 979.02L1278.96 980.69L1278.43 982.37L1277.8 984.05L1277.1 985.72L1276.37 987.4L1275.62 989.08L1274.62 990.76L1273.35 992.43L1271.98 994.11L1270.67 995.79L1269.57 997.46L1268.77 999.14L1268 1000.82L1267.28 1002.5L1266.67 1004.17L1266.23 1005.85L1266.01 1007.53L1265.95 1009.21L1265.89 1010.88L1265.85 1012.56L1265.81 1014.24L1265.77 1015.91L1265.75 1017.59L1265.73 1019.27L1265.71 1020.95L1265.7 1022.62L1265.7 1024.3L1265.1 1024.3L1265.1 1022.62L1265.09 1020.95L1265.07 1019.27L1265.05 1017.59L1265.03 1015.91L1264.99 1014.24L1264.95 1012.56L1264.91 1010.88L1264.85 1009.21L1264.79 1007.53L1264.57 1005.85L1264.13 1004.17L1263.52 1002.5L1262.8 1000.82L1262.03 999.14L1261.23 997.46L1260.13 995.79L1258.82 994.11L1257.45 992.43L1256.18 990.76L1255.18 989.08L1254.43 987.4L1253.7 985.72L1253 984.05L1252.37 982.37L1251.84 980.69L1251.45 979.02L1251.23 977.34L1251.22 975.66L1251.42 973.98L1251.78 972.31L1252.26 970.63L1252.79 968.95L1253.34 967.27L1253.84 965.6L1254.29 963.92L1254.77 962.24L1255.27 960.57L1255.78 958.89L1256.29 957.21L1256.76 955.53L1257.19 953.86L1257.55 952.18L1257.83 950.5L1258.04 948.83L1258.22 947.15L1258.37 945.47L1258.51 943.79L1258.64 942.12L1258.78 940.44L1258.94 938.76L1259.13 937.08L1259.35 935.41L1259.61 933.73L1259.9 932.05L1260.22 930.38L1260.56 928.7L1260.92 927.02L1261.28 925.34L1261.66 923.67L1262.03 921.99L1262.4 920.31L1262.76 918.64L1263.12 916.96L1263.54 915.28L1264 913.6L1264.44 911.93L1264.78 910.25L1264.98 908.57L1265.01 906.89L1265.03 905.22L1265.05 903.54L1265.06 901.86L1265.07 900.19L1265.08 898.51L1265.09 896.83L1265.1 895.15L1265.1 893.48L1265.1 891.8Z" fill="#dd0000" stroke="#000" stroke-width="1.6"/>
<path d="M1265.4 908.9V951.7M1265.4 981.1V1007.2" stroke="#fff" stroke-width="1.3"/>
<rect x="1259" y="951.7" width="12.8" height="29.4" fill="#dd0000" stroke="#fff" stroke-width="1.4"/>
<path d="M1259 967.8H1271.8" stroke="#fff" stroke-width="2.4"/>
<path d="M1352.7 964L1352.77 965.63L1352.84 967.25L1352.91 968.88L1352.98 970.5L1353.05 972.13L1353.11 973.75L1353.18 975.38L1353.24 977L1353.3 978.63L1353.36 980.25L1353.42 981.88L1353.47 983.5L1353.52 985.13L1353.58 986.75L1353.68 988.38L1353.82 990.01L1354.02 991.63L1354.26 993.26L1354.53 994.88L1354.84 996.51L1355.17 998.13L1355.53 999.76L1356 1001.38L1356.58 1003.01L1357.24 1004.63L1357.98 1006.26L1358.75 1007.88L1359.54 1009.51L1360.32 1011.13L1361.07 1012.76L1361.79 1014.38L1362.54 1016.01L1363.32 1017.64L1364.1 1019.26L1364.87 1020.89L1365.58 1022.51L1366.23 1024.14L1366.78 1025.76L1367.33 1027.39L1367.89 1029.01L1368.39 1030.64L1368.8 1032.26L1369.05 1033.89L1369.1 1035.51L1369.02 1037.14L1368.86 1038.76L1368.64 1040.39L1368.36 1042.02L1368.04 1043.64L1367.69 1045.27L1367.32 1046.89L1366.89 1048.52L1366.31 1050.14L1365.61 1051.77L1364.83 1053.39L1363.99 1055.02L1363.12 1056.64L1362.09 1058.27L1360.88 1059.89L1359.6 1061.52L1358.36 1063.14L1357.28 1064.77L1356.28 1066.39L1355.3 1068.02L1354.53 1069.65L1354.15 1071.27L1353.93 1072.9L1353.73 1074.52L1353.55 1076.15L1353.38 1077.77L1353.24 1079.4L1353.11 1081.02L1353 1082.65L1352.91 1084.27L1352.83 1085.9L1352.77 1087.52L1352.73 1089.15L1352.71 1090.77L1352.7 1092.4L1352.1 1092.4L1352.09 1090.77L1352.07 1089.15L1352.03 1087.52L1351.97 1085.9L1351.89 1084.27L1351.8 1082.65L1351.69 1081.02L1351.56 1079.4L1351.42 1077.77L1351.25 1076.15L1351.07 1074.52L1350.87 1072.9L1350.65 1071.27L1350.27 1069.65L1349.5 1068.02L1348.52 1066.39L1347.52 1064.77L1346.44 1063.14L1345.2 1061.52L1343.92 1059.89L1342.71 1058.27L1341.68 1056.64L1340.81 1055.02L1339.97 1053.39L1339.19 1051.77L1338.49 1050.14L1337.91 1048.52L1337.48 1046.89L1337.11 1045.27L1336.76 1043.64L1336.44 1042.02L1336.16 1040.39L1335.94 1038.76L1335.78 1037.14L1335.7 1035.51L1335.75 1033.89L1336 1032.26L1336.41 1030.64L1336.91 1029.01L1337.47 1027.39L1338.02 1025.76L1338.57 1024.14L1339.22 1022.51L1339.93 1020.89L1340.7 1019.26L1341.48 1017.64L1342.26 1016.01L1343.01 1014.38L1343.73 1012.76L1344.48 1011.13L1345.26 1009.51L1346.05 1007.88L1346.82 1006.26L1347.56 1004.63L1348.22 1003.01L1348.8 1001.38L1349.27 999.76L1349.63 998.13L1349.96 996.51L1350.27 994.88L1350.54 993.26L1350.78 991.63L1350.98 990.01L1351.12 988.38L1351.22 986.75L1351.28 985.13L1351.33 983.5L1351.38 981.88L1351.44 980.25L1351.5 978.63L1351.56 977L1351.62 975.38L1351.69 973.75L1351.75 972.13L1351.82 970.5L1351.89 968.88L1351.96 967.25L1352.03 965.63L1352.1 964Z" fill="#0000ff" stroke="#000" stroke-width="1.6"/>
<path d="M1352.1 995V1024.3M1352.1 1047.6V1072" stroke="#fff" stroke-width="1.3"/>
<rect x="1345.3" y="1024.3" width="13.6" height="23.3" fill="#0000ff" stroke="#fff" stroke-width="1.4"/>
<path d="M1345.3 1034.4H1358.9" stroke="#fff" stroke-width="2.4"/>
<circle cx="1352.1" cy="984.3" r="2.6" fill="#fff"/>
<path d="M1410.4 838.5L1410.4 841.53L1410.4 844.56L1410.41 847.59L1410.41 850.63L1410.42 853.66L1410.43 856.69L1410.44 859.72L1410.46 862.75L1410.47 865.78L1410.49 868.82L1410.5 871.85L1410.54 874.88L1410.61 877.91L1410.7 880.94L1410.82 883.97L1410.95 887.01L1411.1 890.04L1411.27 893.07L1411.44 896.1L1411.62 899.13L1411.81 902.16L1412.01 905.2L1412.25 908.23L1412.53 911.26L1412.84 914.29L1413.17 917.32L1413.51 920.35L1413.85 923.39L1414.19 926.42L1414.52 929.45L1414.9 932.48L1415.3 935.51L1415.67 938.54L1415.95 941.58L1416.11 944.61L1416.22 947.64L1416.31 950.67L1416.4 953.7L1416.47 956.73L1416.54 959.77L1416.59 962.8L1416.64 965.83L1416.67 968.86L1416.69 971.89L1416.7 974.92L1416.69 977.96L1416.67 980.99L1416.62 984.02L1416.56 987.05L1416.49 990.08L1416.4 993.11L1416.3 996.15L1416.19 999.18L1416.07 1002.21L1415.88 1005.24L1415.6 1008.27L1415.26 1011.3L1414.87 1014.34L1414.45 1017.37L1414.04 1020.4L1413.66 1023.43L1413.23 1026.46L1412.74 1029.49L1412.25 1032.53L1411.81 1035.56L1411.47 1038.59L1411.27 1041.62L1411.14 1044.65L1411.02 1047.68L1410.91 1050.72L1410.81 1053.75L1410.72 1056.78L1410.64 1059.81L1410.57 1062.84L1410.51 1065.87L1410.46 1068.91L1410.43 1071.94L1410.41 1074.97L1410.4 1078L1409.8 1078L1409.79 1074.97L1409.77 1071.94L1409.74 1068.91L1409.69 1065.87L1409.63 1062.84L1409.56 1059.81L1409.48 1056.78L1409.39 1053.75L1409.29 1050.72L1409.18 1047.68L1409.06 1044.65L1408.93 1041.62L1408.73 1038.59L1408.39 1035.56L1407.95 1032.53L1407.46 1029.49L1406.97 1026.46L1406.54 1023.43L1406.16 1020.4L1405.75 1017.37L1405.33 1014.34L1404.94 1011.3L1404.6 1008.27L1404.32 1005.24L1404.13 1002.21L1404.01 999.18L1403.9 996.15L1403.8 993.11L1403.71 990.08L1403.64 987.05L1403.58 984.02L1403.53 980.99L1403.51 977.96L1403.5 974.92L1403.51 971.89L1403.53 968.86L1403.56 965.83L1403.61 962.8L1403.66 959.77L1403.73 956.73L1403.8 953.7L1403.89 950.67L1403.98 947.64L1404.09 944.61L1404.25 941.58L1404.53 938.54L1404.9 935.51L1405.3 932.48L1405.68 929.45L1406.01 926.42L1406.35 923.39L1406.69 920.35L1407.03 917.32L1407.36 914.29L1407.67 911.26L1407.95 908.23L1408.19 905.2L1408.39 902.16L1408.58 899.13L1408.76 896.1L1408.93 893.07L1409.1 890.04L1409.25 887.01L1409.38 883.97L1409.5 880.94L1409.59 877.91L1409.66 874.88L1409.7 871.85L1409.71 868.82L1409.73 865.78L1409.74 862.75L1409.76 859.72L1409.77 856.69L1409.78 853.66L1409.79 850.63L1409.79 847.59L1409.8 844.56L1409.8 841.53L1409.8 838.5Z" fill="#dd0000" stroke="#000" stroke-width="1.6"/>
<path d="M1410.25 871.4V944.8M1410.25 1002.2V1046.4" stroke="#fff" stroke-width="1.3"/>
<rect x="1404.5" y="944.8" width="11.5" height="57.4" fill="#dd0000" stroke="#fff" stroke-width="1.4"/>
<path d="M1404.5 974.1H1416" stroke="#fff" stroke-width="2.4"/>
<text transform="translate(1091.6 869.8)" font-size="13.8" text-anchor="middle" fill="#000">***</text>
<text transform="translate(1236.3 869.8)" font-size="13.8" text-anchor="middle" fill="#000">***</text>
<text transform="translate(1381 869.8)" font-size="13.8" text-anchor="middle" fill="#000">***</text>
<text transform="translate(1099.4 1120.4) rotate(-45)" font-size="15.3" text-anchor="end" fill="#000">StromalScore</text>
<text transform="translate(1244.2 1120.4) rotate(-45)" font-size="15.3" text-anchor="end" fill="#000">ImmuneScore</text>
<text transform="translate(1388.9 1120.4) rotate(-45)" font-size="15.3" text-anchor="end" fill="#000">ESTIMATEScore</text>
<text transform="translate(1104.93 797.5)" font-size="15.3" fill="#000">Subtype</text>
<rect x="1169.6" y="781.9" width="20.4" height="20.2" fill="#0000ff" stroke="#000" stroke-width="1"/>
<path d="M1179.55 782.9V786.1M1179.55 797.5V801.1" stroke="#fff" stroke-width="1.2"/>
<rect x="1171.85" y="786.1" width="15.4" height="11.4" fill="none" stroke="#fff" stroke-width="1.3"/>
<path d="M1171.85 792H1187.25" stroke="#fff" stroke-width="1.6"/>
<text transform="translate(1197.46 797.1)" font-size="12.7" fill="#000">Immunity_L</text>
<rect x="1271.9" y="781.9" width="20.4" height="20.2" fill="#dd0000" stroke="#000" stroke-width="1"/>
<path d="M1281.85 782.9V786.1M1281.85 797.5V801.1" stroke="#fff" stroke-width="1.2"/>
<rect x="1274.15" y="786.1" width="15.4" height="11.4" fill="none" stroke="#fff" stroke-width="1.3"/>
<path d="M1274.15 792H1289.55" stroke="#fff" stroke-width="1.6"/>
<text transform="translate(1299.76 797.1)" font-size="12.7" fill="#000">Immunity_H</text>
<text transform="translate(937.06 782.6) scale(1 1.09)" font-size="39.7" font-weight="bold" fill="#000">C</text>
<g stroke="#000" stroke-width="2.5" fill="none">
<path d="M144.5 1481.5V2199.2H1460"/>
<path d="M136.5 2166.4 H144.5M136.5 2033.65 H144.5M136.5 1900.9 H144.5M136.5 1768.15 H144.5M136.5 1635.4 H144.5M136.5 1502.65 H144.5"/>
<path d="M176.3 2199.2V2207.5M230.69 2199.2V2207.5M285.08 2199.2V2207.5M339.47 2199.2V2207.5M393.86 2199.2V2207.5M448.25 2199.2V2207.5M502.64 2199.2V2207.5M557.03 2199.2V2207.5M611.42 2199.2V2207.5M665.81 2199.2V2207.5M720.2 2199.2V2207.5M774.59 2199.2V2207.5M828.98 2199.2V2207.5M883.37 2199.2V2207.5M937.76 2199.2V2207.5M992.15 2199.2V2207.5M1046.54 2199.2V2207.5M1100.93 2199.2V2207.5M1155.32 2199.2V2207.5M1209.71 2199.2V2207.5M1264.1 2199.2V2207.5M1318.49 2199.2V2207.5M1372.88 2199.2V2207.5M1427.27 2199.2V2207.5"/>
</g>
<g fill="#000">
<text transform="translate(131.7 2177.4) scale(1 1.07)" font-size="30.8" text-anchor="end">0.0</text>
<text transform="translate(131.7 2044.65) scale(1 1.07)" font-size="30.8" text-anchor="end">2.5</text>
<text transform="translate(131.7 1911.9) scale(1 1.07)" font-size="30.8" text-anchor="end">5.0</text>
<text transform="translate(131.7 1779.15) scale(1 1.07)" font-size="30.8" text-anchor="end">7.5</text>
<text transform="translate(131.7 1646.4) scale(1 1.07)" font-size="30.8" text-anchor="end">10.0</text>
<text transform="translate(131.7 1513.65) scale(1 1.07)" font-size="30.8" text-anchor="end">12.5</text>
</g>
<g stroke="#000">
<path d="M165.4 2072.94V2108.89M165.4 2143.04V2157.9" stroke-width="2.9"/>
<rect x="154.4" y="2108.89" width="22" height="34.14" fill="#0000ff" stroke-width="2.5"/>
<path d="M154.4 2129.23h22" stroke-width="4.9"/>
<circle cx="165.4" cy="1881.25" r="6" stroke="none"/>
<circle cx="165.4" cy="2034.18" r="6" stroke="none"/>
<path d="M187.2 1780.89V1934.35M187.2 2058.61V2136.66" stroke-width="2.9"/>
<rect x="176.2" y="1934.35" width="22" height="124.25" fill="#dd0000" stroke-width="2.5"/>
<path d="M176.2 2003.91h22" stroke-width="4.9"/>
<circle cx="187.2" cy="1747.44" r="6" stroke="none"/>
<path d="M219.79 1930.11V2015.6M219.79 2076.13V2124.45" stroke-width="2.9"/>
<rect x="208.79" y="2015.6" width="22" height="60.53" fill="#0000ff" stroke-width="2.5"/>
<path d="M208.79 2054.36h22" stroke-width="4.9"/>
<circle cx="219.79" cy="1853.11" r="6" stroke="none"/>
<path d="M241.59 1757V1889.75M241.59 2004.98V2101.09" stroke-width="2.9"/>
<rect x="230.59" y="1889.75" width="22" height="115.23" fill="#dd0000" stroke-width="2.5"/>
<path d="M230.59 1947.1h22" stroke-width="4.9"/>
<path d="M274.18 1675.76V1749.57M274.18 1821.78V1887.09" stroke-width="2.9"/>
<rect x="263.18" y="1749.57" width="22" height="72.22" fill="#0000ff" stroke-width="2.5"/>
<path d="M263.18 1781.96h22" stroke-width="4.9"/>
<circle cx="274.18" cy="1620" r="6" stroke="none"/>
<path d="M295.98 1514.86V1629.56M295.98 1737.35V1851.52" stroke-width="2.9"/>
<rect x="284.98" y="1629.56" width="22" height="107.79" fill="#dd0000" stroke-width="2.5"/>
<path d="M284.98 1680.54h22" stroke-width="4.9"/>
<path d="M328.57 1973.12V2074.01M328.57 2146.22V2161.62" stroke-width="2.9"/>
<rect x="317.57" y="2074.01" width="22" height="72.22" fill="#0000ff" stroke-width="2.5"/>
<path d="M317.57 2130.82h22" stroke-width="4.9"/>
<circle cx="328.57" cy="1866.92" r="6" stroke="none"/>
<path d="M350.37 1840.9V1989.58M350.37 2091V2158.43" stroke-width="2.9"/>
<rect x="339.37" y="1989.58" width="22" height="101.42" fill="#dd0000" stroke-width="2.5"/>
<path d="M339.37 2043.74h22" stroke-width="4.9"/>
<circle cx="350.37" cy="1784.08" r="6" stroke="none"/>
<circle cx="350.37" cy="1814.88" r="6" stroke="none"/>
<circle cx="350.37" cy="1826.56" r="6" stroke="none"/>
<circle cx="350.37" cy="1838.24" r="6" stroke="none"/>
<path d="M382.96 1697V1755.41M382.96 1830.81V1894.53" stroke-width="2.9"/>
<rect x="371.96" y="1755.41" width="22" height="75.4" fill="#0000ff" stroke-width="2.5"/>
<path d="M371.96 1792.58h22" stroke-width="4.9"/>
<circle cx="382.96" cy="1626.9" r="6" stroke="none"/>
<circle cx="382.96" cy="1948.69" r="6" stroke="none"/>
<circle cx="382.96" cy="1976.83" r="6" stroke="none"/>
<path d="M404.76 1547.79V1652.92M404.76 1749.57V1891.34" stroke-width="2.9"/>
<rect x="393.76" y="1652.92" width="22" height="96.64" fill="#dd0000" stroke-width="2.5"/>
<path d="M393.76 1701.24h22" stroke-width="4.9"/>
<path d="M437.35 1973.65V2053.83M437.35 2118.08V2151" stroke-width="2.9"/>
<rect x="426.35" y="2053.83" width="22" height="64.25" fill="#0000ff" stroke-width="2.5"/>
<path d="M426.35 2088.87h22" stroke-width="4.9"/>
<circle cx="437.35" cy="1830.81" r="6" stroke="none"/>
<circle cx="437.35" cy="1937.01" r="6" stroke="none"/>
<circle cx="437.35" cy="1948.69" r="6" stroke="none"/>
<path d="M459.15 1769.21V1911.52M459.15 2029.4V2163.21" stroke-width="2.9"/>
<rect x="448.15" y="1911.52" width="22" height="117.88" fill="#dd0000" stroke-width="2.5"/>
<path d="M448.15 1972.05h22" stroke-width="4.9"/>
<path d="M491.74 2075.07V2105.87M491.74 2138.26V2163.21" stroke-width="2.9"/>
<rect x="480.74" y="2105.87" width="22" height="32.39" fill="#0000ff" stroke-width="2.5"/>
<path d="M480.74 2122.86h22" stroke-width="4.9"/>
<circle cx="491.74" cy="2015.6" r="6" stroke="none"/>
<circle cx="491.74" cy="2036.84" r="6" stroke="none"/>
<path d="M513.54 1948.69V2052.77M513.54 2121.8V2160.03" stroke-width="2.9"/>
<rect x="502.54" y="2052.77" width="22" height="69.03" fill="#dd0000" stroke-width="2.5"/>
<path d="M502.54 2091.53h22" stroke-width="4.9"/>
<circle cx="513.54" cy="1881.25" r="6" stroke="none"/>
<circle cx="513.54" cy="1905.15" r="6" stroke="none"/>
<circle cx="513.54" cy="1922.14" r="6" stroke="none"/>
<circle cx="513.54" cy="1930.11" r="6" stroke="none"/>
<circle cx="513.54" cy="1938.07" r="6" stroke="none"/>
<circle cx="513.54" cy="1945.5" r="6" stroke="none"/>
<circle cx="513.54" cy="1948.69" r="6" stroke="none"/>
<path d="M546.13 1730.98V1854.17M546.13 1956.12V2077.72" stroke-width="2.9"/>
<rect x="535.13" y="1854.17" width="22" height="101.95" fill="#0000ff" stroke-width="2.5"/>
<path d="M535.13 1916.3h22" stroke-width="4.9"/>
<circle cx="546.13" cy="1647.08" r="6" stroke="none"/>
<path d="M567.93 1532.92V1670.45M567.93 1801.07V1946.04" stroke-width="2.9"/>
<rect x="556.93" y="1670.45" width="22" height="130.63" fill="#dd0000" stroke-width="2.5"/>
<path d="M556.93 1733.1h22" stroke-width="4.9"/>
<path d="M600.52 2097.9V2136.13M600.52 2163.21V2164.81" stroke-width="2.9"/>
<rect x="589.52" y="2136.13" width="22" height="27.08" fill="#0000ff" stroke-width="2.5"/>
<path d="M589.52 2151.53h22" stroke-width="4.9"/>
<circle cx="600.52" cy="2065.51" r="6" stroke="none"/>
<circle cx="600.52" cy="2079.32" r="6" stroke="none"/>
<circle cx="600.52" cy="2087.28" r="6" stroke="none"/>
<circle cx="600.52" cy="2093.12" r="6" stroke="none"/>
<path d="M622.32 2052.24V2110.64M622.32 2155.78V2164.81" stroke-width="2.9"/>
<rect x="611.32" y="2110.64" width="22" height="45.14" fill="#dd0000" stroke-width="2.5"/>
<path d="M611.32 2138.26h22" stroke-width="4.9"/>
<circle cx="622.32" cy="1989.58" r="6" stroke="none"/>
<circle cx="622.32" cy="2003.38" r="6" stroke="none"/>
<circle cx="622.32" cy="2012.41" r="6" stroke="none"/>
<circle cx="622.32" cy="2020.38" r="6" stroke="none"/>
<circle cx="622.32" cy="2028.34" r="6" stroke="none"/>
<circle cx="622.32" cy="2036.31" r="6" stroke="none"/>
<circle cx="622.32" cy="2044.27" r="6" stroke="none"/>
<path d="M654.91 2074.54V2118.08M654.91 2151V2164.28" stroke-width="2.9"/>
<rect x="643.91" y="2118.08" width="22" height="32.92" fill="#0000ff" stroke-width="2.5"/>
<path d="M643.91 2136.13h22" stroke-width="4.9"/>
<circle cx="654.91" cy="1973.12" r="6" stroke="none"/>
<circle cx="654.91" cy="2027.81" r="6" stroke="none"/>
<circle cx="654.91" cy="2052.77" r="6" stroke="none"/>
<path d="M676.71 1857.89V1982.14M676.71 2085.69V2164.81" stroke-width="2.9"/>
<rect x="665.71" y="1982.14" width="22" height="103.55" fill="#dd0000" stroke-width="2.5"/>
<path d="M665.71 2045.33h22" stroke-width="4.9"/>
<circle cx="676.71" cy="1805.85" r="6" stroke="none"/>
<path d="M709.3 1854.7V1977.36M709.3 2062.32V2130.82" stroke-width="2.9"/>
<rect x="698.3" y="1977.36" width="22" height="84.96" fill="#0000ff" stroke-width="2.5"/>
<path d="M698.3 2016.13h22" stroke-width="4.9"/>
<circle cx="709.3" cy="1714.52" r="6" stroke="none"/>
<path d="M731.1 1641.77V1798.95M731.1 1926.92V2105.87" stroke-width="2.9"/>
<rect x="720.1" y="1798.95" width="22" height="127.97" fill="#dd0000" stroke-width="2.5"/>
<path d="M720.1 1866.38h22" stroke-width="4.9"/>
<path d="M763.69 1772.93V1894.53M763.69 1978.43V2093.12" stroke-width="2.9"/>
<rect x="752.69" y="1894.53" width="22" height="83.9" fill="#0000ff" stroke-width="2.5"/>
<path d="M752.69 1935.42h22" stroke-width="4.9"/>
<circle cx="763.69" cy="1675.23" r="6" stroke="none"/>
<circle cx="763.69" cy="1693.81" r="6" stroke="none"/>
<circle cx="763.69" cy="1758.59" r="6" stroke="none"/>
<path d="M785.49 1550.97V1700.71M785.49 1831.34V1982.14" stroke-width="2.9"/>
<rect x="774.49" y="1700.71" width="22" height="130.63" fill="#dd0000" stroke-width="2.5"/>
<path d="M774.49 1770.27h22" stroke-width="4.9"/>
<path d="M818.08 1898.25V1987.45M818.08 2053.3V2109.05" stroke-width="2.9"/>
<rect x="807.08" y="1987.45" width="22" height="65.84" fill="#0000ff" stroke-width="2.5"/>
<path d="M807.08 2029.4h22" stroke-width="4.9"/>
<circle cx="818.08" cy="1780.36" r="6" stroke="none"/>
<path d="M839.88 1672.04V1813.29M839.88 1929.04V2042.15" stroke-width="2.9"/>
<rect x="828.88" y="1813.29" width="22" height="115.76" fill="#dd0000" stroke-width="2.5"/>
<path d="M828.88 1873.29h22" stroke-width="4.9"/>
<path d="M872.47 2105.87V2138.26M872.47 2158.43V2164.81" stroke-width="2.9"/>
<rect x="861.47" y="2138.26" width="22" height="20.18" fill="#0000ff" stroke-width="2.5"/>
<path d="M861.47 2152.59h22" stroke-width="4.9"/>
<circle cx="872.47" cy="2057.55" r="6" stroke="none"/>
<circle cx="872.47" cy="2072.41" r="6" stroke="none"/>
<circle cx="872.47" cy="2077.72" r="6" stroke="none"/>
<circle cx="872.47" cy="2094.72" r="6" stroke="none"/>
<circle cx="872.47" cy="2100.03" r="6" stroke="none"/>
<path d="M894.27 1989.05V2072.94M894.27 2126.04V2163.21" stroke-width="2.9"/>
<rect x="883.27" y="2072.94" width="22" height="53.1" fill="#dd0000" stroke-width="2.5"/>
<path d="M883.27 2098.96h22" stroke-width="4.9"/>
<circle cx="894.27" cy="1834.53" r="6" stroke="none"/>
<circle cx="894.27" cy="1883.38" r="6" stroke="none"/>
<circle cx="894.27" cy="1897.71" r="6" stroke="none"/>
<circle cx="894.27" cy="1933.29" r="6" stroke="none"/>
<circle cx="894.27" cy="1950.28" r="6" stroke="none"/>
<circle cx="894.27" cy="1965.68" r="6" stroke="none"/>
<circle cx="894.27" cy="1972.05" r="6" stroke="none"/>
<circle cx="894.27" cy="1976.83" r="6" stroke="none"/>
<path d="M926.86 1847.8V1929.57M926.86 1990.11V2060.73" stroke-width="2.9"/>
<rect x="915.86" y="1929.57" width="22" height="60.53" fill="#0000ff" stroke-width="2.5"/>
<path d="M915.86 1964.09h22" stroke-width="4.9"/>
<circle cx="926.86" cy="1826.03" r="6" stroke="none"/>
<path d="M948.66 1727.79V1850.46M948.66 1947.1V2060.73" stroke-width="2.9"/>
<rect x="937.66" y="1850.46" width="22" height="96.64" fill="#dd0000" stroke-width="2.5"/>
<path d="M937.66 1903.56h22" stroke-width="4.9"/>
<circle cx="948.66" cy="2088.87" r="6" stroke="none"/>
<path d="M981.25 2074.01V2113.3M981.25 2141.44V2157.9" stroke-width="2.9"/>
<rect x="970.25" y="2113.3" width="22" height="28.14" fill="#0000ff" stroke-width="2.5"/>
<path d="M970.25 2124.98h22" stroke-width="4.9"/>
<circle cx="981.25" cy="2055.95" r="6" stroke="none"/>
<circle cx="981.25" cy="2067.1" r="6" stroke="none"/>
<path d="M1003.05 1985.86V2074.54M1003.05 2123.92V2161.62" stroke-width="2.9"/>
<rect x="992.05" y="2074.54" width="22" height="49.38" fill="#dd0000" stroke-width="2.5"/>
<path d="M992.05 2105.87h22" stroke-width="4.9"/>
<circle cx="1003.05" cy="1967.28" r="6" stroke="none"/>
<circle cx="1003.05" cy="1976.83" r="6" stroke="none"/>
<circle cx="1003.05" cy="1985.86" r="6" stroke="none"/>
<path d="M1035.64 1661.95V1723.02M1035.64 1799.48V1883.38" stroke-width="2.9"/>
<rect x="1024.64" y="1723.02" width="22" height="76.46" fill="#0000ff" stroke-width="2.5"/>
<path d="M1024.64 1747.44h22" stroke-width="4.9"/>
<path d="M1057.44 1549.38V1659.83M1057.44 1739.48V1844.08" stroke-width="2.9"/>
<rect x="1046.44" y="1659.83" width="22" height="79.65" fill="#dd0000" stroke-width="2.5"/>
<path d="M1046.44 1698.06h22" stroke-width="4.9"/>
<path d="M1090.03 1948.16V2035.24M1090.03 2097.9V2152.59" stroke-width="2.9"/>
<rect x="1079.03" y="2035.24" width="22" height="62.66" fill="#0000ff" stroke-width="2.5"/>
<path d="M1079.03 2077.72h22" stroke-width="4.9"/>
<circle cx="1090.03" cy="1780.36" r="6" stroke="none"/>
<circle cx="1090.03" cy="1912.58" r="6" stroke="none"/>
<path d="M1111.83 1700.71V1861.08M1111.83 1989.05V2113.3" stroke-width="2.9"/>
<rect x="1100.83" y="1861.08" width="22" height="127.97" fill="#dd0000" stroke-width="2.5"/>
<path d="M1100.83 1926.92h22" stroke-width="4.9"/>
<path d="M1144.42 2008.69V2077.72M1144.42 2121.26V2163.21" stroke-width="2.9"/>
<rect x="1133.42" y="2077.72" width="22" height="43.54" fill="#0000ff" stroke-width="2.5"/>
<path d="M1133.42 2097.9h22" stroke-width="4.9"/>
<circle cx="1144.42" cy="1870.63" r="6" stroke="none"/>
<circle cx="1144.42" cy="1963.56" r="6" stroke="none"/>
<circle cx="1144.42" cy="2008.69" r="6" stroke="none"/>
<path d="M1166.22 1928.51V2033.65M1166.22 2105.87V2164.81" stroke-width="2.9"/>
<rect x="1155.22" y="2033.65" width="22" height="72.22" fill="#dd0000" stroke-width="2.5"/>
<path d="M1155.22 2069.23h22" stroke-width="4.9"/>
<circle cx="1166.22" cy="1815.94" r="6" stroke="none"/>
<circle cx="1166.22" cy="1826.03" r="6" stroke="none"/>
<circle cx="1166.22" cy="1884.97" r="6" stroke="none"/>
<circle cx="1166.22" cy="1903.56" r="6" stroke="none"/>
<circle cx="1166.22" cy="1911.52" r="6" stroke="none"/>
<circle cx="1166.22" cy="1919.49" r="6" stroke="none"/>
<path d="M1198.81 1898.25V1963.03M1198.81 2037.37V2118.08" stroke-width="2.9"/>
<rect x="1187.81" y="1963.03" width="22" height="74.34" fill="#0000ff" stroke-width="2.5"/>
<path d="M1187.81 1992.23h22" stroke-width="4.9"/>
<circle cx="1198.81" cy="1814.88" r="6" stroke="none"/>
<path d="M1220.61 1745.32V1875.94M1220.61 1975.24V2074.54" stroke-width="2.9"/>
<rect x="1209.61" y="1875.94" width="22" height="99.3" fill="#dd0000" stroke-width="2.5"/>
<path d="M1209.61 1927.98h22" stroke-width="4.9"/>
<path d="M1253.2 1985.86V2053.83M1253.2 2114.36V2154.19" stroke-width="2.9"/>
<rect x="1242.2" y="2053.83" width="22" height="60.53" fill="#0000ff" stroke-width="2.5"/>
<path d="M1242.2 2095.78h22" stroke-width="4.9"/>
<circle cx="1253.2" cy="1931.7" r="6" stroke="none"/>
<path d="M1275 1714.52V1888.16M1275 2016.13V2120.73" stroke-width="2.9"/>
<rect x="1264" y="1888.16" width="22" height="127.97" fill="#dd0000" stroke-width="2.5"/>
<path d="M1264 1956.12h22" stroke-width="4.9"/>
<path d="M1307.59 2005.51V2087.28M1307.59 2145.16V2164.81" stroke-width="2.9"/>
<rect x="1296.59" y="2087.28" width="22" height="57.88" fill="#0000ff" stroke-width="2.5"/>
<path d="M1296.59 2126.58h22" stroke-width="4.9"/>
<circle cx="1307.59" cy="1761.78" r="6" stroke="none"/>
<path d="M1329.39 1755.41V1951.88M1329.39 2086.75V2164.81" stroke-width="2.9"/>
<rect x="1318.39" y="1951.88" width="22" height="134.87" fill="#dd0000" stroke-width="2.5"/>
<path d="M1318.39 2017.72h22" stroke-width="4.9"/>
<circle cx="1329.39" cy="1748.5" r="6" stroke="none"/>
<path d="M1361.98 1742.13V1773.99M1361.98 1816.47V1877.54" stroke-width="2.9"/>
<rect x="1350.98" y="1773.99" width="22" height="42.48" fill="#0000ff" stroke-width="2.5"/>
<path d="M1350.98 1790.98h22" stroke-width="4.9"/>
<circle cx="1361.98" cy="1705.49" r="6" stroke="none"/>
<path d="M1383.78 1641.77V1711.86M1383.78 1772.93V1838.77" stroke-width="2.9"/>
<rect x="1372.78" y="1711.86" width="22" height="61.07" fill="#dd0000" stroke-width="2.5"/>
<path d="M1372.78 1745.85h22" stroke-width="4.9"/>
<path d="M1416.37 2061.26V2100.56M1416.37 2139.85V2157.9" stroke-width="2.9"/>
<rect x="1405.37" y="2100.56" width="22" height="39.29" fill="#0000ff" stroke-width="2.5"/>
<path d="M1405.37 2121.26h22" stroke-width="4.9"/>
<circle cx="1416.37" cy="1922.14" r="6" stroke="none"/>
<circle cx="1416.37" cy="1936.48" r="6" stroke="none"/>
<circle cx="1416.37" cy="2034.18" r="6" stroke="none"/>
<circle cx="1416.37" cy="2037.9" r="6" stroke="none"/>
<path d="M1438.17 1834.53V1976.3M1438.17 2078.25V2146.22" stroke-width="2.9"/>
<rect x="1427.17" y="1976.3" width="22" height="101.95" fill="#dd0000" stroke-width="2.5"/>
<path d="M1427.17 2030.46h22" stroke-width="4.9"/>
</g>
<g fill="#000">
<text transform="translate(176.3 1511.5)" font-size="26.5" text-anchor="middle">***</text>
<text transform="translate(230.69 1511.5)" font-size="26.5" text-anchor="middle">***</text>
<text transform="translate(285.08 1511.5)" font-size="26.5" text-anchor="middle">***</text>
<text transform="translate(339.47 1511.5)" font-size="26.5" text-anchor="middle">***</text>
<text transform="translate(393.86 1511.5)" font-size="26.5" text-anchor="middle">***</text>
<text transform="translate(448.25 1511.5)" font-size="26.5" text-anchor="middle">***</text>
<text transform="translate(502.64 1511.5)" font-size="26.5" text-anchor="middle">***</text>
<text transform="translate(557.03 1511.5)" font-size="26.5" text-anchor="middle">***</text>
<text transform="translate(611.42 1511.5)" font-size="26.5" text-anchor="middle">***</text>
<text transform="translate(665.81 1511.5)" font-size="26.5" text-anchor="middle">***</text>
<text transform="translate(720.2 1511.5)" font-size="26.5" text-anchor="middle">***</text>
<text transform="translate(774.59 1511.5)" font-size="26.5" text-anchor="middle">***</text>
<text transform="translate(828.98 1511.5)" font-size="26.5" text-anchor="middle">***</text>
<text transform="translate(883.37 1511.5)" font-size="26.5" text-anchor="middle">***</text>
<text transform="translate(937.76 1511.5)" font-size="26.5" text-anchor="middle">***</text>
<text transform="translate(992.15 1511.5)" font-size="26.5" text-anchor="middle">***</text>
<text transform="translate(1046.54 1511.5)" font-size="26.5" text-anchor="middle">***</text>
<text transform="translate(1100.93 1511.5)" font-size="26.5" text-anchor="middle">***</text>
<text transform="translate(1155.32 1511.5)" font-size="26.5" text-anchor="middle">***</text>
<text transform="translate(1209.71 1511.5)" font-size="26.5" text-anchor="middle">***</text>
<text transform="translate(1264.1 1511.5)" font-size="26.5" text-anchor="middle">***</text>
<text transform="translate(1318.49 1511.5)" font-size="26.5" text-anchor="middle">***</text>
<text transform="translate(1372.88 1511.5)" font-size="26.5" text-anchor="middle">***</text>
<text transform="translate(1427.27 1511.5)" font-size="26.5" text-anchor="middle">***</text>
</g>
<g fill="#000">
<text transform="translate(189.6 2232.7) rotate(-45) scale(1 1.07)" font-size="29.8" text-anchor="end">HLA−DQA1</text>
<text transform="translate(243.99 2232.7) rotate(-45) scale(1 1.07)" font-size="29.8" text-anchor="end">HLA−F</text>
<text transform="translate(298.38 2232.7) rotate(-45) scale(1 1.07)" font-size="29.8" text-anchor="end">HLA−B</text>
<text transform="translate(352.77 2232.7) rotate(-45) scale(1 1.07)" font-size="29.8" text-anchor="end">HLA−DOA</text>
<text transform="translate(407.16 2232.7) rotate(-45) scale(1 1.07)" font-size="29.8" text-anchor="end">HLA−A</text>
<text transform="translate(461.55 2232.7) rotate(-45) scale(1 1.07)" font-size="29.8" text-anchor="end">HLA−DRB6</text>
<text transform="translate(515.94 2232.7) rotate(-45) scale(1 1.07)" font-size="29.8" text-anchor="end">HLA−J</text>
<text transform="translate(570.33 2232.7) rotate(-45) scale(1 1.07)" font-size="29.8" text-anchor="end">HLA−DRA</text>
<text transform="translate(624.72 2232.7) rotate(-45) scale(1 1.07)" font-size="29.8" text-anchor="end">HLA−DPB2</text>
<text transform="translate(679.11 2232.7) rotate(-45) scale(1 1.07)" font-size="29.8" text-anchor="end">HLA−DQB2</text>
<text transform="translate(733.5 2232.7) rotate(-45) scale(1 1.07)" font-size="29.8" text-anchor="end">HLA−DRB5</text>
<text transform="translate(787.89 2232.7) rotate(-45) scale(1 1.07)" font-size="29.8" text-anchor="end">HLA−DRB1</text>
<text transform="translate(842.28 2232.7) rotate(-45) scale(1 1.07)" font-size="29.8" text-anchor="end">HLA−DPB1</text>
<text transform="translate(896.67 2232.7) rotate(-45) scale(1 1.07)" font-size="29.8" text-anchor="end">HLA−DOB</text>
<text transform="translate(951.06 2232.7) rotate(-45) scale(1 1.07)" font-size="29.8" text-anchor="end">HLA−H</text>
<text transform="translate(1005.45 2232.7) rotate(-45) scale(1 1.07)" font-size="29.8" text-anchor="end">HLA−L</text>
<text transform="translate(1059.84 2232.7) rotate(-45) scale(1 1.07)" font-size="29.8" text-anchor="end">HLA−C</text>
<text transform="translate(1114.23 2232.7) rotate(-45) scale(1 1.07)" font-size="29.8" text-anchor="end">HLA−DPA1</text>
<text transform="translate(1168.62 2232.7) rotate(-45) scale(1 1.07)" font-size="29.8" text-anchor="end">HLA−G</text>
<text transform="translate(1223.01 2232.7) rotate(-45) scale(1 1.07)" font-size="29.8" text-anchor="end">HLA−DMA</text>
<text transform="translate(1277.4 2232.7) rotate(-45) scale(1 1.07)" font-size="29.8" text-anchor="end">HLA−DQB1</text>
<text transform="translate(1331.79 2232.7) rotate(-45) scale(1 1.07)" font-size="29.8" text-anchor="end">HLA−DQA2</text>
<text transform="translate(1386.18 2232.7) rotate(-45) scale(1 1.07)" font-size="29.8" text-anchor="end">HLA−E</text>
<text transform="translate(1440.57 2232.7) rotate(-45) scale(1 1.07)" font-size="29.8" text-anchor="end">HLA−DMB</text>
</g>
<text transform="translate(57.8 1840.5) rotate(-90) scale(1 1.07)" font-size="30.8" text-anchor="middle">Gene expression</text>
<text transform="translate(540.38 1424.6) scale(1 1.1)" font-size="30.4">Subtype</text>
<g stroke="#000" stroke-width="2.5"><path d="M688.25 1394.5V1431.5"/><rect x="671" y="1401.2" width="34.5" height="23.6" fill="#0000ff"/><path d="M671 1413h34.5" stroke-width="3"/></g>
<text transform="translate(724.71 1424.6) scale(1 1.1)" font-size="25.4">Immunity_L</text>
<g stroke="#000" stroke-width="2.5"><path d="M892.85 1394.5V1431.5"/><rect x="875.6" y="1401.2" width="34.5" height="23.6" fill="#dd0000"/><path d="M875.6 1413h34.5" stroke-width="3"/></g>
<text transform="translate(929.31 1424.6) scale(1 1.1)" font-size="25.4">Immunity_H</text>
<text transform="translate(33.88 1430.3) scale(1 1.07)" font-size="40.3" font-weight="bold">D</text></g>
</svg></body></html>
